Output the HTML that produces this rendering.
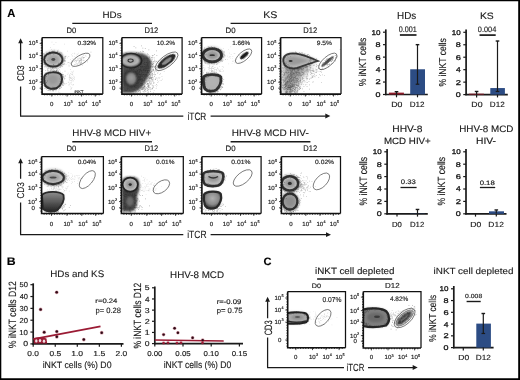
<!DOCTYPE html>
<html><head><meta charset="utf-8"><style>
html,body{margin:0;padding:0;background:#fff;width:520px;height:380px;overflow:hidden;}
svg{display:block;font-family:"Liberation Sans", sans-serif;filter:blur(0.3px);text-rendering:geometricPrecision;}
</style></head><body>
<svg width="520" height="380" viewBox="0 0 520 380">
<rect width="520" height="380" fill="#fff"/>
<defs><filter id="b05" x="-30%" y="-30%" width="160%" height="160%"><feGaussianBlur stdDeviation="0.5"/></filter><filter id="b06" x="-30%" y="-30%" width="160%" height="160%"><feGaussianBlur stdDeviation="0.8"/></filter><filter id="b10" x="-30%" y="-30%" width="160%" height="160%"><feGaussianBlur stdDeviation="1.1"/></filter><filter id="b15" x="-50%" y="-50%" width="200%" height="200%"><feGaussianBlur stdDeviation="1.5"/></filter><filter id="b3" x="-50%" y="-50%" width="200%" height="200%"><feGaussianBlur stdDeviation="3"/></filter><linearGradient id="gcup" x1="0" y1="0" x2="0" y2="1"><stop offset="0" stop-color="#8e8e8e"/><stop offset="0.5" stop-color="#5a5a5a"/><stop offset="1" stop-color="#222"/></linearGradient><radialGradient id="gsoft2" cx="50%" cy="40%" r="60%"><stop offset="0" stop-color="#b0b0b0"/><stop offset="0.6" stop-color="#8a8a8a"/><stop offset="1" stop-color="#333"/></radialGradient><radialGradient id="gsoft" cx="50%" cy="45%" r="55%"><stop offset="0" stop-color="#8a8a8a"/><stop offset="0.7" stop-color="#555"/><stop offset="1" stop-color="#2a2a2a"/></radialGradient></defs>
<path d="M0 0H520V380H0Z M1.3 1.3V378.3H518.2V1.3Z" fill="#000" fill-rule="evenodd"/>
<text transform="matrix(0.9655,0,0,1,7.27,16.85)" font-size="11.594" font-weight="bold" fill="#000" stroke="#000" stroke-width="0.12">A</text>
<text transform="matrix(1.1163,0,0,1,6.75,265.05)" font-size="11.014" font-weight="bold" fill="#000" stroke="#000" stroke-width="0.12">B</text>
<text transform="matrix(1.0412,0,0,1,263.40,264.94)" font-size="10.704" font-weight="bold" fill="#000" stroke="#000" stroke-width="0.12">C</text>
<line x1="72.30" y1="23.40" x2="152.00" y2="23.40" stroke="#1a1a1a" stroke-width="1.4"/>
<line x1="230.60" y1="23.40" x2="310.40" y2="23.40" stroke="#1a1a1a" stroke-width="1.4"/>
<text transform="matrix(0.9770,0,0,1,66.53,32.57)" font-size="7.887" fill="#1a1a1a" stroke="#1a1a1a" stroke-width="0.15">D0</text>
<text transform="matrix(0.9292,0,0,1,144.44,32.85)" font-size="8.143" fill="#1a1a1a" stroke="#1a1a1a" stroke-width="0.15">D12</text>
<text transform="matrix(0.9989,0,0,1,225.52,32.57)" font-size="7.887" fill="#1a1a1a" stroke="#1a1a1a" stroke-width="0.15">D0</text>
<text transform="matrix(0.9292,0,0,1,303.34,32.85)" font-size="8.143" fill="#1a1a1a" stroke="#1a1a1a" stroke-width="0.15">D12</text>
<line x1="72.30" y1="141.70" x2="152.00" y2="141.70" stroke="#1a1a1a" stroke-width="1.4"/>
<line x1="230.60" y1="141.70" x2="310.40" y2="141.70" stroke="#1a1a1a" stroke-width="1.4"/>
<text transform="matrix(0.9770,0,0,1,66.53,150.87)" font-size="7.887" fill="#1a1a1a" stroke="#1a1a1a" stroke-width="0.15">D0</text>
<text transform="matrix(0.9292,0,0,1,144.44,151.15)" font-size="8.143" fill="#1a1a1a" stroke="#1a1a1a" stroke-width="0.15">D12</text>
<text transform="matrix(0.9989,0,0,1,225.52,150.87)" font-size="7.887" fill="#1a1a1a" stroke="#1a1a1a" stroke-width="0.15">D0</text>
<text transform="matrix(0.9292,0,0,1,303.34,151.15)" font-size="8.143" fill="#1a1a1a" stroke="#1a1a1a" stroke-width="0.15">D12</text>
<text transform="matrix(1.0593,0,0,1,102.46,17.66)" font-size="9.286" fill="#1a1a1a" stroke="#1a1a1a" stroke-width="0.12">HDs</text>
<text transform="matrix(1.1091,0,0,1,263.30,17.75)" font-size="9.577" fill="#1a1a1a" stroke="#1a1a1a" stroke-width="0.12">KS</text>
<text transform="matrix(1.0409,0,0,1,72.36,135.86)" font-size="9.437" fill="#1a1a1a" stroke="#1a1a1a" stroke-width="0.12">HHV-8 MCD HIV+</text>
<text transform="matrix(1.0583,0,0,1,231.75,135.86)" font-size="9.437" fill="#1a1a1a" stroke="#1a1a1a" stroke-width="0.12">HHV-8 MCD HIV-</text>
<path d="M20.6 42.7 V59.8 M20.6 86.6 V116.0 H183.3 M210.6 116.0 H325.8" stroke="#1a1a1a" stroke-width="1.25" fill="none"/>
<path d="M20.6 38.2 l-2.4 5 h4.8 z" fill="#1a1a1a"/>
<path d="M330.3 116.0 l-5 -2.4 v4.8 z" fill="#1a1a1a"/>
<text transform="translate(24.05,81.04) rotate(-90) scale(0.7987,1)" font-size="9.859" fill="#1a1a1a" stroke="#1a1a1a" stroke-width="0.12">CD3</text>
<text transform="matrix(0.7791,0,0,1,187.51,119.54)" font-size="10.612" fill="#1a1a1a" stroke="#1a1a1a" stroke-width="0.12">iTCR</text>
<path d="M20.6 162.8 V178.8 M20.6 202.4 V234.7 H183.3 M210.6 234.7 H326.5" stroke="#1a1a1a" stroke-width="1.25" fill="none"/>
<path d="M20.6 158.3 l-2.4 5 h4.8 z" fill="#1a1a1a"/>
<path d="M331.0 234.7 l-5 -2.4 v4.8 z" fill="#1a1a1a"/>
<text transform="translate(24.05,198.56) rotate(-90) scale(0.8306,1)" font-size="9.859" fill="#1a1a1a" stroke="#1a1a1a" stroke-width="0.12">CD3</text>
<text transform="matrix(0.8113,0,0,1,187.20,238.35)" font-size="10.476" fill="#1a1a1a" stroke="#1a1a1a" stroke-width="0.12">iTCR</text>
<clipPath id="c31"><rect x="42.1" y="37.6" width="60.699999999999996" height="56.49999999999999"/></clipPath>
<g clip-path="url(#c31)">
<path d="M53.2 88.3h0.7v0.7h-0.7zM61.6 65.9h0.7v0.7h-0.7zM50.9 65.7h0.7v0.7h-0.7zM57.0 71.3h0.7v0.7h-0.7zM58.2 49.8h0.7v0.7h-0.7zM64.0 70.8h0.7v0.7h-0.7zM57.8 70.4h0.7v0.7h-0.7zM50.3 77.6h0.7v0.7h-0.7zM58.8 69.6h0.7v0.7h-0.7zM51.9 80.2h0.7v0.7h-0.7zM46.9 53.8h0.7v0.7h-0.7zM55.8 64.0h0.7v0.7h-0.7zM39.6 62.2h0.7v0.7h-0.7zM49.7 57.7h0.7v0.7h-0.7zM42.6 72.4h0.7v0.7h-0.7zM59.3 69.2h0.7v0.7h-0.7zM47.8 76.6h0.7v0.7h-0.7zM58.0 68.4h0.7v0.7h-0.7zM56.8 84.5h0.7v0.7h-0.7zM51.6 62.2h0.7v0.7h-0.7zM55.4 75.0h0.7v0.7h-0.7zM60.7 56.6h0.7v0.7h-0.7zM48.4 61.9h0.7v0.7h-0.7zM40.9 73.5h0.7v0.7h-0.7zM56.7 63.1h0.7v0.7h-0.7zM62.7 81.9h0.7v0.7h-0.7zM57.4 76.8h0.7v0.7h-0.7zM59.7 56.0h0.7v0.7h-0.7zM57.3 79.2h0.7v0.7h-0.7zM40.6 76.2h0.7v0.7h-0.7zM51.2 81.4h0.7v0.7h-0.7zM49.9 71.8h0.7v0.7h-0.7zM55.4 61.5h0.7v0.7h-0.7zM57.2 70.7h0.7v0.7h-0.7zM56.4 65.7h0.7v0.7h-0.7zM60.6 79.3h0.7v0.7h-0.7zM51.8 79.6h0.7v0.7h-0.7zM61.8 93.5h0.7v0.7h-0.7zM42.0 82.6h0.7v0.7h-0.7zM56.3 70.9h0.7v0.7h-0.7zM46.0 87.1h0.7v0.7h-0.7zM44.2 78.8h0.7v0.7h-0.7zM62.1 52.8h0.7v0.7h-0.7zM50.9 56.3h0.7v0.7h-0.7zM54.7 90.2h0.7v0.7h-0.7zM67.2 50.7h0.7v0.7h-0.7zM49.0 80.4h0.7v0.7h-0.7zM64.1 77.1h0.7v0.7h-0.7zM47.8 75.6h0.7v0.7h-0.7zM52.9 69.6h0.7v0.7h-0.7zM47.9 76.6h0.7v0.7h-0.7zM55.2 70.9h0.7v0.7h-0.7zM51.4 56.6h0.7v0.7h-0.7zM49.6 86.5h0.7v0.7h-0.7zM51.7 54.7h0.7v0.7h-0.7zM62.3 78.4h0.7v0.7h-0.7zM67.8 72.8h0.7v0.7h-0.7zM49.8 54.6h0.7v0.7h-0.7zM62.3 102.8h0.7v0.7h-0.7zM47.3 64.2h0.7v0.7h-0.7zM57.2 62.0h0.7v0.7h-0.7zM51.1 67.8h0.7v0.7h-0.7zM54.3 85.1h0.7v0.7h-0.7zM53.2 83.0h0.7v0.7h-0.7zM50.1 75.9h0.7v0.7h-0.7zM38.0 54.6h0.7v0.7h-0.7zM58.6 64.9h0.7v0.7h-0.7zM57.1 78.5h0.7v0.7h-0.7zM62.3 81.7h0.7v0.7h-0.7zM60.1 70.7h0.7v0.7h-0.7zM48.1 63.2h0.7v0.7h-0.7zM49.6 58.4h0.7v0.7h-0.7zM49.2 70.9h0.7v0.7h-0.7zM54.8 67.9h0.7v0.7h-0.7zM39.5 71.1h0.7v0.7h-0.7zM54.6 85.0h0.7v0.7h-0.7zM57.0 64.3h0.7v0.7h-0.7zM47.9 96.1h0.7v0.7h-0.7zM58.3 94.0h0.7v0.7h-0.7zM67.9 62.2h0.7v0.7h-0.7zM55.7 77.5h0.7v0.7h-0.7zM56.9 78.5h0.7v0.7h-0.7zM54.4 74.1h0.7v0.7h-0.7zM42.5 70.0h0.7v0.7h-0.7zM47.8 73.5h0.7v0.7h-0.7zM49.7 79.4h0.7v0.7h-0.7zM58.7 75.7h0.7v0.7h-0.7zM55.2 73.1h0.7v0.7h-0.7zM49.9 70.0h0.7v0.7h-0.7zM49.5 76.7h0.7v0.7h-0.7zM53.1 79.0h0.7v0.7h-0.7zM43.7 82.7h0.7v0.7h-0.7zM47.7 63.2h0.7v0.7h-0.7zM51.6 65.2h0.7v0.7h-0.7zM55.0 65.1h0.7v0.7h-0.7zM45.5 61.9h0.7v0.7h-0.7zM62.2 72.5h0.7v0.7h-0.7zM44.8 72.1h0.7v0.7h-0.7zM42.1 93.5h0.7v0.7h-0.7zM42.3 77.7h0.7v0.7h-0.7zM56.8 54.6h0.7v0.7h-0.7zM55.1 84.0h0.7v0.7h-0.7zM56.3 75.1h0.7v0.7h-0.7zM59.6 73.9h0.7v0.7h-0.7zM55.4 70.5h0.7v0.7h-0.7zM57.4 60.7h0.7v0.7h-0.7zM58.5 65.9h0.7v0.7h-0.7zM45.4 76.4h0.7v0.7h-0.7zM64.9 83.5h0.7v0.7h-0.7zM49.4 80.4h0.7v0.7h-0.7zM49.8 70.5h0.7v0.7h-0.7zM53.6 44.2h0.7v0.7h-0.7zM54.3 59.6h0.7v0.7h-0.7zM48.1 54.3h0.7v0.7h-0.7zM42.4 60.7h0.7v0.7h-0.7zM58.8 92.0h0.7v0.7h-0.7zM52.8 85.1h0.7v0.7h-0.7zM51.2 49.1h0.7v0.7h-0.7zM54.0 77.3h0.7v0.7h-0.7zM50.0 75.6h0.7v0.7h-0.7zM57.0 61.6h0.7v0.7h-0.7zM42.7 69.3h0.7v0.7h-0.7zM51.5 67.8h0.7v0.7h-0.7zM59.9 92.7h0.7v0.7h-0.7zM50.1 80.4h0.7v0.7h-0.7zM59.6 80.6h0.7v0.7h-0.7zM60.3 67.3h0.7v0.7h-0.7zM58.2 96.3h0.7v0.7h-0.7zM58.6 64.6h0.7v0.7h-0.7zM57.3 87.1h0.7v0.7h-0.7zM55.6 65.2h0.7v0.7h-0.7zM63.8 57.0h0.7v0.7h-0.7zM56.5 71.8h0.7v0.7h-0.7zM44.6 86.6h0.7v0.7h-0.7zM55.4 58.0h0.7v0.7h-0.7zM57.2 66.8h0.7v0.7h-0.7zM39.7 63.7h0.7v0.7h-0.7zM54.8 79.6h0.7v0.7h-0.7zM54.2 72.5h0.7v0.7h-0.7zM56.3 69.5h0.7v0.7h-0.7zM61.2 73.8h0.7v0.7h-0.7zM55.1 78.5h0.7v0.7h-0.7zM45.6 63.5h0.7v0.7h-0.7zM63.7 76.0h0.7v0.7h-0.7zM51.0 76.1h0.7v0.7h-0.7zM49.6 75.3h0.7v0.7h-0.7zM48.3 75.3h0.7v0.7h-0.7zM42.0 88.0h0.7v0.7h-0.7zM49.4 53.0h0.7v0.7h-0.7zM51.4 67.5h0.7v0.7h-0.7zM54.1 58.3h0.7v0.7h-0.7zM55.8 115.5h0.7v0.7h-0.7zM44.0 76.1h0.7v0.7h-0.7zM50.8 74.3h0.7v0.7h-0.7zM40.3 58.2h0.7v0.7h-0.7zM56.2 71.5h0.7v0.7h-0.7zM64.4 63.5h0.7v0.7h-0.7zM54.2 107.0h0.7v0.7h-0.7zM47.6 61.2h0.7v0.7h-0.7zM52.8 71.5h0.7v0.7h-0.7zM58.9 73.6h0.7v0.7h-0.7zM47.7 74.5h0.7v0.7h-0.7zM71.5 87.3h0.7v0.7h-0.7zM33.5 70.3h0.7v0.7h-0.7zM46.9 79.5h0.7v0.7h-0.7zM51.8 95.2h0.7v0.7h-0.7zM59.5 82.7h0.7v0.7h-0.7zM54.3 71.5h0.7v0.7h-0.7zM55.4 87.5h0.7v0.7h-0.7zM56.7 67.8h0.7v0.7h-0.7zM61.9 74.3h0.7v0.7h-0.7zM52.5 62.5h0.7v0.7h-0.7zM49.0 64.4h0.7v0.7h-0.7zM33.5 84.2h0.7v0.7h-0.7zM57.0 69.4h0.7v0.7h-0.7zM60.3 77.3h0.7v0.7h-0.7zM55.6 42.3h0.7v0.7h-0.7zM51.4 78.4h0.7v0.7h-0.7zM64.3 94.1h0.7v0.7h-0.7zM63.0 58.1h0.7v0.7h-0.7zM37.6 78.8h0.7v0.7h-0.7zM53.2 83.6h0.7v0.7h-0.7zM52.1 74.6h0.7v0.7h-0.7zM42.5 77.4h0.7v0.7h-0.7zM49.9 76.2h0.7v0.7h-0.7zM56.2 70.6h0.7v0.7h-0.7zM55.2 71.8h0.7v0.7h-0.7zM58.3 78.0h0.7v0.7h-0.7zM49.2 64.9h0.7v0.7h-0.7zM65.2 70.8h0.7v0.7h-0.7zM59.9 76.7h0.7v0.7h-0.7zM49.1 63.0h0.7v0.7h-0.7zM53.8 75.1h0.7v0.7h-0.7zM57.3 56.8h0.7v0.7h-0.7zM48.8 70.9h0.7v0.7h-0.7zM64.2 43.7h0.7v0.7h-0.7zM56.1 65.5h0.7v0.7h-0.7zM56.0 66.1h0.7v0.7h-0.7zM55.6 90.8h0.7v0.7h-0.7zM55.5 77.2h0.7v0.7h-0.7zM55.6 63.0h0.7v0.7h-0.7zM56.8 69.5h0.7v0.7h-0.7zM47.3 71.5h0.7v0.7h-0.7zM51.4 81.0h0.7v0.7h-0.7zM52.7 65.6h0.7v0.7h-0.7zM63.2 83.9h0.7v0.7h-0.7zM61.9 79.3h0.7v0.7h-0.7zM52.2 67.0h0.7v0.7h-0.7zM51.0 83.4h0.7v0.7h-0.7zM53.8 54.2h0.7v0.7h-0.7zM52.7 55.0h0.7v0.7h-0.7zM54.2 57.6h0.7v0.7h-0.7zM44.2 73.4h0.7v0.7h-0.7zM52.5 52.1h0.7v0.7h-0.7zM58.2 98.0h0.7v0.7h-0.7zM42.6 93.8h0.7v0.7h-0.7zM48.2 66.1h0.7v0.7h-0.7zM51.7 54.7h0.7v0.7h-0.7zM62.1 77.9h0.7v0.7h-0.7zM47.7 68.7h0.7v0.7h-0.7zM42.4 67.8h0.7v0.7h-0.7zM59.6 51.4h0.7v0.7h-0.7zM49.9 73.8h0.7v0.7h-0.7zM60.3 88.2h0.7v0.7h-0.7zM49.8 63.1h0.7v0.7h-0.7zM56.2 67.6h0.7v0.7h-0.7zM50.8 85.0h0.7v0.7h-0.7zM64.8 75.2h0.7v0.7h-0.7zM51.7 78.9h0.7v0.7h-0.7zM39.8 71.8h0.7v0.7h-0.7zM45.6 100.7h0.7v0.7h-0.7zM58.0 73.7h0.7v0.7h-0.7zM51.6 41.8h0.7v0.7h-0.7zM58.0 91.6h0.7v0.7h-0.7zM47.9 80.2h0.7v0.7h-0.7zM58.1 53.4h0.7v0.7h-0.7zM59.6 88.3h0.7v0.7h-0.7zM54.6 71.2h0.7v0.7h-0.7zM58.5 53.5h0.7v0.7h-0.7zM53.7 84.7h0.7v0.7h-0.7zM44.3 83.9h0.7v0.7h-0.7zM50.1 47.0h0.7v0.7h-0.7zM52.3 60.3h0.7v0.7h-0.7zM55.2 57.9h0.7v0.7h-0.7zM60.4 63.1h0.7v0.7h-0.7zM55.5 64.9h0.7v0.7h-0.7zM50.7 86.3h0.7v0.7h-0.7zM54.5 67.3h0.7v0.7h-0.7zM44.2 85.9h0.7v0.7h-0.7zM58.1 68.1h0.7v0.7h-0.7z" fill="#666" fill-opacity="0.3"/>
<path d="M71.9 55.9h0.7v0.7h-0.7zM61.9 56.7h0.7v0.7h-0.7zM72.8 61.2h0.7v0.7h-0.7zM64.0 63.0h0.7v0.7h-0.7zM76.3 60.7h0.7v0.7h-0.7zM78.3 58.9h0.7v0.7h-0.7zM69.1 61.9h0.7v0.7h-0.7zM69.7 63.2h0.7v0.7h-0.7zM60.0 65.7h0.7v0.7h-0.7zM63.7 59.3h0.7v0.7h-0.7zM59.0 62.4h0.7v0.7h-0.7zM80.2 64.3h0.7v0.7h-0.7zM76.7 53.8h0.7v0.7h-0.7zM63.7 58.1h0.7v0.7h-0.7zM62.5 64.5h0.7v0.7h-0.7zM71.5 59.9h0.7v0.7h-0.7zM73.9 56.2h0.7v0.7h-0.7zM62.7 56.5h0.7v0.7h-0.7zM74.0 61.4h0.7v0.7h-0.7zM74.6 64.3h0.7v0.7h-0.7zM59.1 57.8h0.7v0.7h-0.7zM71.2 54.6h0.7v0.7h-0.7zM65.7 64.1h0.7v0.7h-0.7zM78.8 64.3h0.7v0.7h-0.7zM70.3 59.2h0.7v0.7h-0.7zM78.6 58.5h0.7v0.7h-0.7zM72.7 65.3h0.7v0.7h-0.7zM67.1 57.6h0.7v0.7h-0.7zM69.9 62.4h0.7v0.7h-0.7zM73.9 60.6h0.7v0.7h-0.7zM74.5 53.6h0.7v0.7h-0.7zM63.1 60.7h0.7v0.7h-0.7zM62.6 54.6h0.7v0.7h-0.7zM60.3 56.3h0.7v0.7h-0.7zM68.6 55.9h0.7v0.7h-0.7zM71.9 66.8h0.7v0.7h-0.7zM68.8 65.1h0.7v0.7h-0.7zM72.3 55.5h0.7v0.7h-0.7zM67.9 56.1h0.7v0.7h-0.7zM76.1 55.4h0.7v0.7h-0.7zM80.6 62.3h0.7v0.7h-0.7zM53.8 63.1h0.7v0.7h-0.7zM82.4 56.8h0.7v0.7h-0.7zM77.9 52.8h0.7v0.7h-0.7zM72.0 53.4h0.7v0.7h-0.7zM73.9 52.8h0.7v0.7h-0.7zM48.9 61.6h0.7v0.7h-0.7zM88.3 57.6h0.7v0.7h-0.7zM76.6 60.4h0.7v0.7h-0.7zM67.4 62.5h0.7v0.7h-0.7zM83.1 55.1h0.7v0.7h-0.7zM74.5 61.4h0.7v0.7h-0.7zM58.6 66.5h0.7v0.7h-0.7zM85.6 56.2h0.7v0.7h-0.7zM83.9 60.2h0.7v0.7h-0.7zM68.7 66.0h0.7v0.7h-0.7zM71.8 61.3h0.7v0.7h-0.7zM82.1 65.2h0.7v0.7h-0.7zM77.1 54.4h0.7v0.7h-0.7zM57.4 64.5h0.7v0.7h-0.7zM62.6 60.6h0.7v0.7h-0.7zM61.4 59.3h0.7v0.7h-0.7zM59.8 66.5h0.7v0.7h-0.7zM61.8 59.5h0.7v0.7h-0.7zM68.5 64.8h0.7v0.7h-0.7zM58.6 59.9h0.7v0.7h-0.7zM68.3 62.1h0.7v0.7h-0.7zM73.8 58.1h0.7v0.7h-0.7zM71.9 58.5h0.7v0.7h-0.7zM73.7 59.6h0.7v0.7h-0.7z" fill="#777" fill-opacity="0.3"/>
<path d="M69.3 78.9h0.7v0.7h-0.7zM71.2 88.1h0.7v0.7h-0.7zM69.6 80.2h0.7v0.7h-0.7zM73.1 70.7h0.7v0.7h-0.7zM67.4 74.2h0.7v0.7h-0.7zM70.3 88.8h0.7v0.7h-0.7zM71.2 83.8h0.7v0.7h-0.7zM70.1 69.1h0.7v0.7h-0.7zM66.3 83.1h0.7v0.7h-0.7zM70.8 73.8h0.7v0.7h-0.7zM72.5 72.8h0.7v0.7h-0.7zM72.5 84.8h0.7v0.7h-0.7zM69.1 74.6h0.7v0.7h-0.7zM72.0 74.6h0.7v0.7h-0.7zM72.1 74.2h0.7v0.7h-0.7zM72.0 79.4h0.7v0.7h-0.7zM69.7 75.4h0.7v0.7h-0.7zM70.9 71.4h0.7v0.7h-0.7zM70.0 77.4h0.7v0.7h-0.7zM71.7 74.0h0.7v0.7h-0.7zM73.6 77.8h0.7v0.7h-0.7zM68.5 84.5h0.7v0.7h-0.7zM73.5 78.2h0.7v0.7h-0.7zM68.9 79.1h0.7v0.7h-0.7zM69.3 77.8h0.7v0.7h-0.7zM73.3 80.6h0.7v0.7h-0.7zM70.8 80.4h0.7v0.7h-0.7zM70.4 82.4h0.7v0.7h-0.7zM72.1 77.5h0.7v0.7h-0.7zM70.7 88.7h0.7v0.7h-0.7zM71.3 78.3h0.7v0.7h-0.7zM74.2 79.0h0.7v0.7h-0.7zM68.5 81.7h0.7v0.7h-0.7zM68.9 77.0h0.7v0.7h-0.7zM71.1 78.5h0.7v0.7h-0.7zM69.1 76.8h0.7v0.7h-0.7zM69.4 83.7h0.7v0.7h-0.7zM69.2 76.7h0.7v0.7h-0.7zM74.2 76.8h0.7v0.7h-0.7zM73.2 84.3h0.7v0.7h-0.7zM70.2 73.3h0.7v0.7h-0.7zM71.3 81.7h0.7v0.7h-0.7zM72.2 79.3h0.7v0.7h-0.7zM72.7 84.6h0.7v0.7h-0.7zM68.6 84.7h0.7v0.7h-0.7zM70.8 76.7h0.7v0.7h-0.7zM69.9 86.5h0.7v0.7h-0.7zM72.3 71.8h0.7v0.7h-0.7zM70.7 78.4h0.7v0.7h-0.7zM70.2 76.9h0.7v0.7h-0.7zM67.9 82.4h0.7v0.7h-0.7zM68.8 77.5h0.7v0.7h-0.7zM69.4 76.1h0.7v0.7h-0.7zM71.8 80.5h0.7v0.7h-0.7zM69.3 75.2h0.7v0.7h-0.7zM69.7 82.9h0.7v0.7h-0.7zM70.7 79.9h0.7v0.7h-0.7zM69.9 78.0h0.7v0.7h-0.7zM70.9 71.6h0.7v0.7h-0.7zM73.4 75.8h0.7v0.7h-0.7z" fill="#888" fill-opacity="0.4"/>
<ellipse cx="53.30" cy="59.50" rx="10.80" ry="8.60" fill="#555" filter="url(#b15)" opacity="0.45"/>
<ellipse cx="53.30" cy="59.50" rx="9.20" ry="7.00" fill="#bababa" stroke="#333" stroke-width="1.9" filter="url(#b05)"/>
<ellipse cx="53.30" cy="59.50" rx="5.70" ry="4.20" fill="#a2a2a2" filter="url(#b06)"/>
<ellipse cx="53.30" cy="59.50" rx="2.02" ry="1.40" fill="#4a4a4a" filter="url(#b05)"/>
<path d="M47.6 52.3h0.8v0.8h-0.8zM45.9 56.5h0.8v0.8h-0.8zM43.0 58.8h0.8v0.8h-0.8zM46.6 54.1h0.8v0.8h-0.8zM43.1 56.9h0.8v0.8h-0.8zM47.9 66.4h0.8v0.8h-0.8zM48.1 54.5h0.8v0.8h-0.8zM60.0 62.5h0.8v0.8h-0.8zM44.6 60.4h0.8v0.8h-0.8zM42.7 62.0h0.8v0.8h-0.8zM55.7 67.6h0.8v0.8h-0.8zM43.6 56.0h0.8v0.8h-0.8zM49.7 54.4h0.8v0.8h-0.8zM58.0 63.2h0.8v0.8h-0.8zM50.6 66.5h0.8v0.8h-0.8zM62.3 62.4h0.8v0.8h-0.8zM45.7 55.3h0.8v0.8h-0.8zM62.5 63.6h0.8v0.8h-0.8zM54.6 67.2h0.8v0.8h-0.8zM45.2 61.7h0.8v0.8h-0.8zM44.7 61.6h0.8v0.8h-0.8zM63.4 61.2h0.8v0.8h-0.8zM62.9 56.9h0.8v0.8h-0.8zM54.6 67.3h0.8v0.8h-0.8zM43.2 53.0h0.8v0.8h-0.8zM55.0 67.0h0.8v0.8h-0.8zM44.8 55.0h0.8v0.8h-0.8zM48.0 65.0h0.8v0.8h-0.8zM49.3 66.3h0.8v0.8h-0.8zM42.7 60.9h0.8v0.8h-0.8zM44.0 55.1h0.8v0.8h-0.8zM45.2 55.0h0.8v0.8h-0.8zM49.3 51.8h0.8v0.8h-0.8zM52.1 67.4h0.8v0.8h-0.8zM59.7 62.8h0.8v0.8h-0.8zM53.2 64.1h0.8v0.8h-0.8zM47.2 68.6h0.8v0.8h-0.8zM44.6 54.0h0.8v0.8h-0.8zM44.7 63.5h0.8v0.8h-0.8zM50.4 65.2h0.8v0.8h-0.8zM60.2 63.3h0.8v0.8h-0.8zM43.6 54.2h0.8v0.8h-0.8zM58.3 62.7h0.8v0.8h-0.8zM43.7 58.7h0.8v0.8h-0.8zM49.1 51.4h0.8v0.8h-0.8zM45.9 53.9h0.8v0.8h-0.8zM59.3 66.8h0.8v0.8h-0.8zM47.2 65.6h0.8v0.8h-0.8zM65.6 55.8h0.8v0.8h-0.8zM60.7 63.2h0.8v0.8h-0.8zM49.7 53.6h0.8v0.8h-0.8zM43.7 62.7h0.8v0.8h-0.8zM44.3 53.4h0.8v0.8h-0.8zM45.4 64.4h0.8v0.8h-0.8zM61.5 65.8h0.8v0.8h-0.8zM44.6 56.7h0.8v0.8h-0.8zM61.9 59.8h0.8v0.8h-0.8zM61.1 52.5h0.8v0.8h-0.8zM57.0 50.4h0.8v0.8h-0.8zM44.8 66.2h0.8v0.8h-0.8zM44.0 57.8h0.8v0.8h-0.8zM44.8 58.3h0.8v0.8h-0.8zM61.8 58.6h0.8v0.8h-0.8zM62.7 61.6h0.8v0.8h-0.8zM50.1 67.6h0.8v0.8h-0.8zM44.3 64.1h0.8v0.8h-0.8zM55.2 53.2h0.8v0.8h-0.8zM52.0 51.5h0.8v0.8h-0.8zM44.3 63.2h0.8v0.8h-0.8zM63.5 60.1h0.8v0.8h-0.8zM47.3 53.2h0.8v0.8h-0.8zM45.1 63.8h0.8v0.8h-0.8zM61.4 65.2h0.8v0.8h-0.8zM46.3 53.6h0.8v0.8h-0.8zM43.5 62.3h0.8v0.8h-0.8zM50.1 66.3h0.8v0.8h-0.8zM52.0 67.7h0.8v0.8h-0.8zM43.4 58.5h0.8v0.8h-0.8zM53.4 65.2h0.8v0.8h-0.8zM44.9 64.7h0.8v0.8h-0.8zM62.4 56.8h0.8v0.8h-0.8zM42.1 60.7h0.8v0.8h-0.8zM53.1 67.2h0.8v0.8h-0.8zM43.4 58.5h0.8v0.8h-0.8zM62.3 55.5h0.8v0.8h-0.8zM60.0 53.6h0.8v0.8h-0.8zM49.1 52.8h0.8v0.8h-0.8zM59.6 55.9h0.8v0.8h-0.8zM53.8 49.7h0.8v0.8h-0.8zM49.9 53.8h0.8v0.8h-0.8zM44.6 62.8h0.8v0.8h-0.8zM59.8 66.4h0.8v0.8h-0.8zM52.1 51.3h0.8v0.8h-0.8zM46.1 53.2h0.8v0.8h-0.8zM64.2 57.8h0.8v0.8h-0.8zM48.2 67.8h0.8v0.8h-0.8zM60.8 53.8h0.8v0.8h-0.8zM56.0 70.1h0.8v0.8h-0.8zM61.6 57.2h0.8v0.8h-0.8zM63.7 59.3h0.8v0.8h-0.8zM62.5 61.7h0.8v0.8h-0.8zM49.1 66.1h0.8v0.8h-0.8zM63.8 59.4h0.8v0.8h-0.8zM65.1 57.6h0.8v0.8h-0.8zM48.9 53.2h0.8v0.8h-0.8zM59.4 64.9h0.8v0.8h-0.8zM64.3 59.9h0.8v0.8h-0.8zM53.4 68.0h0.8v0.8h-0.8zM65.2 56.1h0.8v0.8h-0.8zM57.2 51.1h0.8v0.8h-0.8zM43.9 63.0h0.8v0.8h-0.8zM54.0 52.0h0.8v0.8h-0.8zM61.8 54.8h0.8v0.8h-0.8zM50.3 66.8h0.8v0.8h-0.8zM59.2 54.9h0.8v0.8h-0.8zM52.1 67.3h0.8v0.8h-0.8zM48.6 66.3h0.8v0.8h-0.8zM62.7 61.6h0.8v0.8h-0.8zM58.4 65.8h0.8v0.8h-0.8zM41.6 56.5h0.8v0.8h-0.8zM64.2 60.8h0.8v0.8h-0.8zM42.4 57.0h0.8v0.8h-0.8zM57.8 65.9h0.8v0.8h-0.8zM53.2 52.6h0.8v0.8h-0.8zM60.1 65.0h0.8v0.8h-0.8zM56.1 67.4h0.8v0.8h-0.8zM52.2 67.0h0.8v0.8h-0.8zM44.7 55.7h0.8v0.8h-0.8zM57.4 51.2h0.8v0.8h-0.8zM53.5 51.3h0.8v0.8h-0.8zM52.8 52.6h0.8v0.8h-0.8zM49.3 52.7h0.8v0.8h-0.8zM44.4 57.6h0.8v0.8h-0.8zM47.6 66.3h0.8v0.8h-0.8zM57.0 65.6h0.8v0.8h-0.8zM59.8 53.7h0.8v0.8h-0.8zM44.0 64.1h0.8v0.8h-0.8zM47.4 53.1h0.8v0.8h-0.8zM61.4 62.4h0.8v0.8h-0.8zM47.3 65.1h0.8v0.8h-0.8zM61.6 64.2h0.8v0.8h-0.8zM46.7 66.1h0.8v0.8h-0.8zM52.1 50.8h0.8v0.8h-0.8zM47.9 66.0h0.8v0.8h-0.8zM49.8 53.5h0.8v0.8h-0.8zM61.8 66.0h0.8v0.8h-0.8zM45.4 64.9h0.8v0.8h-0.8zM44.3 64.0h0.8v0.8h-0.8zM42.8 59.0h0.8v0.8h-0.8zM54.5 66.3h0.8v0.8h-0.8zM50.2 52.3h0.8v0.8h-0.8zM61.0 54.0h0.8v0.8h-0.8zM57.7 51.2h0.8v0.8h-0.8zM63.3 61.0h0.8v0.8h-0.8zM47.3 59.9h0.8v0.8h-0.8zM47.8 65.9h0.8v0.8h-0.8zM43.8 55.9h0.8v0.8h-0.8zM63.5 64.1h0.8v0.8h-0.8zM51.9 50.9h0.8v0.8h-0.8zM41.7 64.7h0.8v0.8h-0.8zM64.5 56.3h0.8v0.8h-0.8zM65.1 60.6h0.8v0.8h-0.8zM43.5 63.9h0.8v0.8h-0.8zM45.0 60.0h0.8v0.8h-0.8zM58.8 51.9h0.8v0.8h-0.8zM53.7 51.0h0.8v0.8h-0.8zM57.2 66.2h0.8v0.8h-0.8zM49.4 67.4h0.8v0.8h-0.8zM52.3 51.2h0.8v0.8h-0.8zM45.0 63.1h0.8v0.8h-0.8zM52.5 67.2h0.8v0.8h-0.8zM62.1 56.3h0.8v0.8h-0.8zM59.0 52.7h0.8v0.8h-0.8zM47.4 65.4h0.8v0.8h-0.8zM43.0 56.9h0.8v0.8h-0.8zM60.2 56.9h0.8v0.8h-0.8zM55.3 66.9h0.8v0.8h-0.8zM60.0 56.2h0.8v0.8h-0.8zM60.4 54.6h0.8v0.8h-0.8zM51.7 51.2h0.8v0.8h-0.8zM49.3 52.2h0.8v0.8h-0.8zM49.3 52.4h0.8v0.8h-0.8zM43.5 57.3h0.8v0.8h-0.8zM42.7 54.8h0.8v0.8h-0.8zM56.1 65.9h0.8v0.8h-0.8zM42.9 56.1h0.8v0.8h-0.8zM49.5 53.9h0.8v0.8h-0.8zM43.8 60.2h0.8v0.8h-0.8zM48.9 52.2h0.8v0.8h-0.8zM44.6 61.3h0.8v0.8h-0.8zM56.7 51.8h0.8v0.8h-0.8zM51.3 51.0h0.8v0.8h-0.8zM60.5 63.0h0.8v0.8h-0.8zM54.5 51.7h0.8v0.8h-0.8zM51.2 66.8h0.8v0.8h-0.8zM59.9 62.4h0.8v0.8h-0.8zM60.4 64.8h0.8v0.8h-0.8zM49.2 65.8h0.8v0.8h-0.8zM41.6 58.1h0.8v0.8h-0.8zM49.0 65.6h0.8v0.8h-0.8zM56.8 68.7h0.8v0.8h-0.8zM54.4 52.2h0.8v0.8h-0.8zM44.4 66.5h0.8v0.8h-0.8zM60.9 53.5h0.8v0.8h-0.8zM53.7 67.9h0.8v0.8h-0.8zM49.2 51.4h0.8v0.8h-0.8zM46.3 66.4h0.8v0.8h-0.8zM60.3 51.9h0.8v0.8h-0.8zM45.8 51.8h0.8v0.8h-0.8zM49.1 52.7h0.8v0.8h-0.8zM60.4 63.2h0.8v0.8h-0.8zM53.4 54.3h0.8v0.8h-0.8zM47.4 65.4h0.8v0.8h-0.8zM52.6 50.8h0.8v0.8h-0.8zM59.3 52.7h0.8v0.8h-0.8zM60.7 65.1h0.8v0.8h-0.8zM62.9 60.2h0.8v0.8h-0.8zM53.8 52.3h0.8v0.8h-0.8zM62.8 58.0h0.8v0.8h-0.8zM61.9 54.6h0.8v0.8h-0.8z" fill="#222" fill-opacity="0.35"/>
<path d="M44.5 76 C46 71.5 59 71 61.5 75.5 C63 80 61.5 85.5 57 88 C53 89.5 48 89 45.5 86 C44 83 44 79 44.5 76 Z" fill="#555" filter="url(#b15)" opacity="0.35"/>
<path d="M44.5 76 C46 71.5 59 71 61.5 75.5 C63 80 61.5 85.5 57 88 C53 89.5 48 89 45.5 86 C44 83 44 79 44.5 76 Z" fill="#a6a6a6" stroke="#333" stroke-width="2.0" filter="url(#b05)"/>
<ellipse cx="52.80" cy="79.50" rx="5.00" ry="4.50" fill="#999" filter="url(#b06)"/>
<path d="M54.4 87.3h0.8v0.8h-0.8zM58.1 71.2h0.8v0.8h-0.8zM47.3 86.6h0.8v0.8h-0.8zM54.1 70.1h0.8v0.8h-0.8zM43.9 81.1h0.8v0.8h-0.8zM45.5 82.2h0.8v0.8h-0.8zM50.2 69.6h0.8v0.8h-0.8zM47.3 88.0h0.8v0.8h-0.8zM53.5 72.2h0.8v0.8h-0.8zM46.1 82.1h0.8v0.8h-0.8zM52.3 71.3h0.8v0.8h-0.8zM50.2 72.5h0.8v0.8h-0.8zM61.4 76.9h0.8v0.8h-0.8zM44.1 85.2h0.8v0.8h-0.8zM46.1 88.8h0.8v0.8h-0.8zM61.9 79.5h0.8v0.8h-0.8zM41.5 78.7h0.8v0.8h-0.8zM43.1 85.0h0.8v0.8h-0.8zM50.0 71.6h0.8v0.8h-0.8zM52.8 86.9h0.8v0.8h-0.8zM63.1 77.1h0.8v0.8h-0.8zM53.1 69.8h0.8v0.8h-0.8zM45.3 70.0h0.8v0.8h-0.8zM49.8 90.4h0.8v0.8h-0.8zM56.7 70.3h0.8v0.8h-0.8zM63.1 74.3h0.8v0.8h-0.8zM54.9 72.2h0.8v0.8h-0.8zM61.2 74.9h0.8v0.8h-0.8zM60.5 84.7h0.8v0.8h-0.8zM52.1 68.4h0.8v0.8h-0.8zM59.7 72.4h0.8v0.8h-0.8zM47.2 80.6h0.8v0.8h-0.8zM62.8 85.1h0.8v0.8h-0.8zM44.7 77.7h0.8v0.8h-0.8zM53.3 90.0h0.8v0.8h-0.8zM61.6 81.6h0.8v0.8h-0.8zM61.9 76.1h0.8v0.8h-0.8zM58.0 71.1h0.8v0.8h-0.8zM46.2 72.7h0.8v0.8h-0.8zM52.7 71.8h0.8v0.8h-0.8zM47.4 70.1h0.8v0.8h-0.8zM42.9 82.0h0.8v0.8h-0.8zM59.7 86.1h0.8v0.8h-0.8zM50.3 89.6h0.8v0.8h-0.8zM43.9 79.5h0.8v0.8h-0.8zM42.3 74.1h0.8v0.8h-0.8zM49.6 88.8h0.8v0.8h-0.8zM59.8 86.7h0.8v0.8h-0.8zM47.3 87.9h0.8v0.8h-0.8zM56.1 87.2h0.8v0.8h-0.8zM60.1 76.5h0.8v0.8h-0.8zM54.6 89.1h0.8v0.8h-0.8zM44.9 85.8h0.8v0.8h-0.8zM41.8 77.0h0.8v0.8h-0.8zM52.7 89.6h0.8v0.8h-0.8zM44.6 80.1h0.8v0.8h-0.8zM43.1 76.6h0.8v0.8h-0.8zM63.0 82.9h0.8v0.8h-0.8zM63.1 76.4h0.8v0.8h-0.8zM43.0 77.5h0.8v0.8h-0.8zM57.7 85.9h0.8v0.8h-0.8zM63.9 78.6h0.8v0.8h-0.8zM57.1 87.0h0.8v0.8h-0.8zM51.3 70.0h0.8v0.8h-0.8zM45.3 80.6h0.8v0.8h-0.8zM52.3 90.0h0.8v0.8h-0.8zM46.5 85.5h0.8v0.8h-0.8zM41.8 81.0h0.8v0.8h-0.8zM44.6 88.1h0.8v0.8h-0.8zM53.0 90.5h0.8v0.8h-0.8zM45.8 83.7h0.8v0.8h-0.8zM45.1 83.0h0.8v0.8h-0.8zM49.6 72.3h0.8v0.8h-0.8zM56.2 89.3h0.8v0.8h-0.8zM62.5 82.5h0.8v0.8h-0.8zM57.7 71.7h0.8v0.8h-0.8zM61.9 83.9h0.8v0.8h-0.8zM45.8 72.5h0.8v0.8h-0.8zM42.8 76.8h0.8v0.8h-0.8zM64.5 78.0h0.8v0.8h-0.8zM56.3 88.3h0.8v0.8h-0.8zM60.3 73.7h0.8v0.8h-0.8zM57.7 84.8h0.8v0.8h-0.8zM56.5 86.5h0.8v0.8h-0.8zM47.8 72.9h0.8v0.8h-0.8zM56.9 86.5h0.8v0.8h-0.8zM44.3 74.9h0.8v0.8h-0.8zM47.8 70.4h0.8v0.8h-0.8zM59.2 85.9h0.8v0.8h-0.8zM55.0 71.5h0.8v0.8h-0.8zM44.9 83.8h0.8v0.8h-0.8zM62.4 77.9h0.8v0.8h-0.8zM61.7 80.4h0.8v0.8h-0.8zM61.7 84.4h0.8v0.8h-0.8zM45.5 73.2h0.8v0.8h-0.8zM52.3 89.4h0.8v0.8h-0.8zM44.1 85.6h0.8v0.8h-0.8zM60.9 74.8h0.8v0.8h-0.8zM47.4 87.6h0.8v0.8h-0.8zM64.1 83.4h0.8v0.8h-0.8zM58.7 87.0h0.8v0.8h-0.8zM42.8 76.3h0.8v0.8h-0.8zM54.3 70.6h0.8v0.8h-0.8zM53.2 71.2h0.8v0.8h-0.8zM43.9 81.3h0.8v0.8h-0.8zM53.4 88.0h0.8v0.8h-0.8zM59.4 86.5h0.8v0.8h-0.8zM54.3 88.1h0.8v0.8h-0.8zM55.6 88.1h0.8v0.8h-0.8zM62.1 73.9h0.8v0.8h-0.8zM44.9 84.7h0.8v0.8h-0.8zM61.0 86.9h0.8v0.8h-0.8zM46.4 72.5h0.8v0.8h-0.8zM42.5 82.5h0.8v0.8h-0.8zM61.5 81.3h0.8v0.8h-0.8zM62.5 78.6h0.8v0.8h-0.8zM65.1 75.7h0.8v0.8h-0.8zM52.0 90.0h0.8v0.8h-0.8zM58.2 70.7h0.8v0.8h-0.8zM43.3 82.4h0.8v0.8h-0.8zM47.9 70.7h0.8v0.8h-0.8zM48.2 73.4h0.8v0.8h-0.8zM51.8 71.7h0.8v0.8h-0.8zM43.4 83.4h0.8v0.8h-0.8zM59.2 87.9h0.8v0.8h-0.8zM55.8 71.6h0.8v0.8h-0.8zM44.1 83.1h0.8v0.8h-0.8zM44.3 82.9h0.8v0.8h-0.8zM53.3 70.9h0.8v0.8h-0.8zM49.6 72.7h0.8v0.8h-0.8zM60.5 79.3h0.8v0.8h-0.8zM45.6 85.7h0.8v0.8h-0.8zM47.9 74.5h0.8v0.8h-0.8zM60.0 83.8h0.8v0.8h-0.8zM59.4 85.2h0.8v0.8h-0.8zM52.6 87.7h0.8v0.8h-0.8zM50.9 89.1h0.8v0.8h-0.8zM44.3 82.7h0.8v0.8h-0.8zM54.1 88.8h0.8v0.8h-0.8zM60.4 76.7h0.8v0.8h-0.8zM45.1 83.4h0.8v0.8h-0.8zM45.2 86.4h0.8v0.8h-0.8zM61.0 74.2h0.8v0.8h-0.8zM55.3 71.6h0.8v0.8h-0.8zM54.1 70.3h0.8v0.8h-0.8zM61.2 75.0h0.8v0.8h-0.8zM52.0 70.5h0.8v0.8h-0.8zM48.8 90.3h0.8v0.8h-0.8zM61.6 77.7h0.8v0.8h-0.8zM62.8 81.4h0.8v0.8h-0.8zM60.9 74.0h0.8v0.8h-0.8zM44.7 84.1h0.8v0.8h-0.8zM48.6 86.4h0.8v0.8h-0.8zM42.5 81.4h0.8v0.8h-0.8zM44.8 85.4h0.8v0.8h-0.8zM59.0 72.7h0.8v0.8h-0.8zM56.1 71.2h0.8v0.8h-0.8zM52.6 70.6h0.8v0.8h-0.8zM53.7 87.8h0.8v0.8h-0.8zM43.6 83.3h0.8v0.8h-0.8zM59.2 82.9h0.8v0.8h-0.8zM52.4 70.7h0.8v0.8h-0.8zM60.1 81.7h0.8v0.8h-0.8zM45.6 85.1h0.8v0.8h-0.8zM58.9 88.0h0.8v0.8h-0.8zM58.3 72.7h0.8v0.8h-0.8zM60.6 75.6h0.8v0.8h-0.8zM50.3 89.3h0.8v0.8h-0.8zM59.2 73.5h0.8v0.8h-0.8zM56.7 87.6h0.8v0.8h-0.8zM50.6 71.4h0.8v0.8h-0.8zM52.8 90.8h0.8v0.8h-0.8zM43.0 83.1h0.8v0.8h-0.8zM45.0 73.5h0.8v0.8h-0.8zM48.1 86.0h0.8v0.8h-0.8zM56.1 89.2h0.8v0.8h-0.8zM46.1 75.9h0.8v0.8h-0.8zM55.6 70.4h0.8v0.8h-0.8zM60.9 79.6h0.8v0.8h-0.8zM47.5 90.2h0.8v0.8h-0.8zM52.4 86.8h0.8v0.8h-0.8zM62.7 84.7h0.8v0.8h-0.8zM55.8 89.5h0.8v0.8h-0.8zM59.9 80.9h0.8v0.8h-0.8zM52.8 88.6h0.8v0.8h-0.8zM51.1 69.0h0.8v0.8h-0.8zM61.1 86.8h0.8v0.8h-0.8zM48.3 74.2h0.8v0.8h-0.8zM50.3 87.9h0.8v0.8h-0.8zM53.9 87.4h0.8v0.8h-0.8zM44.7 80.6h0.8v0.8h-0.8zM44.8 83.0h0.8v0.8h-0.8zM41.5 83.5h0.8v0.8h-0.8zM60.0 86.1h0.8v0.8h-0.8zM44.3 76.3h0.8v0.8h-0.8zM60.2 74.8h0.8v0.8h-0.8zM63.2 80.4h0.8v0.8h-0.8zM61.9 84.7h0.8v0.8h-0.8zM45.7 75.7h0.8v0.8h-0.8zM48.0 89.7h0.8v0.8h-0.8zM52.7 87.6h0.8v0.8h-0.8zM61.9 79.1h0.8v0.8h-0.8zM49.2 88.8h0.8v0.8h-0.8zM63.1 74.4h0.8v0.8h-0.8zM46.1 74.0h0.8v0.8h-0.8zM62.5 81.6h0.8v0.8h-0.8zM51.7 90.5h0.8v0.8h-0.8zM62.0 84.3h0.8v0.8h-0.8zM42.1 77.3h0.8v0.8h-0.8zM61.9 74.1h0.8v0.8h-0.8zM62.1 82.9h0.8v0.8h-0.8zM63.0 81.5h0.8v0.8h-0.8zM63.3 81.7h0.8v0.8h-0.8zM51.4 88.8h0.8v0.8h-0.8zM58.6 89.4h0.8v0.8h-0.8zM59.6 78.5h0.8v0.8h-0.8zM54.1 71.9h0.8v0.8h-0.8zM63.4 75.7h0.8v0.8h-0.8zM44.0 75.2h0.8v0.8h-0.8zM56.5 72.3h0.8v0.8h-0.8z" fill="#222" fill-opacity="0.35"/>
<path d="M82.6 60.4h0.7v0.7h-0.7zM78.7 62.1h0.7v0.7h-0.7zM79.6 59.9h0.7v0.7h-0.7zM80.8 61.4h0.7v0.7h-0.7zM75.6 61.9h0.7v0.7h-0.7zM81.8 56.6h0.7v0.7h-0.7zM74.6 64.2h0.7v0.7h-0.7zM80.1 59.6h0.7v0.7h-0.7zM80.0 58.1h0.7v0.7h-0.7zM90.6 51.7h0.7v0.7h-0.7zM77.4 58.8h0.7v0.7h-0.7zM79.9 62.8h0.7v0.7h-0.7zM80.8 60.5h0.7v0.7h-0.7zM79.8 63.4h0.7v0.7h-0.7zM79.8 57.7h0.7v0.7h-0.7zM82.9 57.5h0.7v0.7h-0.7zM82.7 58.5h0.7v0.7h-0.7zM81.3 59.3h0.7v0.7h-0.7zM75.5 59.8h0.7v0.7h-0.7zM83.9 57.3h0.7v0.7h-0.7zM80.9 58.5h0.7v0.7h-0.7zM71.3 62.7h0.7v0.7h-0.7zM84.9 55.4h0.7v0.7h-0.7zM77.5 58.6h0.7v0.7h-0.7zM77.9 60.5h0.7v0.7h-0.7zM79.3 60.2h0.7v0.7h-0.7zM77.3 60.4h0.7v0.7h-0.7zM80.4 60.2h0.7v0.7h-0.7zM81.1 62.5h0.7v0.7h-0.7zM81.1 59.5h0.7v0.7h-0.7zM78.5 62.7h0.7v0.7h-0.7zM74.9 59.9h0.7v0.7h-0.7zM76.9 62.9h0.7v0.7h-0.7zM76.8 64.2h0.7v0.7h-0.7zM78.8 57.7h0.7v0.7h-0.7zM80.8 62.7h0.7v0.7h-0.7zM75.8 60.0h0.7v0.7h-0.7zM83.2 60.4h0.7v0.7h-0.7zM83.8 57.0h0.7v0.7h-0.7zM81.2 59.8h0.7v0.7h-0.7zM86.5 60.0h0.7v0.7h-0.7zM80.8 61.8h0.7v0.7h-0.7zM79.3 61.4h0.7v0.7h-0.7zM75.9 60.9h0.7v0.7h-0.7zM81.0 57.6h0.7v0.7h-0.7zM83.1 57.0h0.7v0.7h-0.7zM80.4 59.5h0.7v0.7h-0.7zM79.0 60.7h0.7v0.7h-0.7zM86.9 61.5h0.7v0.7h-0.7zM75.8 62.9h0.7v0.7h-0.7z" fill="#666" fill-opacity="0.5"/>
</g>
<ellipse cx="80.60" cy="59.80" rx="10.60" ry="4.40" transform="rotate(-31 80.60 59.80)" fill="none" stroke="#444" stroke-width="0.65"/>
<path d="M39.7 43.4h2.4M39.7 55.6h2.4M39.7 68.7h2.4M39.7 82.2h2.4M39.7 88.2h2.4M40.8 40.1h1.3M40.8 42.7h1.3M40.8 45.3h1.3M40.8 47.9h1.3M40.8 50.5h1.3M40.8 53.1h1.3M40.8 55.7h1.3M40.8 58.3h1.3M40.8 60.9h1.3M40.8 63.5h1.3M40.8 66.1h1.3M40.8 68.7h1.3M40.8 71.3h1.3M40.8 73.9h1.3M40.8 76.5h1.3M40.8 79.1h1.3M40.8 81.7h1.3M40.8 84.3h1.3M40.8 86.9h1.3M40.8 89.5h1.3M40.8 92.1h1.3M51.8 94.1v2.4M67.1 94.1v2.4M81.6 94.1v2.4M95.3 94.1v2.4M44.6 94.1v1.3M47.2 94.1v1.3M49.8 94.1v1.3M52.4 94.1v1.3M55.0 94.1v1.3M57.6 94.1v1.3M60.2 94.1v1.3M62.8 94.1v1.3M65.4 94.1v1.3M68.0 94.1v1.3M70.6 94.1v1.3M73.2 94.1v1.3M75.8 94.1v1.3M78.4 94.1v1.3M81.0 94.1v1.3M83.6 94.1v1.3M86.2 94.1v1.3M88.8 94.1v1.3M91.4 94.1v1.3M94.0 94.1v1.3M96.6 94.1v1.3M99.2 94.1v1.3" stroke="#1a1a1a" stroke-width="0.8" fill="none"/>
<path d="M42.1 37.6 H102.8 V94.1" fill="none" stroke="#111" stroke-width="1.25"/>
<path d="M42.1 37.6 V94.1 H102.8" fill="none" stroke="#111" stroke-width="1.6"/>
<text transform="matrix(1.0364,0,0,1,28.59,45.40)" font-size="5.915" fill="#222" stroke="#222" stroke-width="0.16">10</text>
<text transform="matrix(0.9825,0,0,1,35.65,42.67)" font-size="3.857" fill="#222" stroke="#222" stroke-width="0.16">5</text>
<text transform="matrix(1.0364,0,0,1,28.59,57.66)" font-size="5.915" fill="#222" stroke="#222" stroke-width="0.16">10</text>
<text transform="matrix(0.9200,0,0,1,35.71,54.97)" font-size="3.913" fill="#222" stroke="#222" stroke-width="0.16">4</text>
<text transform="matrix(1.0364,0,0,1,28.59,70.72)" font-size="5.915" fill="#222" stroke="#222" stroke-width="0.16">10</text>
<text transform="matrix(1.0071,0,0,1,35.65,67.99)" font-size="3.803" fill="#222" stroke="#222" stroke-width="0.16">3</text>
<text transform="matrix(1.0364,0,0,1,28.59,84.28)" font-size="5.915" fill="#222" stroke="#222" stroke-width="0.16">10</text>
<text transform="matrix(1.0256,0,0,1,35.60,81.58)" font-size="3.857" fill="#222" stroke="#222" stroke-width="0.16">2</text>
<text transform="matrix(1.0321,0,0,1,32.11,90.21)" font-size="5.915" fill="#222" stroke="#222" stroke-width="0.16">0</text>
<text transform="matrix(1.0321,0,0,1,50.12,106.14)" font-size="5.915" fill="#222" stroke="#222" stroke-width="0.16">0</text>
<text transform="matrix(1.0364,0,0,1,63.55,106.14)" font-size="5.915" fill="#222" stroke="#222" stroke-width="0.16">10</text>
<text transform="matrix(1.0071,0,0,1,70.60,103.41)" font-size="3.803" fill="#222" stroke="#222" stroke-width="0.16">3</text>
<text transform="matrix(1.0364,0,0,1,78.11,106.14)" font-size="5.915" fill="#222" stroke="#222" stroke-width="0.16">10</text>
<text transform="matrix(0.9200,0,0,1,85.23,103.45)" font-size="3.913" fill="#222" stroke="#222" stroke-width="0.16">4</text>
<text transform="matrix(1.0364,0,0,1,91.77,106.14)" font-size="5.915" fill="#222" stroke="#222" stroke-width="0.16">10</text>
<text transform="matrix(0.9825,0,0,1,98.83,103.41)" font-size="3.857" fill="#222" stroke="#222" stroke-width="0.16">5</text>
<text transform="matrix(1.0888,0,0,1,77.49,44.59)" font-size="6.056" fill="#222" stroke="#222" stroke-width="0.16">0.32%</text>
<text transform="matrix(1.0309,0,0,1,74.49,92.55)" font-size="3.862" fill="#444" stroke="#444" stroke-width="0.16">iNKT</text>
<clipPath id="c69"><rect x="121.9" y="37.6" width="60.19999999999999" height="56.49999999999999"/></clipPath>
<g clip-path="url(#c69)">
<path d="M122 54 C128 52 140 52 146 55 C151 58 153 63 151 69 C149 76 146 82 142 87 C139 90.5 135 92.5 131 93 L122 93 Z" fill="#303030" filter="url(#b10)" opacity="0.88"/>
<path d="M147.0 61.1h0.7v0.7h-0.7zM148.9 61.3h0.7v0.7h-0.7zM147.4 76.2h0.7v0.7h-0.7zM139.6 69.2h0.7v0.7h-0.7zM149.5 60.8h0.7v0.7h-0.7zM149.8 70.0h0.7v0.7h-0.7zM146.3 76.0h0.7v0.7h-0.7zM142.5 72.0h0.7v0.7h-0.7zM146.8 60.1h0.7v0.7h-0.7zM147.0 65.1h0.7v0.7h-0.7zM151.0 57.0h0.7v0.7h-0.7zM146.9 64.3h0.7v0.7h-0.7zM154.0 59.7h0.7v0.7h-0.7zM151.9 55.2h0.7v0.7h-0.7zM149.1 66.5h0.7v0.7h-0.7zM149.2 62.6h0.7v0.7h-0.7zM139.9 56.6h0.7v0.7h-0.7zM152.9 68.9h0.7v0.7h-0.7zM144.2 73.7h0.7v0.7h-0.7zM144.7 62.3h0.7v0.7h-0.7zM142.8 75.7h0.7v0.7h-0.7zM155.5 60.7h0.7v0.7h-0.7zM148.8 74.2h0.7v0.7h-0.7zM156.1 50.6h0.7v0.7h-0.7zM148.2 71.9h0.7v0.7h-0.7zM141.7 70.2h0.7v0.7h-0.7zM148.4 72.4h0.7v0.7h-0.7zM145.3 70.3h0.7v0.7h-0.7zM145.2 71.6h0.7v0.7h-0.7zM148.3 64.7h0.7v0.7h-0.7zM142.0 78.9h0.7v0.7h-0.7zM152.1 73.5h0.7v0.7h-0.7zM145.0 64.9h0.7v0.7h-0.7zM154.3 72.5h0.7v0.7h-0.7zM144.2 67.7h0.7v0.7h-0.7zM148.2 65.9h0.7v0.7h-0.7zM143.9 76.1h0.7v0.7h-0.7zM150.0 66.0h0.7v0.7h-0.7zM141.3 63.3h0.7v0.7h-0.7zM147.6 73.5h0.7v0.7h-0.7zM146.2 75.2h0.7v0.7h-0.7zM148.2 62.2h0.7v0.7h-0.7zM136.5 59.2h0.7v0.7h-0.7zM141.7 66.4h0.7v0.7h-0.7zM149.0 77.2h0.7v0.7h-0.7zM147.6 59.3h0.7v0.7h-0.7zM157.1 69.6h0.7v0.7h-0.7zM146.6 65.6h0.7v0.7h-0.7zM142.3 71.9h0.7v0.7h-0.7zM149.2 78.6h0.7v0.7h-0.7zM152.1 73.6h0.7v0.7h-0.7zM152.8 65.5h0.7v0.7h-0.7zM146.0 67.2h0.7v0.7h-0.7zM142.7 66.5h0.7v0.7h-0.7zM146.4 72.2h0.7v0.7h-0.7zM147.7 54.2h0.7v0.7h-0.7zM147.9 77.5h0.7v0.7h-0.7zM140.4 62.3h0.7v0.7h-0.7zM147.8 58.3h0.7v0.7h-0.7zM145.6 68.0h0.7v0.7h-0.7zM142.5 69.7h0.7v0.7h-0.7zM149.4 58.8h0.7v0.7h-0.7zM147.9 75.2h0.7v0.7h-0.7zM147.1 70.7h0.7v0.7h-0.7zM150.4 66.0h0.7v0.7h-0.7zM151.8 70.4h0.7v0.7h-0.7zM143.9 71.4h0.7v0.7h-0.7zM151.3 73.4h0.7v0.7h-0.7zM145.3 71.0h0.7v0.7h-0.7zM153.3 69.4h0.7v0.7h-0.7zM152.6 76.9h0.7v0.7h-0.7zM147.7 72.4h0.7v0.7h-0.7zM146.7 75.3h0.7v0.7h-0.7zM147.5 64.0h0.7v0.7h-0.7zM147.8 67.3h0.7v0.7h-0.7zM149.4 71.1h0.7v0.7h-0.7zM143.2 63.3h0.7v0.7h-0.7zM149.3 71.2h0.7v0.7h-0.7zM148.3 86.3h0.7v0.7h-0.7zM152.4 67.3h0.7v0.7h-0.7zM150.8 77.3h0.7v0.7h-0.7zM149.4 55.7h0.7v0.7h-0.7zM148.3 68.3h0.7v0.7h-0.7zM156.5 55.1h0.7v0.7h-0.7zM154.2 66.9h0.7v0.7h-0.7zM151.7 65.9h0.7v0.7h-0.7zM148.7 75.9h0.7v0.7h-0.7zM148.3 75.4h0.7v0.7h-0.7zM147.7 65.2h0.7v0.7h-0.7zM147.2 64.5h0.7v0.7h-0.7zM147.6 77.6h0.7v0.7h-0.7zM143.4 56.4h0.7v0.7h-0.7zM148.0 79.9h0.7v0.7h-0.7zM152.2 77.4h0.7v0.7h-0.7zM153.1 63.0h0.7v0.7h-0.7zM148.5 49.5h0.7v0.7h-0.7zM145.6 72.4h0.7v0.7h-0.7zM141.8 53.7h0.7v0.7h-0.7zM142.9 69.7h0.7v0.7h-0.7zM152.8 86.3h0.7v0.7h-0.7zM153.8 57.6h0.7v0.7h-0.7zM138.8 69.3h0.7v0.7h-0.7zM152.4 56.9h0.7v0.7h-0.7zM146.1 65.1h0.7v0.7h-0.7zM148.3 67.1h0.7v0.7h-0.7zM150.3 75.7h0.7v0.7h-0.7zM148.5 73.6h0.7v0.7h-0.7zM156.2 61.2h0.7v0.7h-0.7zM144.0 72.0h0.7v0.7h-0.7zM155.7 69.6h0.7v0.7h-0.7zM152.6 66.3h0.7v0.7h-0.7zM151.9 64.1h0.7v0.7h-0.7zM151.0 71.3h0.7v0.7h-0.7zM149.9 78.2h0.7v0.7h-0.7zM152.6 64.4h0.7v0.7h-0.7zM151.9 56.7h0.7v0.7h-0.7zM152.3 87.9h0.7v0.7h-0.7zM150.5 72.2h0.7v0.7h-0.7zM148.7 74.5h0.7v0.7h-0.7zM146.6 73.5h0.7v0.7h-0.7zM147.4 65.8h0.7v0.7h-0.7zM149.0 68.4h0.7v0.7h-0.7zM141.5 83.4h0.7v0.7h-0.7zM149.0 57.0h0.7v0.7h-0.7zM152.8 68.7h0.7v0.7h-0.7zM149.3 73.8h0.7v0.7h-0.7zM144.9 48.3h0.7v0.7h-0.7zM148.1 70.6h0.7v0.7h-0.7zM152.5 63.6h0.7v0.7h-0.7zM147.4 71.7h0.7v0.7h-0.7zM147.2 67.1h0.7v0.7h-0.7zM149.5 61.9h0.7v0.7h-0.7zM154.8 62.4h0.7v0.7h-0.7zM148.6 66.6h0.7v0.7h-0.7zM145.7 72.6h0.7v0.7h-0.7zM152.5 79.1h0.7v0.7h-0.7zM150.8 65.7h0.7v0.7h-0.7zM151.9 58.7h0.7v0.7h-0.7zM148.7 72.5h0.7v0.7h-0.7zM150.7 60.8h0.7v0.7h-0.7zM142.5 80.4h0.7v0.7h-0.7zM146.4 57.3h0.7v0.7h-0.7zM143.5 68.9h0.7v0.7h-0.7zM153.1 68.7h0.7v0.7h-0.7zM153.2 70.3h0.7v0.7h-0.7zM150.3 75.6h0.7v0.7h-0.7zM146.9 70.7h0.7v0.7h-0.7zM146.8 64.2h0.7v0.7h-0.7zM151.0 62.9h0.7v0.7h-0.7zM148.7 63.1h0.7v0.7h-0.7zM148.0 64.9h0.7v0.7h-0.7zM152.7 69.1h0.7v0.7h-0.7zM148.6 80.1h0.7v0.7h-0.7zM136.7 60.7h0.7v0.7h-0.7zM137.3 68.4h0.7v0.7h-0.7zM150.0 72.9h0.7v0.7h-0.7zM149.3 62.3h0.7v0.7h-0.7zM155.2 70.5h0.7v0.7h-0.7zM147.1 60.5h0.7v0.7h-0.7zM149.9 64.8h0.7v0.7h-0.7zM146.4 69.7h0.7v0.7h-0.7zM149.0 62.5h0.7v0.7h-0.7zM153.1 61.2h0.7v0.7h-0.7zM143.7 70.4h0.7v0.7h-0.7zM148.6 68.7h0.7v0.7h-0.7zM146.5 68.5h0.7v0.7h-0.7zM145.8 56.6h0.7v0.7h-0.7zM151.0 61.1h0.7v0.7h-0.7zM147.2 73.3h0.7v0.7h-0.7zM148.2 87.3h0.7v0.7h-0.7zM142.5 62.9h0.7v0.7h-0.7zM148.4 77.6h0.7v0.7h-0.7zM147.1 58.1h0.7v0.7h-0.7zM152.6 61.7h0.7v0.7h-0.7zM147.3 74.3h0.7v0.7h-0.7zM145.4 64.9h0.7v0.7h-0.7zM150.0 66.7h0.7v0.7h-0.7zM149.2 61.4h0.7v0.7h-0.7zM147.6 60.4h0.7v0.7h-0.7zM141.8 80.3h0.7v0.7h-0.7zM149.8 74.5h0.7v0.7h-0.7zM144.2 67.8h0.7v0.7h-0.7zM147.2 58.1h0.7v0.7h-0.7zM150.2 63.0h0.7v0.7h-0.7zM147.2 57.4h0.7v0.7h-0.7zM152.0 73.3h0.7v0.7h-0.7zM149.6 61.7h0.7v0.7h-0.7zM145.9 76.6h0.7v0.7h-0.7zM146.9 69.9h0.7v0.7h-0.7zM148.6 60.2h0.7v0.7h-0.7zM154.1 54.1h0.7v0.7h-0.7zM148.9 67.4h0.7v0.7h-0.7zM141.5 70.4h0.7v0.7h-0.7zM150.1 68.4h0.7v0.7h-0.7zM144.7 71.2h0.7v0.7h-0.7zM152.5 69.6h0.7v0.7h-0.7zM154.9 74.0h0.7v0.7h-0.7zM151.1 77.8h0.7v0.7h-0.7zM145.4 64.4h0.7v0.7h-0.7zM150.1 71.7h0.7v0.7h-0.7zM154.1 76.1h0.7v0.7h-0.7zM148.7 69.6h0.7v0.7h-0.7zM146.9 65.5h0.7v0.7h-0.7zM146.2 74.4h0.7v0.7h-0.7zM146.2 65.6h0.7v0.7h-0.7zM148.7 64.5h0.7v0.7h-0.7zM147.2 52.9h0.7v0.7h-0.7zM149.6 66.0h0.7v0.7h-0.7zM148.9 70.8h0.7v0.7h-0.7zM140.7 85.1h0.7v0.7h-0.7zM148.8 69.6h0.7v0.7h-0.7zM141.1 72.8h0.7v0.7h-0.7zM150.0 66.1h0.7v0.7h-0.7zM149.4 77.7h0.7v0.7h-0.7zM147.1 62.5h0.7v0.7h-0.7zM153.8 70.8h0.7v0.7h-0.7zM147.8 85.1h0.7v0.7h-0.7zM149.2 67.8h0.7v0.7h-0.7zM149.7 66.2h0.7v0.7h-0.7zM149.4 70.1h0.7v0.7h-0.7zM146.0 67.2h0.7v0.7h-0.7zM149.8 71.7h0.7v0.7h-0.7zM150.9 74.5h0.7v0.7h-0.7zM149.5 72.6h0.7v0.7h-0.7zM147.0 67.1h0.7v0.7h-0.7zM152.7 55.1h0.7v0.7h-0.7zM150.0 91.0h0.7v0.7h-0.7zM141.1 79.3h0.7v0.7h-0.7zM141.4 71.3h0.7v0.7h-0.7zM154.9 79.0h0.7v0.7h-0.7zM144.7 59.5h0.7v0.7h-0.7zM142.6 73.5h0.7v0.7h-0.7zM146.7 68.5h0.7v0.7h-0.7zM149.3 71.3h0.7v0.7h-0.7zM150.4 69.2h0.7v0.7h-0.7zM141.8 78.5h0.7v0.7h-0.7zM137.2 77.0h0.7v0.7h-0.7zM145.8 66.9h0.7v0.7h-0.7zM146.1 65.7h0.7v0.7h-0.7zM148.1 66.3h0.7v0.7h-0.7zM143.8 74.2h0.7v0.7h-0.7zM145.8 77.7h0.7v0.7h-0.7zM147.5 63.3h0.7v0.7h-0.7zM149.9 74.5h0.7v0.7h-0.7zM144.5 66.3h0.7v0.7h-0.7zM153.9 61.3h0.7v0.7h-0.7zM144.7 69.4h0.7v0.7h-0.7zM143.3 51.0h0.7v0.7h-0.7zM141.5 70.9h0.7v0.7h-0.7zM150.8 72.4h0.7v0.7h-0.7z" fill="#333" fill-opacity="0.5"/>
<path d="M142.6 84.4h0.7v0.7h-0.7zM144.3 91.6h0.7v0.7h-0.7zM136.0 90.9h0.7v0.7h-0.7zM138.0 88.7h0.7v0.7h-0.7zM142.4 83.7h0.7v0.7h-0.7zM149.0 85.5h0.7v0.7h-0.7zM139.6 86.6h0.7v0.7h-0.7zM143.0 89.4h0.7v0.7h-0.7zM140.4 92.4h0.7v0.7h-0.7zM141.9 86.9h0.7v0.7h-0.7zM123.0 87.3h0.7v0.7h-0.7zM138.5 85.5h0.7v0.7h-0.7zM135.1 89.9h0.7v0.7h-0.7zM146.5 93.8h0.7v0.7h-0.7zM147.1 86.0h0.7v0.7h-0.7zM141.8 84.0h0.7v0.7h-0.7zM144.6 89.2h0.7v0.7h-0.7zM136.6 87.8h0.7v0.7h-0.7zM138.7 86.2h0.7v0.7h-0.7zM148.2 97.4h0.7v0.7h-0.7zM145.2 91.3h0.7v0.7h-0.7zM141.2 87.1h0.7v0.7h-0.7zM153.4 87.0h0.7v0.7h-0.7zM142.6 87.8h0.7v0.7h-0.7zM143.8 88.0h0.7v0.7h-0.7zM143.8 84.3h0.7v0.7h-0.7zM139.7 92.2h0.7v0.7h-0.7zM134.1 86.1h0.7v0.7h-0.7zM148.5 89.3h0.7v0.7h-0.7zM146.7 81.4h0.7v0.7h-0.7zM141.1 84.3h0.7v0.7h-0.7zM131.9 89.4h0.7v0.7h-0.7zM147.4 83.6h0.7v0.7h-0.7zM133.6 86.4h0.7v0.7h-0.7zM139.5 84.1h0.7v0.7h-0.7zM153.8 89.9h0.7v0.7h-0.7zM138.1 86.6h0.7v0.7h-0.7zM154.2 94.8h0.7v0.7h-0.7zM137.3 89.1h0.7v0.7h-0.7zM147.8 84.5h0.7v0.7h-0.7zM136.7 92.2h0.7v0.7h-0.7zM136.0 86.8h0.7v0.7h-0.7zM132.1 85.8h0.7v0.7h-0.7zM144.3 85.6h0.7v0.7h-0.7zM132.3 86.2h0.7v0.7h-0.7zM150.8 88.6h0.7v0.7h-0.7zM136.7 88.5h0.7v0.7h-0.7zM142.8 88.4h0.7v0.7h-0.7zM129.2 88.9h0.7v0.7h-0.7zM138.8 90.6h0.7v0.7h-0.7zM131.9 91.2h0.7v0.7h-0.7zM137.1 82.9h0.7v0.7h-0.7zM148.1 86.5h0.7v0.7h-0.7zM142.3 87.5h0.7v0.7h-0.7zM146.6 91.4h0.7v0.7h-0.7zM146.8 90.2h0.7v0.7h-0.7zM130.3 82.9h0.7v0.7h-0.7zM141.2 85.1h0.7v0.7h-0.7zM142.8 88.5h0.7v0.7h-0.7zM131.5 84.9h0.7v0.7h-0.7zM133.1 85.3h0.7v0.7h-0.7zM138.7 90.1h0.7v0.7h-0.7zM148.1 85.1h0.7v0.7h-0.7zM136.6 92.7h0.7v0.7h-0.7zM145.4 88.7h0.7v0.7h-0.7zM125.8 84.9h0.7v0.7h-0.7zM140.9 86.2h0.7v0.7h-0.7zM152.0 88.3h0.7v0.7h-0.7zM141.7 84.7h0.7v0.7h-0.7zM133.7 86.0h0.7v0.7h-0.7zM136.2 87.3h0.7v0.7h-0.7zM142.2 88.7h0.7v0.7h-0.7zM146.0 83.9h0.7v0.7h-0.7zM141.3 88.7h0.7v0.7h-0.7zM149.6 87.3h0.7v0.7h-0.7zM142.0 85.5h0.7v0.7h-0.7zM142.5 89.2h0.7v0.7h-0.7zM136.2 86.7h0.7v0.7h-0.7zM139.8 89.7h0.7v0.7h-0.7zM133.0 90.7h0.7v0.7h-0.7zM138.0 93.7h0.7v0.7h-0.7zM148.8 86.8h0.7v0.7h-0.7zM136.2 95.4h0.7v0.7h-0.7zM143.8 89.7h0.7v0.7h-0.7zM137.4 87.6h0.7v0.7h-0.7zM144.9 89.9h0.7v0.7h-0.7zM135.0 91.8h0.7v0.7h-0.7zM141.9 85.1h0.7v0.7h-0.7zM146.0 87.5h0.7v0.7h-0.7zM144.7 86.3h0.7v0.7h-0.7zM142.2 83.1h0.7v0.7h-0.7zM142.2 83.4h0.7v0.7h-0.7zM141.0 80.3h0.7v0.7h-0.7zM139.6 90.2h0.7v0.7h-0.7zM142.9 91.6h0.7v0.7h-0.7zM133.5 92.7h0.7v0.7h-0.7zM149.7 84.4h0.7v0.7h-0.7zM135.2 86.3h0.7v0.7h-0.7zM139.8 88.6h0.7v0.7h-0.7zM125.0 89.8h0.7v0.7h-0.7zM138.4 84.9h0.7v0.7h-0.7zM145.7 86.9h0.7v0.7h-0.7zM146.9 89.6h0.7v0.7h-0.7zM138.0 91.5h0.7v0.7h-0.7zM144.9 86.5h0.7v0.7h-0.7zM130.2 86.3h0.7v0.7h-0.7zM143.7 87.3h0.7v0.7h-0.7zM150.6 88.8h0.7v0.7h-0.7zM141.1 89.2h0.7v0.7h-0.7zM134.6 87.6h0.7v0.7h-0.7zM136.0 80.9h0.7v0.7h-0.7zM129.2 90.2h0.7v0.7h-0.7zM137.3 87.6h0.7v0.7h-0.7zM131.0 86.2h0.7v0.7h-0.7zM144.7 88.3h0.7v0.7h-0.7zM136.8 92.6h0.7v0.7h-0.7zM139.6 86.9h0.7v0.7h-0.7zM146.9 82.7h0.7v0.7h-0.7zM143.3 84.6h0.7v0.7h-0.7zM135.2 85.9h0.7v0.7h-0.7zM140.7 88.3h0.7v0.7h-0.7zM141.8 88.6h0.7v0.7h-0.7zM148.4 93.1h0.7v0.7h-0.7zM144.3 90.3h0.7v0.7h-0.7zM137.7 84.7h0.7v0.7h-0.7zM143.5 88.1h0.7v0.7h-0.7zM145.2 82.5h0.7v0.7h-0.7zM156.2 84.1h0.7v0.7h-0.7zM140.2 91.0h0.7v0.7h-0.7zM131.6 86.3h0.7v0.7h-0.7zM127.8 83.7h0.7v0.7h-0.7zM128.3 88.3h0.7v0.7h-0.7zM141.8 87.0h0.7v0.7h-0.7zM147.6 92.2h0.7v0.7h-0.7zM139.9 87.3h0.7v0.7h-0.7zM138.3 86.6h0.7v0.7h-0.7zM147.9 88.7h0.7v0.7h-0.7zM138.0 87.3h0.7v0.7h-0.7zM143.3 86.8h0.7v0.7h-0.7zM141.9 87.9h0.7v0.7h-0.7zM148.2 91.5h0.7v0.7h-0.7zM131.4 87.5h0.7v0.7h-0.7zM144.3 86.6h0.7v0.7h-0.7zM144.9 89.0h0.7v0.7h-0.7zM143.6 87.8h0.7v0.7h-0.7zM141.8 89.6h0.7v0.7h-0.7zM131.1 85.2h0.7v0.7h-0.7zM133.9 93.1h0.7v0.7h-0.7zM141.8 89.1h0.7v0.7h-0.7zM141.1 86.4h0.7v0.7h-0.7z" fill="#333" fill-opacity="0.45"/>
<path d="M148.3 83.1h0.7v0.7h-0.7zM150.1 87.6h0.7v0.7h-0.7zM153.0 78.6h0.7v0.7h-0.7zM150.9 77.6h0.7v0.7h-0.7zM152.2 87.2h0.7v0.7h-0.7zM163.8 71.1h0.7v0.7h-0.7zM153.3 82.3h0.7v0.7h-0.7zM147.5 74.2h0.7v0.7h-0.7zM149.7 63.5h0.7v0.7h-0.7zM155.3 77.8h0.7v0.7h-0.7zM151.6 78.5h0.7v0.7h-0.7zM153.3 92.0h0.7v0.7h-0.7zM153.0 83.1h0.7v0.7h-0.7zM149.4 80.2h0.7v0.7h-0.7zM150.5 77.2h0.7v0.7h-0.7zM147.5 73.1h0.7v0.7h-0.7zM154.3 82.6h0.7v0.7h-0.7zM154.4 74.0h0.7v0.7h-0.7zM153.6 62.8h0.7v0.7h-0.7zM156.8 77.9h0.7v0.7h-0.7zM153.4 85.1h0.7v0.7h-0.7zM150.0 83.9h0.7v0.7h-0.7zM149.9 81.4h0.7v0.7h-0.7zM150.0 79.9h0.7v0.7h-0.7zM159.4 74.2h0.7v0.7h-0.7zM149.0 76.2h0.7v0.7h-0.7zM153.6 94.7h0.7v0.7h-0.7zM149.2 65.9h0.7v0.7h-0.7zM148.8 68.6h0.7v0.7h-0.7zM149.3 78.3h0.7v0.7h-0.7zM147.3 74.1h0.7v0.7h-0.7zM142.8 79.3h0.7v0.7h-0.7zM148.4 84.7h0.7v0.7h-0.7zM157.4 73.0h0.7v0.7h-0.7zM150.3 78.5h0.7v0.7h-0.7zM156.0 68.1h0.7v0.7h-0.7zM151.8 89.4h0.7v0.7h-0.7zM151.7 79.5h0.7v0.7h-0.7zM152.2 71.1h0.7v0.7h-0.7zM157.0 79.8h0.7v0.7h-0.7zM153.0 82.6h0.7v0.7h-0.7zM156.1 66.8h0.7v0.7h-0.7zM154.6 74.7h0.7v0.7h-0.7zM153.0 74.0h0.7v0.7h-0.7zM147.9 84.0h0.7v0.7h-0.7zM152.2 76.6h0.7v0.7h-0.7zM150.8 78.8h0.7v0.7h-0.7zM152.2 64.1h0.7v0.7h-0.7zM147.9 76.9h0.7v0.7h-0.7zM156.0 86.5h0.7v0.7h-0.7zM147.6 90.0h0.7v0.7h-0.7zM152.8 81.3h0.7v0.7h-0.7zM149.6 74.8h0.7v0.7h-0.7zM159.5 77.1h0.7v0.7h-0.7zM151.8 85.4h0.7v0.7h-0.7zM161.0 69.4h0.7v0.7h-0.7zM151.4 78.4h0.7v0.7h-0.7zM161.5 93.3h0.7v0.7h-0.7zM152.2 80.8h0.7v0.7h-0.7zM156.8 85.4h0.7v0.7h-0.7zM150.8 83.7h0.7v0.7h-0.7zM149.0 62.5h0.7v0.7h-0.7zM145.6 79.9h0.7v0.7h-0.7zM156.4 65.0h0.7v0.7h-0.7zM143.5 78.4h0.7v0.7h-0.7zM135.6 82.0h0.7v0.7h-0.7zM157.7 60.7h0.7v0.7h-0.7zM156.4 77.5h0.7v0.7h-0.7zM159.7 80.4h0.7v0.7h-0.7zM151.4 79.5h0.7v0.7h-0.7zM157.3 79.9h0.7v0.7h-0.7zM152.8 70.1h0.7v0.7h-0.7zM155.1 79.0h0.7v0.7h-0.7zM161.9 78.7h0.7v0.7h-0.7zM152.2 75.1h0.7v0.7h-0.7zM156.3 77.6h0.7v0.7h-0.7zM149.2 88.5h0.7v0.7h-0.7zM161.6 76.1h0.7v0.7h-0.7zM147.6 85.7h0.7v0.7h-0.7zM148.5 95.9h0.7v0.7h-0.7zM152.1 84.7h0.7v0.7h-0.7zM146.2 78.7h0.7v0.7h-0.7zM158.2 81.5h0.7v0.7h-0.7zM150.1 93.7h0.7v0.7h-0.7zM156.5 77.5h0.7v0.7h-0.7zM149.7 77.3h0.7v0.7h-0.7zM159.5 74.3h0.7v0.7h-0.7zM152.9 74.0h0.7v0.7h-0.7zM159.1 77.9h0.7v0.7h-0.7zM157.1 82.3h0.7v0.7h-0.7zM149.9 83.1h0.7v0.7h-0.7zM157.5 72.0h0.7v0.7h-0.7zM156.3 100.4h0.7v0.7h-0.7zM151.3 82.8h0.7v0.7h-0.7zM146.1 81.7h0.7v0.7h-0.7zM149.8 83.6h0.7v0.7h-0.7zM152.5 71.8h0.7v0.7h-0.7zM158.3 77.6h0.7v0.7h-0.7zM147.7 79.3h0.7v0.7h-0.7zM147.9 81.3h0.7v0.7h-0.7zM152.5 76.7h0.7v0.7h-0.7zM156.1 71.2h0.7v0.7h-0.7zM157.7 66.8h0.7v0.7h-0.7zM160.9 80.0h0.7v0.7h-0.7zM151.4 74.5h0.7v0.7h-0.7zM155.5 78.0h0.7v0.7h-0.7zM151.9 85.2h0.7v0.7h-0.7zM150.6 77.5h0.7v0.7h-0.7zM154.9 85.4h0.7v0.7h-0.7zM152.0 79.9h0.7v0.7h-0.7zM153.0 83.4h0.7v0.7h-0.7zM160.3 73.3h0.7v0.7h-0.7zM152.1 78.7h0.7v0.7h-0.7zM155.8 88.0h0.7v0.7h-0.7zM152.7 80.2h0.7v0.7h-0.7zM158.5 71.4h0.7v0.7h-0.7zM148.9 76.2h0.7v0.7h-0.7zM152.7 80.3h0.7v0.7h-0.7zM150.1 89.6h0.7v0.7h-0.7zM149.2 77.7h0.7v0.7h-0.7z" fill="#666" fill-opacity="0.4"/>
<path d="M146.5 81.4h0.7v0.7h-0.7zM139.8 77.8h0.7v0.7h-0.7zM144.9 74.2h0.7v0.7h-0.7zM143.8 66.0h0.7v0.7h-0.7zM140.3 59.4h0.7v0.7h-0.7zM134.5 63.9h0.7v0.7h-0.7zM147.5 70.1h0.7v0.7h-0.7zM141.7 65.8h0.7v0.7h-0.7zM138.6 71.7h0.7v0.7h-0.7zM134.6 82.1h0.7v0.7h-0.7zM129.7 79.9h0.7v0.7h-0.7zM156.0 66.7h0.7v0.7h-0.7zM140.0 59.9h0.7v0.7h-0.7zM139.6 58.2h0.7v0.7h-0.7zM143.5 69.5h0.7v0.7h-0.7zM128.4 62.1h0.7v0.7h-0.7zM130.0 71.3h0.7v0.7h-0.7zM144.8 70.2h0.7v0.7h-0.7zM132.4 66.2h0.7v0.7h-0.7zM140.2 51.4h0.7v0.7h-0.7zM143.0 77.4h0.7v0.7h-0.7zM124.4 84.5h0.7v0.7h-0.7zM129.4 71.6h0.7v0.7h-0.7zM146.6 58.5h0.7v0.7h-0.7zM128.0 63.2h0.7v0.7h-0.7zM132.7 72.2h0.7v0.7h-0.7zM136.1 68.8h0.7v0.7h-0.7zM136.3 71.7h0.7v0.7h-0.7zM134.0 76.4h0.7v0.7h-0.7zM139.2 64.0h0.7v0.7h-0.7zM150.4 61.7h0.7v0.7h-0.7zM143.7 66.5h0.7v0.7h-0.7zM141.5 78.2h0.7v0.7h-0.7zM144.5 86.5h0.7v0.7h-0.7zM134.1 99.7h0.7v0.7h-0.7zM141.8 66.0h0.7v0.7h-0.7zM131.0 95.1h0.7v0.7h-0.7zM149.5 73.4h0.7v0.7h-0.7zM144.1 85.7h0.7v0.7h-0.7zM140.0 69.7h0.7v0.7h-0.7zM139.2 81.4h0.7v0.7h-0.7zM139.6 62.4h0.7v0.7h-0.7zM144.1 57.8h0.7v0.7h-0.7zM134.9 85.1h0.7v0.7h-0.7zM140.9 75.8h0.7v0.7h-0.7zM140.1 83.2h0.7v0.7h-0.7zM139.1 55.7h0.7v0.7h-0.7zM141.0 45.5h0.7v0.7h-0.7zM126.9 88.2h0.7v0.7h-0.7zM145.8 69.4h0.7v0.7h-0.7zM139.0 74.5h0.7v0.7h-0.7zM145.6 66.5h0.7v0.7h-0.7zM134.0 67.9h0.7v0.7h-0.7zM140.3 76.1h0.7v0.7h-0.7zM137.0 80.6h0.7v0.7h-0.7zM133.2 72.9h0.7v0.7h-0.7zM135.2 64.4h0.7v0.7h-0.7zM147.0 70.7h0.7v0.7h-0.7zM133.3 74.0h0.7v0.7h-0.7zM133.3 79.1h0.7v0.7h-0.7zM144.6 83.1h0.7v0.7h-0.7zM132.9 72.3h0.7v0.7h-0.7zM150.7 71.7h0.7v0.7h-0.7zM147.2 87.7h0.7v0.7h-0.7zM131.0 84.8h0.7v0.7h-0.7zM144.1 81.7h0.7v0.7h-0.7zM149.8 77.9h0.7v0.7h-0.7zM139.9 79.3h0.7v0.7h-0.7zM137.3 78.2h0.7v0.7h-0.7zM127.1 89.6h0.7v0.7h-0.7zM136.2 78.7h0.7v0.7h-0.7zM141.4 74.6h0.7v0.7h-0.7zM140.1 74.3h0.7v0.7h-0.7zM129.4 68.6h0.7v0.7h-0.7zM146.8 64.3h0.7v0.7h-0.7zM133.0 93.1h0.7v0.7h-0.7zM146.8 88.0h0.7v0.7h-0.7zM139.4 76.1h0.7v0.7h-0.7zM144.1 78.8h0.7v0.7h-0.7zM138.9 60.2h0.7v0.7h-0.7zM134.9 59.8h0.7v0.7h-0.7zM149.0 69.9h0.7v0.7h-0.7zM138.3 76.2h0.7v0.7h-0.7zM139.5 78.4h0.7v0.7h-0.7zM135.5 59.5h0.7v0.7h-0.7zM150.0 66.9h0.7v0.7h-0.7zM136.4 66.1h0.7v0.7h-0.7zM135.9 73.6h0.7v0.7h-0.7zM143.8 63.7h0.7v0.7h-0.7zM141.0 67.2h0.7v0.7h-0.7zM146.6 62.1h0.7v0.7h-0.7zM139.8 79.9h0.7v0.7h-0.7zM130.9 74.3h0.7v0.7h-0.7zM140.1 66.0h0.7v0.7h-0.7zM137.9 82.3h0.7v0.7h-0.7zM140.7 69.5h0.7v0.7h-0.7zM137.9 77.3h0.7v0.7h-0.7zM146.9 80.5h0.7v0.7h-0.7zM143.6 87.5h0.7v0.7h-0.7zM129.8 60.1h0.7v0.7h-0.7zM125.3 80.8h0.7v0.7h-0.7zM125.2 72.8h0.7v0.7h-0.7zM143.7 60.5h0.7v0.7h-0.7zM135.1 70.7h0.7v0.7h-0.7zM143.5 59.3h0.7v0.7h-0.7zM141.0 79.4h0.7v0.7h-0.7zM139.9 74.5h0.7v0.7h-0.7zM146.6 75.1h0.7v0.7h-0.7zM138.9 70.0h0.7v0.7h-0.7zM143.0 70.4h0.7v0.7h-0.7zM143.0 74.0h0.7v0.7h-0.7zM145.9 65.9h0.7v0.7h-0.7zM139.5 76.2h0.7v0.7h-0.7zM141.5 83.3h0.7v0.7h-0.7zM141.4 81.2h0.7v0.7h-0.7zM150.8 80.7h0.7v0.7h-0.7zM132.7 60.1h0.7v0.7h-0.7zM143.1 69.6h0.7v0.7h-0.7zM140.8 71.5h0.7v0.7h-0.7zM146.9 83.9h0.7v0.7h-0.7zM132.2 75.5h0.7v0.7h-0.7zM137.2 61.2h0.7v0.7h-0.7zM142.9 71.7h0.7v0.7h-0.7zM141.7 95.4h0.7v0.7h-0.7zM147.0 83.0h0.7v0.7h-0.7zM136.6 62.4h0.7v0.7h-0.7zM146.5 70.3h0.7v0.7h-0.7zM139.3 69.6h0.7v0.7h-0.7zM139.6 94.7h0.7v0.7h-0.7zM137.1 70.5h0.7v0.7h-0.7zM140.2 75.6h0.7v0.7h-0.7zM131.8 57.0h0.7v0.7h-0.7zM135.5 71.1h0.7v0.7h-0.7zM134.2 63.9h0.7v0.7h-0.7zM133.3 69.3h0.7v0.7h-0.7zM138.2 58.2h0.7v0.7h-0.7zM135.6 76.0h0.7v0.7h-0.7zM138.1 60.6h0.7v0.7h-0.7zM136.7 72.6h0.7v0.7h-0.7zM143.5 58.1h0.7v0.7h-0.7zM143.0 68.6h0.7v0.7h-0.7zM140.1 78.9h0.7v0.7h-0.7zM133.6 65.5h0.7v0.7h-0.7zM138.1 79.2h0.7v0.7h-0.7zM135.5 60.0h0.7v0.7h-0.7zM134.6 76.1h0.7v0.7h-0.7zM145.7 68.1h0.7v0.7h-0.7zM136.8 71.0h0.7v0.7h-0.7zM138.0 64.1h0.7v0.7h-0.7zM136.1 74.6h0.7v0.7h-0.7zM139.4 72.8h0.7v0.7h-0.7zM132.7 67.7h0.7v0.7h-0.7zM134.5 82.0h0.7v0.7h-0.7zM147.4 75.7h0.7v0.7h-0.7zM148.3 70.0h0.7v0.7h-0.7zM137.0 61.0h0.7v0.7h-0.7zM140.1 68.6h0.7v0.7h-0.7zM139.3 77.0h0.7v0.7h-0.7zM137.3 62.6h0.7v0.7h-0.7zM138.5 72.0h0.7v0.7h-0.7zM138.9 78.7h0.7v0.7h-0.7zM137.5 70.3h0.7v0.7h-0.7zM149.1 82.3h0.7v0.7h-0.7zM138.3 64.4h0.7v0.7h-0.7zM136.2 76.1h0.7v0.7h-0.7zM143.8 94.2h0.7v0.7h-0.7zM137.4 74.2h0.7v0.7h-0.7zM136.8 73.6h0.7v0.7h-0.7zM136.6 63.3h0.7v0.7h-0.7zM145.0 74.0h0.7v0.7h-0.7zM146.6 68.4h0.7v0.7h-0.7zM140.5 78.8h0.7v0.7h-0.7zM127.8 61.2h0.7v0.7h-0.7zM143.4 73.9h0.7v0.7h-0.7zM128.1 66.4h0.7v0.7h-0.7zM132.8 68.7h0.7v0.7h-0.7zM148.2 67.9h0.7v0.7h-0.7zM151.1 70.8h0.7v0.7h-0.7zM134.7 87.0h0.7v0.7h-0.7zM144.7 85.4h0.7v0.7h-0.7zM150.6 82.6h0.7v0.7h-0.7zM146.4 57.9h0.7v0.7h-0.7zM134.2 77.1h0.7v0.7h-0.7zM140.4 79.7h0.7v0.7h-0.7zM136.4 83.2h0.7v0.7h-0.7zM151.2 78.5h0.7v0.7h-0.7zM144.2 77.9h0.7v0.7h-0.7zM144.8 75.3h0.7v0.7h-0.7zM136.3 75.2h0.7v0.7h-0.7zM139.9 59.8h0.7v0.7h-0.7zM140.7 73.7h0.7v0.7h-0.7zM140.5 68.6h0.7v0.7h-0.7zM142.1 79.0h0.7v0.7h-0.7zM135.1 76.3h0.7v0.7h-0.7zM143.9 80.0h0.7v0.7h-0.7zM133.8 64.3h0.7v0.7h-0.7zM139.4 64.0h0.7v0.7h-0.7zM154.0 66.1h0.7v0.7h-0.7zM134.4 79.0h0.7v0.7h-0.7zM136.3 52.3h0.7v0.7h-0.7zM138.2 64.3h0.7v0.7h-0.7zM135.9 58.6h0.7v0.7h-0.7zM133.6 71.4h0.7v0.7h-0.7zM138.4 62.9h0.7v0.7h-0.7zM134.6 65.2h0.7v0.7h-0.7zM139.6 71.3h0.7v0.7h-0.7zM131.4 78.3h0.7v0.7h-0.7zM134.6 76.0h0.7v0.7h-0.7zM133.3 75.2h0.7v0.7h-0.7zM138.0 73.0h0.7v0.7h-0.7zM141.7 76.4h0.7v0.7h-0.7zM139.6 73.9h0.7v0.7h-0.7zM131.1 71.9h0.7v0.7h-0.7zM125.7 52.6h0.7v0.7h-0.7zM136.8 70.5h0.7v0.7h-0.7zM147.5 78.4h0.7v0.7h-0.7zM145.2 69.7h0.7v0.7h-0.7zM141.3 82.9h0.7v0.7h-0.7zM141.8 75.7h0.7v0.7h-0.7zM139.3 64.4h0.7v0.7h-0.7zM133.5 59.9h0.7v0.7h-0.7zM141.2 70.3h0.7v0.7h-0.7zM134.8 75.8h0.7v0.7h-0.7zM135.4 82.0h0.7v0.7h-0.7zM150.1 76.8h0.7v0.7h-0.7zM134.7 59.5h0.7v0.7h-0.7zM150.8 76.8h0.7v0.7h-0.7zM131.9 82.3h0.7v0.7h-0.7zM129.0 68.9h0.7v0.7h-0.7zM137.5 69.6h0.7v0.7h-0.7zM132.1 94.1h0.7v0.7h-0.7zM136.5 76.2h0.7v0.7h-0.7zM139.1 58.6h0.7v0.7h-0.7zM135.6 74.7h0.7v0.7h-0.7zM144.4 69.8h0.7v0.7h-0.7zM141.1 69.8h0.7v0.7h-0.7zM142.4 50.8h0.7v0.7h-0.7zM142.5 67.3h0.7v0.7h-0.7zM135.5 47.5h0.7v0.7h-0.7zM132.6 78.3h0.7v0.7h-0.7zM152.7 66.6h0.7v0.7h-0.7zM135.0 77.3h0.7v0.7h-0.7zM140.6 67.6h0.7v0.7h-0.7zM137.9 69.5h0.7v0.7h-0.7zM142.6 80.0h0.7v0.7h-0.7zM149.4 81.1h0.7v0.7h-0.7zM142.9 74.3h0.7v0.7h-0.7zM144.5 64.1h0.7v0.7h-0.7zM151.8 75.5h0.7v0.7h-0.7zM147.4 65.8h0.7v0.7h-0.7zM145.1 76.6h0.7v0.7h-0.7zM137.9 67.0h0.7v0.7h-0.7zM133.7 89.1h0.7v0.7h-0.7zM146.3 74.0h0.7v0.7h-0.7zM140.2 66.5h0.7v0.7h-0.7zM128.0 56.9h0.7v0.7h-0.7zM135.4 71.6h0.7v0.7h-0.7zM132.0 80.1h0.7v0.7h-0.7zM142.1 74.4h0.7v0.7h-0.7zM128.5 71.1h0.7v0.7h-0.7zM138.8 61.7h0.7v0.7h-0.7zM125.9 90.2h0.7v0.7h-0.7zM142.7 69.5h0.7v0.7h-0.7zM148.6 83.0h0.7v0.7h-0.7zM141.7 75.0h0.7v0.7h-0.7zM143.7 86.1h0.7v0.7h-0.7zM139.4 70.9h0.7v0.7h-0.7zM142.5 47.7h0.7v0.7h-0.7zM139.5 69.3h0.7v0.7h-0.7zM138.9 71.3h0.7v0.7h-0.7zM141.0 73.9h0.7v0.7h-0.7zM139.4 71.8h0.7v0.7h-0.7zM141.7 68.4h0.7v0.7h-0.7zM144.9 57.9h0.7v0.7h-0.7zM140.2 77.1h0.7v0.7h-0.7zM131.4 69.1h0.7v0.7h-0.7zM146.9 71.8h0.7v0.7h-0.7zM133.7 46.2h0.7v0.7h-0.7zM141.0 73.9h0.7v0.7h-0.7zM142.7 91.4h0.7v0.7h-0.7zM139.0 74.2h0.7v0.7h-0.7zM134.9 72.4h0.7v0.7h-0.7zM138.8 79.8h0.7v0.7h-0.7zM142.3 66.1h0.7v0.7h-0.7zM136.1 85.4h0.7v0.7h-0.7zM133.2 79.7h0.7v0.7h-0.7zM148.7 78.9h0.7v0.7h-0.7zM140.5 85.3h0.7v0.7h-0.7zM141.1 72.9h0.7v0.7h-0.7zM137.8 83.3h0.7v0.7h-0.7zM143.2 86.9h0.7v0.7h-0.7zM137.0 70.2h0.7v0.7h-0.7zM136.4 75.5h0.7v0.7h-0.7zM134.8 81.3h0.7v0.7h-0.7zM141.0 64.2h0.7v0.7h-0.7zM121.2 56.6h0.7v0.7h-0.7zM147.6 72.4h0.7v0.7h-0.7zM139.9 69.2h0.7v0.7h-0.7zM141.4 55.7h0.7v0.7h-0.7zM127.0 58.3h0.7v0.7h-0.7zM139.4 79.3h0.7v0.7h-0.7zM141.8 71.8h0.7v0.7h-0.7zM131.3 80.1h0.7v0.7h-0.7zM137.3 72.8h0.7v0.7h-0.7zM138.5 68.7h0.7v0.7h-0.7zM134.6 67.6h0.7v0.7h-0.7zM131.2 75.2h0.7v0.7h-0.7zM137.9 82.1h0.7v0.7h-0.7zM128.1 83.5h0.7v0.7h-0.7zM138.5 71.5h0.7v0.7h-0.7zM134.1 65.6h0.7v0.7h-0.7zM130.0 81.0h0.7v0.7h-0.7zM137.7 79.4h0.7v0.7h-0.7zM143.9 68.5h0.7v0.7h-0.7zM137.5 69.9h0.7v0.7h-0.7zM145.1 74.1h0.7v0.7h-0.7zM140.0 79.5h0.7v0.7h-0.7zM138.5 91.4h0.7v0.7h-0.7zM133.4 84.3h0.7v0.7h-0.7zM147.4 62.7h0.7v0.7h-0.7zM144.2 75.5h0.7v0.7h-0.7zM144.2 62.2h0.7v0.7h-0.7zM140.5 64.2h0.7v0.7h-0.7zM137.0 85.8h0.7v0.7h-0.7zM138.2 52.7h0.7v0.7h-0.7zM130.6 62.7h0.7v0.7h-0.7zM145.1 66.7h0.7v0.7h-0.7zM129.7 83.0h0.7v0.7h-0.7zM140.5 76.1h0.7v0.7h-0.7zM134.2 85.8h0.7v0.7h-0.7zM138.3 55.2h0.7v0.7h-0.7zM132.2 65.4h0.7v0.7h-0.7zM138.0 79.9h0.7v0.7h-0.7zM134.6 67.6h0.7v0.7h-0.7zM152.2 73.7h0.7v0.7h-0.7zM135.8 73.3h0.7v0.7h-0.7zM131.5 77.8h0.7v0.7h-0.7zM144.8 67.8h0.7v0.7h-0.7zM145.0 70.4h0.7v0.7h-0.7zM140.7 66.3h0.7v0.7h-0.7zM134.2 59.5h0.7v0.7h-0.7zM140.3 70.4h0.7v0.7h-0.7zM137.5 62.8h0.7v0.7h-0.7zM132.0 67.3h0.7v0.7h-0.7zM141.8 75.7h0.7v0.7h-0.7zM134.9 75.6h0.7v0.7h-0.7zM149.5 74.0h0.7v0.7h-0.7zM151.1 76.9h0.7v0.7h-0.7zM147.0 68.2h0.7v0.7h-0.7zM146.0 62.3h0.7v0.7h-0.7z" fill="#1a1a1a" fill-opacity="0.45"/>
<ellipse cx="131.20" cy="78.60" rx="5.60" ry="6.60" fill="#858585" filter="url(#b10)"/>
<ellipse cx="131.20" cy="78.00" rx="2.80" ry="3.00" fill="#999" filter="url(#b06)"/>
<ellipse cx="131.00" cy="60.60" rx="10.60" ry="6.90" fill="none" stroke="#1e1e1e" stroke-width="1.8" filter="url(#b05)"/>
<ellipse cx="131.20" cy="78.60" rx="7.00" ry="7.80" fill="none" stroke="#262626" stroke-width="1.5" filter="url(#b06)"/>
<ellipse cx="130.80" cy="60.60" rx="9.00" ry="5.60" fill="#bdbdbd" filter="url(#b06)"/>
<ellipse cx="130.80" cy="60.60" rx="6.00" ry="3.60" fill="#a6a6a6" filter="url(#b06)"/>
<ellipse cx="130.60" cy="60.60" rx="2.60" ry="1.60" fill="none" stroke="#333" stroke-width="1.1" filter="url(#b05)"/>
<ellipse cx="166.50" cy="61.30" rx="11.00" ry="4.00" transform="rotate(-37 166.50 61.30)" fill="#2c2c2c" filter="url(#b05)"/>
<ellipse cx="166.80" cy="61.10" rx="6.00" ry="1.90" transform="rotate(-37 166.80 61.10)" fill="#8a8a8a" filter="url(#b05)"/>
</g>
<ellipse cx="166.60" cy="61.30" rx="13.60" ry="5.60" transform="rotate(-37 166.60 61.30)" fill="none" stroke="#444" stroke-width="0.65"/>
<path d="M119.5 43.4h2.4M119.5 55.6h2.4M119.5 68.7h2.4M119.5 82.2h2.4M119.5 88.2h2.4M120.6 40.1h1.3M120.6 42.7h1.3M120.6 45.3h1.3M120.6 47.9h1.3M120.6 50.5h1.3M120.6 53.1h1.3M120.6 55.7h1.3M120.6 58.3h1.3M120.6 60.9h1.3M120.6 63.5h1.3M120.6 66.1h1.3M120.6 68.7h1.3M120.6 71.3h1.3M120.6 73.9h1.3M120.6 76.5h1.3M120.6 79.1h1.3M120.6 81.7h1.3M120.6 84.3h1.3M120.6 86.9h1.3M120.6 89.5h1.3M120.6 92.1h1.3M131.5 94.1v2.4M146.7 94.1v2.4M161.1 94.1v2.4M174.7 94.1v2.4M124.4 94.1v1.3M127.0 94.1v1.3M129.6 94.1v1.3M132.2 94.1v1.3M134.8 94.1v1.3M137.4 94.1v1.3M140.0 94.1v1.3M142.6 94.1v1.3M145.2 94.1v1.3M147.8 94.1v1.3M150.4 94.1v1.3M153.0 94.1v1.3M155.6 94.1v1.3M158.2 94.1v1.3M160.8 94.1v1.3M163.4 94.1v1.3M166.0 94.1v1.3M168.6 94.1v1.3M171.2 94.1v1.3M173.8 94.1v1.3M176.4 94.1v1.3M179.0 94.1v1.3" stroke="#1a1a1a" stroke-width="0.8" fill="none"/>
<path d="M121.9 37.6 H182.1 V94.1" fill="none" stroke="#111" stroke-width="1.25"/>
<path d="M121.9 37.6 V94.1 H182.1" fill="none" stroke="#111" stroke-width="1.6"/>
<text transform="matrix(1.0364,0,0,1,108.39,45.40)" font-size="5.915" fill="#222" stroke="#222" stroke-width="0.16">10</text>
<text transform="matrix(0.9825,0,0,1,115.45,42.67)" font-size="3.857" fill="#222" stroke="#222" stroke-width="0.16">5</text>
<text transform="matrix(1.0364,0,0,1,108.39,57.66)" font-size="5.915" fill="#222" stroke="#222" stroke-width="0.16">10</text>
<text transform="matrix(0.9200,0,0,1,115.51,54.97)" font-size="3.913" fill="#222" stroke="#222" stroke-width="0.16">4</text>
<text transform="matrix(1.0364,0,0,1,108.39,70.72)" font-size="5.915" fill="#222" stroke="#222" stroke-width="0.16">10</text>
<text transform="matrix(1.0071,0,0,1,115.45,67.99)" font-size="3.803" fill="#222" stroke="#222" stroke-width="0.16">3</text>
<text transform="matrix(1.0364,0,0,1,108.39,84.28)" font-size="5.915" fill="#222" stroke="#222" stroke-width="0.16">10</text>
<text transform="matrix(1.0256,0,0,1,115.40,81.58)" font-size="3.857" fill="#222" stroke="#222" stroke-width="0.16">2</text>
<text transform="matrix(1.0321,0,0,1,111.91,90.21)" font-size="5.915" fill="#222" stroke="#222" stroke-width="0.16">0</text>
<text transform="matrix(1.0321,0,0,1,129.84,106.14)" font-size="5.915" fill="#222" stroke="#222" stroke-width="0.16">0</text>
<text transform="matrix(1.0364,0,0,1,143.16,106.14)" font-size="5.915" fill="#222" stroke="#222" stroke-width="0.16">10</text>
<text transform="matrix(1.0071,0,0,1,150.22,103.41)" font-size="3.803" fill="#222" stroke="#222" stroke-width="0.16">3</text>
<text transform="matrix(1.0364,0,0,1,157.61,106.14)" font-size="5.915" fill="#222" stroke="#222" stroke-width="0.16">10</text>
<text transform="matrix(0.9200,0,0,1,164.73,103.45)" font-size="3.913" fill="#222" stroke="#222" stroke-width="0.16">4</text>
<text transform="matrix(1.0364,0,0,1,171.16,106.14)" font-size="5.915" fill="#222" stroke="#222" stroke-width="0.16">10</text>
<text transform="matrix(0.9825,0,0,1,178.21,103.41)" font-size="3.857" fill="#222" stroke="#222" stroke-width="0.16">5</text>
<text transform="matrix(1.0540,0,0,1,156.66,44.69)" font-size="6.197" fill="#222" stroke="#222" stroke-width="0.16">10.2%</text>
<clipPath id="c107"><rect x="201.6" y="37.6" width="60.00000000000003" height="56.49999999999999"/></clipPath>
<g clip-path="url(#c107)">
<path d="M213.5 68.0h0.7v0.7h-0.7zM200.0 64.9h0.7v0.7h-0.7zM218.8 70.5h0.7v0.7h-0.7zM219.8 69.6h0.7v0.7h-0.7zM194.6 69.7h0.7v0.7h-0.7zM208.6 67.5h0.7v0.7h-0.7zM209.3 66.7h0.7v0.7h-0.7zM206.2 72.7h0.7v0.7h-0.7zM214.7 67.0h0.7v0.7h-0.7zM209.4 71.9h0.7v0.7h-0.7zM214.3 69.6h0.7v0.7h-0.7zM204.6 67.7h0.7v0.7h-0.7zM205.2 63.2h0.7v0.7h-0.7zM217.3 68.0h0.7v0.7h-0.7zM209.5 66.1h0.7v0.7h-0.7zM216.5 75.3h0.7v0.7h-0.7zM215.5 71.8h0.7v0.7h-0.7zM204.5 69.5h0.7v0.7h-0.7zM213.3 73.4h0.7v0.7h-0.7zM212.0 66.1h0.7v0.7h-0.7zM211.6 67.7h0.7v0.7h-0.7zM220.6 71.0h0.7v0.7h-0.7zM214.0 69.5h0.7v0.7h-0.7zM217.0 67.5h0.7v0.7h-0.7zM206.4 63.3h0.7v0.7h-0.7zM219.1 70.5h0.7v0.7h-0.7zM215.8 69.1h0.7v0.7h-0.7zM221.9 66.0h0.7v0.7h-0.7zM219.1 66.4h0.7v0.7h-0.7zM209.2 65.3h0.7v0.7h-0.7zM212.5 68.1h0.7v0.7h-0.7zM214.5 67.2h0.7v0.7h-0.7zM203.5 70.6h0.7v0.7h-0.7zM219.6 71.2h0.7v0.7h-0.7zM211.6 70.2h0.7v0.7h-0.7zM201.7 67.9h0.7v0.7h-0.7zM218.8 70.3h0.7v0.7h-0.7zM206.7 71.5h0.7v0.7h-0.7zM211.1 71.1h0.7v0.7h-0.7zM203.4 67.3h0.7v0.7h-0.7zM213.8 69.8h0.7v0.7h-0.7zM215.2 68.9h0.7v0.7h-0.7zM210.7 70.3h0.7v0.7h-0.7zM217.0 64.4h0.7v0.7h-0.7zM209.9 68.3h0.7v0.7h-0.7zM212.8 72.0h0.7v0.7h-0.7zM203.9 70.5h0.7v0.7h-0.7zM201.5 66.7h0.7v0.7h-0.7zM208.7 68.1h0.7v0.7h-0.7zM208.2 67.4h0.7v0.7h-0.7zM209.8 68.1h0.7v0.7h-0.7zM200.8 64.7h0.7v0.7h-0.7zM209.3 70.5h0.7v0.7h-0.7zM217.9 77.5h0.7v0.7h-0.7zM212.5 66.6h0.7v0.7h-0.7zM212.9 71.0h0.7v0.7h-0.7zM212.7 65.8h0.7v0.7h-0.7zM211.3 68.8h0.7v0.7h-0.7zM203.5 65.3h0.7v0.7h-0.7zM219.0 62.3h0.7v0.7h-0.7zM212.9 68.2h0.7v0.7h-0.7zM220.2 70.8h0.7v0.7h-0.7zM206.7 72.7h0.7v0.7h-0.7zM208.5 74.9h0.7v0.7h-0.7zM221.8 68.7h0.7v0.7h-0.7zM216.5 69.5h0.7v0.7h-0.7zM206.5 72.1h0.7v0.7h-0.7zM214.4 71.5h0.7v0.7h-0.7zM218.3 73.2h0.7v0.7h-0.7zM218.1 68.7h0.7v0.7h-0.7zM212.5 70.2h0.7v0.7h-0.7zM211.2 68.3h0.7v0.7h-0.7zM223.0 70.4h0.7v0.7h-0.7zM223.2 66.7h0.7v0.7h-0.7zM211.7 67.7h0.7v0.7h-0.7zM209.6 68.1h0.7v0.7h-0.7zM211.2 67.7h0.7v0.7h-0.7zM222.7 71.0h0.7v0.7h-0.7zM207.6 67.4h0.7v0.7h-0.7zM216.4 70.6h0.7v0.7h-0.7zM208.4 71.7h0.7v0.7h-0.7zM203.5 67.6h0.7v0.7h-0.7zM222.2 61.3h0.7v0.7h-0.7zM210.8 71.9h0.7v0.7h-0.7zM211.1 66.7h0.7v0.7h-0.7zM206.7 62.8h0.7v0.7h-0.7zM204.1 69.2h0.7v0.7h-0.7zM208.6 69.0h0.7v0.7h-0.7zM211.1 69.8h0.7v0.7h-0.7zM202.1 68.1h0.7v0.7h-0.7z" fill="#666" fill-opacity="0.35"/>
<path d="M227.3 55.8h0.7v0.7h-0.7zM223.0 48.3h0.7v0.7h-0.7zM235.0 60.2h0.7v0.7h-0.7zM248.8 59.9h0.7v0.7h-0.7zM243.0 59.4h0.7v0.7h-0.7zM227.0 59.0h0.7v0.7h-0.7zM220.7 58.0h0.7v0.7h-0.7zM229.1 52.8h0.7v0.7h-0.7zM239.7 61.4h0.7v0.7h-0.7zM233.7 60.2h0.7v0.7h-0.7zM243.0 56.5h0.7v0.7h-0.7zM219.3 53.2h0.7v0.7h-0.7zM235.5 57.9h0.7v0.7h-0.7zM218.2 62.2h0.7v0.7h-0.7zM231.7 63.4h0.7v0.7h-0.7zM239.0 55.3h0.7v0.7h-0.7zM230.8 54.1h0.7v0.7h-0.7zM223.4 55.8h0.7v0.7h-0.7zM234.0 62.5h0.7v0.7h-0.7zM223.0 59.8h0.7v0.7h-0.7zM230.4 56.2h0.7v0.7h-0.7zM239.1 55.7h0.7v0.7h-0.7zM241.1 55.8h0.7v0.7h-0.7zM222.8 60.1h0.7v0.7h-0.7zM218.6 52.4h0.7v0.7h-0.7zM228.7 57.1h0.7v0.7h-0.7zM228.1 49.3h0.7v0.7h-0.7zM219.6 59.1h0.7v0.7h-0.7zM234.5 53.1h0.7v0.7h-0.7zM232.3 57.9h0.7v0.7h-0.7zM238.3 54.2h0.7v0.7h-0.7zM241.8 55.9h0.7v0.7h-0.7zM241.7 60.8h0.7v0.7h-0.7zM222.2 55.9h0.7v0.7h-0.7zM232.5 61.2h0.7v0.7h-0.7zM219.3 55.1h0.7v0.7h-0.7zM235.2 59.0h0.7v0.7h-0.7zM221.9 53.6h0.7v0.7h-0.7zM233.7 53.1h0.7v0.7h-0.7zM232.1 60.8h0.7v0.7h-0.7zM230.4 46.5h0.7v0.7h-0.7zM239.6 61.7h0.7v0.7h-0.7zM241.6 60.6h0.7v0.7h-0.7zM216.9 62.8h0.7v0.7h-0.7zM233.0 60.9h0.7v0.7h-0.7zM229.0 56.2h0.7v0.7h-0.7zM228.4 63.5h0.7v0.7h-0.7zM232.5 56.3h0.7v0.7h-0.7zM220.1 59.0h0.7v0.7h-0.7zM230.4 57.8h0.7v0.7h-0.7z" fill="#888" fill-opacity="0.3"/>
<ellipse cx="212.20" cy="55.20" rx="10.90" ry="8.20" fill="#555" filter="url(#b15)" opacity="0.45"/>
<ellipse cx="212.20" cy="55.20" rx="9.30" ry="6.60" fill="#bdbdbd" stroke="#333" stroke-width="2.9" filter="url(#b05)"/>
<ellipse cx="212.20" cy="55.20" rx="5.77" ry="3.96" fill="#969696" filter="url(#b06)"/>
<ellipse cx="212.20" cy="55.20" rx="2.79" ry="0.92" fill="#333" filter="url(#b05)"/>
<path d="M216.2 61.7h0.8v0.8h-0.8zM207.8 61.2h0.8v0.8h-0.8zM223.7 55.4h0.8v0.8h-0.8zM204.5 59.5h0.8v0.8h-0.8zM206.4 50.3h0.8v0.8h-0.8zM208.1 46.5h0.8v0.8h-0.8zM209.6 46.7h0.8v0.8h-0.8zM211.5 63.2h0.8v0.8h-0.8zM221.2 51.7h0.8v0.8h-0.8zM202.1 53.1h0.8v0.8h-0.8zM214.4 61.2h0.8v0.8h-0.8zM221.7 52.3h0.8v0.8h-0.8zM207.2 48.3h0.8v0.8h-0.8zM208.1 48.5h0.8v0.8h-0.8zM203.8 50.2h0.8v0.8h-0.8zM221.5 55.3h0.8v0.8h-0.8zM202.2 52.7h0.8v0.8h-0.8zM210.7 49.2h0.8v0.8h-0.8zM207.0 48.7h0.8v0.8h-0.8zM214.2 62.0h0.8v0.8h-0.8zM203.7 56.2h0.8v0.8h-0.8zM210.6 48.1h0.8v0.8h-0.8zM220.6 50.8h0.8v0.8h-0.8zM213.4 62.1h0.8v0.8h-0.8zM201.9 51.5h0.8v0.8h-0.8zM220.7 58.1h0.8v0.8h-0.8zM217.4 62.7h0.8v0.8h-0.8zM204.1 60.9h0.8v0.8h-0.8zM221.6 55.9h0.8v0.8h-0.8zM204.8 62.2h0.8v0.8h-0.8zM218.1 50.7h0.8v0.8h-0.8zM208.7 62.8h0.8v0.8h-0.8zM218.2 61.4h0.8v0.8h-0.8zM221.1 60.2h0.8v0.8h-0.8zM204.4 53.2h0.8v0.8h-0.8zM205.1 58.9h0.8v0.8h-0.8zM205.8 50.4h0.8v0.8h-0.8zM203.8 59.6h0.8v0.8h-0.8zM202.0 53.9h0.8v0.8h-0.8zM203.7 59.4h0.8v0.8h-0.8zM209.8 62.3h0.8v0.8h-0.8zM221.5 55.6h0.8v0.8h-0.8zM210.5 61.3h0.8v0.8h-0.8zM211.7 48.1h0.8v0.8h-0.8zM206.1 61.8h0.8v0.8h-0.8zM213.8 46.8h0.8v0.8h-0.8zM221.4 57.0h0.8v0.8h-0.8zM208.9 47.0h0.8v0.8h-0.8zM216.1 49.6h0.8v0.8h-0.8zM212.6 63.4h0.8v0.8h-0.8zM205.8 59.7h0.8v0.8h-0.8zM211.3 62.9h0.8v0.8h-0.8zM203.9 57.8h0.8v0.8h-0.8zM220.0 52.0h0.8v0.8h-0.8zM209.1 48.6h0.8v0.8h-0.8zM221.7 60.6h0.8v0.8h-0.8zM221.6 55.1h0.8v0.8h-0.8zM207.5 47.9h0.8v0.8h-0.8zM216.3 48.2h0.8v0.8h-0.8zM217.9 48.6h0.8v0.8h-0.8zM221.5 51.4h0.8v0.8h-0.8zM214.0 47.2h0.8v0.8h-0.8zM211.1 61.5h0.8v0.8h-0.8zM212.0 47.6h0.8v0.8h-0.8zM207.0 48.4h0.8v0.8h-0.8zM204.0 58.7h0.8v0.8h-0.8zM219.5 49.5h0.8v0.8h-0.8zM221.1 55.7h0.8v0.8h-0.8zM201.1 55.0h0.8v0.8h-0.8zM219.2 50.6h0.8v0.8h-0.8zM202.5 53.8h0.8v0.8h-0.8zM203.9 60.8h0.8v0.8h-0.8zM221.2 60.6h0.8v0.8h-0.8zM215.7 61.7h0.8v0.8h-0.8zM211.3 62.1h0.8v0.8h-0.8zM223.7 54.8h0.8v0.8h-0.8zM205.9 53.8h0.8v0.8h-0.8zM208.0 63.4h0.8v0.8h-0.8zM221.2 49.5h0.8v0.8h-0.8zM205.4 51.0h0.8v0.8h-0.8zM209.0 63.5h0.8v0.8h-0.8zM206.2 48.7h0.8v0.8h-0.8zM222.9 56.5h0.8v0.8h-0.8zM205.0 54.5h0.8v0.8h-0.8zM202.7 54.0h0.8v0.8h-0.8zM221.3 58.3h0.8v0.8h-0.8zM207.0 49.2h0.8v0.8h-0.8zM221.8 56.2h0.8v0.8h-0.8zM215.6 62.0h0.8v0.8h-0.8zM211.8 50.4h0.8v0.8h-0.8zM204.1 59.4h0.8v0.8h-0.8zM210.5 48.5h0.8v0.8h-0.8zM202.4 53.4h0.8v0.8h-0.8zM202.9 56.8h0.8v0.8h-0.8zM203.7 51.1h0.8v0.8h-0.8zM222.7 56.2h0.8v0.8h-0.8zM224.7 55.4h0.8v0.8h-0.8zM220.7 52.6h0.8v0.8h-0.8zM207.7 46.7h0.8v0.8h-0.8zM216.2 61.9h0.8v0.8h-0.8zM209.0 49.0h0.8v0.8h-0.8zM219.7 52.4h0.8v0.8h-0.8zM218.1 48.1h0.8v0.8h-0.8zM207.0 50.5h0.8v0.8h-0.8zM201.0 53.9h0.8v0.8h-0.8zM204.6 49.7h0.8v0.8h-0.8zM216.1 61.6h0.8v0.8h-0.8zM203.4 57.5h0.8v0.8h-0.8zM219.9 49.6h0.8v0.8h-0.8zM205.4 61.0h0.8v0.8h-0.8zM211.0 63.3h0.8v0.8h-0.8zM202.1 54.2h0.8v0.8h-0.8zM215.9 48.7h0.8v0.8h-0.8zM220.2 49.8h0.8v0.8h-0.8zM220.9 55.1h0.8v0.8h-0.8zM223.2 53.4h0.8v0.8h-0.8zM220.2 59.9h0.8v0.8h-0.8zM203.8 57.0h0.8v0.8h-0.8zM203.8 53.1h0.8v0.8h-0.8zM207.9 48.7h0.8v0.8h-0.8zM218.2 58.9h0.8v0.8h-0.8zM204.3 61.8h0.8v0.8h-0.8zM204.0 61.1h0.8v0.8h-0.8zM205.3 51.2h0.8v0.8h-0.8zM205.4 60.6h0.8v0.8h-0.8zM207.3 63.5h0.8v0.8h-0.8zM216.4 62.5h0.8v0.8h-0.8zM207.6 49.6h0.8v0.8h-0.8zM209.5 60.3h0.8v0.8h-0.8zM214.5 60.9h0.8v0.8h-0.8zM222.2 50.6h0.8v0.8h-0.8zM204.3 60.4h0.8v0.8h-0.8zM210.3 61.3h0.8v0.8h-0.8zM221.6 59.6h0.8v0.8h-0.8zM202.5 54.3h0.8v0.8h-0.8zM207.1 61.0h0.8v0.8h-0.8zM204.0 51.6h0.8v0.8h-0.8zM208.6 61.8h0.8v0.8h-0.8zM200.1 56.9h0.8v0.8h-0.8zM218.4 60.0h0.8v0.8h-0.8zM221.2 57.9h0.8v0.8h-0.8zM223.1 51.6h0.8v0.8h-0.8zM211.0 46.3h0.8v0.8h-0.8zM204.4 58.4h0.8v0.8h-0.8zM216.2 64.2h0.8v0.8h-0.8zM206.2 47.9h0.8v0.8h-0.8zM205.6 51.5h0.8v0.8h-0.8zM203.1 48.9h0.8v0.8h-0.8zM220.4 54.3h0.8v0.8h-0.8zM205.5 61.7h0.8v0.8h-0.8zM220.1 52.4h0.8v0.8h-0.8zM205.0 57.6h0.8v0.8h-0.8zM223.4 53.9h0.8v0.8h-0.8zM222.8 53.8h0.8v0.8h-0.8zM203.5 59.0h0.8v0.8h-0.8zM201.8 55.3h0.8v0.8h-0.8zM220.2 50.7h0.8v0.8h-0.8zM219.9 50.7h0.8v0.8h-0.8zM219.5 58.9h0.8v0.8h-0.8zM201.3 55.0h0.8v0.8h-0.8zM220.5 59.6h0.8v0.8h-0.8zM217.8 49.2h0.8v0.8h-0.8zM211.0 62.1h0.8v0.8h-0.8zM207.5 61.6h0.8v0.8h-0.8zM208.7 60.7h0.8v0.8h-0.8zM210.3 48.1h0.8v0.8h-0.8zM208.2 61.1h0.8v0.8h-0.8zM201.2 58.4h0.8v0.8h-0.8zM218.5 50.5h0.8v0.8h-0.8zM203.2 57.8h0.8v0.8h-0.8zM221.1 51.5h0.8v0.8h-0.8zM221.9 51.1h0.8v0.8h-0.8zM201.8 57.4h0.8v0.8h-0.8zM213.4 62.7h0.8v0.8h-0.8zM224.2 51.6h0.8v0.8h-0.8zM202.7 52.5h0.8v0.8h-0.8zM205.7 61.4h0.8v0.8h-0.8zM225.0 58.9h0.8v0.8h-0.8zM203.4 56.7h0.8v0.8h-0.8zM223.4 57.0h0.8v0.8h-0.8zM204.7 49.5h0.8v0.8h-0.8zM205.5 59.0h0.8v0.8h-0.8zM209.8 61.9h0.8v0.8h-0.8zM214.3 63.3h0.8v0.8h-0.8zM212.6 49.1h0.8v0.8h-0.8zM220.2 50.9h0.8v0.8h-0.8zM223.6 55.7h0.8v0.8h-0.8zM202.5 53.9h0.8v0.8h-0.8zM221.5 58.9h0.8v0.8h-0.8zM221.3 56.7h0.8v0.8h-0.8zM221.5 54.5h0.8v0.8h-0.8zM208.6 61.6h0.8v0.8h-0.8zM202.7 53.7h0.8v0.8h-0.8zM221.2 50.6h0.8v0.8h-0.8zM205.7 49.3h0.8v0.8h-0.8zM204.7 62.8h0.8v0.8h-0.8zM209.0 47.5h0.8v0.8h-0.8zM214.4 47.6h0.8v0.8h-0.8zM204.2 47.6h0.8v0.8h-0.8zM204.6 60.0h0.8v0.8h-0.8zM212.5 48.5h0.8v0.8h-0.8zM204.9 60.7h0.8v0.8h-0.8zM206.5 60.1h0.8v0.8h-0.8zM210.1 63.0h0.8v0.8h-0.8zM224.0 53.8h0.8v0.8h-0.8zM220.3 60.7h0.8v0.8h-0.8zM221.3 57.5h0.8v0.8h-0.8zM209.6 62.3h0.8v0.8h-0.8zM219.9 60.8h0.8v0.8h-0.8zM204.4 61.6h0.8v0.8h-0.8zM221.2 52.5h0.8v0.8h-0.8zM221.4 52.9h0.8v0.8h-0.8zM213.8 63.7h0.8v0.8h-0.8zM209.2 62.6h0.8v0.8h-0.8zM203.5 59.7h0.8v0.8h-0.8zM222.5 52.7h0.8v0.8h-0.8zM211.3 61.9h0.8v0.8h-0.8zM213.0 47.9h0.8v0.8h-0.8zM204.8 48.7h0.8v0.8h-0.8zM219.5 50.1h0.8v0.8h-0.8z" fill="#222" fill-opacity="0.35"/>
<path d="M203.6 77 C205.5 73.8 218.8 73.8 220.8 77 C221.5 81.5 219.6 87 216.2 90 C212 91.8 207.5 91.5 205 89 C203.2 85 203.1 80.5 203.6 77 Z" fill="#555" filter="url(#b15)" opacity="0.35"/>
<path d="M203.6 77 C205.5 73.8 218.8 73.8 220.8 77 C221.5 81.5 219.6 87 216.2 90 C212 91.8 207.5 91.5 205 89 C203.2 85 203.1 80.5 203.6 77 Z" fill="#b0b0b0" stroke="#333" stroke-width="2.9" filter="url(#b05)"/>
<path d="M210.2 91.0h0.8v0.8h-0.8zM218.0 91.3h0.8v0.8h-0.8zM217.6 89.8h0.8v0.8h-0.8zM210.8 73.9h0.8v0.8h-0.8zM204.7 85.9h0.8v0.8h-0.8zM205.5 88.1h0.8v0.8h-0.8zM209.7 74.0h0.8v0.8h-0.8zM205.8 75.7h0.8v0.8h-0.8zM204.5 84.3h0.8v0.8h-0.8zM205.3 76.1h0.8v0.8h-0.8zM208.5 91.9h0.8v0.8h-0.8zM203.1 86.6h0.8v0.8h-0.8zM208.6 75.4h0.8v0.8h-0.8zM222.7 83.9h0.8v0.8h-0.8zM203.3 88.1h0.8v0.8h-0.8zM204.9 89.1h0.8v0.8h-0.8zM208.6 89.6h0.8v0.8h-0.8zM204.4 82.4h0.8v0.8h-0.8zM208.6 73.7h0.8v0.8h-0.8zM211.6 74.3h0.8v0.8h-0.8zM213.2 74.7h0.8v0.8h-0.8zM204.4 75.3h0.8v0.8h-0.8zM222.8 83.5h0.8v0.8h-0.8zM212.4 92.6h0.8v0.8h-0.8zM206.7 73.0h0.8v0.8h-0.8zM220.1 89.5h0.8v0.8h-0.8zM205.0 78.6h0.8v0.8h-0.8zM223.1 83.5h0.8v0.8h-0.8zM217.4 74.4h0.8v0.8h-0.8zM217.2 91.1h0.8v0.8h-0.8zM201.7 87.0h0.8v0.8h-0.8zM219.5 89.3h0.8v0.8h-0.8zM217.3 92.6h0.8v0.8h-0.8zM202.7 84.2h0.8v0.8h-0.8zM203.1 81.3h0.8v0.8h-0.8zM217.9 76.0h0.8v0.8h-0.8zM214.7 91.4h0.8v0.8h-0.8zM217.8 77.5h0.8v0.8h-0.8zM213.0 91.8h0.8v0.8h-0.8zM204.8 88.2h0.8v0.8h-0.8zM220.9 80.3h0.8v0.8h-0.8zM205.3 81.9h0.8v0.8h-0.8zM212.0 89.4h0.8v0.8h-0.8zM202.2 85.5h0.8v0.8h-0.8zM215.9 75.1h0.8v0.8h-0.8zM219.9 74.5h0.8v0.8h-0.8zM218.8 88.1h0.8v0.8h-0.8zM202.2 81.5h0.8v0.8h-0.8zM206.6 87.9h0.8v0.8h-0.8zM219.9 86.8h0.8v0.8h-0.8zM203.5 85.9h0.8v0.8h-0.8zM209.3 92.2h0.8v0.8h-0.8zM211.4 71.2h0.8v0.8h-0.8zM222.9 83.6h0.8v0.8h-0.8zM204.7 84.8h0.8v0.8h-0.8zM206.8 90.3h0.8v0.8h-0.8zM203.9 86.9h0.8v0.8h-0.8zM204.1 86.0h0.8v0.8h-0.8zM222.4 81.2h0.8v0.8h-0.8zM207.7 72.2h0.8v0.8h-0.8zM205.4 88.4h0.8v0.8h-0.8zM206.5 91.6h0.8v0.8h-0.8zM201.8 86.8h0.8v0.8h-0.8zM219.8 79.2h0.8v0.8h-0.8zM202.6 75.9h0.8v0.8h-0.8zM223.3 79.2h0.8v0.8h-0.8zM214.9 91.9h0.8v0.8h-0.8zM200.6 81.0h0.8v0.8h-0.8zM210.4 73.0h0.8v0.8h-0.8zM217.2 72.9h0.8v0.8h-0.8zM220.5 88.7h0.8v0.8h-0.8zM205.1 87.2h0.8v0.8h-0.8zM219.1 75.5h0.8v0.8h-0.8zM205.1 76.5h0.8v0.8h-0.8zM217.9 89.4h0.8v0.8h-0.8zM205.0 86.4h0.8v0.8h-0.8zM203.5 82.4h0.8v0.8h-0.8zM220.3 82.6h0.8v0.8h-0.8zM202.6 87.6h0.8v0.8h-0.8zM205.0 83.6h0.8v0.8h-0.8zM221.6 80.3h0.8v0.8h-0.8zM203.4 81.5h0.8v0.8h-0.8zM204.2 81.2h0.8v0.8h-0.8zM221.5 87.2h0.8v0.8h-0.8zM220.6 84.5h0.8v0.8h-0.8zM201.5 85.2h0.8v0.8h-0.8zM205.8 75.8h0.8v0.8h-0.8zM214.2 92.1h0.8v0.8h-0.8zM203.7 78.4h0.8v0.8h-0.8zM220.8 88.2h0.8v0.8h-0.8zM210.6 92.9h0.8v0.8h-0.8zM203.2 81.3h0.8v0.8h-0.8zM208.8 91.3h0.8v0.8h-0.8zM201.2 86.4h0.8v0.8h-0.8zM210.1 74.0h0.8v0.8h-0.8zM217.3 92.9h0.8v0.8h-0.8zM207.1 75.1h0.8v0.8h-0.8zM220.9 80.4h0.8v0.8h-0.8zM215.6 75.9h0.8v0.8h-0.8zM206.1 88.4h0.8v0.8h-0.8zM207.4 76.9h0.8v0.8h-0.8zM219.0 88.2h0.8v0.8h-0.8zM210.4 72.4h0.8v0.8h-0.8zM212.1 73.2h0.8v0.8h-0.8zM213.8 91.0h0.8v0.8h-0.8zM206.1 88.1h0.8v0.8h-0.8zM205.3 77.2h0.8v0.8h-0.8zM207.9 76.1h0.8v0.8h-0.8zM206.3 77.1h0.8v0.8h-0.8zM212.1 70.8h0.8v0.8h-0.8zM218.0 74.7h0.8v0.8h-0.8zM203.9 84.1h0.8v0.8h-0.8zM222.6 83.5h0.8v0.8h-0.8zM216.1 72.0h0.8v0.8h-0.8zM219.0 88.0h0.8v0.8h-0.8zM202.9 80.8h0.8v0.8h-0.8zM210.4 74.8h0.8v0.8h-0.8zM214.9 75.5h0.8v0.8h-0.8zM201.1 80.4h0.8v0.8h-0.8zM203.0 72.5h0.8v0.8h-0.8zM220.7 80.6h0.8v0.8h-0.8zM213.2 75.1h0.8v0.8h-0.8zM209.8 93.3h0.8v0.8h-0.8zM222.2 78.3h0.8v0.8h-0.8zM207.8 73.5h0.8v0.8h-0.8zM208.5 93.0h0.8v0.8h-0.8zM210.7 91.4h0.8v0.8h-0.8zM202.9 85.9h0.8v0.8h-0.8zM201.7 81.9h0.8v0.8h-0.8zM217.4 75.0h0.8v0.8h-0.8zM202.4 85.2h0.8v0.8h-0.8zM210.0 73.7h0.8v0.8h-0.8zM207.0 91.0h0.8v0.8h-0.8zM202.6 84.4h0.8v0.8h-0.8zM208.9 88.8h0.8v0.8h-0.8zM204.6 88.5h0.8v0.8h-0.8zM209.7 75.2h0.8v0.8h-0.8zM213.2 90.8h0.8v0.8h-0.8zM204.6 83.0h0.8v0.8h-0.8zM211.7 72.2h0.8v0.8h-0.8zM221.4 83.1h0.8v0.8h-0.8zM204.5 87.3h0.8v0.8h-0.8zM213.8 71.7h0.8v0.8h-0.8zM206.4 74.0h0.8v0.8h-0.8zM215.9 74.1h0.8v0.8h-0.8zM211.9 89.4h0.8v0.8h-0.8zM204.4 75.8h0.8v0.8h-0.8zM208.9 91.0h0.8v0.8h-0.8zM220.1 87.0h0.8v0.8h-0.8zM214.5 72.5h0.8v0.8h-0.8zM209.5 90.8h0.8v0.8h-0.8zM211.2 73.3h0.8v0.8h-0.8zM213.6 72.2h0.8v0.8h-0.8zM215.7 73.0h0.8v0.8h-0.8zM210.0 90.9h0.8v0.8h-0.8zM215.8 72.0h0.8v0.8h-0.8zM212.6 93.2h0.8v0.8h-0.8zM206.1 72.5h0.8v0.8h-0.8zM221.7 83.0h0.8v0.8h-0.8zM214.4 73.1h0.8v0.8h-0.8zM222.2 86.6h0.8v0.8h-0.8zM210.2 72.8h0.8v0.8h-0.8zM205.6 75.4h0.8v0.8h-0.8zM221.0 86.1h0.8v0.8h-0.8zM204.2 78.0h0.8v0.8h-0.8zM209.8 74.2h0.8v0.8h-0.8zM215.3 74.4h0.8v0.8h-0.8zM222.2 81.3h0.8v0.8h-0.8zM212.8 91.5h0.8v0.8h-0.8zM205.1 86.0h0.8v0.8h-0.8zM205.7 89.5h0.8v0.8h-0.8zM206.1 72.8h0.8v0.8h-0.8zM216.3 92.7h0.8v0.8h-0.8zM205.5 79.9h0.8v0.8h-0.8zM212.8 90.9h0.8v0.8h-0.8zM214.9 92.5h0.8v0.8h-0.8zM212.5 73.0h0.8v0.8h-0.8zM203.0 79.7h0.8v0.8h-0.8zM213.9 73.4h0.8v0.8h-0.8zM207.2 74.4h0.8v0.8h-0.8zM217.2 75.9h0.8v0.8h-0.8zM201.3 84.1h0.8v0.8h-0.8zM220.5 83.1h0.8v0.8h-0.8zM221.6 82.5h0.8v0.8h-0.8zM213.7 93.6h0.8v0.8h-0.8zM217.1 72.9h0.8v0.8h-0.8zM215.2 91.4h0.8v0.8h-0.8zM202.6 81.9h0.8v0.8h-0.8zM210.1 90.9h0.8v0.8h-0.8zM207.2 75.1h0.8v0.8h-0.8zM220.4 86.9h0.8v0.8h-0.8zM222.3 87.3h0.8v0.8h-0.8zM203.4 84.6h0.8v0.8h-0.8zM218.2 74.3h0.8v0.8h-0.8zM202.3 84.6h0.8v0.8h-0.8zM219.6 89.2h0.8v0.8h-0.8zM221.5 82.1h0.8v0.8h-0.8zM220.5 88.8h0.8v0.8h-0.8zM208.6 91.4h0.8v0.8h-0.8zM203.3 78.7h0.8v0.8h-0.8z" fill="#222" fill-opacity="0.35"/>
<ellipse cx="212.00" cy="81.50" rx="5.00" ry="4.50" fill="#b2b2b2" filter="url(#b06)"/>
<ellipse cx="244.20" cy="55.40" rx="5.20" ry="2.00" transform="rotate(-40 244.20 55.40)" fill="#1e1e1e" filter="url(#b05)"/>
</g>
<ellipse cx="243.60" cy="56.20" rx="10.00" ry="4.40" transform="rotate(-40 243.60 56.20)" fill="none" stroke="#444" stroke-width="0.65"/>
<path d="M199.2 43.4h2.4M199.2 55.6h2.4M199.2 68.7h2.4M199.2 82.2h2.4M199.2 88.2h2.4M200.3 40.1h1.3M200.3 42.7h1.3M200.3 45.3h1.3M200.3 47.9h1.3M200.3 50.5h1.3M200.3 53.1h1.3M200.3 55.7h1.3M200.3 58.3h1.3M200.3 60.9h1.3M200.3 63.5h1.3M200.3 66.1h1.3M200.3 68.7h1.3M200.3 71.3h1.3M200.3 73.9h1.3M200.3 76.5h1.3M200.3 79.1h1.3M200.3 81.7h1.3M200.3 84.3h1.3M200.3 86.9h1.3M200.3 89.5h1.3M200.3 92.1h1.3M211.2 94.1v2.4M226.3 94.1v2.4M240.7 94.1v2.4M254.2 94.1v2.4M204.1 94.1v1.3M206.7 94.1v1.3M209.3 94.1v1.3M211.9 94.1v1.3M214.5 94.1v1.3M217.1 94.1v1.3M219.7 94.1v1.3M222.3 94.1v1.3M224.9 94.1v1.3M227.5 94.1v1.3M230.1 94.1v1.3M232.7 94.1v1.3M235.3 94.1v1.3M237.9 94.1v1.3M240.5 94.1v1.3M243.1 94.1v1.3M245.7 94.1v1.3M248.3 94.1v1.3M250.9 94.1v1.3M253.5 94.1v1.3M256.1 94.1v1.3M258.7 94.1v1.3" stroke="#1a1a1a" stroke-width="0.8" fill="none"/>
<path d="M201.6 37.6 H261.6 V94.1" fill="none" stroke="#111" stroke-width="1.25"/>
<path d="M201.6 37.6 V94.1 H261.6" fill="none" stroke="#111" stroke-width="1.6"/>
<text transform="matrix(1.0364,0,0,1,188.09,45.40)" font-size="5.915" fill="#222" stroke="#222" stroke-width="0.16">10</text>
<text transform="matrix(0.9825,0,0,1,195.15,42.67)" font-size="3.857" fill="#222" stroke="#222" stroke-width="0.16">5</text>
<text transform="matrix(1.0364,0,0,1,188.09,57.66)" font-size="5.915" fill="#222" stroke="#222" stroke-width="0.16">10</text>
<text transform="matrix(0.9200,0,0,1,195.21,54.97)" font-size="3.913" fill="#222" stroke="#222" stroke-width="0.16">4</text>
<text transform="matrix(1.0364,0,0,1,188.09,70.72)" font-size="5.915" fill="#222" stroke="#222" stroke-width="0.16">10</text>
<text transform="matrix(1.0071,0,0,1,195.15,67.99)" font-size="3.803" fill="#222" stroke="#222" stroke-width="0.16">3</text>
<text transform="matrix(1.0364,0,0,1,188.09,84.28)" font-size="5.915" fill="#222" stroke="#222" stroke-width="0.16">10</text>
<text transform="matrix(1.0256,0,0,1,195.10,81.58)" font-size="3.857" fill="#222" stroke="#222" stroke-width="0.16">2</text>
<text transform="matrix(1.0321,0,0,1,191.61,90.21)" font-size="5.915" fill="#222" stroke="#222" stroke-width="0.16">0</text>
<text transform="matrix(1.0321,0,0,1,209.51,106.14)" font-size="5.915" fill="#222" stroke="#222" stroke-width="0.16">0</text>
<text transform="matrix(1.0364,0,0,1,222.79,106.14)" font-size="5.915" fill="#222" stroke="#222" stroke-width="0.16">10</text>
<text transform="matrix(1.0071,0,0,1,229.85,103.41)" font-size="3.803" fill="#222" stroke="#222" stroke-width="0.16">3</text>
<text transform="matrix(1.0364,0,0,1,237.19,106.14)" font-size="5.915" fill="#222" stroke="#222" stroke-width="0.16">10</text>
<text transform="matrix(0.9200,0,0,1,244.31,103.45)" font-size="3.913" fill="#222" stroke="#222" stroke-width="0.16">4</text>
<text transform="matrix(1.0364,0,0,1,250.69,106.14)" font-size="5.915" fill="#222" stroke="#222" stroke-width="0.16">10</text>
<text transform="matrix(0.9825,0,0,1,257.75,103.41)" font-size="3.857" fill="#222" stroke="#222" stroke-width="0.16">5</text>
<text transform="matrix(1.0244,0,0,1,232.27,44.69)" font-size="6.197" fill="#222" stroke="#222" stroke-width="0.16">1.66%</text>
<clipPath id="c143"><rect x="280.6" y="37.6" width="60.39999999999998" height="56.49999999999999"/></clipPath>
<g clip-path="url(#c143)">
<path d="M283 64 L314 63 C306 70 300 78 296 86 C294 90 292 93 290 93.5 L283 93.5 Z" fill="#5a5a5a" filter="url(#b3)" opacity="0.6"/>
<path d="M289.3 61.0h0.7v0.7h-0.7zM296.5 84.2h0.7v0.7h-0.7zM289.1 76.7h0.7v0.7h-0.7zM293.8 70.4h0.7v0.7h-0.7zM296.4 83.8h0.7v0.7h-0.7zM297.2 85.5h0.7v0.7h-0.7zM280.8 82.4h0.7v0.7h-0.7zM289.5 87.0h0.7v0.7h-0.7zM298.5 84.7h0.7v0.7h-0.7zM291.7 100.5h0.7v0.7h-0.7zM291.9 69.9h0.7v0.7h-0.7zM298.0 66.7h0.7v0.7h-0.7zM303.6 86.3h0.7v0.7h-0.7zM300.1 86.6h0.7v0.7h-0.7zM294.6 67.8h0.7v0.7h-0.7zM288.7 82.8h0.7v0.7h-0.7zM291.0 81.3h0.7v0.7h-0.7zM288.2 72.1h0.7v0.7h-0.7zM294.0 84.2h0.7v0.7h-0.7zM292.3 70.6h0.7v0.7h-0.7zM282.4 94.4h0.7v0.7h-0.7zM285.5 71.4h0.7v0.7h-0.7zM287.9 85.4h0.7v0.7h-0.7zM287.7 82.6h0.7v0.7h-0.7zM294.0 69.2h0.7v0.7h-0.7zM293.1 68.5h0.7v0.7h-0.7zM291.2 84.1h0.7v0.7h-0.7zM290.8 71.0h0.7v0.7h-0.7zM289.7 76.7h0.7v0.7h-0.7zM294.1 60.0h0.7v0.7h-0.7zM281.1 82.0h0.7v0.7h-0.7zM291.4 78.2h0.7v0.7h-0.7zM293.3 76.8h0.7v0.7h-0.7zM289.3 78.9h0.7v0.7h-0.7zM296.0 80.7h0.7v0.7h-0.7zM292.1 69.7h0.7v0.7h-0.7zM293.4 68.8h0.7v0.7h-0.7zM288.0 79.1h0.7v0.7h-0.7zM292.7 86.6h0.7v0.7h-0.7zM297.2 81.8h0.7v0.7h-0.7zM290.0 77.9h0.7v0.7h-0.7zM290.5 91.7h0.7v0.7h-0.7zM294.7 72.8h0.7v0.7h-0.7zM287.0 87.8h0.7v0.7h-0.7zM286.8 80.9h0.7v0.7h-0.7zM293.0 86.4h0.7v0.7h-0.7zM286.8 81.6h0.7v0.7h-0.7zM293.2 84.3h0.7v0.7h-0.7zM300.1 78.8h0.7v0.7h-0.7zM290.7 84.9h0.7v0.7h-0.7zM283.7 79.5h0.7v0.7h-0.7zM286.2 68.5h0.7v0.7h-0.7zM282.7 65.0h0.7v0.7h-0.7zM296.9 84.9h0.7v0.7h-0.7zM292.6 86.2h0.7v0.7h-0.7zM292.2 74.1h0.7v0.7h-0.7zM285.6 84.1h0.7v0.7h-0.7zM296.9 88.0h0.7v0.7h-0.7zM287.3 75.8h0.7v0.7h-0.7zM284.1 87.1h0.7v0.7h-0.7zM296.3 82.2h0.7v0.7h-0.7zM292.0 76.9h0.7v0.7h-0.7zM289.9 86.7h0.7v0.7h-0.7zM288.4 85.2h0.7v0.7h-0.7zM293.8 70.2h0.7v0.7h-0.7zM283.5 72.0h0.7v0.7h-0.7zM291.9 67.9h0.7v0.7h-0.7zM295.8 87.1h0.7v0.7h-0.7zM295.3 64.8h0.7v0.7h-0.7zM278.2 85.0h0.7v0.7h-0.7zM301.0 75.0h0.7v0.7h-0.7zM295.2 76.0h0.7v0.7h-0.7zM288.3 86.0h0.7v0.7h-0.7zM288.8 84.9h0.7v0.7h-0.7zM302.3 77.2h0.7v0.7h-0.7zM303.2 67.8h0.7v0.7h-0.7zM297.6 78.2h0.7v0.7h-0.7zM307.4 78.5h0.7v0.7h-0.7zM287.4 91.1h0.7v0.7h-0.7zM283.0 81.7h0.7v0.7h-0.7zM287.6 89.1h0.7v0.7h-0.7zM291.5 85.0h0.7v0.7h-0.7zM291.9 69.4h0.7v0.7h-0.7zM279.3 92.4h0.7v0.7h-0.7zM293.5 69.0h0.7v0.7h-0.7zM290.2 86.0h0.7v0.7h-0.7zM283.2 96.2h0.7v0.7h-0.7zM290.6 75.2h0.7v0.7h-0.7zM299.8 79.8h0.7v0.7h-0.7zM286.1 85.4h0.7v0.7h-0.7zM294.8 87.1h0.7v0.7h-0.7zM286.6 69.1h0.7v0.7h-0.7zM295.8 74.6h0.7v0.7h-0.7zM279.2 73.4h0.7v0.7h-0.7zM295.8 72.3h0.7v0.7h-0.7zM299.7 74.0h0.7v0.7h-0.7zM291.5 65.1h0.7v0.7h-0.7zM287.2 76.5h0.7v0.7h-0.7zM295.5 79.5h0.7v0.7h-0.7zM298.4 60.7h0.7v0.7h-0.7zM292.2 76.8h0.7v0.7h-0.7zM285.8 77.7h0.7v0.7h-0.7zM287.5 81.4h0.7v0.7h-0.7zM289.9 82.0h0.7v0.7h-0.7zM286.5 88.1h0.7v0.7h-0.7zM294.4 92.2h0.7v0.7h-0.7zM291.2 74.0h0.7v0.7h-0.7zM292.8 74.3h0.7v0.7h-0.7zM285.8 78.1h0.7v0.7h-0.7zM291.6 72.8h0.7v0.7h-0.7zM289.7 70.2h0.7v0.7h-0.7zM292.9 67.2h0.7v0.7h-0.7zM302.2 78.2h0.7v0.7h-0.7zM297.7 68.4h0.7v0.7h-0.7zM294.1 76.9h0.7v0.7h-0.7zM297.9 85.0h0.7v0.7h-0.7zM282.2 87.2h0.7v0.7h-0.7zM283.0 88.7h0.7v0.7h-0.7zM291.7 68.4h0.7v0.7h-0.7zM296.2 78.3h0.7v0.7h-0.7zM286.0 72.1h0.7v0.7h-0.7zM294.9 67.0h0.7v0.7h-0.7zM286.8 92.9h0.7v0.7h-0.7zM287.4 81.0h0.7v0.7h-0.7zM294.7 85.7h0.7v0.7h-0.7zM297.3 57.7h0.7v0.7h-0.7zM289.1 87.5h0.7v0.7h-0.7zM287.2 92.6h0.7v0.7h-0.7zM293.5 68.2h0.7v0.7h-0.7zM295.4 93.6h0.7v0.7h-0.7zM288.0 82.5h0.7v0.7h-0.7zM286.7 73.3h0.7v0.7h-0.7zM292.7 82.2h0.7v0.7h-0.7zM294.1 79.7h0.7v0.7h-0.7zM306.5 69.3h0.7v0.7h-0.7zM280.8 82.5h0.7v0.7h-0.7zM293.2 66.5h0.7v0.7h-0.7zM302.4 72.4h0.7v0.7h-0.7zM283.5 81.4h0.7v0.7h-0.7zM295.9 97.0h0.7v0.7h-0.7zM282.8 67.8h0.7v0.7h-0.7zM290.4 74.5h0.7v0.7h-0.7zM291.6 72.3h0.7v0.7h-0.7zM282.6 74.4h0.7v0.7h-0.7zM296.3 84.4h0.7v0.7h-0.7zM288.1 82.4h0.7v0.7h-0.7zM294.5 74.1h0.7v0.7h-0.7zM289.9 78.4h0.7v0.7h-0.7zM309.0 79.4h0.7v0.7h-0.7zM286.7 76.8h0.7v0.7h-0.7zM288.7 87.3h0.7v0.7h-0.7zM279.0 69.2h0.7v0.7h-0.7zM297.1 81.4h0.7v0.7h-0.7zM292.2 83.9h0.7v0.7h-0.7zM284.0 81.0h0.7v0.7h-0.7zM285.1 67.7h0.7v0.7h-0.7zM295.1 71.6h0.7v0.7h-0.7zM289.9 83.1h0.7v0.7h-0.7zM285.7 83.0h0.7v0.7h-0.7zM305.7 76.5h0.7v0.7h-0.7zM297.9 84.3h0.7v0.7h-0.7zM284.4 67.0h0.7v0.7h-0.7zM292.1 60.9h0.7v0.7h-0.7zM292.3 80.2h0.7v0.7h-0.7zM294.9 81.8h0.7v0.7h-0.7zM300.2 75.4h0.7v0.7h-0.7zM300.3 82.4h0.7v0.7h-0.7zM295.3 76.9h0.7v0.7h-0.7zM297.9 72.1h0.7v0.7h-0.7zM296.5 87.2h0.7v0.7h-0.7zM288.1 70.5h0.7v0.7h-0.7zM287.5 77.8h0.7v0.7h-0.7zM294.3 85.3h0.7v0.7h-0.7zM303.6 91.3h0.7v0.7h-0.7zM293.8 75.0h0.7v0.7h-0.7zM284.8 84.9h0.7v0.7h-0.7zM295.3 75.9h0.7v0.7h-0.7zM291.1 77.2h0.7v0.7h-0.7zM276.5 77.7h0.7v0.7h-0.7zM294.1 77.2h0.7v0.7h-0.7zM285.7 78.6h0.7v0.7h-0.7zM295.1 92.8h0.7v0.7h-0.7zM298.6 83.0h0.7v0.7h-0.7zM291.8 67.3h0.7v0.7h-0.7zM289.3 67.1h0.7v0.7h-0.7zM291.5 86.8h0.7v0.7h-0.7zM298.5 85.5h0.7v0.7h-0.7zM292.3 86.2h0.7v0.7h-0.7zM290.5 62.3h0.7v0.7h-0.7zM293.0 78.5h0.7v0.7h-0.7zM281.6 73.9h0.7v0.7h-0.7zM277.3 74.3h0.7v0.7h-0.7zM299.5 73.0h0.7v0.7h-0.7zM300.1 80.0h0.7v0.7h-0.7zM287.6 63.8h0.7v0.7h-0.7zM296.7 83.6h0.7v0.7h-0.7zM283.1 74.8h0.7v0.7h-0.7zM298.9 72.1h0.7v0.7h-0.7zM294.5 62.4h0.7v0.7h-0.7zM286.5 84.1h0.7v0.7h-0.7zM284.9 66.5h0.7v0.7h-0.7zM283.7 75.1h0.7v0.7h-0.7zM282.6 77.3h0.7v0.7h-0.7zM295.5 90.6h0.7v0.7h-0.7zM289.7 91.3h0.7v0.7h-0.7zM295.5 76.4h0.7v0.7h-0.7zM295.3 90.5h0.7v0.7h-0.7zM301.2 84.3h0.7v0.7h-0.7zM291.6 84.9h0.7v0.7h-0.7zM293.4 79.5h0.7v0.7h-0.7zM293.7 92.9h0.7v0.7h-0.7zM284.9 77.6h0.7v0.7h-0.7zM285.5 85.2h0.7v0.7h-0.7zM298.9 89.2h0.7v0.7h-0.7zM290.0 78.6h0.7v0.7h-0.7zM296.8 79.7h0.7v0.7h-0.7zM293.9 79.8h0.7v0.7h-0.7zM293.8 77.3h0.7v0.7h-0.7zM294.8 66.4h0.7v0.7h-0.7zM289.6 67.5h0.7v0.7h-0.7zM291.6 72.3h0.7v0.7h-0.7zM295.4 88.4h0.7v0.7h-0.7zM284.6 71.9h0.7v0.7h-0.7zM294.2 89.9h0.7v0.7h-0.7zM296.9 81.8h0.7v0.7h-0.7zM291.8 74.7h0.7v0.7h-0.7zM294.5 82.3h0.7v0.7h-0.7zM293.2 73.5h0.7v0.7h-0.7zM282.4 71.4h0.7v0.7h-0.7zM289.9 68.8h0.7v0.7h-0.7zM294.1 66.7h0.7v0.7h-0.7zM290.3 81.1h0.7v0.7h-0.7zM297.1 80.2h0.7v0.7h-0.7zM299.5 73.4h0.7v0.7h-0.7zM287.5 87.0h0.7v0.7h-0.7zM286.8 77.0h0.7v0.7h-0.7zM281.7 87.3h0.7v0.7h-0.7zM296.5 72.1h0.7v0.7h-0.7zM281.6 80.3h0.7v0.7h-0.7zM293.8 87.6h0.7v0.7h-0.7zM303.4 80.1h0.7v0.7h-0.7zM290.8 76.3h0.7v0.7h-0.7zM290.3 67.1h0.7v0.7h-0.7zM286.7 77.5h0.7v0.7h-0.7zM282.2 67.6h0.7v0.7h-0.7zM299.5 72.7h0.7v0.7h-0.7zM297.0 87.0h0.7v0.7h-0.7zM292.2 84.9h0.7v0.7h-0.7zM291.0 71.1h0.7v0.7h-0.7zM291.5 78.8h0.7v0.7h-0.7zM292.9 78.8h0.7v0.7h-0.7zM289.8 86.8h0.7v0.7h-0.7zM291.0 74.9h0.7v0.7h-0.7zM297.8 70.2h0.7v0.7h-0.7zM292.1 90.1h0.7v0.7h-0.7zM292.6 89.7h0.7v0.7h-0.7zM290.6 74.2h0.7v0.7h-0.7zM291.2 73.8h0.7v0.7h-0.7zM290.1 74.8h0.7v0.7h-0.7zM297.1 81.5h0.7v0.7h-0.7zM291.0 72.3h0.7v0.7h-0.7zM311.6 76.7h0.7v0.7h-0.7zM300.7 68.8h0.7v0.7h-0.7zM287.8 88.2h0.7v0.7h-0.7zM285.6 69.7h0.7v0.7h-0.7zM291.9 72.5h0.7v0.7h-0.7zM290.5 79.6h0.7v0.7h-0.7zM297.5 79.8h0.7v0.7h-0.7zM294.0 89.0h0.7v0.7h-0.7zM300.8 75.5h0.7v0.7h-0.7zM281.1 70.2h0.7v0.7h-0.7zM298.7 74.5h0.7v0.7h-0.7zM288.0 74.7h0.7v0.7h-0.7zM301.8 78.8h0.7v0.7h-0.7zM290.0 72.7h0.7v0.7h-0.7zM285.7 101.0h0.7v0.7h-0.7zM292.0 79.6h0.7v0.7h-0.7zM290.4 86.9h0.7v0.7h-0.7zM286.2 62.9h0.7v0.7h-0.7zM288.8 81.1h0.7v0.7h-0.7zM305.9 77.8h0.7v0.7h-0.7zM287.1 76.5h0.7v0.7h-0.7zM287.6 72.0h0.7v0.7h-0.7zM292.8 80.7h0.7v0.7h-0.7zM288.3 87.2h0.7v0.7h-0.7zM291.8 79.3h0.7v0.7h-0.7zM289.2 81.3h0.7v0.7h-0.7zM294.8 83.7h0.7v0.7h-0.7zM287.4 83.5h0.7v0.7h-0.7zM288.9 79.2h0.7v0.7h-0.7zM296.8 90.6h0.7v0.7h-0.7zM289.6 69.5h0.7v0.7h-0.7zM293.2 88.3h0.7v0.7h-0.7zM290.3 98.0h0.7v0.7h-0.7zM280.9 90.5h0.7v0.7h-0.7zM299.4 87.4h0.7v0.7h-0.7zM287.3 89.4h0.7v0.7h-0.7zM299.4 88.5h0.7v0.7h-0.7zM291.0 76.5h0.7v0.7h-0.7zM300.2 81.3h0.7v0.7h-0.7zM290.2 71.7h0.7v0.7h-0.7zM293.9 67.5h0.7v0.7h-0.7zM295.8 79.7h0.7v0.7h-0.7zM283.0 82.1h0.7v0.7h-0.7zM299.6 80.5h0.7v0.7h-0.7zM284.3 73.6h0.7v0.7h-0.7zM297.4 68.0h0.7v0.7h-0.7zM290.1 87.7h0.7v0.7h-0.7zM290.6 73.8h0.7v0.7h-0.7zM297.2 91.4h0.7v0.7h-0.7zM294.7 67.7h0.7v0.7h-0.7zM282.6 76.4h0.7v0.7h-0.7zM281.4 77.7h0.7v0.7h-0.7zM297.8 57.0h0.7v0.7h-0.7zM291.2 81.0h0.7v0.7h-0.7zM289.0 81.6h0.7v0.7h-0.7zM295.3 86.9h0.7v0.7h-0.7zM308.6 81.0h0.7v0.7h-0.7zM286.9 70.1h0.7v0.7h-0.7zM284.8 84.1h0.7v0.7h-0.7zM294.4 82.2h0.7v0.7h-0.7zM293.5 91.3h0.7v0.7h-0.7zM298.9 86.6h0.7v0.7h-0.7zM288.2 75.8h0.7v0.7h-0.7zM284.4 73.1h0.7v0.7h-0.7zM292.8 68.5h0.7v0.7h-0.7zM288.4 94.7h0.7v0.7h-0.7zM291.2 66.3h0.7v0.7h-0.7zM284.7 77.7h0.7v0.7h-0.7zM297.4 77.7h0.7v0.7h-0.7zM297.5 80.9h0.7v0.7h-0.7zM285.5 86.7h0.7v0.7h-0.7zM289.5 93.6h0.7v0.7h-0.7zM288.7 77.2h0.7v0.7h-0.7zM289.0 76.2h0.7v0.7h-0.7zM295.1 76.9h0.7v0.7h-0.7zM299.5 81.8h0.7v0.7h-0.7zM301.9 79.0h0.7v0.7h-0.7zM300.1 88.1h0.7v0.7h-0.7zM291.5 98.9h0.7v0.7h-0.7zM301.5 82.9h0.7v0.7h-0.7zM291.2 77.8h0.7v0.7h-0.7zM291.3 80.8h0.7v0.7h-0.7zM285.5 79.0h0.7v0.7h-0.7zM288.7 92.0h0.7v0.7h-0.7zM297.0 92.0h0.7v0.7h-0.7zM306.8 82.4h0.7v0.7h-0.7zM304.6 81.6h0.7v0.7h-0.7zM296.3 71.0h0.7v0.7h-0.7zM293.0 90.1h0.7v0.7h-0.7zM295.5 75.6h0.7v0.7h-0.7zM292.5 72.7h0.7v0.7h-0.7zM288.4 67.0h0.7v0.7h-0.7zM299.2 87.4h0.7v0.7h-0.7zM291.8 67.8h0.7v0.7h-0.7zM291.0 94.8h0.7v0.7h-0.7zM284.4 74.6h0.7v0.7h-0.7zM289.6 85.1h0.7v0.7h-0.7zM284.8 80.8h0.7v0.7h-0.7zM287.5 75.8h0.7v0.7h-0.7zM285.1 82.9h0.7v0.7h-0.7zM289.5 73.9h0.7v0.7h-0.7zM299.1 81.4h0.7v0.7h-0.7zM306.7 82.0h0.7v0.7h-0.7zM293.0 79.7h0.7v0.7h-0.7zM309.1 88.7h0.7v0.7h-0.7zM290.8 81.3h0.7v0.7h-0.7zM289.4 84.0h0.7v0.7h-0.7zM289.5 74.2h0.7v0.7h-0.7zM295.2 89.6h0.7v0.7h-0.7zM297.7 84.7h0.7v0.7h-0.7zM292.8 59.2h0.7v0.7h-0.7zM291.5 77.0h0.7v0.7h-0.7zM295.7 92.8h0.7v0.7h-0.7zM297.1 64.6h0.7v0.7h-0.7zM292.6 76.7h0.7v0.7h-0.7zM296.8 78.1h0.7v0.7h-0.7zM280.9 71.3h0.7v0.7h-0.7zM290.5 62.1h0.7v0.7h-0.7zM291.7 76.2h0.7v0.7h-0.7zM298.9 77.6h0.7v0.7h-0.7zM288.6 77.5h0.7v0.7h-0.7zM292.5 86.3h0.7v0.7h-0.7zM286.6 60.3h0.7v0.7h-0.7zM309.0 84.6h0.7v0.7h-0.7zM292.6 98.0h0.7v0.7h-0.7zM285.4 72.0h0.7v0.7h-0.7zM289.6 82.4h0.7v0.7h-0.7zM289.5 84.7h0.7v0.7h-0.7zM290.2 88.9h0.7v0.7h-0.7zM295.1 65.0h0.7v0.7h-0.7zM292.1 69.1h0.7v0.7h-0.7zM291.4 78.4h0.7v0.7h-0.7zM305.9 76.4h0.7v0.7h-0.7zM282.5 79.2h0.7v0.7h-0.7zM285.2 93.1h0.7v0.7h-0.7zM296.5 91.1h0.7v0.7h-0.7zM289.8 69.8h0.7v0.7h-0.7zM294.0 67.1h0.7v0.7h-0.7zM286.3 72.1h0.7v0.7h-0.7zM291.3 65.9h0.7v0.7h-0.7zM279.6 89.9h0.7v0.7h-0.7zM288.9 76.8h0.7v0.7h-0.7zM295.8 81.8h0.7v0.7h-0.7zM288.2 74.6h0.7v0.7h-0.7zM302.0 88.5h0.7v0.7h-0.7zM296.8 91.9h0.7v0.7h-0.7zM280.7 79.4h0.7v0.7h-0.7zM290.6 62.7h0.7v0.7h-0.7zM294.3 83.6h0.7v0.7h-0.7zM293.9 63.7h0.7v0.7h-0.7zM291.0 80.1h0.7v0.7h-0.7zM290.9 80.7h0.7v0.7h-0.7zM295.4 90.0h0.7v0.7h-0.7zM293.8 99.9h0.7v0.7h-0.7zM293.7 80.8h0.7v0.7h-0.7zM297.1 77.9h0.7v0.7h-0.7zM290.4 88.6h0.7v0.7h-0.7zM279.3 64.1h0.7v0.7h-0.7zM305.1 84.5h0.7v0.7h-0.7zM295.7 81.0h0.7v0.7h-0.7zM294.1 70.8h0.7v0.7h-0.7zM290.7 70.2h0.7v0.7h-0.7zM299.5 83.8h0.7v0.7h-0.7zM293.9 81.8h0.7v0.7h-0.7zM291.6 69.2h0.7v0.7h-0.7zM302.9 83.9h0.7v0.7h-0.7zM291.4 83.4h0.7v0.7h-0.7zM300.3 88.3h0.7v0.7h-0.7zM296.5 85.4h0.7v0.7h-0.7zM291.1 89.7h0.7v0.7h-0.7zM298.3 86.4h0.7v0.7h-0.7zM284.5 83.9h0.7v0.7h-0.7zM296.6 85.2h0.7v0.7h-0.7zM276.6 63.3h0.7v0.7h-0.7zM294.2 70.8h0.7v0.7h-0.7zM294.8 77.8h0.7v0.7h-0.7zM297.7 73.9h0.7v0.7h-0.7zM285.9 82.8h0.7v0.7h-0.7zM290.7 68.8h0.7v0.7h-0.7zM280.2 104.2h0.7v0.7h-0.7zM290.1 76.4h0.7v0.7h-0.7zM280.2 70.0h0.7v0.7h-0.7zM291.3 81.1h0.7v0.7h-0.7zM297.1 72.2h0.7v0.7h-0.7zM295.2 87.8h0.7v0.7h-0.7zM289.1 77.8h0.7v0.7h-0.7zM281.2 71.6h0.7v0.7h-0.7zM283.7 83.8h0.7v0.7h-0.7zM291.1 91.4h0.7v0.7h-0.7zM293.4 84.9h0.7v0.7h-0.7zM295.4 80.0h0.7v0.7h-0.7zM285.7 92.0h0.7v0.7h-0.7zM291.7 63.2h0.7v0.7h-0.7zM288.7 69.3h0.7v0.7h-0.7zM299.5 87.0h0.7v0.7h-0.7zM301.7 96.4h0.7v0.7h-0.7zM288.3 62.8h0.7v0.7h-0.7zM286.4 81.7h0.7v0.7h-0.7zM275.5 73.4h0.7v0.7h-0.7zM297.5 71.3h0.7v0.7h-0.7zM291.5 70.8h0.7v0.7h-0.7zM303.1 94.5h0.7v0.7h-0.7zM286.0 71.4h0.7v0.7h-0.7zM293.1 84.2h0.7v0.7h-0.7zM295.0 84.0h0.7v0.7h-0.7zM298.6 88.8h0.7v0.7h-0.7zM304.3 80.4h0.7v0.7h-0.7zM289.8 78.5h0.7v0.7h-0.7zM306.7 86.2h0.7v0.7h-0.7zM297.4 90.4h0.7v0.7h-0.7zM300.7 98.9h0.7v0.7h-0.7zM288.0 81.0h0.7v0.7h-0.7zM297.7 86.2h0.7v0.7h-0.7zM290.6 65.8h0.7v0.7h-0.7zM291.3 73.5h0.7v0.7h-0.7zM292.3 88.4h0.7v0.7h-0.7zM297.3 69.7h0.7v0.7h-0.7zM288.2 80.8h0.7v0.7h-0.7zM300.0 78.6h0.7v0.7h-0.7zM294.2 66.5h0.7v0.7h-0.7zM289.7 72.4h0.7v0.7h-0.7zM294.0 76.7h0.7v0.7h-0.7zM287.2 69.8h0.7v0.7h-0.7zM293.9 73.3h0.7v0.7h-0.7zM299.6 79.9h0.7v0.7h-0.7zM290.8 86.2h0.7v0.7h-0.7zM285.0 86.2h0.7v0.7h-0.7zM287.9 84.6h0.7v0.7h-0.7zM288.1 70.6h0.7v0.7h-0.7zM280.9 78.8h0.7v0.7h-0.7zM295.3 66.8h0.7v0.7h-0.7zM303.4 78.3h0.7v0.7h-0.7zM285.3 94.6h0.7v0.7h-0.7zM289.7 90.5h0.7v0.7h-0.7zM274.7 96.2h0.7v0.7h-0.7zM293.4 78.3h0.7v0.7h-0.7zM294.2 68.7h0.7v0.7h-0.7zM298.0 81.9h0.7v0.7h-0.7zM294.2 73.6h0.7v0.7h-0.7z" fill="#2a2a2a" fill-opacity="0.45"/>
<path d="M295.6 72.0h0.7v0.7h-0.7zM312.1 70.9h0.7v0.7h-0.7zM303.6 67.5h0.7v0.7h-0.7zM311.2 77.7h0.7v0.7h-0.7zM304.0 65.7h0.7v0.7h-0.7zM325.6 62.1h0.7v0.7h-0.7zM307.4 69.6h0.7v0.7h-0.7zM316.1 69.4h0.7v0.7h-0.7zM291.5 64.3h0.7v0.7h-0.7zM306.1 70.0h0.7v0.7h-0.7zM299.7 67.2h0.7v0.7h-0.7zM292.3 62.5h0.7v0.7h-0.7zM300.0 66.6h0.7v0.7h-0.7zM304.1 64.1h0.7v0.7h-0.7zM318.1 61.1h0.7v0.7h-0.7zM312.4 73.0h0.7v0.7h-0.7zM318.4 77.3h0.7v0.7h-0.7zM294.5 72.1h0.7v0.7h-0.7zM311.7 75.1h0.7v0.7h-0.7zM309.7 67.3h0.7v0.7h-0.7zM316.1 69.7h0.7v0.7h-0.7zM301.5 71.3h0.7v0.7h-0.7zM301.8 66.9h0.7v0.7h-0.7zM306.5 83.9h0.7v0.7h-0.7zM308.2 70.8h0.7v0.7h-0.7zM301.8 72.1h0.7v0.7h-0.7zM295.8 72.8h0.7v0.7h-0.7zM307.8 70.8h0.7v0.7h-0.7zM309.5 69.3h0.7v0.7h-0.7zM311.0 73.1h0.7v0.7h-0.7zM310.2 70.4h0.7v0.7h-0.7zM312.8 69.4h0.7v0.7h-0.7zM316.2 69.8h0.7v0.7h-0.7zM316.1 71.7h0.7v0.7h-0.7zM305.3 65.2h0.7v0.7h-0.7zM310.8 72.2h0.7v0.7h-0.7zM306.0 72.5h0.7v0.7h-0.7zM306.7 65.7h0.7v0.7h-0.7zM296.0 73.6h0.7v0.7h-0.7zM307.1 78.2h0.7v0.7h-0.7zM322.1 74.6h0.7v0.7h-0.7zM310.9 73.3h0.7v0.7h-0.7zM306.5 67.1h0.7v0.7h-0.7zM284.0 74.3h0.7v0.7h-0.7zM310.5 70.6h0.7v0.7h-0.7zM306.7 75.4h0.7v0.7h-0.7zM313.2 71.4h0.7v0.7h-0.7zM303.6 73.5h0.7v0.7h-0.7zM312.2 81.7h0.7v0.7h-0.7zM298.2 72.9h0.7v0.7h-0.7zM298.4 68.1h0.7v0.7h-0.7zM324.9 68.3h0.7v0.7h-0.7zM304.6 67.4h0.7v0.7h-0.7zM312.7 68.2h0.7v0.7h-0.7zM291.9 71.1h0.7v0.7h-0.7zM312.4 70.2h0.7v0.7h-0.7zM306.9 66.8h0.7v0.7h-0.7zM297.9 70.4h0.7v0.7h-0.7zM296.2 68.1h0.7v0.7h-0.7zM297.4 69.1h0.7v0.7h-0.7zM312.0 70.1h0.7v0.7h-0.7zM314.8 72.2h0.7v0.7h-0.7zM304.4 65.6h0.7v0.7h-0.7zM306.3 64.3h0.7v0.7h-0.7zM311.7 63.4h0.7v0.7h-0.7zM294.0 65.9h0.7v0.7h-0.7zM291.6 70.8h0.7v0.7h-0.7zM299.0 67.9h0.7v0.7h-0.7zM310.4 58.9h0.7v0.7h-0.7zM303.3 72.0h0.7v0.7h-0.7zM313.7 70.9h0.7v0.7h-0.7zM299.8 75.0h0.7v0.7h-0.7zM313.0 81.6h0.7v0.7h-0.7zM323.0 69.2h0.7v0.7h-0.7zM316.6 71.3h0.7v0.7h-0.7zM297.0 73.9h0.7v0.7h-0.7zM316.1 58.2h0.7v0.7h-0.7zM316.3 66.0h0.7v0.7h-0.7zM318.6 71.4h0.7v0.7h-0.7zM306.6 77.4h0.7v0.7h-0.7zM302.6 81.0h0.7v0.7h-0.7zM297.5 67.1h0.7v0.7h-0.7zM296.4 73.0h0.7v0.7h-0.7zM304.7 74.3h0.7v0.7h-0.7zM314.3 74.3h0.7v0.7h-0.7zM314.1 75.8h0.7v0.7h-0.7zM304.6 66.4h0.7v0.7h-0.7zM297.2 74.0h0.7v0.7h-0.7zM300.8 65.1h0.7v0.7h-0.7zM298.3 69.0h0.7v0.7h-0.7zM307.0 68.8h0.7v0.7h-0.7zM296.6 72.8h0.7v0.7h-0.7zM286.7 68.3h0.7v0.7h-0.7zM313.5 71.3h0.7v0.7h-0.7zM314.7 70.5h0.7v0.7h-0.7zM309.6 70.1h0.7v0.7h-0.7zM301.3 71.8h0.7v0.7h-0.7zM312.8 59.8h0.7v0.7h-0.7zM298.1 59.1h0.7v0.7h-0.7zM297.0 63.2h0.7v0.7h-0.7zM300.7 68.2h0.7v0.7h-0.7zM312.4 76.0h0.7v0.7h-0.7zM297.9 67.2h0.7v0.7h-0.7zM309.6 66.4h0.7v0.7h-0.7zM301.1 60.2h0.7v0.7h-0.7zM310.4 71.0h0.7v0.7h-0.7zM296.6 62.9h0.7v0.7h-0.7zM295.7 71.9h0.7v0.7h-0.7zM300.5 63.4h0.7v0.7h-0.7zM301.8 74.1h0.7v0.7h-0.7zM314.7 76.5h0.7v0.7h-0.7zM305.6 71.1h0.7v0.7h-0.7zM307.0 73.2h0.7v0.7h-0.7zM309.5 64.9h0.7v0.7h-0.7zM298.7 67.9h0.7v0.7h-0.7zM310.5 67.2h0.7v0.7h-0.7zM298.4 75.0h0.7v0.7h-0.7zM316.7 65.2h0.7v0.7h-0.7zM303.6 75.7h0.7v0.7h-0.7zM301.5 74.5h0.7v0.7h-0.7zM293.2 68.7h0.7v0.7h-0.7zM310.1 77.7h0.7v0.7h-0.7zM312.5 61.6h0.7v0.7h-0.7zM292.2 65.4h0.7v0.7h-0.7zM311.5 73.5h0.7v0.7h-0.7zM313.6 73.3h0.7v0.7h-0.7zM300.0 67.9h0.7v0.7h-0.7zM297.4 74.1h0.7v0.7h-0.7zM294.4 70.1h0.7v0.7h-0.7zM306.7 76.1h0.7v0.7h-0.7zM298.5 71.8h0.7v0.7h-0.7zM296.5 75.0h0.7v0.7h-0.7zM301.7 68.2h0.7v0.7h-0.7zM296.9 66.7h0.7v0.7h-0.7zM299.4 66.7h0.7v0.7h-0.7zM314.1 64.8h0.7v0.7h-0.7zM306.7 74.1h0.7v0.7h-0.7zM295.5 58.9h0.7v0.7h-0.7zM308.5 61.4h0.7v0.7h-0.7zM298.4 69.3h0.7v0.7h-0.7zM306.9 68.5h0.7v0.7h-0.7zM299.0 74.9h0.7v0.7h-0.7zM306.5 79.6h0.7v0.7h-0.7zM297.4 69.4h0.7v0.7h-0.7zM304.4 72.6h0.7v0.7h-0.7zM306.6 70.0h0.7v0.7h-0.7zM320.7 69.0h0.7v0.7h-0.7zM308.3 70.8h0.7v0.7h-0.7zM299.8 73.6h0.7v0.7h-0.7zM289.6 75.6h0.7v0.7h-0.7zM292.1 68.2h0.7v0.7h-0.7zM305.6 67.3h0.7v0.7h-0.7zM300.5 75.9h0.7v0.7h-0.7zM324.2 75.1h0.7v0.7h-0.7zM306.1 66.7h0.7v0.7h-0.7zM298.5 76.0h0.7v0.7h-0.7zM312.0 76.5h0.7v0.7h-0.7zM312.9 76.6h0.7v0.7h-0.7zM299.9 65.9h0.7v0.7h-0.7zM296.5 69.7h0.7v0.7h-0.7zM303.2 70.4h0.7v0.7h-0.7zM295.0 70.7h0.7v0.7h-0.7zM311.3 70.2h0.7v0.7h-0.7zM282.9 69.7h0.7v0.7h-0.7zM301.8 74.5h0.7v0.7h-0.7zM303.4 73.0h0.7v0.7h-0.7zM301.6 71.5h0.7v0.7h-0.7zM312.6 68.5h0.7v0.7h-0.7zM307.2 70.6h0.7v0.7h-0.7zM309.7 69.2h0.7v0.7h-0.7zM308.6 60.6h0.7v0.7h-0.7zM302.9 74.0h0.7v0.7h-0.7zM310.1 65.0h0.7v0.7h-0.7zM298.3 71.8h0.7v0.7h-0.7zM307.6 72.2h0.7v0.7h-0.7zM305.2 70.4h0.7v0.7h-0.7zM313.1 65.1h0.7v0.7h-0.7zM293.6 74.9h0.7v0.7h-0.7zM298.6 73.3h0.7v0.7h-0.7zM299.2 64.3h0.7v0.7h-0.7zM317.1 69.5h0.7v0.7h-0.7zM293.4 68.7h0.7v0.7h-0.7zM303.3 68.7h0.7v0.7h-0.7zM306.0 64.0h0.7v0.7h-0.7zM302.3 72.0h0.7v0.7h-0.7zM309.6 70.2h0.7v0.7h-0.7zM298.2 59.9h0.7v0.7h-0.7zM316.3 64.1h0.7v0.7h-0.7zM301.0 69.8h0.7v0.7h-0.7zM308.2 69.6h0.7v0.7h-0.7zM298.1 69.6h0.7v0.7h-0.7zM321.2 82.3h0.7v0.7h-0.7zM302.9 73.0h0.7v0.7h-0.7zM290.6 70.8h0.7v0.7h-0.7zM310.4 68.3h0.7v0.7h-0.7zM319.3 74.2h0.7v0.7h-0.7zM309.6 56.7h0.7v0.7h-0.7zM299.8 73.4h0.7v0.7h-0.7zM300.7 61.0h0.7v0.7h-0.7zM300.1 77.4h0.7v0.7h-0.7zM310.2 74.2h0.7v0.7h-0.7zM306.3 77.9h0.7v0.7h-0.7zM282.2 63.8h0.7v0.7h-0.7zM320.1 75.1h0.7v0.7h-0.7zM306.7 68.1h0.7v0.7h-0.7zM290.2 67.7h0.7v0.7h-0.7zM303.6 65.2h0.7v0.7h-0.7zM315.8 75.0h0.7v0.7h-0.7zM302.5 74.4h0.7v0.7h-0.7zM304.4 71.2h0.7v0.7h-0.7zM300.9 82.3h0.7v0.7h-0.7zM292.8 69.1h0.7v0.7h-0.7zM313.1 75.0h0.7v0.7h-0.7zM291.8 65.1h0.7v0.7h-0.7zM304.0 65.9h0.7v0.7h-0.7zM299.4 68.6h0.7v0.7h-0.7zM303.5 75.4h0.7v0.7h-0.7zM291.1 75.2h0.7v0.7h-0.7zM303.0 72.8h0.7v0.7h-0.7zM302.0 81.7h0.7v0.7h-0.7zM290.4 75.8h0.7v0.7h-0.7zM301.2 68.7h0.7v0.7h-0.7zM316.3 68.9h0.7v0.7h-0.7zM312.1 77.2h0.7v0.7h-0.7zM300.1 80.1h0.7v0.7h-0.7zM315.0 68.8h0.7v0.7h-0.7zM306.7 66.4h0.7v0.7h-0.7zM307.3 74.3h0.7v0.7h-0.7zM313.0 71.1h0.7v0.7h-0.7zM300.8 66.7h0.7v0.7h-0.7zM297.3 68.6h0.7v0.7h-0.7zM309.8 67.0h0.7v0.7h-0.7zM299.5 64.7h0.7v0.7h-0.7zM309.5 68.7h0.7v0.7h-0.7zM291.9 75.5h0.7v0.7h-0.7zM313.4 70.0h0.7v0.7h-0.7zM302.1 69.8h0.7v0.7h-0.7zM297.5 75.0h0.7v0.7h-0.7zM316.0 75.1h0.7v0.7h-0.7zM306.8 71.1h0.7v0.7h-0.7zM309.2 78.5h0.7v0.7h-0.7zM298.5 69.9h0.7v0.7h-0.7zM299.4 63.9h0.7v0.7h-0.7zM307.6 75.6h0.7v0.7h-0.7zM296.4 74.9h0.7v0.7h-0.7zM310.3 72.3h0.7v0.7h-0.7zM315.8 66.6h0.7v0.7h-0.7zM317.9 68.1h0.7v0.7h-0.7zM309.3 62.2h0.7v0.7h-0.7zM312.7 70.1h0.7v0.7h-0.7z" fill="#444" fill-opacity="0.4"/>
<path d="M286.1 82.8h0.7v0.7h-0.7zM289.9 94.6h0.7v0.7h-0.7zM291.6 86.2h0.7v0.7h-0.7zM285.1 82.7h0.7v0.7h-0.7zM287.3 79.9h0.7v0.7h-0.7zM287.0 93.4h0.7v0.7h-0.7zM288.6 87.1h0.7v0.7h-0.7zM285.9 91.5h0.7v0.7h-0.7zM292.1 95.0h0.7v0.7h-0.7zM285.4 82.3h0.7v0.7h-0.7zM285.8 81.7h0.7v0.7h-0.7zM288.6 85.7h0.7v0.7h-0.7zM284.5 87.6h0.7v0.7h-0.7zM293.9 91.4h0.7v0.7h-0.7zM285.7 88.0h0.7v0.7h-0.7zM290.4 91.1h0.7v0.7h-0.7zM287.1 81.4h0.7v0.7h-0.7zM290.5 83.0h0.7v0.7h-0.7zM287.0 86.5h0.7v0.7h-0.7zM293.4 85.5h0.7v0.7h-0.7zM289.6 86.7h0.7v0.7h-0.7zM286.1 92.2h0.7v0.7h-0.7zM286.5 90.2h0.7v0.7h-0.7zM290.2 78.6h0.7v0.7h-0.7zM280.6 72.0h0.7v0.7h-0.7zM290.3 89.1h0.7v0.7h-0.7zM286.2 85.2h0.7v0.7h-0.7zM287.2 84.7h0.7v0.7h-0.7zM288.6 87.6h0.7v0.7h-0.7zM284.4 94.9h0.7v0.7h-0.7zM293.9 85.8h0.7v0.7h-0.7zM299.7 100.1h0.7v0.7h-0.7zM295.0 93.8h0.7v0.7h-0.7zM285.9 86.3h0.7v0.7h-0.7zM281.0 85.8h0.7v0.7h-0.7zM293.7 85.8h0.7v0.7h-0.7zM280.5 95.9h0.7v0.7h-0.7zM298.7 95.4h0.7v0.7h-0.7zM281.2 92.0h0.7v0.7h-0.7zM284.7 87.2h0.7v0.7h-0.7zM292.4 95.5h0.7v0.7h-0.7zM285.7 86.1h0.7v0.7h-0.7zM282.6 87.9h0.7v0.7h-0.7zM284.0 85.4h0.7v0.7h-0.7zM292.7 87.8h0.7v0.7h-0.7zM289.5 89.3h0.7v0.7h-0.7zM292.9 94.8h0.7v0.7h-0.7zM283.1 79.8h0.7v0.7h-0.7zM291.5 91.4h0.7v0.7h-0.7zM295.9 91.8h0.7v0.7h-0.7zM297.6 90.5h0.7v0.7h-0.7zM285.7 92.9h0.7v0.7h-0.7zM284.4 84.4h0.7v0.7h-0.7zM290.9 86.6h0.7v0.7h-0.7zM293.6 86.0h0.7v0.7h-0.7zM298.1 82.8h0.7v0.7h-0.7zM292.4 85.6h0.7v0.7h-0.7zM296.0 85.0h0.7v0.7h-0.7zM292.8 72.0h0.7v0.7h-0.7zM285.2 96.2h0.7v0.7h-0.7zM289.9 88.4h0.7v0.7h-0.7zM293.4 100.0h0.7v0.7h-0.7zM283.4 87.6h0.7v0.7h-0.7zM286.7 91.5h0.7v0.7h-0.7zM285.4 80.1h0.7v0.7h-0.7zM281.3 91.3h0.7v0.7h-0.7zM290.0 92.3h0.7v0.7h-0.7zM280.9 83.4h0.7v0.7h-0.7zM286.2 92.2h0.7v0.7h-0.7zM291.2 87.1h0.7v0.7h-0.7zM283.9 88.9h0.7v0.7h-0.7zM286.6 92.5h0.7v0.7h-0.7zM297.8 88.6h0.7v0.7h-0.7zM283.4 100.0h0.7v0.7h-0.7zM292.2 90.7h0.7v0.7h-0.7zM289.6 88.9h0.7v0.7h-0.7zM289.5 89.3h0.7v0.7h-0.7zM281.5 84.4h0.7v0.7h-0.7zM288.6 88.8h0.7v0.7h-0.7zM290.0 90.2h0.7v0.7h-0.7zM279.9 83.2h0.7v0.7h-0.7zM285.7 88.7h0.7v0.7h-0.7zM288.1 98.0h0.7v0.7h-0.7zM287.1 86.8h0.7v0.7h-0.7zM281.2 97.2h0.7v0.7h-0.7zM289.4 87.5h0.7v0.7h-0.7zM285.8 88.5h0.7v0.7h-0.7zM287.3 94.1h0.7v0.7h-0.7zM285.0 85.9h0.7v0.7h-0.7zM286.4 91.0h0.7v0.7h-0.7zM290.7 93.0h0.7v0.7h-0.7zM291.8 90.9h0.7v0.7h-0.7zM289.3 92.6h0.7v0.7h-0.7zM291.5 89.7h0.7v0.7h-0.7zM281.0 85.7h0.7v0.7h-0.7zM285.6 78.9h0.7v0.7h-0.7zM295.6 95.3h0.7v0.7h-0.7zM294.5 90.9h0.7v0.7h-0.7zM296.5 79.6h0.7v0.7h-0.7zM295.4 77.9h0.7v0.7h-0.7zM289.8 88.6h0.7v0.7h-0.7zM291.6 91.3h0.7v0.7h-0.7zM292.6 84.5h0.7v0.7h-0.7zM285.6 83.8h0.7v0.7h-0.7zM289.7 86.3h0.7v0.7h-0.7zM281.0 92.8h0.7v0.7h-0.7zM283.3 85.5h0.7v0.7h-0.7zM285.3 84.2h0.7v0.7h-0.7zM291.9 84.5h0.7v0.7h-0.7zM281.8 84.7h0.7v0.7h-0.7zM283.8 80.3h0.7v0.7h-0.7zM293.6 93.8h0.7v0.7h-0.7zM281.7 95.8h0.7v0.7h-0.7zM298.2 81.0h0.7v0.7h-0.7zM291.1 86.6h0.7v0.7h-0.7zM293.1 73.2h0.7v0.7h-0.7zM292.1 86.1h0.7v0.7h-0.7zM291.4 92.4h0.7v0.7h-0.7zM277.1 87.7h0.7v0.7h-0.7zM289.0 91.0h0.7v0.7h-0.7zM294.7 91.8h0.7v0.7h-0.7zM285.1 91.5h0.7v0.7h-0.7zM285.2 91.8h0.7v0.7h-0.7zM288.1 87.1h0.7v0.7h-0.7zM289.6 80.0h0.7v0.7h-0.7zM287.4 82.0h0.7v0.7h-0.7zM293.6 94.3h0.7v0.7h-0.7zM281.7 76.7h0.7v0.7h-0.7zM290.2 85.1h0.7v0.7h-0.7zM284.3 99.4h0.7v0.7h-0.7zM286.9 82.8h0.7v0.7h-0.7zM287.6 89.4h0.7v0.7h-0.7zM296.9 89.5h0.7v0.7h-0.7zM282.7 85.5h0.7v0.7h-0.7zM298.2 79.3h0.7v0.7h-0.7zM288.7 93.9h0.7v0.7h-0.7zM290.3 86.9h0.7v0.7h-0.7zM284.5 88.8h0.7v0.7h-0.7zM291.6 89.1h0.7v0.7h-0.7zM294.1 89.0h0.7v0.7h-0.7zM295.5 88.7h0.7v0.7h-0.7zM293.6 86.4h0.7v0.7h-0.7zM297.8 94.3h0.7v0.7h-0.7zM292.5 83.1h0.7v0.7h-0.7zM290.0 73.3h0.7v0.7h-0.7zM287.2 88.9h0.7v0.7h-0.7zM284.7 88.8h0.7v0.7h-0.7zM292.4 97.1h0.7v0.7h-0.7zM289.1 80.2h0.7v0.7h-0.7zM277.3 87.2h0.7v0.7h-0.7z" fill="#222" fill-opacity="0.5"/>
<path d="M283.3 60 C283.3 54.5 289.5 52.6 296.5 53.6 C304 54.8 311 57.8 318 61 C311 63 304 65.5 297 67.8 C290 69.8 283.3 67 283.3 60 Z" fill="#444" filter="url(#b15)" opacity="0.5"/>
<path d="M283.3 60 C283.3 54.5 289.5 52.6 296.5 53.6 C304 54.8 311 57.8 318 61 C311 63 304 65.5 297 67.8 C290 69.8 283.3 67 283.3 60 Z" fill="#b5b5b5" stroke="#3a3a3a" stroke-width="1.8" filter="url(#b05)"/>
<path d="M298.5 69.5h0.8v0.8h-0.8zM285.1 56.6h0.8v0.8h-0.8zM296.1 68.6h0.8v0.8h-0.8zM287.8 56.9h0.8v0.8h-0.8zM286.9 55.7h0.8v0.8h-0.8zM310.0 61.6h0.8v0.8h-0.8zM295.7 68.9h0.8v0.8h-0.8zM295.5 53.1h0.8v0.8h-0.8zM306.7 66.6h0.8v0.8h-0.8zM297.0 53.4h0.8v0.8h-0.8zM299.2 53.9h0.8v0.8h-0.8zM302.9 53.7h0.8v0.8h-0.8zM308.9 54.9h0.8v0.8h-0.8zM287.8 66.2h0.8v0.8h-0.8zM312.3 57.7h0.8v0.8h-0.8zM310.2 62.5h0.8v0.8h-0.8zM309.7 63.2h0.8v0.8h-0.8zM285.5 56.5h0.8v0.8h-0.8zM309.7 63.4h0.8v0.8h-0.8zM283.9 59.6h0.8v0.8h-0.8zM291.9 67.4h0.8v0.8h-0.8zM291.8 54.1h0.8v0.8h-0.8zM285.4 63.4h0.8v0.8h-0.8zM289.3 68.1h0.8v0.8h-0.8zM288.7 53.6h0.8v0.8h-0.8zM310.5 59.1h0.8v0.8h-0.8zM298.3 67.6h0.8v0.8h-0.8zM308.0 63.2h0.8v0.8h-0.8zM305.0 67.2h0.8v0.8h-0.8zM308.4 56.9h0.8v0.8h-0.8zM295.0 51.6h0.8v0.8h-0.8zM308.8 60.6h0.8v0.8h-0.8zM300.5 68.1h0.8v0.8h-0.8zM298.9 52.1h0.8v0.8h-0.8zM305.3 66.1h0.8v0.8h-0.8zM280.2 61.2h0.8v0.8h-0.8zM302.8 68.2h0.8v0.8h-0.8zM293.8 68.6h0.8v0.8h-0.8zM284.7 62.8h0.8v0.8h-0.8zM281.6 61.4h0.8v0.8h-0.8zM307.1 54.2h0.8v0.8h-0.8zM282.8 61.3h0.8v0.8h-0.8zM312.8 57.8h0.8v0.8h-0.8zM282.5 59.6h0.8v0.8h-0.8zM286.1 61.8h0.8v0.8h-0.8zM293.4 68.1h0.8v0.8h-0.8zM284.5 66.2h0.8v0.8h-0.8zM310.2 59.3h0.8v0.8h-0.8zM282.3 58.5h0.8v0.8h-0.8zM302.4 67.0h0.8v0.8h-0.8zM306.6 66.1h0.8v0.8h-0.8zM290.2 56.2h0.8v0.8h-0.8zM285.7 58.7h0.8v0.8h-0.8zM283.2 60.2h0.8v0.8h-0.8zM287.0 55.7h0.8v0.8h-0.8zM307.4 63.3h0.8v0.8h-0.8zM310.9 63.6h0.8v0.8h-0.8zM294.2 68.2h0.8v0.8h-0.8zM294.5 67.3h0.8v0.8h-0.8zM294.5 54.5h0.8v0.8h-0.8zM307.2 54.7h0.8v0.8h-0.8zM284.9 57.3h0.8v0.8h-0.8zM300.6 52.7h0.8v0.8h-0.8zM301.3 52.5h0.8v0.8h-0.8zM286.0 64.9h0.8v0.8h-0.8zM284.4 57.4h0.8v0.8h-0.8zM302.0 52.9h0.8v0.8h-0.8zM310.1 58.3h0.8v0.8h-0.8zM301.1 54.7h0.8v0.8h-0.8zM284.1 64.5h0.8v0.8h-0.8zM309.0 64.8h0.8v0.8h-0.8zM297.2 67.6h0.8v0.8h-0.8zM282.5 59.0h0.8v0.8h-0.8zM300.5 67.5h0.8v0.8h-0.8zM295.9 53.3h0.8v0.8h-0.8zM295.5 68.6h0.8v0.8h-0.8zM285.8 63.1h0.8v0.8h-0.8zM287.4 64.2h0.8v0.8h-0.8zM310.8 59.7h0.8v0.8h-0.8zM286.3 63.8h0.8v0.8h-0.8zM290.1 53.3h0.8v0.8h-0.8zM309.6 58.6h0.8v0.8h-0.8zM296.5 54.2h0.8v0.8h-0.8zM294.2 53.4h0.8v0.8h-0.8zM302.3 55.3h0.8v0.8h-0.8zM284.0 65.3h0.8v0.8h-0.8zM298.1 68.0h0.8v0.8h-0.8zM299.1 68.4h0.8v0.8h-0.8zM308.8 65.2h0.8v0.8h-0.8zM309.7 64.0h0.8v0.8h-0.8zM305.4 55.4h0.8v0.8h-0.8zM310.3 56.7h0.8v0.8h-0.8zM303.2 54.0h0.8v0.8h-0.8zM299.1 67.4h0.8v0.8h-0.8zM308.0 62.0h0.8v0.8h-0.8zM295.7 52.1h0.8v0.8h-0.8zM283.9 58.3h0.8v0.8h-0.8zM285.4 56.9h0.8v0.8h-0.8zM287.7 64.1h0.8v0.8h-0.8zM284.5 55.8h0.8v0.8h-0.8zM296.4 53.1h0.8v0.8h-0.8zM281.7 61.3h0.8v0.8h-0.8zM284.2 63.6h0.8v0.8h-0.8zM285.1 63.1h0.8v0.8h-0.8zM311.3 62.4h0.8v0.8h-0.8zM288.8 65.2h0.8v0.8h-0.8zM288.0 64.7h0.8v0.8h-0.8zM296.8 68.0h0.8v0.8h-0.8zM291.9 52.9h0.8v0.8h-0.8zM302.0 52.6h0.8v0.8h-0.8zM286.0 65.1h0.8v0.8h-0.8zM295.7 53.1h0.8v0.8h-0.8zM282.8 59.9h0.8v0.8h-0.8zM292.2 67.4h0.8v0.8h-0.8zM310.1 61.8h0.8v0.8h-0.8zM291.6 67.8h0.8v0.8h-0.8zM307.0 55.7h0.8v0.8h-0.8zM304.1 54.2h0.8v0.8h-0.8zM311.6 57.6h0.8v0.8h-0.8zM300.4 53.0h0.8v0.8h-0.8zM288.4 55.0h0.8v0.8h-0.8zM311.0 63.2h0.8v0.8h-0.8zM309.4 63.8h0.8v0.8h-0.8zM304.9 53.7h0.8v0.8h-0.8zM305.4 65.7h0.8v0.8h-0.8zM306.1 65.5h0.8v0.8h-0.8zM307.4 57.1h0.8v0.8h-0.8zM283.7 64.7h0.8v0.8h-0.8zM310.4 65.0h0.8v0.8h-0.8zM299.3 68.8h0.8v0.8h-0.8zM298.1 68.2h0.8v0.8h-0.8zM282.7 60.9h0.8v0.8h-0.8zM309.1 64.0h0.8v0.8h-0.8zM282.3 59.9h0.8v0.8h-0.8zM291.2 67.2h0.8v0.8h-0.8zM308.0 63.9h0.8v0.8h-0.8zM282.8 63.5h0.8v0.8h-0.8zM284.1 56.2h0.8v0.8h-0.8zM291.9 67.9h0.8v0.8h-0.8zM290.2 67.0h0.8v0.8h-0.8zM290.1 66.7h0.8v0.8h-0.8zM310.6 58.4h0.8v0.8h-0.8zM306.6 54.8h0.8v0.8h-0.8zM291.3 66.5h0.8v0.8h-0.8zM296.0 53.3h0.8v0.8h-0.8zM304.2 55.0h0.8v0.8h-0.8zM289.9 53.1h0.8v0.8h-0.8zM293.2 54.3h0.8v0.8h-0.8zM307.9 63.7h0.8v0.8h-0.8zM301.6 54.1h0.8v0.8h-0.8zM310.3 63.2h0.8v0.8h-0.8zM309.7 59.9h0.8v0.8h-0.8zM301.6 68.9h0.8v0.8h-0.8zM299.5 68.4h0.8v0.8h-0.8zM286.4 61.7h0.8v0.8h-0.8zM286.3 65.6h0.8v0.8h-0.8zM307.4 65.9h0.8v0.8h-0.8zM303.3 66.2h0.8v0.8h-0.8zM310.6 59.0h0.8v0.8h-0.8zM300.9 67.8h0.8v0.8h-0.8zM309.9 62.0h0.8v0.8h-0.8zM291.3 67.3h0.8v0.8h-0.8zM282.8 61.7h0.8v0.8h-0.8zM309.0 63.5h0.8v0.8h-0.8zM291.3 53.7h0.8v0.8h-0.8zM284.8 61.6h0.8v0.8h-0.8zM304.0 53.5h0.8v0.8h-0.8zM297.5 67.5h0.8v0.8h-0.8zM311.9 63.0h0.8v0.8h-0.8zM281.2 57.6h0.8v0.8h-0.8zM313.2 60.4h0.8v0.8h-0.8zM310.0 62.2h0.8v0.8h-0.8zM296.5 52.7h0.8v0.8h-0.8zM284.3 63.1h0.8v0.8h-0.8zM293.2 53.0h0.8v0.8h-0.8zM289.0 65.9h0.8v0.8h-0.8zM303.3 54.6h0.8v0.8h-0.8zM284.0 57.8h0.8v0.8h-0.8zM291.4 66.7h0.8v0.8h-0.8zM289.2 67.7h0.8v0.8h-0.8zM288.4 54.0h0.8v0.8h-0.8zM294.0 68.1h0.8v0.8h-0.8zM291.5 67.3h0.8v0.8h-0.8zM309.7 57.7h0.8v0.8h-0.8zM299.7 68.5h0.8v0.8h-0.8zM291.7 53.5h0.8v0.8h-0.8zM304.6 66.8h0.8v0.8h-0.8zM302.3 68.8h0.8v0.8h-0.8zM291.9 53.4h0.8v0.8h-0.8zM287.1 65.5h0.8v0.8h-0.8zM283.9 62.6h0.8v0.8h-0.8zM298.9 68.8h0.8v0.8h-0.8zM308.5 56.9h0.8v0.8h-0.8zM294.3 53.5h0.8v0.8h-0.8zM297.2 68.8h0.8v0.8h-0.8zM287.2 66.9h0.8v0.8h-0.8zM295.2 68.9h0.8v0.8h-0.8zM300.2 53.8h0.8v0.8h-0.8zM286.4 55.2h0.8v0.8h-0.8zM291.1 66.9h0.8v0.8h-0.8zM282.9 58.7h0.8v0.8h-0.8zM298.8 54.2h0.8v0.8h-0.8zM297.4 67.9h0.8v0.8h-0.8zM284.9 65.6h0.8v0.8h-0.8zM285.2 64.7h0.8v0.8h-0.8zM286.8 58.5h0.8v0.8h-0.8zM311.7 62.7h0.8v0.8h-0.8zM289.9 67.3h0.8v0.8h-0.8zM300.6 67.6h0.8v0.8h-0.8zM306.1 66.2h0.8v0.8h-0.8zM289.4 66.5h0.8v0.8h-0.8zM298.8 68.7h0.8v0.8h-0.8zM289.5 54.2h0.8v0.8h-0.8zM306.5 64.4h0.8v0.8h-0.8zM303.2 54.4h0.8v0.8h-0.8zM307.9 54.1h0.8v0.8h-0.8zM311.7 57.9h0.8v0.8h-0.8zM308.5 65.7h0.8v0.8h-0.8zM308.7 63.5h0.8v0.8h-0.8zM311.1 58.3h0.8v0.8h-0.8z" fill="#222" fill-opacity="0.35"/>
<path d="M287 60 C287 57 291 56.2 296 57.2 C301 58 305 59.6 309 61 C304 62.5 300 63.8 295 64.8 C290 65.6 287 64 287 60 Z" fill="#9a9a9a" filter="url(#b06)"/>
<ellipse cx="290.60" cy="61.00" rx="2.00" ry="1.10" fill="#333" filter="url(#b05)"/>
<ellipse cx="327.60" cy="61.40" rx="8.00" ry="1.60" transform="rotate(-40 327.60 61.40)" fill="#555" filter="url(#b05)"/>
<path d="M332.5 57.5h0.7v0.7h-0.7zM332.3 60.1h0.7v0.7h-0.7zM333.0 58.0h0.7v0.7h-0.7zM328.4 57.9h0.7v0.7h-0.7zM327.3 63.7h0.7v0.7h-0.7zM335.8 55.0h0.7v0.7h-0.7zM332.7 57.2h0.7v0.7h-0.7zM323.7 65.7h0.7v0.7h-0.7zM328.8 58.3h0.7v0.7h-0.7zM323.8 64.8h0.7v0.7h-0.7zM325.9 64.0h0.7v0.7h-0.7zM322.4 67.8h0.7v0.7h-0.7zM325.3 64.2h0.7v0.7h-0.7zM321.6 68.7h0.7v0.7h-0.7zM331.1 63.5h0.7v0.7h-0.7zM317.9 65.3h0.7v0.7h-0.7zM332.1 59.8h0.7v0.7h-0.7zM320.1 69.0h0.7v0.7h-0.7zM333.7 59.7h0.7v0.7h-0.7zM326.5 58.7h0.7v0.7h-0.7zM321.2 71.8h0.7v0.7h-0.7zM330.7 61.1h0.7v0.7h-0.7zM326.0 62.3h0.7v0.7h-0.7zM325.7 60.9h0.7v0.7h-0.7zM325.1 60.9h0.7v0.7h-0.7zM327.1 64.5h0.7v0.7h-0.7zM327.0 60.3h0.7v0.7h-0.7zM337.2 56.5h0.7v0.7h-0.7zM325.9 58.8h0.7v0.7h-0.7zM335.2 58.1h0.7v0.7h-0.7zM326.7 65.6h0.7v0.7h-0.7zM323.6 64.2h0.7v0.7h-0.7zM325.8 63.4h0.7v0.7h-0.7zM328.8 63.9h0.7v0.7h-0.7zM326.6 63.3h0.7v0.7h-0.7zM328.2 61.5h0.7v0.7h-0.7zM323.9 64.5h0.7v0.7h-0.7zM335.1 57.1h0.7v0.7h-0.7zM321.8 65.3h0.7v0.7h-0.7zM322.2 64.3h0.7v0.7h-0.7zM323.3 62.2h0.7v0.7h-0.7zM330.9 60.8h0.7v0.7h-0.7zM327.9 60.1h0.7v0.7h-0.7zM327.6 59.7h0.7v0.7h-0.7zM335.3 60.5h0.7v0.7h-0.7zM315.8 72.3h0.7v0.7h-0.7zM328.2 61.4h0.7v0.7h-0.7zM324.7 60.3h0.7v0.7h-0.7zM326.9 61.1h0.7v0.7h-0.7zM327.0 61.9h0.7v0.7h-0.7zM328.1 66.5h0.7v0.7h-0.7zM321.5 65.6h0.7v0.7h-0.7zM321.6 66.1h0.7v0.7h-0.7zM334.8 55.3h0.7v0.7h-0.7zM322.3 62.7h0.7v0.7h-0.7zM329.4 58.3h0.7v0.7h-0.7zM329.8 58.0h0.7v0.7h-0.7zM325.2 63.3h0.7v0.7h-0.7zM321.5 69.4h0.7v0.7h-0.7zM322.6 66.0h0.7v0.7h-0.7zM332.5 62.9h0.7v0.7h-0.7zM330.8 60.7h0.7v0.7h-0.7zM325.2 63.1h0.7v0.7h-0.7zM328.9 62.9h0.7v0.7h-0.7zM323.6 65.8h0.7v0.7h-0.7zM339.8 49.0h0.7v0.7h-0.7zM318.6 67.8h0.7v0.7h-0.7zM329.0 64.2h0.7v0.7h-0.7zM331.3 61.1h0.7v0.7h-0.7zM324.4 64.1h0.7v0.7h-0.7zM328.1 59.0h0.7v0.7h-0.7zM328.7 59.9h0.7v0.7h-0.7zM327.2 58.5h0.7v0.7h-0.7zM319.9 71.1h0.7v0.7h-0.7zM327.9 61.0h0.7v0.7h-0.7zM340.9 52.7h0.7v0.7h-0.7zM329.1 58.7h0.7v0.7h-0.7zM329.8 60.2h0.7v0.7h-0.7zM328.4 64.2h0.7v0.7h-0.7zM332.1 59.1h0.7v0.7h-0.7z" fill="#333" fill-opacity="0.5"/>
</g>
<ellipse cx="327.80" cy="61.40" rx="11.40" ry="4.70" transform="rotate(-41 327.80 61.40)" fill="none" stroke="#444" stroke-width="0.65"/>
<path d="M278.2 43.4h2.4M278.2 55.6h2.4M278.2 68.7h2.4M278.2 82.2h2.4M278.2 88.2h2.4M279.3 40.1h1.3M279.3 42.7h1.3M279.3 45.3h1.3M279.3 47.9h1.3M279.3 50.5h1.3M279.3 53.1h1.3M279.3 55.7h1.3M279.3 58.3h1.3M279.3 60.9h1.3M279.3 63.5h1.3M279.3 66.1h1.3M279.3 68.7h1.3M279.3 71.3h1.3M279.3 73.9h1.3M279.3 76.5h1.3M279.3 79.1h1.3M279.3 81.7h1.3M279.3 84.3h1.3M279.3 86.9h1.3M279.3 89.5h1.3M279.3 92.1h1.3M290.3 94.1v2.4M305.4 94.1v2.4M319.9 94.1v2.4M333.5 94.1v2.4M283.1 94.1v1.3M285.7 94.1v1.3M288.3 94.1v1.3M290.9 94.1v1.3M293.5 94.1v1.3M296.1 94.1v1.3M298.7 94.1v1.3M301.3 94.1v1.3M303.9 94.1v1.3M306.5 94.1v1.3M309.1 94.1v1.3M311.7 94.1v1.3M314.3 94.1v1.3M316.9 94.1v1.3M319.5 94.1v1.3M322.1 94.1v1.3M324.7 94.1v1.3M327.3 94.1v1.3M329.9 94.1v1.3M332.5 94.1v1.3M335.1 94.1v1.3M337.7 94.1v1.3" stroke="#1a1a1a" stroke-width="0.8" fill="none"/>
<path d="M280.6 37.6 H341.0 V94.1" fill="none" stroke="#111" stroke-width="1.25"/>
<path d="M280.6 37.6 V94.1 H341.0" fill="none" stroke="#111" stroke-width="1.6"/>
<text transform="matrix(1.0364,0,0,1,267.09,45.40)" font-size="5.915" fill="#222" stroke="#222" stroke-width="0.16">10</text>
<text transform="matrix(0.9825,0,0,1,274.15,42.67)" font-size="3.857" fill="#222" stroke="#222" stroke-width="0.16">5</text>
<text transform="matrix(1.0364,0,0,1,267.09,57.66)" font-size="5.915" fill="#222" stroke="#222" stroke-width="0.16">10</text>
<text transform="matrix(0.9200,0,0,1,274.21,54.97)" font-size="3.913" fill="#222" stroke="#222" stroke-width="0.16">4</text>
<text transform="matrix(1.0364,0,0,1,267.09,70.72)" font-size="5.915" fill="#222" stroke="#222" stroke-width="0.16">10</text>
<text transform="matrix(1.0071,0,0,1,274.15,67.99)" font-size="3.803" fill="#222" stroke="#222" stroke-width="0.16">3</text>
<text transform="matrix(1.0364,0,0,1,267.09,84.28)" font-size="5.915" fill="#222" stroke="#222" stroke-width="0.16">10</text>
<text transform="matrix(1.0256,0,0,1,274.10,81.58)" font-size="3.857" fill="#222" stroke="#222" stroke-width="0.16">2</text>
<text transform="matrix(1.0321,0,0,1,270.61,90.21)" font-size="5.915" fill="#222" stroke="#222" stroke-width="0.16">0</text>
<text transform="matrix(1.0321,0,0,1,288.57,106.14)" font-size="5.915" fill="#222" stroke="#222" stroke-width="0.16">0</text>
<text transform="matrix(1.0364,0,0,1,301.94,106.14)" font-size="5.915" fill="#222" stroke="#222" stroke-width="0.16">10</text>
<text transform="matrix(1.0071,0,0,1,308.99,103.41)" font-size="3.803" fill="#222" stroke="#222" stroke-width="0.16">3</text>
<text transform="matrix(1.0364,0,0,1,316.43,106.14)" font-size="5.915" fill="#222" stroke="#222" stroke-width="0.16">10</text>
<text transform="matrix(0.9200,0,0,1,323.55,103.45)" font-size="3.913" fill="#222" stroke="#222" stroke-width="0.16">4</text>
<text transform="matrix(1.0364,0,0,1,330.02,106.14)" font-size="5.915" fill="#222" stroke="#222" stroke-width="0.16">10</text>
<text transform="matrix(0.9825,0,0,1,337.08,103.41)" font-size="3.857" fill="#222" stroke="#222" stroke-width="0.16">5</text>
<text transform="matrix(1.0782,0,0,1,316.75,44.69)" font-size="6.197" fill="#222" stroke="#222" stroke-width="0.16">9.5%</text>
<clipPath id="c178"><rect x="41.6" y="156.6" width="61.800000000000004" height="56.900000000000006"/></clipPath>
<g clip-path="url(#c178)">
<path d="M60.4 176.4h0.7v0.7h-0.7zM79.8 178.7h0.7v0.7h-0.7zM63.1 179.0h0.7v0.7h-0.7zM69.0 177.1h0.7v0.7h-0.7zM66.9 180.1h0.7v0.7h-0.7zM72.1 176.0h0.7v0.7h-0.7zM61.4 178.9h0.7v0.7h-0.7zM58.3 178.5h0.7v0.7h-0.7zM67.5 174.9h0.7v0.7h-0.7zM44.7 176.1h0.7v0.7h-0.7zM68.5 178.1h0.7v0.7h-0.7zM81.1 178.2h0.7v0.7h-0.7zM67.8 179.1h0.7v0.7h-0.7zM64.1 182.4h0.7v0.7h-0.7zM62.7 176.0h0.7v0.7h-0.7zM63.4 181.1h0.7v0.7h-0.7zM62.7 176.2h0.7v0.7h-0.7zM74.2 181.0h0.7v0.7h-0.7zM64.2 179.8h0.7v0.7h-0.7zM61.7 181.6h0.7v0.7h-0.7zM57.6 177.4h0.7v0.7h-0.7zM64.0 175.7h0.7v0.7h-0.7zM67.4 179.7h0.7v0.7h-0.7zM59.9 182.8h0.7v0.7h-0.7zM70.7 178.9h0.7v0.7h-0.7zM60.5 177.9h0.7v0.7h-0.7zM77.0 175.5h0.7v0.7h-0.7zM61.2 176.0h0.7v0.7h-0.7zM55.0 179.6h0.7v0.7h-0.7zM60.1 182.1h0.7v0.7h-0.7zM55.6 177.2h0.7v0.7h-0.7zM68.5 175.5h0.7v0.7h-0.7zM46.7 176.4h0.7v0.7h-0.7zM67.8 175.6h0.7v0.7h-0.7zM70.7 173.4h0.7v0.7h-0.7zM71.0 183.2h0.7v0.7h-0.7zM77.7 180.5h0.7v0.7h-0.7zM64.5 176.9h0.7v0.7h-0.7zM79.3 177.2h0.7v0.7h-0.7zM74.5 175.6h0.7v0.7h-0.7zM71.9 178.4h0.7v0.7h-0.7zM45.8 177.7h0.7v0.7h-0.7zM73.7 179.4h0.7v0.7h-0.7zM71.7 181.2h0.7v0.7h-0.7zM67.4 176.1h0.7v0.7h-0.7zM77.1 183.3h0.7v0.7h-0.7zM64.6 181.8h0.7v0.7h-0.7zM66.3 174.3h0.7v0.7h-0.7zM59.1 175.9h0.7v0.7h-0.7zM79.7 178.3h0.7v0.7h-0.7zM62.5 178.3h0.7v0.7h-0.7zM82.1 177.8h0.7v0.7h-0.7zM60.8 178.9h0.7v0.7h-0.7zM59.7 179.3h0.7v0.7h-0.7zM78.0 178.5h0.7v0.7h-0.7zM63.7 178.3h0.7v0.7h-0.7zM53.8 181.9h0.7v0.7h-0.7zM91.7 178.1h0.7v0.7h-0.7zM47.3 176.3h0.7v0.7h-0.7zM53.5 173.3h0.7v0.7h-0.7zM66.6 177.6h0.7v0.7h-0.7zM61.7 180.8h0.7v0.7h-0.7zM68.4 175.5h0.7v0.7h-0.7zM72.2 174.8h0.7v0.7h-0.7zM64.5 175.9h0.7v0.7h-0.7zM71.0 177.3h0.7v0.7h-0.7zM62.2 178.7h0.7v0.7h-0.7zM72.7 178.6h0.7v0.7h-0.7zM79.2 175.4h0.7v0.7h-0.7zM72.0 182.2h0.7v0.7h-0.7zM68.1 172.5h0.7v0.7h-0.7zM77.8 177.5h0.7v0.7h-0.7zM74.5 178.7h0.7v0.7h-0.7zM74.2 181.1h0.7v0.7h-0.7zM69.3 180.0h0.7v0.7h-0.7zM55.0 175.8h0.7v0.7h-0.7zM66.8 182.0h0.7v0.7h-0.7zM59.7 177.1h0.7v0.7h-0.7zM74.7 176.7h0.7v0.7h-0.7zM55.0 173.1h0.7v0.7h-0.7zM75.9 175.2h0.7v0.7h-0.7zM71.5 179.3h0.7v0.7h-0.7zM58.0 179.1h0.7v0.7h-0.7zM46.5 177.7h0.7v0.7h-0.7zM57.5 178.6h0.7v0.7h-0.7zM70.0 178.4h0.7v0.7h-0.7zM74.2 176.4h0.7v0.7h-0.7zM53.4 174.9h0.7v0.7h-0.7zM77.9 175.4h0.7v0.7h-0.7zM64.4 178.9h0.7v0.7h-0.7zM66.3 175.5h0.7v0.7h-0.7zM46.8 180.3h0.7v0.7h-0.7zM62.1 173.9h0.7v0.7h-0.7zM61.5 178.1h0.7v0.7h-0.7zM48.2 178.3h0.7v0.7h-0.7zM68.0 179.1h0.7v0.7h-0.7zM68.0 175.5h0.7v0.7h-0.7zM51.6 177.5h0.7v0.7h-0.7zM62.6 181.8h0.7v0.7h-0.7zM65.0 179.0h0.7v0.7h-0.7z" fill="#777" fill-opacity="0.3"/>
<path d="M58.3 184.5h0.7v0.7h-0.7zM62.5 187.0h0.7v0.7h-0.7zM49.2 188.8h0.7v0.7h-0.7zM65.3 187.7h0.7v0.7h-0.7zM56.2 186.7h0.7v0.7h-0.7zM55.3 190.2h0.7v0.7h-0.7zM58.4 188.8h0.7v0.7h-0.7zM61.3 182.1h0.7v0.7h-0.7zM58.9 189.1h0.7v0.7h-0.7zM59.2 185.0h0.7v0.7h-0.7zM53.1 189.3h0.7v0.7h-0.7zM60.3 188.8h0.7v0.7h-0.7zM51.0 188.5h0.7v0.7h-0.7zM66.5 188.0h0.7v0.7h-0.7zM65.9 189.7h0.7v0.7h-0.7zM62.8 186.6h0.7v0.7h-0.7zM54.0 186.6h0.7v0.7h-0.7zM64.7 190.4h0.7v0.7h-0.7zM51.6 185.4h0.7v0.7h-0.7zM58.6 190.6h0.7v0.7h-0.7zM59.5 189.2h0.7v0.7h-0.7zM60.7 189.1h0.7v0.7h-0.7zM57.0 188.9h0.7v0.7h-0.7zM61.9 187.7h0.7v0.7h-0.7zM67.9 185.8h0.7v0.7h-0.7zM55.5 186.3h0.7v0.7h-0.7zM64.2 190.1h0.7v0.7h-0.7zM53.4 188.1h0.7v0.7h-0.7zM55.1 185.2h0.7v0.7h-0.7zM53.0 188.6h0.7v0.7h-0.7zM61.2 186.5h0.7v0.7h-0.7zM57.8 189.6h0.7v0.7h-0.7zM66.1 188.6h0.7v0.7h-0.7zM53.0 184.8h0.7v0.7h-0.7zM58.2 187.3h0.7v0.7h-0.7zM54.4 186.6h0.7v0.7h-0.7zM54.5 188.3h0.7v0.7h-0.7zM61.9 186.3h0.7v0.7h-0.7zM68.9 190.8h0.7v0.7h-0.7zM56.4 188.6h0.7v0.7h-0.7zM66.9 186.1h0.7v0.7h-0.7zM54.2 186.8h0.7v0.7h-0.7zM51.9 189.4h0.7v0.7h-0.7zM56.6 188.2h0.7v0.7h-0.7zM58.4 187.6h0.7v0.7h-0.7zM66.9 187.6h0.7v0.7h-0.7zM52.8 185.2h0.7v0.7h-0.7zM53.9 188.3h0.7v0.7h-0.7zM58.9 188.5h0.7v0.7h-0.7zM55.4 188.8h0.7v0.7h-0.7zM60.6 185.6h0.7v0.7h-0.7zM60.3 188.8h0.7v0.7h-0.7zM56.3 190.2h0.7v0.7h-0.7zM58.3 186.5h0.7v0.7h-0.7zM63.5 191.5h0.7v0.7h-0.7zM51.1 187.8h0.7v0.7h-0.7zM63.2 189.2h0.7v0.7h-0.7zM64.0 190.6h0.7v0.7h-0.7zM47.3 189.4h0.7v0.7h-0.7zM48.3 186.1h0.7v0.7h-0.7z" fill="#888" fill-opacity="0.35"/>
<path d="M45.5 208.9h0.7v0.7h-0.7zM42.1 207.4h0.7v0.7h-0.7zM43.0 214.9h0.7v0.7h-0.7zM48.8 206.9h0.7v0.7h-0.7zM44.9 204.7h0.7v0.7h-0.7zM59.8 207.9h0.7v0.7h-0.7zM45.0 205.0h0.7v0.7h-0.7zM51.0 213.9h0.7v0.7h-0.7zM51.2 208.7h0.7v0.7h-0.7zM58.2 216.4h0.7v0.7h-0.7zM55.8 202.7h0.7v0.7h-0.7zM46.0 213.7h0.7v0.7h-0.7zM54.4 199.3h0.7v0.7h-0.7zM48.9 205.1h0.7v0.7h-0.7zM49.9 209.5h0.7v0.7h-0.7zM55.9 212.3h0.7v0.7h-0.7zM40.7 208.1h0.7v0.7h-0.7zM50.7 202.7h0.7v0.7h-0.7zM57.0 201.7h0.7v0.7h-0.7zM43.7 213.4h0.7v0.7h-0.7zM54.4 210.2h0.7v0.7h-0.7zM59.8 201.9h0.7v0.7h-0.7zM60.2 207.4h0.7v0.7h-0.7zM55.2 210.2h0.7v0.7h-0.7zM55.8 205.5h0.7v0.7h-0.7zM51.9 207.6h0.7v0.7h-0.7zM58.3 198.2h0.7v0.7h-0.7zM60.5 203.3h0.7v0.7h-0.7zM65.1 208.9h0.7v0.7h-0.7zM62.5 206.1h0.7v0.7h-0.7zM62.4 208.7h0.7v0.7h-0.7zM54.5 208.9h0.7v0.7h-0.7zM37.1 201.1h0.7v0.7h-0.7zM42.3 207.4h0.7v0.7h-0.7zM50.7 210.3h0.7v0.7h-0.7zM54.2 212.0h0.7v0.7h-0.7zM47.8 208.4h0.7v0.7h-0.7zM49.0 202.3h0.7v0.7h-0.7zM41.4 206.6h0.7v0.7h-0.7zM46.4 204.8h0.7v0.7h-0.7zM46.2 202.6h0.7v0.7h-0.7zM68.9 207.1h0.7v0.7h-0.7zM44.0 206.2h0.7v0.7h-0.7zM52.0 201.0h0.7v0.7h-0.7zM58.3 203.2h0.7v0.7h-0.7zM55.0 205.0h0.7v0.7h-0.7zM47.0 219.9h0.7v0.7h-0.7zM48.1 200.7h0.7v0.7h-0.7zM48.6 202.8h0.7v0.7h-0.7zM58.3 208.6h0.7v0.7h-0.7zM44.6 213.9h0.7v0.7h-0.7zM50.3 201.5h0.7v0.7h-0.7zM58.3 209.5h0.7v0.7h-0.7zM45.6 202.2h0.7v0.7h-0.7zM50.8 204.1h0.7v0.7h-0.7zM55.0 207.9h0.7v0.7h-0.7zM44.5 202.4h0.7v0.7h-0.7zM50.2 212.0h0.7v0.7h-0.7zM47.8 209.2h0.7v0.7h-0.7zM47.8 208.6h0.7v0.7h-0.7zM48.2 208.5h0.7v0.7h-0.7zM46.3 203.8h0.7v0.7h-0.7zM63.4 210.5h0.7v0.7h-0.7zM44.0 211.5h0.7v0.7h-0.7zM50.6 212.2h0.7v0.7h-0.7zM43.5 206.3h0.7v0.7h-0.7zM49.0 203.9h0.7v0.7h-0.7zM44.5 214.6h0.7v0.7h-0.7zM51.6 205.5h0.7v0.7h-0.7zM41.6 211.3h0.7v0.7h-0.7zM58.5 206.1h0.7v0.7h-0.7zM43.3 209.1h0.7v0.7h-0.7zM51.7 200.9h0.7v0.7h-0.7zM64.4 209.7h0.7v0.7h-0.7zM45.7 203.5h0.7v0.7h-0.7zM56.5 211.6h0.7v0.7h-0.7zM55.4 209.0h0.7v0.7h-0.7zM49.5 215.3h0.7v0.7h-0.7zM50.2 207.8h0.7v0.7h-0.7zM54.2 205.8h0.7v0.7h-0.7zM56.7 213.3h0.7v0.7h-0.7zM38.4 206.1h0.7v0.7h-0.7zM59.6 212.7h0.7v0.7h-0.7zM49.2 209.7h0.7v0.7h-0.7zM53.2 207.6h0.7v0.7h-0.7zM48.2 211.1h0.7v0.7h-0.7zM59.3 213.5h0.7v0.7h-0.7zM53.7 207.6h0.7v0.7h-0.7zM59.0 220.5h0.7v0.7h-0.7zM50.7 206.7h0.7v0.7h-0.7zM62.9 202.5h0.7v0.7h-0.7zM36.7 211.1h0.7v0.7h-0.7zM60.7 212.5h0.7v0.7h-0.7zM58.3 211.6h0.7v0.7h-0.7zM48.0 211.4h0.7v0.7h-0.7zM46.2 200.8h0.7v0.7h-0.7zM50.8 201.9h0.7v0.7h-0.7zM45.5 204.5h0.7v0.7h-0.7zM49.6 207.7h0.7v0.7h-0.7zM45.9 204.7h0.7v0.7h-0.7zM51.2 207.7h0.7v0.7h-0.7zM55.0 210.2h0.7v0.7h-0.7zM53.5 208.9h0.7v0.7h-0.7zM56.2 207.0h0.7v0.7h-0.7zM53.2 203.4h0.7v0.7h-0.7zM53.5 211.1h0.7v0.7h-0.7zM48.1 212.4h0.7v0.7h-0.7zM49.0 211.4h0.7v0.7h-0.7zM62.3 208.0h0.7v0.7h-0.7zM49.7 208.9h0.7v0.7h-0.7zM49.7 203.4h0.7v0.7h-0.7zM58.4 199.3h0.7v0.7h-0.7zM57.6 203.9h0.7v0.7h-0.7zM57.8 205.0h0.7v0.7h-0.7zM63.2 205.0h0.7v0.7h-0.7zM38.4 218.9h0.7v0.7h-0.7zM52.3 206.5h0.7v0.7h-0.7zM52.0 205.7h0.7v0.7h-0.7zM53.9 204.0h0.7v0.7h-0.7zM65.3 204.2h0.7v0.7h-0.7zM56.0 212.5h0.7v0.7h-0.7zM50.7 210.6h0.7v0.7h-0.7zM48.8 203.0h0.7v0.7h-0.7zM47.2 211.4h0.7v0.7h-0.7zM58.4 203.3h0.7v0.7h-0.7zM58.2 203.4h0.7v0.7h-0.7zM53.1 209.9h0.7v0.7h-0.7zM39.5 209.5h0.7v0.7h-0.7zM50.2 201.0h0.7v0.7h-0.7zM56.1 208.2h0.7v0.7h-0.7zM54.2 205.9h0.7v0.7h-0.7zM47.9 201.6h0.7v0.7h-0.7zM50.5 202.7h0.7v0.7h-0.7zM49.2 208.6h0.7v0.7h-0.7zM56.8 208.7h0.7v0.7h-0.7zM53.6 205.8h0.7v0.7h-0.7zM57.7 211.7h0.7v0.7h-0.7zM48.9 205.2h0.7v0.7h-0.7zM45.9 205.7h0.7v0.7h-0.7zM49.2 214.9h0.7v0.7h-0.7zM60.1 201.4h0.7v0.7h-0.7zM56.6 206.0h0.7v0.7h-0.7zM41.3 208.0h0.7v0.7h-0.7zM47.7 208.2h0.7v0.7h-0.7zM55.0 204.3h0.7v0.7h-0.7zM61.0 207.5h0.7v0.7h-0.7zM47.1 200.3h0.7v0.7h-0.7zM65.4 203.7h0.7v0.7h-0.7zM52.3 208.1h0.7v0.7h-0.7zM57.3 201.4h0.7v0.7h-0.7zM37.0 207.3h0.7v0.7h-0.7zM42.7 205.7h0.7v0.7h-0.7zM64.4 204.5h0.7v0.7h-0.7zM55.9 202.3h0.7v0.7h-0.7zM70.0 205.3h0.7v0.7h-0.7zM54.2 206.3h0.7v0.7h-0.7zM48.1 211.2h0.7v0.7h-0.7zM50.4 203.1h0.7v0.7h-0.7zM48.5 205.6h0.7v0.7h-0.7zM52.3 207.3h0.7v0.7h-0.7zM46.7 204.7h0.7v0.7h-0.7zM64.2 205.7h0.7v0.7h-0.7zM59.8 204.9h0.7v0.7h-0.7zM53.7 204.1h0.7v0.7h-0.7zM39.4 204.4h0.7v0.7h-0.7zM56.8 211.8h0.7v0.7h-0.7zM58.0 204.3h0.7v0.7h-0.7zM49.4 201.9h0.7v0.7h-0.7zM53.0 209.9h0.7v0.7h-0.7zM52.7 203.5h0.7v0.7h-0.7zM53.7 206.9h0.7v0.7h-0.7zM54.2 205.8h0.7v0.7h-0.7zM52.6 203.6h0.7v0.7h-0.7zM46.2 196.3h0.7v0.7h-0.7zM52.7 207.2h0.7v0.7h-0.7zM45.5 212.9h0.7v0.7h-0.7zM58.8 213.6h0.7v0.7h-0.7zM50.8 205.6h0.7v0.7h-0.7zM53.5 210.5h0.7v0.7h-0.7zM60.8 202.8h0.7v0.7h-0.7zM50.5 198.5h0.7v0.7h-0.7zM50.0 210.4h0.7v0.7h-0.7zM55.8 216.3h0.7v0.7h-0.7zM55.8 205.0h0.7v0.7h-0.7zM47.0 207.8h0.7v0.7h-0.7zM61.8 201.7h0.7v0.7h-0.7zM45.8 207.1h0.7v0.7h-0.7zM49.6 210.4h0.7v0.7h-0.7zM48.8 207.0h0.7v0.7h-0.7zM51.6 207.7h0.7v0.7h-0.7zM60.0 201.5h0.7v0.7h-0.7zM41.1 200.7h0.7v0.7h-0.7zM49.9 207.2h0.7v0.7h-0.7zM54.9 208.1h0.7v0.7h-0.7zM52.5 199.5h0.7v0.7h-0.7zM47.6 208.5h0.7v0.7h-0.7zM44.1 204.8h0.7v0.7h-0.7zM49.0 208.8h0.7v0.7h-0.7zM46.3 199.9h0.7v0.7h-0.7zM49.4 205.6h0.7v0.7h-0.7zM56.7 204.3h0.7v0.7h-0.7zM50.2 204.6h0.7v0.7h-0.7zM48.7 215.2h0.7v0.7h-0.7zM36.1 209.2h0.7v0.7h-0.7zM46.8 207.1h0.7v0.7h-0.7zM42.2 207.6h0.7v0.7h-0.7zM46.7 209.0h0.7v0.7h-0.7zM60.0 201.7h0.7v0.7h-0.7zM41.8 211.4h0.7v0.7h-0.7zM63.6 206.8h0.7v0.7h-0.7zM39.0 200.4h0.7v0.7h-0.7zM57.5 213.9h0.7v0.7h-0.7zM50.9 201.2h0.7v0.7h-0.7zM58.7 201.2h0.7v0.7h-0.7zM47.5 204.2h0.7v0.7h-0.7zM47.7 209.0h0.7v0.7h-0.7zM45.7 207.4h0.7v0.7h-0.7zM58.3 211.2h0.7v0.7h-0.7zM59.9 205.2h0.7v0.7h-0.7zM41.2 207.5h0.7v0.7h-0.7zM53.0 207.9h0.7v0.7h-0.7zM49.3 208.6h0.7v0.7h-0.7zM45.4 210.1h0.7v0.7h-0.7zM62.5 207.3h0.7v0.7h-0.7zM52.0 209.4h0.7v0.7h-0.7zM55.1 209.1h0.7v0.7h-0.7zM53.0 205.7h0.7v0.7h-0.7zM61.3 201.9h0.7v0.7h-0.7zM58.6 203.3h0.7v0.7h-0.7zM54.6 202.9h0.7v0.7h-0.7zM42.3 202.6h0.7v0.7h-0.7zM45.8 212.2h0.7v0.7h-0.7zM48.0 203.9h0.7v0.7h-0.7zM45.7 206.6h0.7v0.7h-0.7zM51.5 209.0h0.7v0.7h-0.7zM47.4 201.9h0.7v0.7h-0.7zM51.2 210.3h0.7v0.7h-0.7zM56.2 202.7h0.7v0.7h-0.7zM48.6 208.1h0.7v0.7h-0.7zM48.1 201.1h0.7v0.7h-0.7zM52.8 205.3h0.7v0.7h-0.7zM53.4 210.2h0.7v0.7h-0.7zM48.6 202.1h0.7v0.7h-0.7zM47.0 209.9h0.7v0.7h-0.7zM52.2 209.9h0.7v0.7h-0.7zM49.5 209.8h0.7v0.7h-0.7zM48.7 204.2h0.7v0.7h-0.7zM51.6 206.3h0.7v0.7h-0.7zM50.2 207.0h0.7v0.7h-0.7zM57.5 204.1h0.7v0.7h-0.7z" fill="#333" fill-opacity="0.45"/>
<path d="M42 195 C45 191 60 190.5 63.5 195 C65 201 61.5 206 57 210.5 C53 212.5 47 212 43 209 Z" fill="#555" filter="url(#b15)" opacity="0.35"/>
<path d="M42 195 C45 191 60 190.5 63.5 195 C65 201 61.5 206 57 210.5 C53 212.5 47 212 43 209 Z" fill="url(#gcup)" stroke="#2a2a2a" stroke-width="1.8" filter="url(#b05)"/>
<ellipse cx="53.10" cy="177.50" rx="12.40" ry="8.20" fill="#555" filter="url(#b15)" opacity="0.45"/>
<ellipse cx="53.10" cy="177.50" rx="10.80" ry="6.60" fill="#bcbcbc" stroke="#333" stroke-width="2.1" filter="url(#b05)"/>
<ellipse cx="53.10" cy="177.50" rx="6.70" ry="3.96" fill="#a2a2a2" filter="url(#b06)"/>
<ellipse cx="53.10" cy="177.50" rx="3.46" ry="1.06" fill="#474747" filter="url(#b05)"/>
<path d="M46.8 183.4h0.8v0.8h-0.8zM64.0 172.7h0.8v0.8h-0.8zM60.9 171.7h0.8v0.8h-0.8zM58.2 170.0h0.8v0.8h-0.8zM55.1 184.2h0.8v0.8h-0.8zM41.7 182.8h0.8v0.8h-0.8zM65.1 177.3h0.8v0.8h-0.8zM42.5 173.1h0.8v0.8h-0.8zM53.4 184.4h0.8v0.8h-0.8zM42.9 179.8h0.8v0.8h-0.8zM44.7 183.5h0.8v0.8h-0.8zM44.4 175.0h0.8v0.8h-0.8zM47.8 185.3h0.8v0.8h-0.8zM63.4 175.2h0.8v0.8h-0.8zM40.1 177.6h0.8v0.8h-0.8zM42.3 177.9h0.8v0.8h-0.8zM64.5 179.0h0.8v0.8h-0.8zM54.5 185.0h0.8v0.8h-0.8zM56.8 185.4h0.8v0.8h-0.8zM43.8 180.8h0.8v0.8h-0.8zM64.4 180.8h0.8v0.8h-0.8zM49.1 184.8h0.8v0.8h-0.8zM59.8 170.6h0.8v0.8h-0.8zM42.5 177.5h0.8v0.8h-0.8zM62.6 173.1h0.8v0.8h-0.8zM44.1 181.3h0.8v0.8h-0.8zM43.4 173.9h0.8v0.8h-0.8zM61.6 171.1h0.8v0.8h-0.8zM44.2 183.8h0.8v0.8h-0.8zM42.8 178.8h0.8v0.8h-0.8zM43.2 181.2h0.8v0.8h-0.8zM41.7 176.2h0.8v0.8h-0.8zM51.4 184.1h0.8v0.8h-0.8zM51.1 170.4h0.8v0.8h-0.8zM55.2 184.0h0.8v0.8h-0.8zM64.5 180.7h0.8v0.8h-0.8zM60.4 182.3h0.8v0.8h-0.8zM60.6 184.7h0.8v0.8h-0.8zM44.0 177.6h0.8v0.8h-0.8zM54.9 169.6h0.8v0.8h-0.8zM42.0 181.2h0.8v0.8h-0.8zM58.6 183.5h0.8v0.8h-0.8zM60.6 181.3h0.8v0.8h-0.8zM54.4 169.9h0.8v0.8h-0.8zM45.2 181.5h0.8v0.8h-0.8zM66.1 178.8h0.8v0.8h-0.8zM48.7 170.5h0.8v0.8h-0.8zM58.0 170.7h0.8v0.8h-0.8zM64.4 175.3h0.8v0.8h-0.8zM61.6 171.5h0.8v0.8h-0.8zM64.5 179.0h0.8v0.8h-0.8zM48.0 170.2h0.8v0.8h-0.8zM42.2 174.0h0.8v0.8h-0.8zM45.0 182.3h0.8v0.8h-0.8zM63.1 183.0h0.8v0.8h-0.8zM61.6 184.5h0.8v0.8h-0.8zM55.4 169.2h0.8v0.8h-0.8zM48.0 184.4h0.8v0.8h-0.8zM44.8 171.5h0.8v0.8h-0.8zM44.0 174.4h0.8v0.8h-0.8zM51.3 170.8h0.8v0.8h-0.8zM50.4 171.0h0.8v0.8h-0.8zM45.1 182.3h0.8v0.8h-0.8zM60.6 184.1h0.8v0.8h-0.8zM42.5 177.1h0.8v0.8h-0.8zM52.5 184.4h0.8v0.8h-0.8zM52.8 171.3h0.8v0.8h-0.8zM43.1 174.9h0.8v0.8h-0.8zM44.9 174.4h0.8v0.8h-0.8zM51.9 169.3h0.8v0.8h-0.8zM50.7 170.3h0.8v0.8h-0.8zM40.4 178.7h0.8v0.8h-0.8zM58.7 169.7h0.8v0.8h-0.8zM54.6 169.7h0.8v0.8h-0.8zM56.0 170.0h0.8v0.8h-0.8zM63.0 181.7h0.8v0.8h-0.8zM55.6 170.6h0.8v0.8h-0.8zM44.8 175.5h0.8v0.8h-0.8zM41.4 179.0h0.8v0.8h-0.8zM54.4 170.7h0.8v0.8h-0.8zM60.6 172.9h0.8v0.8h-0.8zM57.7 171.2h0.8v0.8h-0.8zM64.1 179.9h0.8v0.8h-0.8zM62.3 172.0h0.8v0.8h-0.8zM58.0 183.4h0.8v0.8h-0.8zM43.6 175.5h0.8v0.8h-0.8zM64.5 173.4h0.8v0.8h-0.8zM55.9 185.2h0.8v0.8h-0.8zM47.5 170.2h0.8v0.8h-0.8zM47.4 183.8h0.8v0.8h-0.8zM58.3 182.9h0.8v0.8h-0.8zM61.6 170.9h0.8v0.8h-0.8zM56.7 169.3h0.8v0.8h-0.8zM62.4 173.9h0.8v0.8h-0.8zM64.4 180.5h0.8v0.8h-0.8zM57.0 185.5h0.8v0.8h-0.8zM66.3 182.0h0.8v0.8h-0.8zM65.0 181.2h0.8v0.8h-0.8zM40.7 177.9h0.8v0.8h-0.8zM58.1 170.9h0.8v0.8h-0.8zM57.8 171.1h0.8v0.8h-0.8zM64.7 178.0h0.8v0.8h-0.8zM48.4 183.8h0.8v0.8h-0.8zM47.7 184.7h0.8v0.8h-0.8zM64.6 175.6h0.8v0.8h-0.8zM50.9 184.7h0.8v0.8h-0.8zM54.3 170.9h0.8v0.8h-0.8zM58.7 184.2h0.8v0.8h-0.8zM56.4 184.4h0.8v0.8h-0.8zM46.2 171.0h0.8v0.8h-0.8zM43.6 174.7h0.8v0.8h-0.8zM41.5 174.3h0.8v0.8h-0.8zM59.2 183.8h0.8v0.8h-0.8zM60.5 169.7h0.8v0.8h-0.8zM58.9 171.7h0.8v0.8h-0.8zM53.6 186.6h0.8v0.8h-0.8zM39.3 173.1h0.8v0.8h-0.8zM47.5 184.1h0.8v0.8h-0.8zM58.3 186.1h0.8v0.8h-0.8zM65.5 174.6h0.8v0.8h-0.8zM43.6 175.2h0.8v0.8h-0.8zM62.2 181.5h0.8v0.8h-0.8zM41.0 180.7h0.8v0.8h-0.8zM52.6 185.3h0.8v0.8h-0.8zM65.9 176.3h0.8v0.8h-0.8zM50.4 185.2h0.8v0.8h-0.8zM39.6 178.7h0.8v0.8h-0.8zM47.6 184.0h0.8v0.8h-0.8zM61.2 181.7h0.8v0.8h-0.8zM61.4 172.9h0.8v0.8h-0.8zM49.8 170.3h0.8v0.8h-0.8zM62.4 174.2h0.8v0.8h-0.8zM60.6 171.7h0.8v0.8h-0.8zM44.0 173.0h0.8v0.8h-0.8zM43.1 174.0h0.8v0.8h-0.8zM49.5 170.3h0.8v0.8h-0.8zM44.5 182.2h0.8v0.8h-0.8zM51.1 169.2h0.8v0.8h-0.8zM61.1 183.2h0.8v0.8h-0.8zM42.1 173.3h0.8v0.8h-0.8zM50.1 171.4h0.8v0.8h-0.8zM60.8 183.3h0.8v0.8h-0.8zM63.8 179.5h0.8v0.8h-0.8zM45.2 180.6h0.8v0.8h-0.8zM54.9 168.3h0.8v0.8h-0.8zM49.2 183.5h0.8v0.8h-0.8zM59.6 184.6h0.8v0.8h-0.8zM49.2 169.7h0.8v0.8h-0.8zM51.2 169.1h0.8v0.8h-0.8zM50.8 184.5h0.8v0.8h-0.8zM57.5 182.1h0.8v0.8h-0.8zM41.5 180.6h0.8v0.8h-0.8zM58.1 184.3h0.8v0.8h-0.8zM65.7 178.1h0.8v0.8h-0.8zM58.5 170.9h0.8v0.8h-0.8zM39.8 176.1h0.8v0.8h-0.8zM58.2 184.8h0.8v0.8h-0.8zM50.0 184.5h0.8v0.8h-0.8zM46.8 186.2h0.8v0.8h-0.8zM43.0 180.4h0.8v0.8h-0.8zM61.3 175.1h0.8v0.8h-0.8zM57.2 170.3h0.8v0.8h-0.8zM62.7 182.6h0.8v0.8h-0.8zM49.9 169.7h0.8v0.8h-0.8zM42.5 179.6h0.8v0.8h-0.8zM52.8 185.1h0.8v0.8h-0.8zM62.9 180.3h0.8v0.8h-0.8zM45.1 172.4h0.8v0.8h-0.8zM65.5 175.9h0.8v0.8h-0.8zM64.0 178.9h0.8v0.8h-0.8zM63.9 173.2h0.8v0.8h-0.8zM60.1 171.6h0.8v0.8h-0.8zM47.5 184.3h0.8v0.8h-0.8zM50.7 170.4h0.8v0.8h-0.8zM49.5 169.3h0.8v0.8h-0.8zM49.1 170.3h0.8v0.8h-0.8zM45.5 172.6h0.8v0.8h-0.8zM57.6 170.4h0.8v0.8h-0.8zM61.8 171.0h0.8v0.8h-0.8zM53.8 185.3h0.8v0.8h-0.8zM42.7 177.1h0.8v0.8h-0.8zM62.2 173.8h0.8v0.8h-0.8zM61.6 181.4h0.8v0.8h-0.8zM40.3 174.7h0.8v0.8h-0.8zM56.6 170.1h0.8v0.8h-0.8zM63.6 172.6h0.8v0.8h-0.8zM46.1 170.6h0.8v0.8h-0.8zM41.9 176.4h0.8v0.8h-0.8zM39.9 177.8h0.8v0.8h-0.8zM52.0 184.9h0.8v0.8h-0.8zM46.6 184.1h0.8v0.8h-0.8zM49.7 172.0h0.8v0.8h-0.8zM61.8 172.5h0.8v0.8h-0.8zM63.8 175.2h0.8v0.8h-0.8zM62.8 174.5h0.8v0.8h-0.8zM51.7 185.1h0.8v0.8h-0.8zM53.4 184.0h0.8v0.8h-0.8zM63.0 181.1h0.8v0.8h-0.8zM59.9 174.3h0.8v0.8h-0.8zM42.5 174.8h0.8v0.8h-0.8zM47.7 183.5h0.8v0.8h-0.8zM44.8 170.3h0.8v0.8h-0.8zM58.6 170.7h0.8v0.8h-0.8zM51.2 169.6h0.8v0.8h-0.8zM56.0 182.2h0.8v0.8h-0.8zM42.8 174.8h0.8v0.8h-0.8zM63.2 178.3h0.8v0.8h-0.8zM50.7 185.9h0.8v0.8h-0.8zM41.3 174.1h0.8v0.8h-0.8zM45.7 171.6h0.8v0.8h-0.8zM56.0 184.9h0.8v0.8h-0.8zM48.2 170.6h0.8v0.8h-0.8zM46.3 183.5h0.8v0.8h-0.8zM64.7 180.5h0.8v0.8h-0.8zM65.5 176.8h0.8v0.8h-0.8zM42.5 174.7h0.8v0.8h-0.8zM44.7 173.2h0.8v0.8h-0.8zM60.3 185.0h0.8v0.8h-0.8zM53.7 170.4h0.8v0.8h-0.8zM62.8 180.5h0.8v0.8h-0.8z" fill="#222" fill-opacity="0.35"/>
</g>
<ellipse cx="87.30" cy="179.60" rx="10.80" ry="5.30" transform="rotate(-50 87.30 179.60)" fill="none" stroke="#444" stroke-width="0.65"/>
<path d="M39.2 162.4h2.4M39.2 174.0h2.4M39.2 187.6h2.4M39.2 201.6h2.4M39.2 207.8h2.4M40.3 159.1h1.3M40.3 161.7h1.3M40.3 164.3h1.3M40.3 166.9h1.3M40.3 169.5h1.3M40.3 172.1h1.3M40.3 174.7h1.3M40.3 177.3h1.3M40.3 179.9h1.3M40.3 182.5h1.3M40.3 185.1h1.3M40.3 187.7h1.3M40.3 190.3h1.3M40.3 192.9h1.3M40.3 195.5h1.3M40.3 198.1h1.3M40.3 200.7h1.3M40.3 203.3h1.3M40.3 205.9h1.3M40.3 208.5h1.3M40.3 211.1h1.3M51.5 213.5v2.4M67.0 213.5v2.4M81.8 213.5v2.4M95.7 213.5v2.4M44.1 213.5v1.3M46.7 213.5v1.3M49.3 213.5v1.3M51.9 213.5v1.3M54.5 213.5v1.3M57.1 213.5v1.3M59.7 213.5v1.3M62.3 213.5v1.3M64.9 213.5v1.3M67.5 213.5v1.3M70.1 213.5v1.3M72.7 213.5v1.3M75.3 213.5v1.3M77.9 213.5v1.3M80.5 213.5v1.3M83.1 213.5v1.3M85.7 213.5v1.3M88.3 213.5v1.3M90.9 213.5v1.3M93.5 213.5v1.3M96.1 213.5v1.3M98.7 213.5v1.3M101.3 213.5v1.3" stroke="#1a1a1a" stroke-width="0.8" fill="none"/>
<path d="M41.6 156.6 H103.4 V213.5" fill="none" stroke="#111" stroke-width="1.25"/>
<path d="M41.6 156.6 V213.5 H103.4" fill="none" stroke="#111" stroke-width="1.6"/>
<text transform="matrix(1.0364,0,0,1,28.09,164.44)" font-size="5.915" fill="#222" stroke="#222" stroke-width="0.16">10</text>
<text transform="matrix(0.9825,0,0,1,35.15,161.72)" font-size="3.857" fill="#222" stroke="#222" stroke-width="0.16">5</text>
<text transform="matrix(1.0364,0,0,1,28.09,176.05)" font-size="5.915" fill="#222" stroke="#222" stroke-width="0.16">10</text>
<text transform="matrix(0.9200,0,0,1,35.21,173.36)" font-size="3.913" fill="#222" stroke="#222" stroke-width="0.16">4</text>
<text transform="matrix(1.0364,0,0,1,28.09,189.65)" font-size="5.915" fill="#222" stroke="#222" stroke-width="0.16">10</text>
<text transform="matrix(1.0071,0,0,1,35.15,186.92)" font-size="3.803" fill="#222" stroke="#222" stroke-width="0.16">3</text>
<text transform="matrix(1.0364,0,0,1,28.09,203.59)" font-size="5.915" fill="#222" stroke="#222" stroke-width="0.16">10</text>
<text transform="matrix(1.0256,0,0,1,35.10,200.90)" font-size="3.857" fill="#222" stroke="#222" stroke-width="0.16">2</text>
<text transform="matrix(1.0321,0,0,1,31.61,209.85)" font-size="5.915" fill="#222" stroke="#222" stroke-width="0.16">0</text>
<text transform="matrix(1.0321,0,0,1,49.79,225.54)" font-size="5.915" fill="#222" stroke="#222" stroke-width="0.16">0</text>
<text transform="matrix(1.0364,0,0,1,63.45,225.54)" font-size="5.915" fill="#222" stroke="#222" stroke-width="0.16">10</text>
<text transform="matrix(1.0071,0,0,1,70.50,222.81)" font-size="3.803" fill="#222" stroke="#222" stroke-width="0.16">3</text>
<text transform="matrix(1.0364,0,0,1,78.28,225.54)" font-size="5.915" fill="#222" stroke="#222" stroke-width="0.16">10</text>
<text transform="matrix(0.9200,0,0,1,85.40,222.85)" font-size="3.913" fill="#222" stroke="#222" stroke-width="0.16">4</text>
<text transform="matrix(1.0364,0,0,1,92.18,225.54)" font-size="5.915" fill="#222" stroke="#222" stroke-width="0.16">10</text>
<text transform="matrix(0.9825,0,0,1,99.24,222.81)" font-size="3.857" fill="#222" stroke="#222" stroke-width="0.16">5</text>
<text transform="matrix(1.0524,0,0,1,77.69,163.89)" font-size="6.197" fill="#222" stroke="#222" stroke-width="0.16">0.04%</text>
<clipPath id="c212"><rect x="121.4" y="156.6" width="61.900000000000006" height="56.900000000000006"/></clipPath>
<g clip-path="url(#c212)">
<path d="M161.1 186.4h0.7v0.7h-0.7zM144.0 180.6h0.7v0.7h-0.7zM137.8 191.5h0.7v0.7h-0.7zM142.9 190.7h0.7v0.7h-0.7zM137.6 189.4h0.7v0.7h-0.7zM146.3 184.5h0.7v0.7h-0.7zM133.0 191.6h0.7v0.7h-0.7zM146.4 186.2h0.7v0.7h-0.7zM151.7 182.3h0.7v0.7h-0.7zM155.5 189.6h0.7v0.7h-0.7zM149.6 188.8h0.7v0.7h-0.7zM141.1 185.8h0.7v0.7h-0.7zM148.8 184.4h0.7v0.7h-0.7zM155.2 189.7h0.7v0.7h-0.7zM155.5 180.4h0.7v0.7h-0.7zM156.6 184.5h0.7v0.7h-0.7zM140.4 185.3h0.7v0.7h-0.7zM155.7 188.3h0.7v0.7h-0.7zM148.6 190.6h0.7v0.7h-0.7zM153.3 191.0h0.7v0.7h-0.7zM152.4 187.7h0.7v0.7h-0.7zM149.4 181.0h0.7v0.7h-0.7zM144.7 177.7h0.7v0.7h-0.7zM145.1 186.8h0.7v0.7h-0.7zM140.4 184.3h0.7v0.7h-0.7zM153.0 185.0h0.7v0.7h-0.7zM145.8 193.9h0.7v0.7h-0.7zM147.9 190.0h0.7v0.7h-0.7zM148.7 188.6h0.7v0.7h-0.7zM153.5 185.4h0.7v0.7h-0.7zM150.7 184.4h0.7v0.7h-0.7zM142.6 188.7h0.7v0.7h-0.7zM141.2 175.8h0.7v0.7h-0.7zM143.8 191.3h0.7v0.7h-0.7zM138.3 188.5h0.7v0.7h-0.7zM142.7 180.1h0.7v0.7h-0.7zM143.0 177.0h0.7v0.7h-0.7zM153.4 184.5h0.7v0.7h-0.7zM147.7 186.0h0.7v0.7h-0.7zM134.8 184.5h0.7v0.7h-0.7zM153.2 189.2h0.7v0.7h-0.7zM142.4 183.1h0.7v0.7h-0.7zM144.4 180.8h0.7v0.7h-0.7zM146.7 179.5h0.7v0.7h-0.7zM139.7 189.3h0.7v0.7h-0.7zM144.9 183.4h0.7v0.7h-0.7zM145.9 184.9h0.7v0.7h-0.7zM146.6 190.2h0.7v0.7h-0.7zM144.2 179.2h0.7v0.7h-0.7zM147.8 182.8h0.7v0.7h-0.7zM152.9 189.8h0.7v0.7h-0.7zM144.8 187.8h0.7v0.7h-0.7zM134.8 179.1h0.7v0.7h-0.7zM142.6 187.3h0.7v0.7h-0.7zM154.3 183.3h0.7v0.7h-0.7zM138.6 182.6h0.7v0.7h-0.7zM139.8 186.7h0.7v0.7h-0.7zM135.1 189.0h0.7v0.7h-0.7zM135.9 194.9h0.7v0.7h-0.7zM144.1 186.4h0.7v0.7h-0.7zM133.5 187.1h0.7v0.7h-0.7zM131.8 189.3h0.7v0.7h-0.7zM140.5 187.0h0.7v0.7h-0.7zM148.5 189.7h0.7v0.7h-0.7zM154.3 190.4h0.7v0.7h-0.7zM150.1 183.6h0.7v0.7h-0.7zM137.1 188.9h0.7v0.7h-0.7zM147.2 183.9h0.7v0.7h-0.7zM144.6 189.7h0.7v0.7h-0.7zM151.2 183.6h0.7v0.7h-0.7z" fill="#777" fill-opacity="0.3"/>
<path d="M122 180 C124 176 134 175.5 138 179 C140.5 184 139.5 191 137 196 C138 201 137 207 134 210.5 C130 212 125 212 122 211 Z" fill="#2e2e2e" filter="url(#b10)" opacity="0.9"/>
<path d="M123.5 184.9h0.7v0.7h-0.7zM127.7 197.5h0.7v0.7h-0.7zM123.5 208.4h0.7v0.7h-0.7zM139.3 193.9h0.7v0.7h-0.7zM133.6 199.1h0.7v0.7h-0.7zM132.8 201.4h0.7v0.7h-0.7zM129.6 207.5h0.7v0.7h-0.7zM133.5 196.8h0.7v0.7h-0.7zM132.4 195.3h0.7v0.7h-0.7zM129.8 204.8h0.7v0.7h-0.7zM132.3 187.8h0.7v0.7h-0.7zM132.9 190.6h0.7v0.7h-0.7zM131.1 205.6h0.7v0.7h-0.7zM122.7 191.6h0.7v0.7h-0.7zM134.1 202.5h0.7v0.7h-0.7zM119.8 207.6h0.7v0.7h-0.7zM127.0 190.8h0.7v0.7h-0.7zM131.3 195.1h0.7v0.7h-0.7zM130.2 202.1h0.7v0.7h-0.7zM142.0 207.4h0.7v0.7h-0.7zM131.3 200.8h0.7v0.7h-0.7zM131.7 203.9h0.7v0.7h-0.7zM127.0 204.1h0.7v0.7h-0.7zM126.6 195.6h0.7v0.7h-0.7zM129.6 208.1h0.7v0.7h-0.7zM134.1 176.7h0.7v0.7h-0.7zM136.0 200.5h0.7v0.7h-0.7zM130.4 211.5h0.7v0.7h-0.7zM126.5 191.8h0.7v0.7h-0.7zM120.3 190.7h0.7v0.7h-0.7zM134.0 193.6h0.7v0.7h-0.7zM124.9 203.0h0.7v0.7h-0.7zM125.0 194.0h0.7v0.7h-0.7zM126.0 203.1h0.7v0.7h-0.7zM126.5 195.9h0.7v0.7h-0.7zM129.0 185.4h0.7v0.7h-0.7zM128.7 185.6h0.7v0.7h-0.7zM124.0 196.0h0.7v0.7h-0.7zM130.4 197.7h0.7v0.7h-0.7zM135.0 200.6h0.7v0.7h-0.7zM132.6 195.9h0.7v0.7h-0.7zM126.6 212.9h0.7v0.7h-0.7zM121.7 208.9h0.7v0.7h-0.7zM126.1 204.9h0.7v0.7h-0.7zM123.4 203.6h0.7v0.7h-0.7zM131.3 183.1h0.7v0.7h-0.7zM126.6 204.7h0.7v0.7h-0.7zM134.8 202.0h0.7v0.7h-0.7zM127.0 199.3h0.7v0.7h-0.7zM123.4 191.8h0.7v0.7h-0.7zM130.9 199.6h0.7v0.7h-0.7zM133.3 201.1h0.7v0.7h-0.7zM132.7 198.9h0.7v0.7h-0.7zM132.8 219.0h0.7v0.7h-0.7zM125.0 200.8h0.7v0.7h-0.7zM127.6 203.7h0.7v0.7h-0.7zM132.1 193.4h0.7v0.7h-0.7zM130.7 201.5h0.7v0.7h-0.7zM129.4 202.4h0.7v0.7h-0.7zM136.7 204.7h0.7v0.7h-0.7zM128.7 201.8h0.7v0.7h-0.7zM139.8 195.1h0.7v0.7h-0.7zM135.5 194.8h0.7v0.7h-0.7zM122.1 194.6h0.7v0.7h-0.7zM131.7 198.1h0.7v0.7h-0.7zM126.5 193.8h0.7v0.7h-0.7zM125.3 191.6h0.7v0.7h-0.7zM127.0 180.4h0.7v0.7h-0.7zM132.1 202.2h0.7v0.7h-0.7zM130.4 207.1h0.7v0.7h-0.7zM127.0 199.9h0.7v0.7h-0.7zM117.2 201.4h0.7v0.7h-0.7zM128.0 204.6h0.7v0.7h-0.7zM134.1 198.5h0.7v0.7h-0.7zM123.7 202.5h0.7v0.7h-0.7zM134.1 207.0h0.7v0.7h-0.7zM127.3 192.6h0.7v0.7h-0.7zM128.6 191.7h0.7v0.7h-0.7zM119.3 202.7h0.7v0.7h-0.7zM132.0 204.9h0.7v0.7h-0.7zM125.7 199.5h0.7v0.7h-0.7zM123.9 188.1h0.7v0.7h-0.7zM132.1 185.4h0.7v0.7h-0.7zM128.1 218.2h0.7v0.7h-0.7zM135.8 205.0h0.7v0.7h-0.7zM132.8 198.2h0.7v0.7h-0.7zM126.9 215.6h0.7v0.7h-0.7zM128.9 195.1h0.7v0.7h-0.7zM133.1 199.3h0.7v0.7h-0.7zM136.3 194.8h0.7v0.7h-0.7zM125.8 196.7h0.7v0.7h-0.7zM137.8 207.2h0.7v0.7h-0.7zM131.2 200.6h0.7v0.7h-0.7zM131.6 192.3h0.7v0.7h-0.7zM132.5 196.1h0.7v0.7h-0.7zM131.1 200.1h0.7v0.7h-0.7zM131.5 196.4h0.7v0.7h-0.7zM134.7 202.8h0.7v0.7h-0.7zM126.2 203.5h0.7v0.7h-0.7zM128.3 203.0h0.7v0.7h-0.7zM134.2 196.2h0.7v0.7h-0.7zM129.9 200.6h0.7v0.7h-0.7zM130.2 216.0h0.7v0.7h-0.7zM131.8 191.1h0.7v0.7h-0.7zM130.6 195.8h0.7v0.7h-0.7zM142.0 195.1h0.7v0.7h-0.7zM124.6 205.8h0.7v0.7h-0.7zM127.5 197.1h0.7v0.7h-0.7zM128.9 194.8h0.7v0.7h-0.7zM128.0 182.9h0.7v0.7h-0.7zM129.6 205.2h0.7v0.7h-0.7zM139.3 200.7h0.7v0.7h-0.7zM134.2 194.5h0.7v0.7h-0.7zM137.3 217.8h0.7v0.7h-0.7zM131.8 197.6h0.7v0.7h-0.7zM130.4 212.4h0.7v0.7h-0.7zM124.1 210.3h0.7v0.7h-0.7zM125.3 193.8h0.7v0.7h-0.7zM131.5 205.4h0.7v0.7h-0.7zM134.9 211.5h0.7v0.7h-0.7zM124.6 200.9h0.7v0.7h-0.7zM134.0 202.5h0.7v0.7h-0.7zM135.7 200.6h0.7v0.7h-0.7zM128.8 182.7h0.7v0.7h-0.7zM121.0 206.5h0.7v0.7h-0.7zM124.6 202.7h0.7v0.7h-0.7zM133.4 199.4h0.7v0.7h-0.7zM135.2 195.2h0.7v0.7h-0.7zM133.1 199.3h0.7v0.7h-0.7zM122.9 184.6h0.7v0.7h-0.7zM129.2 213.1h0.7v0.7h-0.7zM135.9 204.0h0.7v0.7h-0.7zM134.1 207.4h0.7v0.7h-0.7zM129.0 210.6h0.7v0.7h-0.7zM131.5 196.3h0.7v0.7h-0.7zM149.2 205.5h0.7v0.7h-0.7zM129.6 206.3h0.7v0.7h-0.7zM124.2 190.7h0.7v0.7h-0.7zM139.6 205.2h0.7v0.7h-0.7zM124.9 187.5h0.7v0.7h-0.7zM129.6 192.0h0.7v0.7h-0.7zM136.6 185.0h0.7v0.7h-0.7zM136.1 192.1h0.7v0.7h-0.7zM123.9 200.4h0.7v0.7h-0.7zM123.8 195.4h0.7v0.7h-0.7zM127.3 180.8h0.7v0.7h-0.7zM124.1 202.7h0.7v0.7h-0.7zM119.7 189.1h0.7v0.7h-0.7zM125.4 207.2h0.7v0.7h-0.7zM134.5 211.8h0.7v0.7h-0.7zM125.2 206.4h0.7v0.7h-0.7zM131.1 189.6h0.7v0.7h-0.7zM132.5 199.8h0.7v0.7h-0.7zM126.6 191.3h0.7v0.7h-0.7zM121.9 203.9h0.7v0.7h-0.7zM132.1 197.6h0.7v0.7h-0.7zM128.0 195.1h0.7v0.7h-0.7zM133.7 201.4h0.7v0.7h-0.7zM121.0 200.6h0.7v0.7h-0.7zM132.3 195.1h0.7v0.7h-0.7zM127.6 195.2h0.7v0.7h-0.7zM133.1 196.7h0.7v0.7h-0.7zM129.8 200.6h0.7v0.7h-0.7zM137.6 187.9h0.7v0.7h-0.7zM141.6 190.2h0.7v0.7h-0.7zM128.8 193.4h0.7v0.7h-0.7zM130.6 204.3h0.7v0.7h-0.7zM141.6 209.4h0.7v0.7h-0.7zM126.6 201.7h0.7v0.7h-0.7zM130.5 194.6h0.7v0.7h-0.7zM132.9 202.1h0.7v0.7h-0.7zM127.7 194.4h0.7v0.7h-0.7zM133.5 199.0h0.7v0.7h-0.7zM135.9 206.9h0.7v0.7h-0.7zM123.9 183.1h0.7v0.7h-0.7zM130.2 194.5h0.7v0.7h-0.7zM124.8 194.2h0.7v0.7h-0.7zM137.2 198.2h0.7v0.7h-0.7zM139.5 206.2h0.7v0.7h-0.7zM121.3 203.5h0.7v0.7h-0.7zM137.4 185.7h0.7v0.7h-0.7zM123.6 199.1h0.7v0.7h-0.7zM127.2 213.5h0.7v0.7h-0.7zM125.7 213.6h0.7v0.7h-0.7zM123.0 193.1h0.7v0.7h-0.7zM131.7 204.2h0.7v0.7h-0.7zM130.8 212.9h0.7v0.7h-0.7zM139.1 215.9h0.7v0.7h-0.7zM129.6 207.1h0.7v0.7h-0.7zM128.7 211.6h0.7v0.7h-0.7zM118.4 194.9h0.7v0.7h-0.7zM129.0 196.2h0.7v0.7h-0.7zM138.1 188.9h0.7v0.7h-0.7zM126.0 190.5h0.7v0.7h-0.7zM129.9 192.8h0.7v0.7h-0.7zM134.8 207.3h0.7v0.7h-0.7zM119.5 183.0h0.7v0.7h-0.7zM134.2 203.2h0.7v0.7h-0.7zM122.1 199.8h0.7v0.7h-0.7zM123.8 206.5h0.7v0.7h-0.7zM123.4 195.1h0.7v0.7h-0.7zM132.4 200.5h0.7v0.7h-0.7zM135.3 203.4h0.7v0.7h-0.7zM122.5 202.0h0.7v0.7h-0.7zM124.4 211.7h0.7v0.7h-0.7zM138.0 209.2h0.7v0.7h-0.7zM141.1 206.5h0.7v0.7h-0.7zM137.5 207.7h0.7v0.7h-0.7zM134.5 207.1h0.7v0.7h-0.7zM131.5 214.6h0.7v0.7h-0.7zM124.6 187.5h0.7v0.7h-0.7zM126.2 212.8h0.7v0.7h-0.7zM128.7 193.5h0.7v0.7h-0.7zM125.8 203.8h0.7v0.7h-0.7zM129.8 209.7h0.7v0.7h-0.7zM128.4 207.4h0.7v0.7h-0.7zM125.7 204.4h0.7v0.7h-0.7zM145.3 198.5h0.7v0.7h-0.7zM129.4 207.9h0.7v0.7h-0.7zM125.1 196.4h0.7v0.7h-0.7zM127.3 202.1h0.7v0.7h-0.7zM123.2 211.6h0.7v0.7h-0.7zM130.8 201.6h0.7v0.7h-0.7zM129.3 199.8h0.7v0.7h-0.7zM118.5 210.4h0.7v0.7h-0.7zM125.7 206.7h0.7v0.7h-0.7zM129.3 198.5h0.7v0.7h-0.7zM132.6 213.6h0.7v0.7h-0.7zM129.6 195.5h0.7v0.7h-0.7zM132.4 180.3h0.7v0.7h-0.7zM125.8 192.2h0.7v0.7h-0.7zM128.3 189.1h0.7v0.7h-0.7zM134.3 197.6h0.7v0.7h-0.7zM130.8 200.2h0.7v0.7h-0.7zM128.5 194.8h0.7v0.7h-0.7zM136.5 206.8h0.7v0.7h-0.7zM137.6 198.8h0.7v0.7h-0.7zM131.5 203.0h0.7v0.7h-0.7zM128.4 199.8h0.7v0.7h-0.7zM121.9 190.6h0.7v0.7h-0.7zM125.4 190.9h0.7v0.7h-0.7zM132.2 203.0h0.7v0.7h-0.7zM132.1 198.0h0.7v0.7h-0.7zM135.1 207.5h0.7v0.7h-0.7zM132.9 197.4h0.7v0.7h-0.7zM137.8 190.6h0.7v0.7h-0.7zM121.9 189.6h0.7v0.7h-0.7zM136.1 200.9h0.7v0.7h-0.7zM127.1 181.5h0.7v0.7h-0.7zM128.9 192.1h0.7v0.7h-0.7zM119.6 208.8h0.7v0.7h-0.7zM130.2 211.2h0.7v0.7h-0.7zM130.0 204.6h0.7v0.7h-0.7zM126.6 205.1h0.7v0.7h-0.7zM128.0 205.0h0.7v0.7h-0.7zM131.1 191.3h0.7v0.7h-0.7zM130.2 201.5h0.7v0.7h-0.7zM126.6 199.2h0.7v0.7h-0.7zM134.7 210.0h0.7v0.7h-0.7zM130.4 181.9h0.7v0.7h-0.7zM133.9 214.9h0.7v0.7h-0.7zM128.9 193.3h0.7v0.7h-0.7zM131.6 201.9h0.7v0.7h-0.7zM134.5 195.1h0.7v0.7h-0.7zM138.9 207.5h0.7v0.7h-0.7zM125.0 208.5h0.7v0.7h-0.7zM129.5 205.7h0.7v0.7h-0.7zM131.9 200.6h0.7v0.7h-0.7zM131.7 196.8h0.7v0.7h-0.7zM126.4 198.3h0.7v0.7h-0.7zM128.7 203.3h0.7v0.7h-0.7zM131.1 187.2h0.7v0.7h-0.7zM134.3 199.8h0.7v0.7h-0.7zM134.4 205.6h0.7v0.7h-0.7zM131.5 204.7h0.7v0.7h-0.7zM122.9 212.6h0.7v0.7h-0.7zM139.8 205.3h0.7v0.7h-0.7zM127.6 205.8h0.7v0.7h-0.7zM128.5 213.3h0.7v0.7h-0.7zM128.0 191.0h0.7v0.7h-0.7zM126.0 194.3h0.7v0.7h-0.7zM133.8 199.9h0.7v0.7h-0.7zM131.6 197.5h0.7v0.7h-0.7zM136.8 200.4h0.7v0.7h-0.7zM131.3 212.9h0.7v0.7h-0.7zM131.7 196.1h0.7v0.7h-0.7zM129.0 209.4h0.7v0.7h-0.7zM132.1 194.1h0.7v0.7h-0.7zM136.1 188.7h0.7v0.7h-0.7zM119.5 192.5h0.7v0.7h-0.7zM120.7 198.7h0.7v0.7h-0.7zM130.4 198.2h0.7v0.7h-0.7zM127.3 191.9h0.7v0.7h-0.7zM134.8 184.6h0.7v0.7h-0.7zM133.8 202.3h0.7v0.7h-0.7zM129.8 203.8h0.7v0.7h-0.7zM122.4 208.1h0.7v0.7h-0.7zM132.7 209.2h0.7v0.7h-0.7zM119.9 202.3h0.7v0.7h-0.7zM129.5 181.8h0.7v0.7h-0.7z" fill="#222" fill-opacity="0.5"/>
<ellipse cx="130.00" cy="201.50" rx="3.80" ry="5.00" fill="#6a6a6a" filter="url(#b10)"/>
<ellipse cx="130.20" cy="184.60" rx="7.60" ry="7.00" fill="#b8b8b8" stroke="#222" stroke-width="1.7" filter="url(#b05)"/>
<ellipse cx="130.20" cy="184.60" rx="4.20" ry="3.80" fill="#9a9a9a" filter="url(#b06)"/>
<ellipse cx="130.20" cy="184.60" rx="1.60" ry="1.40" fill="#2a2a2a" filter="url(#b05)"/>
</g>
<ellipse cx="161.40" cy="186.80" rx="9.40" ry="5.30" transform="rotate(-36 161.40 186.80)" fill="none" stroke="#444" stroke-width="0.65"/>
<path d="M119.0 162.4h2.4M119.0 174.0h2.4M119.0 187.6h2.4M119.0 201.6h2.4M119.0 207.8h2.4M120.1 159.1h1.3M120.1 161.7h1.3M120.1 164.3h1.3M120.1 166.9h1.3M120.1 169.5h1.3M120.1 172.1h1.3M120.1 174.7h1.3M120.1 177.3h1.3M120.1 179.9h1.3M120.1 182.5h1.3M120.1 185.1h1.3M120.1 187.7h1.3M120.1 190.3h1.3M120.1 192.9h1.3M120.1 195.5h1.3M120.1 198.1h1.3M120.1 200.7h1.3M120.1 203.3h1.3M120.1 205.9h1.3M120.1 208.5h1.3M120.1 211.1h1.3M131.3 213.5v2.4M146.8 213.5v2.4M161.6 213.5v2.4M175.6 213.5v2.4M123.9 213.5v1.3M126.5 213.5v1.3M129.1 213.5v1.3M131.7 213.5v1.3M134.3 213.5v1.3M136.9 213.5v1.3M139.5 213.5v1.3M142.1 213.5v1.3M144.7 213.5v1.3M147.3 213.5v1.3M149.9 213.5v1.3M152.5 213.5v1.3M155.1 213.5v1.3M157.7 213.5v1.3M160.3 213.5v1.3M162.9 213.5v1.3M165.5 213.5v1.3M168.1 213.5v1.3M170.7 213.5v1.3M173.3 213.5v1.3M175.9 213.5v1.3M178.5 213.5v1.3M181.1 213.5v1.3" stroke="#1a1a1a" stroke-width="0.8" fill="none"/>
<path d="M121.4 156.6 H183.3 V213.5" fill="none" stroke="#111" stroke-width="1.25"/>
<path d="M121.4 156.6 V213.5 H183.3" fill="none" stroke="#111" stroke-width="1.6"/>
<text transform="matrix(1.0364,0,0,1,107.89,164.44)" font-size="5.915" fill="#222" stroke="#222" stroke-width="0.16">10</text>
<text transform="matrix(0.9825,0,0,1,114.95,161.72)" font-size="3.857" fill="#222" stroke="#222" stroke-width="0.16">5</text>
<text transform="matrix(1.0364,0,0,1,107.89,176.05)" font-size="5.915" fill="#222" stroke="#222" stroke-width="0.16">10</text>
<text transform="matrix(0.9200,0,0,1,115.01,173.36)" font-size="3.913" fill="#222" stroke="#222" stroke-width="0.16">4</text>
<text transform="matrix(1.0364,0,0,1,107.89,189.65)" font-size="5.915" fill="#222" stroke="#222" stroke-width="0.16">10</text>
<text transform="matrix(1.0071,0,0,1,114.95,186.92)" font-size="3.803" fill="#222" stroke="#222" stroke-width="0.16">3</text>
<text transform="matrix(1.0364,0,0,1,107.89,203.59)" font-size="5.915" fill="#222" stroke="#222" stroke-width="0.16">10</text>
<text transform="matrix(1.0256,0,0,1,114.90,200.90)" font-size="3.857" fill="#222" stroke="#222" stroke-width="0.16">2</text>
<text transform="matrix(1.0321,0,0,1,111.41,209.85)" font-size="5.915" fill="#222" stroke="#222" stroke-width="0.16">0</text>
<text transform="matrix(1.0321,0,0,1,129.61,225.54)" font-size="5.915" fill="#222" stroke="#222" stroke-width="0.16">0</text>
<text transform="matrix(1.0364,0,0,1,143.28,225.54)" font-size="5.915" fill="#222" stroke="#222" stroke-width="0.16">10</text>
<text transform="matrix(1.0071,0,0,1,150.34,222.81)" font-size="3.803" fill="#222" stroke="#222" stroke-width="0.16">3</text>
<text transform="matrix(1.0364,0,0,1,158.14,225.54)" font-size="5.915" fill="#222" stroke="#222" stroke-width="0.16">10</text>
<text transform="matrix(0.9200,0,0,1,165.26,222.85)" font-size="3.913" fill="#222" stroke="#222" stroke-width="0.16">4</text>
<text transform="matrix(1.0364,0,0,1,172.07,225.54)" font-size="5.915" fill="#222" stroke="#222" stroke-width="0.16">10</text>
<text transform="matrix(0.9825,0,0,1,179.13,222.81)" font-size="3.857" fill="#222" stroke="#222" stroke-width="0.16">5</text>
<text transform="matrix(1.0465,0,0,1,156.09,163.99)" font-size="6.197" fill="#222" stroke="#222" stroke-width="0.16">0.01%</text>
<clipPath id="c243"><rect x="201.9" y="156.6" width="59.20000000000002" height="56.900000000000006"/></clipPath>
<g clip-path="url(#c243)">
<path d="M210.2 206.3h0.7v0.7h-0.7zM207.4 207.6h0.7v0.7h-0.7zM215.5 204.3h0.7v0.7h-0.7zM210.1 209.2h0.7v0.7h-0.7zM206.3 208.1h0.7v0.7h-0.7zM220.1 206.0h0.7v0.7h-0.7zM214.4 206.2h0.7v0.7h-0.7zM217.1 200.1h0.7v0.7h-0.7zM201.9 202.7h0.7v0.7h-0.7zM208.4 210.0h0.7v0.7h-0.7zM220.4 208.4h0.7v0.7h-0.7zM219.6 204.5h0.7v0.7h-0.7zM208.9 199.9h0.7v0.7h-0.7zM219.1 208.2h0.7v0.7h-0.7zM211.9 200.7h0.7v0.7h-0.7zM206.0 208.0h0.7v0.7h-0.7zM212.1 210.4h0.7v0.7h-0.7zM213.2 203.2h0.7v0.7h-0.7zM205.0 206.0h0.7v0.7h-0.7zM221.9 214.0h0.7v0.7h-0.7zM207.7 208.1h0.7v0.7h-0.7zM207.7 207.1h0.7v0.7h-0.7zM195.1 203.5h0.7v0.7h-0.7zM201.2 211.9h0.7v0.7h-0.7zM209.7 207.9h0.7v0.7h-0.7zM212.2 200.7h0.7v0.7h-0.7zM215.8 210.4h0.7v0.7h-0.7zM213.4 208.2h0.7v0.7h-0.7zM218.7 208.3h0.7v0.7h-0.7zM211.3 199.5h0.7v0.7h-0.7zM207.0 203.0h0.7v0.7h-0.7zM216.6 211.4h0.7v0.7h-0.7zM212.2 210.0h0.7v0.7h-0.7zM197.8 207.2h0.7v0.7h-0.7zM205.0 209.8h0.7v0.7h-0.7zM219.7 210.6h0.7v0.7h-0.7zM217.0 210.7h0.7v0.7h-0.7zM223.0 204.1h0.7v0.7h-0.7zM221.7 204.9h0.7v0.7h-0.7zM204.1 208.6h0.7v0.7h-0.7zM217.0 207.6h0.7v0.7h-0.7zM208.6 208.7h0.7v0.7h-0.7zM211.1 216.1h0.7v0.7h-0.7zM214.6 208.0h0.7v0.7h-0.7zM209.4 208.7h0.7v0.7h-0.7zM222.5 203.5h0.7v0.7h-0.7zM210.3 198.7h0.7v0.7h-0.7zM212.0 212.7h0.7v0.7h-0.7zM205.3 204.7h0.7v0.7h-0.7zM207.9 205.1h0.7v0.7h-0.7zM207.7 204.8h0.7v0.7h-0.7zM205.6 207.0h0.7v0.7h-0.7zM218.1 209.2h0.7v0.7h-0.7zM201.1 211.4h0.7v0.7h-0.7zM216.6 210.7h0.7v0.7h-0.7zM207.0 203.8h0.7v0.7h-0.7zM216.3 213.2h0.7v0.7h-0.7zM206.6 207.3h0.7v0.7h-0.7zM214.9 204.8h0.7v0.7h-0.7zM214.4 204.2h0.7v0.7h-0.7zM219.9 199.7h0.7v0.7h-0.7zM214.1 204.1h0.7v0.7h-0.7zM211.9 202.6h0.7v0.7h-0.7zM194.3 212.2h0.7v0.7h-0.7zM216.6 207.9h0.7v0.7h-0.7zM212.1 207.4h0.7v0.7h-0.7zM210.4 206.7h0.7v0.7h-0.7zM220.7 203.7h0.7v0.7h-0.7zM207.2 213.7h0.7v0.7h-0.7zM209.5 207.1h0.7v0.7h-0.7zM211.4 208.6h0.7v0.7h-0.7zM216.2 206.7h0.7v0.7h-0.7zM206.6 202.5h0.7v0.7h-0.7zM212.8 213.5h0.7v0.7h-0.7zM201.7 205.8h0.7v0.7h-0.7zM215.1 204.0h0.7v0.7h-0.7zM213.7 205.8h0.7v0.7h-0.7zM217.1 212.8h0.7v0.7h-0.7zM210.5 207.4h0.7v0.7h-0.7zM215.0 206.8h0.7v0.7h-0.7zM212.4 197.7h0.7v0.7h-0.7zM212.9 202.0h0.7v0.7h-0.7zM209.7 207.9h0.7v0.7h-0.7zM215.6 204.4h0.7v0.7h-0.7zM209.4 205.0h0.7v0.7h-0.7zM205.9 212.3h0.7v0.7h-0.7zM222.6 205.4h0.7v0.7h-0.7zM221.8 209.2h0.7v0.7h-0.7zM205.8 209.8h0.7v0.7h-0.7zM216.1 206.7h0.7v0.7h-0.7zM203.5 203.7h0.7v0.7h-0.7zM198.4 206.0h0.7v0.7h-0.7zM210.4 201.7h0.7v0.7h-0.7zM204.7 211.4h0.7v0.7h-0.7zM203.1 209.0h0.7v0.7h-0.7zM212.7 211.0h0.7v0.7h-0.7zM202.4 206.5h0.7v0.7h-0.7zM219.5 205.4h0.7v0.7h-0.7zM203.7 198.3h0.7v0.7h-0.7zM207.9 210.1h0.7v0.7h-0.7zM221.2 206.3h0.7v0.7h-0.7zM217.4 210.1h0.7v0.7h-0.7zM215.7 202.7h0.7v0.7h-0.7zM216.4 202.1h0.7v0.7h-0.7zM212.8 209.3h0.7v0.7h-0.7zM218.6 205.6h0.7v0.7h-0.7zM218.9 212.2h0.7v0.7h-0.7zM218.0 206.0h0.7v0.7h-0.7zM214.1 206.2h0.7v0.7h-0.7zM212.6 209.1h0.7v0.7h-0.7zM218.8 206.2h0.7v0.7h-0.7zM216.7 207.2h0.7v0.7h-0.7zM213.2 202.3h0.7v0.7h-0.7zM214.6 205.7h0.7v0.7h-0.7zM214.0 210.2h0.7v0.7h-0.7zM216.8 209.0h0.7v0.7h-0.7zM209.3 199.8h0.7v0.7h-0.7zM209.9 206.1h0.7v0.7h-0.7zM213.4 211.5h0.7v0.7h-0.7zM214.0 211.8h0.7v0.7h-0.7zM209.8 201.9h0.7v0.7h-0.7zM217.4 201.7h0.7v0.7h-0.7zM202.9 204.0h0.7v0.7h-0.7zM214.2 210.5h0.7v0.7h-0.7zM212.3 209.7h0.7v0.7h-0.7zM212.1 199.7h0.7v0.7h-0.7zM205.7 199.5h0.7v0.7h-0.7zM211.0 197.9h0.7v0.7h-0.7zM203.7 202.8h0.7v0.7h-0.7zM217.5 208.2h0.7v0.7h-0.7zM209.9 206.9h0.7v0.7h-0.7zM210.7 216.9h0.7v0.7h-0.7zM202.3 198.0h0.7v0.7h-0.7zM200.7 200.4h0.7v0.7h-0.7zM209.9 209.7h0.7v0.7h-0.7zM210.6 204.9h0.7v0.7h-0.7zM211.0 206.7h0.7v0.7h-0.7zM206.5 208.4h0.7v0.7h-0.7zM211.6 206.8h0.7v0.7h-0.7zM215.1 208.1h0.7v0.7h-0.7zM216.5 202.5h0.7v0.7h-0.7zM214.6 199.8h0.7v0.7h-0.7zM199.4 204.4h0.7v0.7h-0.7zM214.2 207.7h0.7v0.7h-0.7zM213.8 209.1h0.7v0.7h-0.7zM201.3 203.6h0.7v0.7h-0.7zM210.4 202.6h0.7v0.7h-0.7zM213.6 208.1h0.7v0.7h-0.7zM213.5 206.2h0.7v0.7h-0.7zM225.3 206.1h0.7v0.7h-0.7z" fill="#333" fill-opacity="0.4"/>
<path d="M204 194.5 C206 190.8 219 190.5 220.8 194 C222 199 220 204 216.5 207.5 C212 209.2 207.5 209 205 205.5 C203.5 201 203.5 197.5 204 194.5 Z" fill="#555" filter="url(#b15)" opacity="0.35"/>
<path d="M204 194.5 C206 190.8 219 190.5 220.8 194 C222 199 220 204 216.5 207.5 C212 209.2 207.5 209 205 205.5 C203.5 201 203.5 197.5 204 194.5 Z" fill="url(#gsoft2)" stroke="#2a2a2a" stroke-width="2.2" filter="url(#b05)"/>
<path d="M203.3 174 C204 170.5 222 170 223.2 174 C224 178 222.5 184 218 185.5 C213 186.5 208 186.3 205 184.5 C203 182 202.8 177 203.3 174 Z" fill="#555" filter="url(#b15)" opacity="0.35"/>
<path d="M203.3 174 C204 170.5 222 170 223.2 174 C224 178 222.5 184 218 185.5 C213 186.5 208 186.3 205 184.5 C203 182 202.8 177 203.3 174 Z" fill="#b9b9b9" stroke="#333" stroke-width="2.6" filter="url(#b05)"/>
<ellipse cx="213.30" cy="178.50" rx="6.00" ry="3.50" fill="#999" filter="url(#b06)"/>
<path d="M208.5 176.5 Q213.3 179.5 218 176.5" fill="none" stroke="#333" stroke-width="1.3" filter="url(#b05)"/>
<path d="M212.9 184.9h0.8v0.8h-0.8zM202.7 180.1h0.8v0.8h-0.8zM208.0 184.8h0.8v0.8h-0.8zM222.4 181.7h0.8v0.8h-0.8zM208.0 184.4h0.8v0.8h-0.8zM219.1 171.1h0.8v0.8h-0.8zM210.2 170.5h0.8v0.8h-0.8zM217.5 185.5h0.8v0.8h-0.8zM222.4 172.5h0.8v0.8h-0.8zM210.1 169.1h0.8v0.8h-0.8zM224.4 175.9h0.8v0.8h-0.8zM216.8 186.2h0.8v0.8h-0.8zM203.7 173.9h0.8v0.8h-0.8zM208.9 170.6h0.8v0.8h-0.8zM222.8 178.7h0.8v0.8h-0.8zM203.5 182.4h0.8v0.8h-0.8zM216.3 170.4h0.8v0.8h-0.8zM219.5 171.1h0.8v0.8h-0.8zM221.1 181.8h0.8v0.8h-0.8zM210.6 186.1h0.8v0.8h-0.8zM217.8 186.3h0.8v0.8h-0.8zM204.6 173.5h0.8v0.8h-0.8zM219.2 185.4h0.8v0.8h-0.8zM218.2 170.8h0.8v0.8h-0.8zM206.2 171.7h0.8v0.8h-0.8zM217.5 185.1h0.8v0.8h-0.8zM214.1 171.5h0.8v0.8h-0.8zM220.9 183.9h0.8v0.8h-0.8zM217.9 170.2h0.8v0.8h-0.8zM215.5 186.3h0.8v0.8h-0.8zM201.3 177.7h0.8v0.8h-0.8zM224.4 179.4h0.8v0.8h-0.8zM209.5 185.9h0.8v0.8h-0.8zM213.4 185.6h0.8v0.8h-0.8zM226.0 175.6h0.8v0.8h-0.8zM211.1 170.8h0.8v0.8h-0.8zM218.4 171.0h0.8v0.8h-0.8zM214.2 170.1h0.8v0.8h-0.8zM223.2 182.4h0.8v0.8h-0.8zM203.3 174.7h0.8v0.8h-0.8zM208.2 185.5h0.8v0.8h-0.8zM207.2 183.0h0.8v0.8h-0.8zM220.6 183.3h0.8v0.8h-0.8zM212.6 169.0h0.8v0.8h-0.8zM210.1 185.3h0.8v0.8h-0.8zM216.9 184.7h0.8v0.8h-0.8zM223.9 179.1h0.8v0.8h-0.8zM212.8 170.1h0.8v0.8h-0.8zM220.6 172.0h0.8v0.8h-0.8zM221.7 183.2h0.8v0.8h-0.8zM212.8 185.4h0.8v0.8h-0.8zM202.9 176.7h0.8v0.8h-0.8zM210.3 169.1h0.8v0.8h-0.8zM203.0 178.1h0.8v0.8h-0.8zM212.8 169.9h0.8v0.8h-0.8zM216.5 170.5h0.8v0.8h-0.8zM203.5 181.4h0.8v0.8h-0.8zM210.2 169.7h0.8v0.8h-0.8zM213.8 170.3h0.8v0.8h-0.8zM221.1 183.5h0.8v0.8h-0.8zM201.5 176.3h0.8v0.8h-0.8zM210.3 184.6h0.8v0.8h-0.8zM213.4 186.8h0.8v0.8h-0.8zM222.6 172.9h0.8v0.8h-0.8zM221.2 174.2h0.8v0.8h-0.8zM219.5 183.1h0.8v0.8h-0.8zM218.5 171.2h0.8v0.8h-0.8zM213.5 168.7h0.8v0.8h-0.8zM205.9 183.1h0.8v0.8h-0.8zM205.9 183.8h0.8v0.8h-0.8zM206.5 184.3h0.8v0.8h-0.8zM221.2 172.6h0.8v0.8h-0.8zM202.5 182.3h0.8v0.8h-0.8zM202.6 177.6h0.8v0.8h-0.8zM206.8 172.5h0.8v0.8h-0.8zM220.2 184.4h0.8v0.8h-0.8zM224.3 178.8h0.8v0.8h-0.8zM212.3 170.5h0.8v0.8h-0.8zM204.9 183.0h0.8v0.8h-0.8zM216.1 170.4h0.8v0.8h-0.8zM218.3 171.7h0.8v0.8h-0.8zM221.5 181.9h0.8v0.8h-0.8zM212.9 186.6h0.8v0.8h-0.8zM207.7 184.7h0.8v0.8h-0.8zM220.5 173.6h0.8v0.8h-0.8zM212.3 186.6h0.8v0.8h-0.8zM203.7 180.6h0.8v0.8h-0.8zM207.9 173.4h0.8v0.8h-0.8zM222.4 175.7h0.8v0.8h-0.8zM208.2 183.2h0.8v0.8h-0.8zM223.1 176.6h0.8v0.8h-0.8zM215.7 168.0h0.8v0.8h-0.8zM218.3 169.1h0.8v0.8h-0.8zM202.9 179.9h0.8v0.8h-0.8zM212.2 170.3h0.8v0.8h-0.8zM222.2 180.4h0.8v0.8h-0.8zM207.3 171.8h0.8v0.8h-0.8zM205.9 183.9h0.8v0.8h-0.8zM215.7 186.8h0.8v0.8h-0.8zM221.6 172.8h0.8v0.8h-0.8zM224.6 179.9h0.8v0.8h-0.8zM205.0 182.8h0.8v0.8h-0.8zM204.7 177.4h0.8v0.8h-0.8zM224.0 176.6h0.8v0.8h-0.8zM206.0 171.1h0.8v0.8h-0.8zM219.9 184.8h0.8v0.8h-0.8zM203.2 173.6h0.8v0.8h-0.8zM215.8 170.6h0.8v0.8h-0.8zM210.0 170.3h0.8v0.8h-0.8zM203.3 175.3h0.8v0.8h-0.8zM211.0 186.2h0.8v0.8h-0.8zM204.2 182.8h0.8v0.8h-0.8zM221.6 171.8h0.8v0.8h-0.8zM222.9 180.5h0.8v0.8h-0.8zM203.9 176.6h0.8v0.8h-0.8zM212.8 185.8h0.8v0.8h-0.8zM216.4 185.6h0.8v0.8h-0.8zM216.4 185.4h0.8v0.8h-0.8zM215.3 185.3h0.8v0.8h-0.8zM221.3 171.7h0.8v0.8h-0.8zM224.7 177.6h0.8v0.8h-0.8zM217.3 169.6h0.8v0.8h-0.8zM224.2 175.9h0.8v0.8h-0.8zM219.6 184.9h0.8v0.8h-0.8zM223.2 176.3h0.8v0.8h-0.8zM214.4 185.8h0.8v0.8h-0.8zM215.4 186.2h0.8v0.8h-0.8zM209.2 184.1h0.8v0.8h-0.8zM203.7 181.6h0.8v0.8h-0.8zM219.3 172.9h0.8v0.8h-0.8zM219.1 169.6h0.8v0.8h-0.8zM220.6 184.4h0.8v0.8h-0.8zM216.1 170.4h0.8v0.8h-0.8zM206.3 171.8h0.8v0.8h-0.8zM223.2 176.7h0.8v0.8h-0.8zM207.2 170.0h0.8v0.8h-0.8zM203.7 182.9h0.8v0.8h-0.8zM202.9 179.4h0.8v0.8h-0.8zM222.3 174.4h0.8v0.8h-0.8zM224.2 179.1h0.8v0.8h-0.8zM223.6 175.4h0.8v0.8h-0.8zM202.9 179.1h0.8v0.8h-0.8zM221.3 182.7h0.8v0.8h-0.8zM220.7 173.7h0.8v0.8h-0.8zM217.9 171.6h0.8v0.8h-0.8zM210.5 185.3h0.8v0.8h-0.8zM204.5 179.8h0.8v0.8h-0.8zM209.7 184.9h0.8v0.8h-0.8zM207.2 186.0h0.8v0.8h-0.8zM209.4 170.2h0.8v0.8h-0.8z" fill="#222" fill-opacity="0.35"/>
</g>
<ellipse cx="242.70" cy="178.00" rx="11.30" ry="5.50" transform="rotate(-39 242.70 178.00)" fill="none" stroke="#444" stroke-width="0.65"/>
<path d="M199.5 162.4h2.4M199.5 174.0h2.4M199.5 187.6h2.4M199.5 201.6h2.4M199.5 207.8h2.4M200.6 159.1h1.3M200.6 161.7h1.3M200.6 164.3h1.3M200.6 166.9h1.3M200.6 169.5h1.3M200.6 172.1h1.3M200.6 174.7h1.3M200.6 177.3h1.3M200.6 179.9h1.3M200.6 182.5h1.3M200.6 185.1h1.3M200.6 187.7h1.3M200.6 190.3h1.3M200.6 192.9h1.3M200.6 195.5h1.3M200.6 198.1h1.3M200.6 200.7h1.3M200.6 203.3h1.3M200.6 205.9h1.3M200.6 208.5h1.3M200.6 211.1h1.3M211.4 213.5v2.4M226.3 213.5v2.4M240.5 213.5v2.4M253.8 213.5v2.4M204.4 213.5v1.3M207.0 213.5v1.3M209.6 213.5v1.3M212.2 213.5v1.3M214.8 213.5v1.3M217.4 213.5v1.3M220.0 213.5v1.3M222.6 213.5v1.3M225.2 213.5v1.3M227.8 213.5v1.3M230.4 213.5v1.3M233.0 213.5v1.3M235.6 213.5v1.3M238.2 213.5v1.3M240.8 213.5v1.3M243.4 213.5v1.3M246.0 213.5v1.3M248.6 213.5v1.3M251.2 213.5v1.3M253.8 213.5v1.3M256.4 213.5v1.3M259.0 213.5v1.3" stroke="#1a1a1a" stroke-width="0.8" fill="none"/>
<path d="M201.9 156.6 H261.1 V213.5" fill="none" stroke="#111" stroke-width="1.25"/>
<path d="M201.9 156.6 V213.5 H261.1" fill="none" stroke="#111" stroke-width="1.6"/>
<text transform="matrix(1.0364,0,0,1,188.39,164.44)" font-size="5.915" fill="#222" stroke="#222" stroke-width="0.16">10</text>
<text transform="matrix(0.9825,0,0,1,195.45,161.72)" font-size="3.857" fill="#222" stroke="#222" stroke-width="0.16">5</text>
<text transform="matrix(1.0364,0,0,1,188.39,176.05)" font-size="5.915" fill="#222" stroke="#222" stroke-width="0.16">10</text>
<text transform="matrix(0.9200,0,0,1,195.51,173.36)" font-size="3.913" fill="#222" stroke="#222" stroke-width="0.16">4</text>
<text transform="matrix(1.0364,0,0,1,188.39,189.65)" font-size="5.915" fill="#222" stroke="#222" stroke-width="0.16">10</text>
<text transform="matrix(1.0071,0,0,1,195.45,186.92)" font-size="3.803" fill="#222" stroke="#222" stroke-width="0.16">3</text>
<text transform="matrix(1.0364,0,0,1,188.39,203.59)" font-size="5.915" fill="#222" stroke="#222" stroke-width="0.16">10</text>
<text transform="matrix(1.0256,0,0,1,195.40,200.90)" font-size="3.857" fill="#222" stroke="#222" stroke-width="0.16">2</text>
<text transform="matrix(1.0321,0,0,1,191.91,209.85)" font-size="5.915" fill="#222" stroke="#222" stroke-width="0.16">0</text>
<text transform="matrix(1.0321,0,0,1,209.68,225.54)" font-size="5.915" fill="#222" stroke="#222" stroke-width="0.16">0</text>
<text transform="matrix(1.0364,0,0,1,222.80,225.54)" font-size="5.915" fill="#222" stroke="#222" stroke-width="0.16">10</text>
<text transform="matrix(1.0071,0,0,1,229.85,222.81)" font-size="3.803" fill="#222" stroke="#222" stroke-width="0.16">3</text>
<text transform="matrix(1.0364,0,0,1,237.01,225.54)" font-size="5.915" fill="#222" stroke="#222" stroke-width="0.16">10</text>
<text transform="matrix(0.9200,0,0,1,244.13,222.85)" font-size="3.913" fill="#222" stroke="#222" stroke-width="0.16">4</text>
<text transform="matrix(1.0364,0,0,1,250.33,225.54)" font-size="5.915" fill="#222" stroke="#222" stroke-width="0.16">10</text>
<text transform="matrix(0.9825,0,0,1,257.38,222.81)" font-size="3.857" fill="#222" stroke="#222" stroke-width="0.16">5</text>
<text transform="matrix(1.0933,0,0,1,231.28,163.99)" font-size="6.197" fill="#222" stroke="#222" stroke-width="0.16">0.01%</text>
<clipPath id="c275"><rect x="281.4" y="156.6" width="59.10000000000002" height="56.900000000000006"/></clipPath>
<g clip-path="url(#c275)">
<path d="M304.5 182.2h0.7v0.7h-0.7zM307.7 185.8h0.7v0.7h-0.7zM305.1 190.5h0.7v0.7h-0.7zM303.3 194.6h0.7v0.7h-0.7zM296.6 183.5h0.7v0.7h-0.7zM303.6 184.7h0.7v0.7h-0.7zM303.4 195.8h0.7v0.7h-0.7zM299.7 186.5h0.7v0.7h-0.7zM298.6 181.1h0.7v0.7h-0.7zM291.8 187.5h0.7v0.7h-0.7zM308.0 185.3h0.7v0.7h-0.7zM307.1 178.6h0.7v0.7h-0.7zM300.2 184.4h0.7v0.7h-0.7zM304.7 185.4h0.7v0.7h-0.7zM303.8 192.4h0.7v0.7h-0.7zM295.7 184.5h0.7v0.7h-0.7zM303.0 181.8h0.7v0.7h-0.7zM302.9 176.5h0.7v0.7h-0.7zM296.1 183.8h0.7v0.7h-0.7zM292.2 195.7h0.7v0.7h-0.7zM310.2 191.2h0.7v0.7h-0.7zM305.2 189.5h0.7v0.7h-0.7zM299.7 183.9h0.7v0.7h-0.7zM291.0 189.6h0.7v0.7h-0.7zM300.1 175.3h0.7v0.7h-0.7zM296.9 187.5h0.7v0.7h-0.7zM293.1 182.4h0.7v0.7h-0.7zM290.3 182.6h0.7v0.7h-0.7zM300.6 173.1h0.7v0.7h-0.7zM297.1 187.1h0.7v0.7h-0.7zM299.1 192.2h0.7v0.7h-0.7zM305.2 190.6h0.7v0.7h-0.7zM294.9 180.3h0.7v0.7h-0.7zM302.5 187.5h0.7v0.7h-0.7zM298.3 183.8h0.7v0.7h-0.7zM296.1 182.5h0.7v0.7h-0.7zM302.9 192.0h0.7v0.7h-0.7zM303.7 189.3h0.7v0.7h-0.7zM301.3 187.5h0.7v0.7h-0.7zM305.7 180.5h0.7v0.7h-0.7zM305.8 187.9h0.7v0.7h-0.7zM306.0 187.2h0.7v0.7h-0.7zM297.7 182.8h0.7v0.7h-0.7zM301.1 172.6h0.7v0.7h-0.7zM296.9 181.9h0.7v0.7h-0.7zM298.2 180.0h0.7v0.7h-0.7zM295.6 183.5h0.7v0.7h-0.7zM297.8 191.3h0.7v0.7h-0.7zM300.8 184.5h0.7v0.7h-0.7zM304.9 184.4h0.7v0.7h-0.7zM300.7 190.6h0.7v0.7h-0.7zM305.6 183.9h0.7v0.7h-0.7zM294.5 181.9h0.7v0.7h-0.7zM303.6 176.9h0.7v0.7h-0.7zM299.3 184.6h0.7v0.7h-0.7zM293.6 190.7h0.7v0.7h-0.7zM299.7 177.4h0.7v0.7h-0.7zM296.0 187.0h0.7v0.7h-0.7zM307.6 186.3h0.7v0.7h-0.7zM301.8 184.0h0.7v0.7h-0.7zM308.8 191.2h0.7v0.7h-0.7zM293.1 185.1h0.7v0.7h-0.7zM303.8 184.0h0.7v0.7h-0.7zM303.1 188.2h0.7v0.7h-0.7zM296.6 191.2h0.7v0.7h-0.7zM301.7 190.2h0.7v0.7h-0.7zM302.3 184.6h0.7v0.7h-0.7zM307.5 186.8h0.7v0.7h-0.7zM308.7 187.9h0.7v0.7h-0.7zM311.6 181.2h0.7v0.7h-0.7zM301.4 181.3h0.7v0.7h-0.7zM295.7 185.9h0.7v0.7h-0.7zM293.8 184.5h0.7v0.7h-0.7zM307.3 187.6h0.7v0.7h-0.7zM298.4 183.8h0.7v0.7h-0.7zM304.4 192.6h0.7v0.7h-0.7zM299.7 185.6h0.7v0.7h-0.7zM303.4 184.1h0.7v0.7h-0.7zM302.7 186.3h0.7v0.7h-0.7zM307.4 182.1h0.7v0.7h-0.7zM301.3 186.6h0.7v0.7h-0.7zM297.5 183.4h0.7v0.7h-0.7zM300.9 177.9h0.7v0.7h-0.7zM298.6 179.5h0.7v0.7h-0.7zM298.5 181.7h0.7v0.7h-0.7zM298.6 188.3h0.7v0.7h-0.7zM306.9 189.0h0.7v0.7h-0.7zM297.1 186.5h0.7v0.7h-0.7zM294.8 187.6h0.7v0.7h-0.7zM304.5 183.3h0.7v0.7h-0.7zM301.1 188.9h0.7v0.7h-0.7zM304.4 182.2h0.7v0.7h-0.7zM297.4 176.8h0.7v0.7h-0.7zM299.3 182.0h0.7v0.7h-0.7zM300.9 187.6h0.7v0.7h-0.7zM294.1 181.2h0.7v0.7h-0.7zM299.2 177.2h0.7v0.7h-0.7zM299.9 182.5h0.7v0.7h-0.7zM302.6 188.1h0.7v0.7h-0.7zM304.2 183.6h0.7v0.7h-0.7zM302.0 185.8h0.7v0.7h-0.7zM305.9 176.0h0.7v0.7h-0.7zM299.6 181.2h0.7v0.7h-0.7zM301.3 189.8h0.7v0.7h-0.7zM301.9 185.5h0.7v0.7h-0.7zM297.5 186.4h0.7v0.7h-0.7zM302.0 180.0h0.7v0.7h-0.7zM303.9 182.6h0.7v0.7h-0.7zM290.7 183.9h0.7v0.7h-0.7zM303.2 187.0h0.7v0.7h-0.7zM301.4 184.6h0.7v0.7h-0.7zM304.0 187.5h0.7v0.7h-0.7zM292.0 181.3h0.7v0.7h-0.7zM301.2 184.4h0.7v0.7h-0.7zM304.7 189.6h0.7v0.7h-0.7zM301.5 183.0h0.7v0.7h-0.7zM309.0 180.7h0.7v0.7h-0.7zM300.3 194.5h0.7v0.7h-0.7zM303.9 187.7h0.7v0.7h-0.7zM300.8 190.6h0.7v0.7h-0.7zM314.9 186.4h0.7v0.7h-0.7zM299.8 190.5h0.7v0.7h-0.7zM310.0 186.7h0.7v0.7h-0.7zM296.9 186.6h0.7v0.7h-0.7zM297.1 189.5h0.7v0.7h-0.7zM299.9 187.4h0.7v0.7h-0.7zM301.3 188.9h0.7v0.7h-0.7zM291.2 186.5h0.7v0.7h-0.7zM301.8 186.3h0.7v0.7h-0.7zM293.9 191.5h0.7v0.7h-0.7zM297.8 187.2h0.7v0.7h-0.7zM298.4 184.0h0.7v0.7h-0.7zM298.8 177.1h0.7v0.7h-0.7zM297.8 191.2h0.7v0.7h-0.7zM295.5 185.5h0.7v0.7h-0.7zM292.5 190.2h0.7v0.7h-0.7zM294.3 179.4h0.7v0.7h-0.7zM300.2 187.6h0.7v0.7h-0.7zM294.6 184.5h0.7v0.7h-0.7zM303.5 185.0h0.7v0.7h-0.7zM297.2 187.1h0.7v0.7h-0.7zM306.3 196.1h0.7v0.7h-0.7zM307.2 176.8h0.7v0.7h-0.7zM307.2 190.0h0.7v0.7h-0.7zM302.5 188.4h0.7v0.7h-0.7zM306.4 183.8h0.7v0.7h-0.7zM295.1 183.8h0.7v0.7h-0.7zM304.2 182.3h0.7v0.7h-0.7zM297.9 178.9h0.7v0.7h-0.7zM303.6 179.9h0.7v0.7h-0.7z" fill="#444" fill-opacity="0.4"/>
<path d="M289.2 204.2h0.7v0.7h-0.7zM295.1 210.9h0.7v0.7h-0.7zM299.0 204.3h0.7v0.7h-0.7zM286.2 208.1h0.7v0.7h-0.7zM284.7 205.1h0.7v0.7h-0.7zM292.7 207.3h0.7v0.7h-0.7zM293.4 204.2h0.7v0.7h-0.7zM288.2 206.5h0.7v0.7h-0.7zM293.3 211.4h0.7v0.7h-0.7zM294.8 207.5h0.7v0.7h-0.7zM287.3 205.4h0.7v0.7h-0.7zM290.1 201.1h0.7v0.7h-0.7zM286.4 200.3h0.7v0.7h-0.7zM291.2 207.9h0.7v0.7h-0.7zM286.5 210.8h0.7v0.7h-0.7zM290.4 206.6h0.7v0.7h-0.7zM292.6 208.4h0.7v0.7h-0.7zM286.0 204.5h0.7v0.7h-0.7zM284.5 209.4h0.7v0.7h-0.7zM289.6 210.6h0.7v0.7h-0.7zM287.3 202.5h0.7v0.7h-0.7zM294.4 210.3h0.7v0.7h-0.7zM284.4 211.1h0.7v0.7h-0.7zM287.3 212.9h0.7v0.7h-0.7zM292.0 204.7h0.7v0.7h-0.7zM289.1 206.4h0.7v0.7h-0.7zM278.6 209.7h0.7v0.7h-0.7zM288.8 210.0h0.7v0.7h-0.7zM279.1 209.8h0.7v0.7h-0.7zM290.2 202.7h0.7v0.7h-0.7zM297.7 210.2h0.7v0.7h-0.7zM286.4 203.9h0.7v0.7h-0.7zM292.3 214.0h0.7v0.7h-0.7zM292.1 205.4h0.7v0.7h-0.7zM297.1 204.8h0.7v0.7h-0.7zM295.2 209.7h0.7v0.7h-0.7zM289.6 204.7h0.7v0.7h-0.7zM287.9 207.0h0.7v0.7h-0.7zM295.4 206.8h0.7v0.7h-0.7zM286.7 212.3h0.7v0.7h-0.7zM294.1 207.4h0.7v0.7h-0.7zM294.9 207.8h0.7v0.7h-0.7zM297.2 206.7h0.7v0.7h-0.7zM287.3 205.4h0.7v0.7h-0.7zM290.6 207.7h0.7v0.7h-0.7zM287.9 205.1h0.7v0.7h-0.7zM285.0 205.0h0.7v0.7h-0.7zM296.4 206.3h0.7v0.7h-0.7zM286.3 204.5h0.7v0.7h-0.7zM287.1 206.6h0.7v0.7h-0.7zM286.7 211.6h0.7v0.7h-0.7zM286.8 206.0h0.7v0.7h-0.7zM295.7 206.9h0.7v0.7h-0.7zM294.9 206.3h0.7v0.7h-0.7zM293.1 215.4h0.7v0.7h-0.7zM286.4 209.1h0.7v0.7h-0.7zM285.7 206.9h0.7v0.7h-0.7zM287.4 207.5h0.7v0.7h-0.7zM285.4 198.8h0.7v0.7h-0.7zM292.2 207.4h0.7v0.7h-0.7zM295.0 207.8h0.7v0.7h-0.7zM290.4 203.6h0.7v0.7h-0.7zM284.6 207.5h0.7v0.7h-0.7zM285.4 212.4h0.7v0.7h-0.7zM295.6 209.1h0.7v0.7h-0.7zM294.8 206.7h0.7v0.7h-0.7zM287.9 216.4h0.7v0.7h-0.7zM289.0 212.0h0.7v0.7h-0.7zM286.9 208.6h0.7v0.7h-0.7zM293.4 200.4h0.7v0.7h-0.7zM284.1 204.2h0.7v0.7h-0.7zM288.6 207.2h0.7v0.7h-0.7zM287.0 204.1h0.7v0.7h-0.7zM285.9 202.9h0.7v0.7h-0.7zM291.4 204.9h0.7v0.7h-0.7zM285.7 202.3h0.7v0.7h-0.7zM286.8 200.6h0.7v0.7h-0.7zM290.7 208.5h0.7v0.7h-0.7zM284.7 204.8h0.7v0.7h-0.7zM288.5 210.1h0.7v0.7h-0.7zM287.0 205.6h0.7v0.7h-0.7zM285.9 203.1h0.7v0.7h-0.7zM287.3 219.9h0.7v0.7h-0.7zM294.4 208.3h0.7v0.7h-0.7zM291.0 200.9h0.7v0.7h-0.7zM286.1 209.9h0.7v0.7h-0.7zM290.1 211.3h0.7v0.7h-0.7zM290.0 209.1h0.7v0.7h-0.7zM290.4 209.1h0.7v0.7h-0.7zM291.5 211.3h0.7v0.7h-0.7zM287.9 206.1h0.7v0.7h-0.7zM287.3 207.0h0.7v0.7h-0.7zM291.8 207.3h0.7v0.7h-0.7zM282.3 204.2h0.7v0.7h-0.7zM287.9 205.7h0.7v0.7h-0.7zM287.5 205.5h0.7v0.7h-0.7zM293.6 209.3h0.7v0.7h-0.7zM295.6 200.6h0.7v0.7h-0.7zM285.9 202.0h0.7v0.7h-0.7zM294.0 209.8h0.7v0.7h-0.7zM287.7 204.9h0.7v0.7h-0.7zM291.1 212.2h0.7v0.7h-0.7zM296.1 204.5h0.7v0.7h-0.7zM293.5 206.3h0.7v0.7h-0.7zM296.3 217.3h0.7v0.7h-0.7zM292.2 209.4h0.7v0.7h-0.7zM279.8 209.3h0.7v0.7h-0.7zM283.2 204.7h0.7v0.7h-0.7zM293.5 200.7h0.7v0.7h-0.7zM299.4 204.9h0.7v0.7h-0.7zM293.1 204.9h0.7v0.7h-0.7zM292.8 204.7h0.7v0.7h-0.7zM289.8 197.8h0.7v0.7h-0.7zM293.8 209.7h0.7v0.7h-0.7zM288.6 205.8h0.7v0.7h-0.7zM285.7 204.1h0.7v0.7h-0.7zM290.9 208.2h0.7v0.7h-0.7zM292.9 211.6h0.7v0.7h-0.7zM294.0 208.6h0.7v0.7h-0.7zM291.4 206.2h0.7v0.7h-0.7z" fill="#333" fill-opacity="0.4"/>
<ellipse cx="290.00" cy="201.50" rx="9.00" ry="9.60" fill="#555" filter="url(#b15)" opacity="0.45"/>
<ellipse cx="290.00" cy="201.50" rx="7.40" ry="8.00" fill="#9c9c9c" stroke="#333" stroke-width="2.3" filter="url(#b05)"/>
<ellipse cx="290.00" cy="201.50" rx="4.59" ry="4.80" fill="#8e8e8e" filter="url(#b06)"/>
<path d="M285.6 209.7h0.8v0.8h-0.8zM297.8 203.4h0.8v0.8h-0.8zM281.9 199.5h0.8v0.8h-0.8zM283.5 198.8h0.8v0.8h-0.8zM298.9 201.0h0.8v0.8h-0.8zM297.7 202.7h0.8v0.8h-0.8zM284.7 210.2h0.8v0.8h-0.8zM289.6 194.6h0.8v0.8h-0.8zM290.4 211.7h0.8v0.8h-0.8zM293.7 207.6h0.8v0.8h-0.8zM284.4 208.7h0.8v0.8h-0.8zM296.4 199.1h0.8v0.8h-0.8zM283.2 199.5h0.8v0.8h-0.8zM299.0 200.5h0.8v0.8h-0.8zM296.2 201.3h0.8v0.8h-0.8zM281.2 198.4h0.8v0.8h-0.8zM291.9 190.2h0.8v0.8h-0.8zM281.0 201.4h0.8v0.8h-0.8zM284.3 198.7h0.8v0.8h-0.8zM298.3 197.9h0.8v0.8h-0.8zM295.3 195.0h0.8v0.8h-0.8zM290.6 192.5h0.8v0.8h-0.8zM292.5 209.8h0.8v0.8h-0.8zM295.6 209.7h0.8v0.8h-0.8zM287.4 190.8h0.8v0.8h-0.8zM296.2 207.9h0.8v0.8h-0.8zM290.5 212.1h0.8v0.8h-0.8zM283.5 205.8h0.8v0.8h-0.8zM286.9 213.0h0.8v0.8h-0.8zM283.9 205.3h0.8v0.8h-0.8zM289.8 194.1h0.8v0.8h-0.8zM292.1 193.5h0.8v0.8h-0.8zM283.5 194.5h0.8v0.8h-0.8zM281.0 198.4h0.8v0.8h-0.8zM294.5 206.3h0.8v0.8h-0.8zM297.9 205.0h0.8v0.8h-0.8zM298.6 202.9h0.8v0.8h-0.8zM284.9 212.4h0.8v0.8h-0.8zM282.4 199.4h0.8v0.8h-0.8zM288.7 208.4h0.8v0.8h-0.8zM289.8 194.8h0.8v0.8h-0.8zM285.1 208.3h0.8v0.8h-0.8zM284.0 194.4h0.8v0.8h-0.8zM293.4 193.1h0.8v0.8h-0.8zM283.6 196.0h0.8v0.8h-0.8zM294.0 208.1h0.8v0.8h-0.8zM293.4 193.5h0.8v0.8h-0.8zM286.6 209.6h0.8v0.8h-0.8zM300.9 198.2h0.8v0.8h-0.8zM284.4 195.2h0.8v0.8h-0.8zM296.8 199.9h0.8v0.8h-0.8zM289.4 193.3h0.8v0.8h-0.8zM282.4 204.1h0.8v0.8h-0.8zM289.4 207.5h0.8v0.8h-0.8zM290.1 192.7h0.8v0.8h-0.8zM283.3 207.0h0.8v0.8h-0.8zM286.4 209.6h0.8v0.8h-0.8zM285.3 195.9h0.8v0.8h-0.8zM297.8 202.9h0.8v0.8h-0.8zM281.4 201.4h0.8v0.8h-0.8zM282.8 195.3h0.8v0.8h-0.8zM292.8 192.8h0.8v0.8h-0.8zM286.2 207.3h0.8v0.8h-0.8zM287.2 192.2h0.8v0.8h-0.8zM284.1 210.3h0.8v0.8h-0.8zM297.9 202.1h0.8v0.8h-0.8zM285.9 198.3h0.8v0.8h-0.8zM283.7 208.9h0.8v0.8h-0.8zM280.5 200.4h0.8v0.8h-0.8zM287.1 209.8h0.8v0.8h-0.8zM289.2 193.2h0.8v0.8h-0.8zM290.9 211.9h0.8v0.8h-0.8zM288.9 191.6h0.8v0.8h-0.8zM282.0 199.1h0.8v0.8h-0.8zM293.6 193.7h0.8v0.8h-0.8zM290.2 210.7h0.8v0.8h-0.8zM292.6 211.4h0.8v0.8h-0.8zM298.5 201.9h0.8v0.8h-0.8zM294.2 207.4h0.8v0.8h-0.8zM295.3 195.7h0.8v0.8h-0.8zM298.4 200.0h0.8v0.8h-0.8zM296.4 208.0h0.8v0.8h-0.8zM288.8 209.6h0.8v0.8h-0.8zM280.9 203.2h0.8v0.8h-0.8zM282.6 199.8h0.8v0.8h-0.8zM290.4 191.3h0.8v0.8h-0.8zM279.7 202.7h0.8v0.8h-0.8zM299.2 203.0h0.8v0.8h-0.8zM282.7 196.9h0.8v0.8h-0.8zM296.4 208.3h0.8v0.8h-0.8zM287.6 207.0h0.8v0.8h-0.8zM285.6 211.2h0.8v0.8h-0.8zM288.2 194.0h0.8v0.8h-0.8zM283.5 198.7h0.8v0.8h-0.8zM288.8 193.3h0.8v0.8h-0.8zM293.2 194.8h0.8v0.8h-0.8zM281.9 200.6h0.8v0.8h-0.8zM289.2 209.8h0.8v0.8h-0.8zM282.2 199.3h0.8v0.8h-0.8zM299.3 199.3h0.8v0.8h-0.8zM293.3 193.0h0.8v0.8h-0.8zM296.9 204.5h0.8v0.8h-0.8zM295.5 195.4h0.8v0.8h-0.8zM285.6 207.5h0.8v0.8h-0.8zM297.4 195.4h0.8v0.8h-0.8zM288.5 194.4h0.8v0.8h-0.8zM295.8 206.7h0.8v0.8h-0.8zM283.3 193.4h0.8v0.8h-0.8zM284.8 195.4h0.8v0.8h-0.8zM288.3 210.2h0.8v0.8h-0.8zM284.9 193.9h0.8v0.8h-0.8zM296.1 202.1h0.8v0.8h-0.8zM281.7 202.2h0.8v0.8h-0.8zM284.8 193.2h0.8v0.8h-0.8zM296.1 207.6h0.8v0.8h-0.8zM293.4 192.7h0.8v0.8h-0.8zM292.2 194.3h0.8v0.8h-0.8zM296.6 196.4h0.8v0.8h-0.8zM297.7 200.4h0.8v0.8h-0.8zM287.9 209.9h0.8v0.8h-0.8zM295.8 204.6h0.8v0.8h-0.8zM296.0 206.1h0.8v0.8h-0.8zM297.5 206.3h0.8v0.8h-0.8zM289.3 209.3h0.8v0.8h-0.8zM282.2 205.8h0.8v0.8h-0.8zM284.1 210.1h0.8v0.8h-0.8zM297.5 197.3h0.8v0.8h-0.8zM291.5 192.8h0.8v0.8h-0.8zM296.9 207.5h0.8v0.8h-0.8zM296.8 203.4h0.8v0.8h-0.8zM282.8 199.3h0.8v0.8h-0.8zM291.7 194.4h0.8v0.8h-0.8zM295.5 206.3h0.8v0.8h-0.8zM291.3 190.7h0.8v0.8h-0.8zM285.4 207.4h0.8v0.8h-0.8zM289.5 192.8h0.8v0.8h-0.8zM297.4 203.8h0.8v0.8h-0.8zM290.2 209.7h0.8v0.8h-0.8zM289.9 193.1h0.8v0.8h-0.8zM296.2 206.8h0.8v0.8h-0.8zM298.4 199.8h0.8v0.8h-0.8zM296.7 205.8h0.8v0.8h-0.8zM297.2 206.6h0.8v0.8h-0.8zM282.8 205.1h0.8v0.8h-0.8zM296.3 196.6h0.8v0.8h-0.8zM285.2 208.3h0.8v0.8h-0.8zM296.7 209.7h0.8v0.8h-0.8zM295.2 206.1h0.8v0.8h-0.8zM283.1 197.3h0.8v0.8h-0.8zM297.7 206.5h0.8v0.8h-0.8zM294.6 193.4h0.8v0.8h-0.8zM292.6 194.5h0.8v0.8h-0.8zM292.7 194.7h0.8v0.8h-0.8zM286.4 209.3h0.8v0.8h-0.8zM282.9 208.3h0.8v0.8h-0.8zM290.6 191.8h0.8v0.8h-0.8zM289.6 192.8h0.8v0.8h-0.8zM283.9 206.6h0.8v0.8h-0.8zM289.9 193.0h0.8v0.8h-0.8zM297.6 198.8h0.8v0.8h-0.8zM292.7 195.1h0.8v0.8h-0.8zM292.8 195.2h0.8v0.8h-0.8zM284.6 195.0h0.8v0.8h-0.8zM282.3 209.0h0.8v0.8h-0.8zM286.6 193.2h0.8v0.8h-0.8zM293.0 207.2h0.8v0.8h-0.8zM295.9 197.8h0.8v0.8h-0.8zM286.0 193.9h0.8v0.8h-0.8zM291.1 208.9h0.8v0.8h-0.8zM297.2 206.2h0.8v0.8h-0.8zM293.8 208.2h0.8v0.8h-0.8zM296.9 199.1h0.8v0.8h-0.8zM291.9 194.7h0.8v0.8h-0.8zM296.8 195.7h0.8v0.8h-0.8zM284.4 208.5h0.8v0.8h-0.8zM289.1 210.7h0.8v0.8h-0.8zM292.8 210.6h0.8v0.8h-0.8zM285.5 208.7h0.8v0.8h-0.8zM299.6 202.3h0.8v0.8h-0.8zM283.8 198.0h0.8v0.8h-0.8zM282.6 207.0h0.8v0.8h-0.8zM293.1 193.9h0.8v0.8h-0.8zM283.5 205.8h0.8v0.8h-0.8zM282.6 201.1h0.8v0.8h-0.8zM287.8 210.7h0.8v0.8h-0.8zM288.6 192.6h0.8v0.8h-0.8zM285.3 210.3h0.8v0.8h-0.8zM283.1 203.7h0.8v0.8h-0.8zM293.6 193.3h0.8v0.8h-0.8zM290.5 193.9h0.8v0.8h-0.8zM292.3 192.3h0.8v0.8h-0.8zM281.2 196.6h0.8v0.8h-0.8zM294.9 207.0h0.8v0.8h-0.8zM298.1 206.8h0.8v0.8h-0.8zM294.6 195.8h0.8v0.8h-0.8zM299.9 200.0h0.8v0.8h-0.8zM284.5 194.7h0.8v0.8h-0.8zM289.3 211.0h0.8v0.8h-0.8zM291.9 208.7h0.8v0.8h-0.8zM290.7 212.4h0.8v0.8h-0.8zM296.8 196.7h0.8v0.8h-0.8zM284.9 207.7h0.8v0.8h-0.8zM287.6 191.7h0.8v0.8h-0.8zM296.7 198.2h0.8v0.8h-0.8zM296.7 196.9h0.8v0.8h-0.8zM296.1 196.2h0.8v0.8h-0.8zM286.0 208.1h0.8v0.8h-0.8zM287.6 211.4h0.8v0.8h-0.8zM287.9 190.7h0.8v0.8h-0.8zM296.3 205.2h0.8v0.8h-0.8zM285.6 211.3h0.8v0.8h-0.8zM286.2 210.9h0.8v0.8h-0.8zM293.6 194.0h0.8v0.8h-0.8zM299.0 201.2h0.8v0.8h-0.8zM287.0 190.6h0.8v0.8h-0.8zM285.5 195.0h0.8v0.8h-0.8zM290.8 209.6h0.8v0.8h-0.8zM284.1 205.8h0.8v0.8h-0.8zM279.6 198.8h0.8v0.8h-0.8zM293.2 211.1h0.8v0.8h-0.8z" fill="#222" fill-opacity="0.35"/>
<ellipse cx="289.80" cy="183.40" rx="9.90" ry="8.80" fill="#555" filter="url(#b15)" opacity="0.45"/>
<ellipse cx="289.80" cy="183.40" rx="8.30" ry="7.20" fill="#bdbdbd" stroke="#333" stroke-width="2.5" filter="url(#b05)"/>
<ellipse cx="289.80" cy="183.40" rx="5.15" ry="4.32" fill="#9a9a9a" filter="url(#b06)"/>
<ellipse cx="289.80" cy="183.40" rx="1.99" ry="1.58" fill="#2e2e2e" filter="url(#b05)"/>
<path d="M296.2 188.9h0.8v0.8h-0.8zM297.8 177.1h0.8v0.8h-0.8zM295.5 176.7h0.8v0.8h-0.8zM283.9 176.5h0.8v0.8h-0.8zM282.7 180.9h0.8v0.8h-0.8zM283.4 188.4h0.8v0.8h-0.8zM281.5 184.9h0.8v0.8h-0.8zM296.4 190.5h0.8v0.8h-0.8zM296.6 178.3h0.8v0.8h-0.8zM292.3 175.9h0.8v0.8h-0.8zM288.7 191.1h0.8v0.8h-0.8zM285.7 174.4h0.8v0.8h-0.8zM297.6 186.1h0.8v0.8h-0.8zM282.2 185.8h0.8v0.8h-0.8zM288.7 175.2h0.8v0.8h-0.8zM295.7 177.4h0.8v0.8h-0.8zM294.1 174.6h0.8v0.8h-0.8zM281.4 189.0h0.8v0.8h-0.8zM296.4 177.4h0.8v0.8h-0.8zM283.8 189.2h0.8v0.8h-0.8zM282.4 188.1h0.8v0.8h-0.8zM300.2 186.3h0.8v0.8h-0.8zM294.3 190.9h0.8v0.8h-0.8zM280.0 181.9h0.8v0.8h-0.8zM283.9 182.1h0.8v0.8h-0.8zM294.1 177.8h0.8v0.8h-0.8zM290.7 175.6h0.8v0.8h-0.8zM293.7 191.4h0.8v0.8h-0.8zM299.7 182.5h0.8v0.8h-0.8zM298.3 186.6h0.8v0.8h-0.8zM283.2 185.0h0.8v0.8h-0.8zM281.0 180.9h0.8v0.8h-0.8zM282.0 181.7h0.8v0.8h-0.8zM294.5 187.1h0.8v0.8h-0.8zM292.6 189.9h0.8v0.8h-0.8zM297.7 186.3h0.8v0.8h-0.8zM298.1 187.1h0.8v0.8h-0.8zM282.3 177.5h0.8v0.8h-0.8zM284.4 190.1h0.8v0.8h-0.8zM289.2 191.4h0.8v0.8h-0.8zM298.0 185.1h0.8v0.8h-0.8zM298.8 182.3h0.8v0.8h-0.8zM293.4 177.5h0.8v0.8h-0.8zM291.1 192.1h0.8v0.8h-0.8zM298.3 186.2h0.8v0.8h-0.8zM300.1 185.0h0.8v0.8h-0.8zM292.8 191.7h0.8v0.8h-0.8zM282.3 187.1h0.8v0.8h-0.8zM291.6 175.6h0.8v0.8h-0.8zM281.6 180.1h0.8v0.8h-0.8zM290.4 175.3h0.8v0.8h-0.8zM294.7 186.1h0.8v0.8h-0.8zM284.2 188.3h0.8v0.8h-0.8zM278.5 181.2h0.8v0.8h-0.8zM299.0 182.7h0.8v0.8h-0.8zM293.2 174.2h0.8v0.8h-0.8zM297.9 181.2h0.8v0.8h-0.8zM285.8 178.2h0.8v0.8h-0.8zM281.5 181.0h0.8v0.8h-0.8zM287.5 176.0h0.8v0.8h-0.8zM286.2 177.0h0.8v0.8h-0.8zM295.8 191.2h0.8v0.8h-0.8zM279.5 180.0h0.8v0.8h-0.8zM282.2 186.2h0.8v0.8h-0.8zM296.5 191.8h0.8v0.8h-0.8zM279.7 181.5h0.8v0.8h-0.8zM297.1 181.4h0.8v0.8h-0.8zM292.2 192.4h0.8v0.8h-0.8zM281.2 179.5h0.8v0.8h-0.8zM287.1 175.7h0.8v0.8h-0.8zM282.7 184.1h0.8v0.8h-0.8zM287.0 175.2h0.8v0.8h-0.8zM285.5 177.3h0.8v0.8h-0.8zM284.6 174.4h0.8v0.8h-0.8zM288.2 190.1h0.8v0.8h-0.8zM292.4 177.5h0.8v0.8h-0.8zM285.0 190.9h0.8v0.8h-0.8zM295.7 179.1h0.8v0.8h-0.8zM300.9 184.1h0.8v0.8h-0.8zM287.9 176.6h0.8v0.8h-0.8zM295.3 175.9h0.8v0.8h-0.8zM297.6 182.5h0.8v0.8h-0.8zM284.4 189.2h0.8v0.8h-0.8zM295.4 176.8h0.8v0.8h-0.8zM288.9 176.2h0.8v0.8h-0.8zM289.8 174.5h0.8v0.8h-0.8zM297.3 180.3h0.8v0.8h-0.8zM281.6 176.9h0.8v0.8h-0.8zM281.1 178.5h0.8v0.8h-0.8zM293.7 178.2h0.8v0.8h-0.8zM290.0 173.0h0.8v0.8h-0.8zM298.8 186.4h0.8v0.8h-0.8zM297.9 183.1h0.8v0.8h-0.8zM298.8 180.5h0.8v0.8h-0.8zM295.2 190.1h0.8v0.8h-0.8zM298.9 179.3h0.8v0.8h-0.8zM280.1 186.6h0.8v0.8h-0.8zM287.0 192.5h0.8v0.8h-0.8zM297.2 182.0h0.8v0.8h-0.8zM287.8 175.2h0.8v0.8h-0.8zM284.2 177.9h0.8v0.8h-0.8zM283.3 186.1h0.8v0.8h-0.8zM296.3 179.0h0.8v0.8h-0.8zM285.4 177.7h0.8v0.8h-0.8zM280.2 184.7h0.8v0.8h-0.8zM282.6 179.0h0.8v0.8h-0.8zM298.3 187.5h0.8v0.8h-0.8zM283.7 189.3h0.8v0.8h-0.8zM291.0 175.2h0.8v0.8h-0.8zM299.1 186.1h0.8v0.8h-0.8zM285.4 177.4h0.8v0.8h-0.8zM293.5 190.6h0.8v0.8h-0.8zM285.9 176.3h0.8v0.8h-0.8zM298.2 182.0h0.8v0.8h-0.8zM282.9 186.8h0.8v0.8h-0.8zM296.6 177.5h0.8v0.8h-0.8zM298.6 179.1h0.8v0.8h-0.8zM296.5 191.8h0.8v0.8h-0.8zM294.7 190.5h0.8v0.8h-0.8zM298.5 186.8h0.8v0.8h-0.8zM295.4 178.6h0.8v0.8h-0.8zM291.7 191.2h0.8v0.8h-0.8zM279.1 181.9h0.8v0.8h-0.8zM288.1 193.7h0.8v0.8h-0.8zM299.3 181.1h0.8v0.8h-0.8zM300.9 185.6h0.8v0.8h-0.8zM296.3 175.1h0.8v0.8h-0.8zM278.0 185.1h0.8v0.8h-0.8zM291.1 174.5h0.8v0.8h-0.8zM281.4 182.6h0.8v0.8h-0.8zM288.6 191.7h0.8v0.8h-0.8zM293.4 174.4h0.8v0.8h-0.8zM290.6 190.9h0.8v0.8h-0.8zM298.0 187.0h0.8v0.8h-0.8zM288.0 190.4h0.8v0.8h-0.8zM284.1 188.9h0.8v0.8h-0.8zM296.6 185.8h0.8v0.8h-0.8zM281.6 189.5h0.8v0.8h-0.8zM298.1 183.8h0.8v0.8h-0.8zM298.8 181.2h0.8v0.8h-0.8zM286.3 191.5h0.8v0.8h-0.8zM281.2 185.0h0.8v0.8h-0.8zM292.2 176.9h0.8v0.8h-0.8zM294.9 177.5h0.8v0.8h-0.8zM297.2 185.8h0.8v0.8h-0.8zM283.5 189.5h0.8v0.8h-0.8zM296.3 178.7h0.8v0.8h-0.8zM291.7 174.2h0.8v0.8h-0.8zM297.3 179.5h0.8v0.8h-0.8zM299.4 185.3h0.8v0.8h-0.8zM296.0 187.8h0.8v0.8h-0.8zM294.5 179.0h0.8v0.8h-0.8zM293.0 176.2h0.8v0.8h-0.8zM284.1 191.1h0.8v0.8h-0.8zM300.2 184.4h0.8v0.8h-0.8zM284.7 191.7h0.8v0.8h-0.8zM283.0 178.7h0.8v0.8h-0.8zM292.5 190.7h0.8v0.8h-0.8zM288.7 191.6h0.8v0.8h-0.8zM281.2 182.3h0.8v0.8h-0.8zM299.0 186.6h0.8v0.8h-0.8zM283.4 176.3h0.8v0.8h-0.8zM296.7 176.5h0.8v0.8h-0.8zM292.0 176.5h0.8v0.8h-0.8zM293.6 174.2h0.8v0.8h-0.8zM285.2 187.7h0.8v0.8h-0.8zM298.1 180.9h0.8v0.8h-0.8zM298.2 183.0h0.8v0.8h-0.8zM285.2 190.3h0.8v0.8h-0.8zM281.8 186.6h0.8v0.8h-0.8zM279.2 183.1h0.8v0.8h-0.8zM284.5 178.0h0.8v0.8h-0.8zM282.8 189.8h0.8v0.8h-0.8zM295.3 178.7h0.8v0.8h-0.8zM298.8 182.0h0.8v0.8h-0.8zM286.6 191.4h0.8v0.8h-0.8zM300.1 182.2h0.8v0.8h-0.8zM297.3 182.1h0.8v0.8h-0.8zM283.6 184.2h0.8v0.8h-0.8zM278.7 181.2h0.8v0.8h-0.8zM295.3 178.3h0.8v0.8h-0.8zM281.4 181.1h0.8v0.8h-0.8zM295.1 177.1h0.8v0.8h-0.8zM298.2 177.2h0.8v0.8h-0.8zM299.6 185.3h0.8v0.8h-0.8zM299.9 180.4h0.8v0.8h-0.8zM290.1 193.0h0.8v0.8h-0.8zM297.8 188.4h0.8v0.8h-0.8zM283.7 177.7h0.8v0.8h-0.8zM298.3 189.4h0.8v0.8h-0.8zM282.9 190.3h0.8v0.8h-0.8zM286.9 175.4h0.8v0.8h-0.8zM283.6 185.9h0.8v0.8h-0.8zM286.6 190.2h0.8v0.8h-0.8zM291.9 191.8h0.8v0.8h-0.8zM291.7 176.1h0.8v0.8h-0.8zM280.5 187.4h0.8v0.8h-0.8zM277.6 180.7h0.8v0.8h-0.8zM297.0 188.6h0.8v0.8h-0.8zM293.3 191.3h0.8v0.8h-0.8zM297.7 189.3h0.8v0.8h-0.8zM297.5 175.9h0.8v0.8h-0.8zM290.2 177.8h0.8v0.8h-0.8zM293.9 176.8h0.8v0.8h-0.8zM300.8 182.9h0.8v0.8h-0.8zM289.3 175.4h0.8v0.8h-0.8zM292.6 177.8h0.8v0.8h-0.8zM295.5 176.3h0.8v0.8h-0.8zM291.3 177.0h0.8v0.8h-0.8zM299.5 180.2h0.8v0.8h-0.8zM297.3 177.0h0.8v0.8h-0.8zM282.5 187.5h0.8v0.8h-0.8zM297.5 183.0h0.8v0.8h-0.8zM298.3 179.0h0.8v0.8h-0.8zM281.1 183.5h0.8v0.8h-0.8zM289.2 175.7h0.8v0.8h-0.8zM295.3 177.8h0.8v0.8h-0.8zM296.5 178.7h0.8v0.8h-0.8zM283.5 187.6h0.8v0.8h-0.8zM296.4 190.4h0.8v0.8h-0.8z" fill="#222" fill-opacity="0.35"/>
</g>
<ellipse cx="321.40" cy="181.40" rx="10.40" ry="5.50" transform="rotate(-46 321.40 181.40)" fill="none" stroke="#444" stroke-width="0.65"/>
<path d="M279.0 162.4h2.4M279.0 174.0h2.4M279.0 187.6h2.4M279.0 201.6h2.4M279.0 207.8h2.4M280.1 159.1h1.3M280.1 161.7h1.3M280.1 164.3h1.3M280.1 166.9h1.3M280.1 169.5h1.3M280.1 172.1h1.3M280.1 174.7h1.3M280.1 177.3h1.3M280.1 179.9h1.3M280.1 182.5h1.3M280.1 185.1h1.3M280.1 187.7h1.3M280.1 190.3h1.3M280.1 192.9h1.3M280.1 195.5h1.3M280.1 198.1h1.3M280.1 200.7h1.3M280.1 203.3h1.3M280.1 205.9h1.3M280.1 208.5h1.3M280.1 211.1h1.3M290.9 213.5v2.4M305.8 213.5v2.4M320.0 213.5v2.4M333.3 213.5v2.4M283.9 213.5v1.3M286.5 213.5v1.3M289.1 213.5v1.3M291.7 213.5v1.3M294.3 213.5v1.3M296.9 213.5v1.3M299.5 213.5v1.3M302.1 213.5v1.3M304.7 213.5v1.3M307.3 213.5v1.3M309.9 213.5v1.3M312.5 213.5v1.3M315.1 213.5v1.3M317.7 213.5v1.3M320.3 213.5v1.3M322.9 213.5v1.3M325.5 213.5v1.3M328.1 213.5v1.3M330.7 213.5v1.3M333.3 213.5v1.3M335.9 213.5v1.3M338.5 213.5v1.3" stroke="#1a1a1a" stroke-width="0.8" fill="none"/>
<path d="M281.4 156.6 H340.5 V213.5" fill="none" stroke="#111" stroke-width="1.25"/>
<path d="M281.4 156.6 V213.5 H340.5" fill="none" stroke="#111" stroke-width="1.6"/>
<text transform="matrix(1.0364,0,0,1,267.89,164.44)" font-size="5.915" fill="#222" stroke="#222" stroke-width="0.16">10</text>
<text transform="matrix(0.9825,0,0,1,274.95,161.72)" font-size="3.857" fill="#222" stroke="#222" stroke-width="0.16">5</text>
<text transform="matrix(1.0364,0,0,1,267.89,176.05)" font-size="5.915" fill="#222" stroke="#222" stroke-width="0.16">10</text>
<text transform="matrix(0.9200,0,0,1,275.01,173.36)" font-size="3.913" fill="#222" stroke="#222" stroke-width="0.16">4</text>
<text transform="matrix(1.0364,0,0,1,267.89,189.65)" font-size="5.915" fill="#222" stroke="#222" stroke-width="0.16">10</text>
<text transform="matrix(1.0071,0,0,1,274.95,186.92)" font-size="3.803" fill="#222" stroke="#222" stroke-width="0.16">3</text>
<text transform="matrix(1.0364,0,0,1,267.89,203.59)" font-size="5.915" fill="#222" stroke="#222" stroke-width="0.16">10</text>
<text transform="matrix(1.0256,0,0,1,274.90,200.90)" font-size="3.857" fill="#222" stroke="#222" stroke-width="0.16">2</text>
<text transform="matrix(1.0321,0,0,1,271.41,209.85)" font-size="5.915" fill="#222" stroke="#222" stroke-width="0.16">0</text>
<text transform="matrix(1.0321,0,0,1,289.16,225.54)" font-size="5.915" fill="#222" stroke="#222" stroke-width="0.16">0</text>
<text transform="matrix(1.0364,0,0,1,302.26,225.54)" font-size="5.915" fill="#222" stroke="#222" stroke-width="0.16">10</text>
<text transform="matrix(1.0071,0,0,1,309.32,222.81)" font-size="3.803" fill="#222" stroke="#222" stroke-width="0.16">3</text>
<text transform="matrix(1.0364,0,0,1,316.45,225.54)" font-size="5.915" fill="#222" stroke="#222" stroke-width="0.16">10</text>
<text transform="matrix(0.9200,0,0,1,323.57,222.85)" font-size="3.913" fill="#222" stroke="#222" stroke-width="0.16">4</text>
<text transform="matrix(1.0364,0,0,1,329.74,225.54)" font-size="5.915" fill="#222" stroke="#222" stroke-width="0.16">10</text>
<text transform="matrix(0.9825,0,0,1,336.80,222.81)" font-size="3.857" fill="#222" stroke="#222" stroke-width="0.16">5</text>
<text transform="matrix(1.0816,0,0,1,315.08,163.99)" font-size="6.197" fill="#222" stroke="#222" stroke-width="0.16">0.02%</text>
<line x1="385.80" y1="29.40" x2="385.80" y2="95.20" stroke="#1a1a1a" stroke-width="1.7"/>
<line x1="385.00" y1="94.50" x2="427.80" y2="94.50" stroke="#1a1a1a" stroke-width="1.7"/>
<line x1="383.00" y1="94.50" x2="385.80" y2="94.50" stroke="#1a1a1a" stroke-width="1.2"/>
<text transform="matrix(1.2965,0,0,1,375.54,96.88)" font-size="6.901" fill="#1a1a1a" stroke="#1a1a1a" stroke-width="0.3">0</text>
<line x1="383.00" y1="82.04" x2="385.80" y2="82.04" stroke="#1a1a1a" stroke-width="1.2"/>
<text transform="matrix(1.3344,0,0,1,375.43,84.49)" font-size="7.000" fill="#1a1a1a" stroke="#1a1a1a" stroke-width="0.3">2</text>
<line x1="383.00" y1="69.58" x2="385.80" y2="69.58" stroke="#1a1a1a" stroke-width="1.2"/>
<text transform="matrix(1.1969,0,0,1,375.69,72.03)" font-size="7.101" fill="#1a1a1a" stroke="#1a1a1a" stroke-width="0.3">4</text>
<line x1="383.00" y1="57.12" x2="385.80" y2="57.12" stroke="#1a1a1a" stroke-width="1.2"/>
<text transform="matrix(1.3387,0,0,1,375.44,59.50)" font-size="6.901" fill="#1a1a1a" stroke="#1a1a1a" stroke-width="0.3">6</text>
<line x1="383.00" y1="44.66" x2="385.80" y2="44.66" stroke="#1a1a1a" stroke-width="1.2"/>
<text transform="matrix(1.3102,0,0,1,375.49,47.04)" font-size="6.901" fill="#1a1a1a" stroke="#1a1a1a" stroke-width="0.3">8</text>
<line x1="383.00" y1="32.20" x2="385.80" y2="32.20" stroke="#1a1a1a" stroke-width="1.2"/>
<text transform="matrix(1.1650,0,0,1,371.55,34.58)" font-size="6.901" fill="#1a1a1a" stroke="#1a1a1a" stroke-width="0.3">10</text>
<rect x="388.90" y="92.63" width="15.00" height="1.87" fill="#8e1c2a"/>
<line x1="396.50" y1="91.70" x2="396.50" y2="94.50" stroke="#1a1a1a" stroke-width="1.2"/>
<line x1="394.70" y1="91.70" x2="398.30" y2="91.70" stroke="#1a1a1a" stroke-width="1.4"/>
<line x1="396.50" y1="94.50" x2="396.50" y2="97.30" stroke="#1a1a1a" stroke-width="1.2"/>
<rect x="410.20" y="69.27" width="14.80" height="25.23" fill="#2c4c84"/>
<line x1="417.50" y1="44.66" x2="417.50" y2="84.22" stroke="#1a1a1a" stroke-width="1.2"/>
<line x1="415.70" y1="44.66" x2="419.30" y2="44.66" stroke="#1a1a1a" stroke-width="1.4"/>
<line x1="415.70" y1="84.22" x2="419.30" y2="84.22" stroke="#1a1a1a" stroke-width="1.2"/>
<line x1="417.50" y1="94.50" x2="417.50" y2="97.30" stroke="#1a1a1a" stroke-width="1.2"/>
<text transform="matrix(0.8993,0,0,1,398.76,31.57)" font-size="8.028" fill="#1a1a1a" stroke="#1a1a1a" stroke-width="0.15">0.001</text>
<line x1="399.90" y1="35.00" x2="416.50" y2="35.00" stroke="#1a1a1a" stroke-width="1.7"/>
<text transform="matrix(0.9751,0,0,1,397.06,19.45)" font-size="10.143" fill="#1a1a1a" stroke="#1a1a1a" stroke-width="0.12">HDs</text>
<text transform="translate(365.55,86.35) rotate(-90) scale(0.8448,1)" font-size="10.204" fill="#1a1a1a" stroke="#1a1a1a" stroke-width="0.15">% iNKT cells</text>
<text transform="matrix(1.1498,0,0,1,391.25,107.27)" font-size="7.606" fill="#1a1a1a" stroke="#1a1a1a" stroke-width="0.15">D0</text>
<text transform="matrix(1.0492,0,0,1,409.70,107.35)" font-size="7.714" fill="#1a1a1a" stroke="#1a1a1a" stroke-width="0.15">D12</text>
<line x1="466.10" y1="29.50" x2="466.10" y2="95.30" stroke="#1a1a1a" stroke-width="1.7"/>
<line x1="465.30" y1="94.60" x2="507.80" y2="94.60" stroke="#1a1a1a" stroke-width="1.7"/>
<line x1="463.30" y1="94.60" x2="466.10" y2="94.60" stroke="#1a1a1a" stroke-width="1.2"/>
<text transform="matrix(1.2965,0,0,1,455.84,96.98)" font-size="6.901" fill="#1a1a1a" stroke="#1a1a1a" stroke-width="0.3">0</text>
<line x1="463.30" y1="82.14" x2="466.10" y2="82.14" stroke="#1a1a1a" stroke-width="1.2"/>
<text transform="matrix(1.3344,0,0,1,455.73,84.59)" font-size="7.000" fill="#1a1a1a" stroke="#1a1a1a" stroke-width="0.3">2</text>
<line x1="463.30" y1="69.68" x2="466.10" y2="69.68" stroke="#1a1a1a" stroke-width="1.2"/>
<text transform="matrix(1.1969,0,0,1,455.99,72.13)" font-size="7.101" fill="#1a1a1a" stroke="#1a1a1a" stroke-width="0.3">4</text>
<line x1="463.30" y1="57.22" x2="466.10" y2="57.22" stroke="#1a1a1a" stroke-width="1.2"/>
<text transform="matrix(1.3387,0,0,1,455.74,59.60)" font-size="6.901" fill="#1a1a1a" stroke="#1a1a1a" stroke-width="0.3">6</text>
<line x1="463.30" y1="44.76" x2="466.10" y2="44.76" stroke="#1a1a1a" stroke-width="1.2"/>
<text transform="matrix(1.3102,0,0,1,455.79,47.14)" font-size="6.901" fill="#1a1a1a" stroke="#1a1a1a" stroke-width="0.3">8</text>
<line x1="463.30" y1="32.30" x2="466.10" y2="32.30" stroke="#1a1a1a" stroke-width="1.2"/>
<text transform="matrix(1.1650,0,0,1,451.85,34.68)" font-size="6.901" fill="#1a1a1a" stroke="#1a1a1a" stroke-width="0.3">10</text>
<rect x="468.90" y="93.67" width="15.00" height="0.93" fill="#8e1c2a"/>
<line x1="476.60" y1="91.48" x2="476.60" y2="94.60" stroke="#1a1a1a" stroke-width="1.2"/>
<line x1="474.80" y1="91.48" x2="478.40" y2="91.48" stroke="#1a1a1a" stroke-width="1.4"/>
<line x1="476.60" y1="94.60" x2="476.60" y2="97.40" stroke="#1a1a1a" stroke-width="1.2"/>
<rect x="490.30" y="88.06" width="14.60" height="6.54" fill="#2c4c84"/>
<line x1="497.50" y1="41.02" x2="497.50" y2="91.48" stroke="#1a1a1a" stroke-width="1.2"/>
<line x1="495.70" y1="41.02" x2="499.30" y2="41.02" stroke="#1a1a1a" stroke-width="1.4"/>
<line x1="495.70" y1="91.48" x2="499.30" y2="91.48" stroke="#1a1a1a" stroke-width="1.2"/>
<line x1="497.50" y1="94.60" x2="497.50" y2="97.40" stroke="#1a1a1a" stroke-width="1.2"/>
<text transform="matrix(0.9339,0,0,1,477.86,31.57)" font-size="7.887" fill="#1a1a1a" stroke="#1a1a1a" stroke-width="0.15">0.004</text>
<line x1="479.50" y1="35.10" x2="495.70" y2="35.10" stroke="#1a1a1a" stroke-width="1.7"/>
<text transform="matrix(1.1159,0,0,1,479.92,19.26)" font-size="9.296" fill="#1a1a1a" stroke="#1a1a1a" stroke-width="0.12">KS</text>
<text transform="translate(445.75,86.55) rotate(-90) scale(0.8508,1)" font-size="10.068" fill="#1a1a1a" stroke="#1a1a1a" stroke-width="0.15">% iNKT cells</text>
<text transform="matrix(1.1498,0,0,1,471.35,107.27)" font-size="7.606" fill="#1a1a1a" stroke="#1a1a1a" stroke-width="0.15">D0</text>
<text transform="matrix(1.0492,0,0,1,489.80,107.35)" font-size="7.714" fill="#1a1a1a" stroke="#1a1a1a" stroke-width="0.15">D12</text>
<line x1="387.10" y1="149.00" x2="387.10" y2="214.50" stroke="#1a1a1a" stroke-width="1.7"/>
<line x1="386.30" y1="213.80" x2="427.80" y2="213.80" stroke="#1a1a1a" stroke-width="1.7"/>
<line x1="384.30" y1="213.80" x2="387.10" y2="213.80" stroke="#1a1a1a" stroke-width="1.2"/>
<text transform="matrix(1.2965,0,0,1,376.84,216.18)" font-size="6.901" fill="#1a1a1a" stroke="#1a1a1a" stroke-width="0.3">0</text>
<line x1="384.30" y1="201.40" x2="387.10" y2="201.40" stroke="#1a1a1a" stroke-width="1.2"/>
<text transform="matrix(1.3344,0,0,1,376.73,203.85)" font-size="7.000" fill="#1a1a1a" stroke="#1a1a1a" stroke-width="0.3">2</text>
<line x1="384.30" y1="189.00" x2="387.10" y2="189.00" stroke="#1a1a1a" stroke-width="1.2"/>
<text transform="matrix(1.1969,0,0,1,376.99,191.45)" font-size="7.101" fill="#1a1a1a" stroke="#1a1a1a" stroke-width="0.3">4</text>
<line x1="384.30" y1="176.60" x2="387.10" y2="176.60" stroke="#1a1a1a" stroke-width="1.2"/>
<text transform="matrix(1.3387,0,0,1,376.74,178.98)" font-size="6.901" fill="#1a1a1a" stroke="#1a1a1a" stroke-width="0.3">6</text>
<line x1="384.30" y1="164.20" x2="387.10" y2="164.20" stroke="#1a1a1a" stroke-width="1.2"/>
<text transform="matrix(1.3102,0,0,1,376.79,166.58)" font-size="6.901" fill="#1a1a1a" stroke="#1a1a1a" stroke-width="0.3">8</text>
<line x1="384.30" y1="151.80" x2="387.10" y2="151.80" stroke="#1a1a1a" stroke-width="1.2"/>
<text transform="matrix(1.1650,0,0,1,372.85,154.18)" font-size="6.901" fill="#1a1a1a" stroke="#1a1a1a" stroke-width="0.3">10</text>
<line x1="397.00" y1="213.80" x2="397.00" y2="216.60" stroke="#1a1a1a" stroke-width="1.2"/>
<rect x="410.10" y="213.55" width="14.80" height="0.25" fill="#2c4c84"/>
<line x1="417.50" y1="209.46" x2="417.50" y2="213.80" stroke="#1a1a1a" stroke-width="1.2"/>
<line x1="415.70" y1="209.46" x2="419.30" y2="209.46" stroke="#1a1a1a" stroke-width="1.4"/>
<line x1="417.50" y1="213.80" x2="417.50" y2="216.60" stroke="#1a1a1a" stroke-width="1.2"/>
<text transform="matrix(1.1695,0,0,1,400.84,184.48)" font-size="6.620" fill="#1a1a1a" stroke="#1a1a1a" stroke-width="0.16">0.33</text>
<line x1="400.50" y1="187.50" x2="416.60" y2="187.50" stroke="#1a1a1a" stroke-width="1.3"/>
<text transform="matrix(1.1043,0,0,1,392.23,132.46)" font-size="9.296" fill="#1a1a1a" stroke="#1a1a1a" stroke-width="0.12">HHV-8</text>
<text transform="matrix(1.0821,0,0,1,383.97,143.66)" font-size="9.014" fill="#1a1a1a" stroke="#1a1a1a" stroke-width="0.15">MCD HIV+</text>
<text transform="translate(366.54,205.55) rotate(-90) scale(0.8003,1)" font-size="10.748" fill="#1a1a1a" stroke="#1a1a1a" stroke-width="0.15">% iNKT cells</text>
<text transform="matrix(1.0521,0,0,1,391.93,226.68)" font-size="7.324" fill="#1a1a1a" stroke="#1a1a1a" stroke-width="0.15">D0</text>
<text transform="matrix(1.0580,0,0,1,409.92,226.75)" font-size="7.429" fill="#1a1a1a" stroke="#1a1a1a" stroke-width="0.15">D12</text>
<line x1="466.00" y1="149.00" x2="466.00" y2="214.50" stroke="#1a1a1a" stroke-width="1.7"/>
<line x1="465.20" y1="213.80" x2="506.50" y2="213.80" stroke="#1a1a1a" stroke-width="1.7"/>
<line x1="463.20" y1="213.80" x2="466.00" y2="213.80" stroke="#1a1a1a" stroke-width="1.2"/>
<text transform="matrix(1.2965,0,0,1,455.74,216.18)" font-size="6.901" fill="#1a1a1a" stroke="#1a1a1a" stroke-width="0.3">0</text>
<line x1="463.20" y1="201.40" x2="466.00" y2="201.40" stroke="#1a1a1a" stroke-width="1.2"/>
<text transform="matrix(1.3344,0,0,1,455.63,203.85)" font-size="7.000" fill="#1a1a1a" stroke="#1a1a1a" stroke-width="0.3">2</text>
<line x1="463.20" y1="189.00" x2="466.00" y2="189.00" stroke="#1a1a1a" stroke-width="1.2"/>
<text transform="matrix(1.1969,0,0,1,455.89,191.45)" font-size="7.101" fill="#1a1a1a" stroke="#1a1a1a" stroke-width="0.3">4</text>
<line x1="463.20" y1="176.60" x2="466.00" y2="176.60" stroke="#1a1a1a" stroke-width="1.2"/>
<text transform="matrix(1.3387,0,0,1,455.64,178.98)" font-size="6.901" fill="#1a1a1a" stroke="#1a1a1a" stroke-width="0.3">6</text>
<line x1="463.20" y1="164.20" x2="466.00" y2="164.20" stroke="#1a1a1a" stroke-width="1.2"/>
<text transform="matrix(1.3102,0,0,1,455.69,166.58)" font-size="6.901" fill="#1a1a1a" stroke="#1a1a1a" stroke-width="0.3">8</text>
<line x1="463.20" y1="151.80" x2="466.00" y2="151.80" stroke="#1a1a1a" stroke-width="1.2"/>
<text transform="matrix(1.1650,0,0,1,451.75,154.18)" font-size="6.901" fill="#1a1a1a" stroke="#1a1a1a" stroke-width="0.3">10</text>
<line x1="475.50" y1="213.80" x2="475.50" y2="216.60" stroke="#1a1a1a" stroke-width="1.2"/>
<rect x="489.00" y="211.32" width="15.00" height="2.48" fill="#2c4c84"/>
<line x1="496.30" y1="209.96" x2="496.30" y2="213.18" stroke="#1a1a1a" stroke-width="1.2"/>
<line x1="494.50" y1="209.96" x2="498.10" y2="209.96" stroke="#1a1a1a" stroke-width="1.4"/>
<line x1="496.30" y1="213.80" x2="496.30" y2="216.60" stroke="#1a1a1a" stroke-width="1.2"/>
<text transform="matrix(1.2267,0,0,1,479.64,184.69)" font-size="6.338" fill="#1a1a1a" stroke="#1a1a1a" stroke-width="0.16">0.18</text>
<line x1="479.90" y1="187.50" x2="495.20" y2="187.50" stroke="#1a1a1a" stroke-width="1.3"/>
<text transform="matrix(1.0607,0,0,1,459.26,132.26)" font-size="9.296" fill="#1a1a1a" stroke="#1a1a1a" stroke-width="0.12">HHV-8 MCD</text>
<text transform="matrix(1.1077,0,0,1,476.03,143.85)" font-size="9.275" fill="#1a1a1a" stroke="#1a1a1a" stroke-width="0.15">HIV-</text>
<text transform="translate(445.15,205.55) rotate(-90) scale(0.8211,1)" font-size="10.476" fill="#1a1a1a" stroke="#1a1a1a" stroke-width="0.15">% iNKT cells</text>
<text transform="matrix(1.1703,0,0,1,470.36,226.68)" font-size="7.324" fill="#1a1a1a" stroke="#1a1a1a" stroke-width="0.15">D0</text>
<text transform="matrix(1.1369,0,0,1,488.37,226.75)" font-size="7.429" fill="#1a1a1a" stroke="#1a1a1a" stroke-width="0.15">D12</text>
<line x1="453.80" y1="286.00" x2="453.80" y2="348.30" stroke="#1a1a1a" stroke-width="1.7"/>
<line x1="453.00" y1="347.60" x2="493.60" y2="347.60" stroke="#1a1a1a" stroke-width="1.7"/>
<line x1="451.00" y1="347.60" x2="453.80" y2="347.60" stroke="#1a1a1a" stroke-width="1.2"/>
<text transform="matrix(1.2965,0,0,1,443.54,349.98)" font-size="6.901" fill="#1a1a1a" stroke="#1a1a1a" stroke-width="0.3">0</text>
<line x1="451.00" y1="335.84" x2="453.80" y2="335.84" stroke="#1a1a1a" stroke-width="1.2"/>
<text transform="matrix(1.3344,0,0,1,443.43,338.29)" font-size="7.000" fill="#1a1a1a" stroke="#1a1a1a" stroke-width="0.3">2</text>
<line x1="451.00" y1="324.08" x2="453.80" y2="324.08" stroke="#1a1a1a" stroke-width="1.2"/>
<text transform="matrix(1.1969,0,0,1,443.69,326.53)" font-size="7.101" fill="#1a1a1a" stroke="#1a1a1a" stroke-width="0.3">4</text>
<line x1="451.00" y1="312.32" x2="453.80" y2="312.32" stroke="#1a1a1a" stroke-width="1.2"/>
<text transform="matrix(1.3387,0,0,1,443.44,314.70)" font-size="6.901" fill="#1a1a1a" stroke="#1a1a1a" stroke-width="0.3">6</text>
<line x1="451.00" y1="300.56" x2="453.80" y2="300.56" stroke="#1a1a1a" stroke-width="1.2"/>
<text transform="matrix(1.3102,0,0,1,443.49,302.94)" font-size="6.901" fill="#1a1a1a" stroke="#1a1a1a" stroke-width="0.3">8</text>
<line x1="451.00" y1="288.80" x2="453.80" y2="288.80" stroke="#1a1a1a" stroke-width="1.2"/>
<text transform="matrix(1.1650,0,0,1,439.55,291.18)" font-size="6.901" fill="#1a1a1a" stroke="#1a1a1a" stroke-width="0.3">10</text>
<line x1="463.30" y1="347.60" x2="463.30" y2="350.40" stroke="#1a1a1a" stroke-width="1.2"/>
<rect x="476.30" y="323.61" width="14.60" height="23.99" fill="#2c4c84"/>
<line x1="483.30" y1="313.50" x2="483.30" y2="333.49" stroke="#1a1a1a" stroke-width="1.2"/>
<line x1="481.50" y1="313.50" x2="485.10" y2="313.50" stroke="#1a1a1a" stroke-width="1.4"/>
<line x1="481.50" y1="333.49" x2="485.10" y2="333.49" stroke="#1a1a1a" stroke-width="1.2"/>
<line x1="483.30" y1="347.60" x2="483.30" y2="350.40" stroke="#1a1a1a" stroke-width="1.2"/>
<text transform="matrix(1.1596,0,0,1,465.08,298.29)" font-size="5.915" fill="#1a1a1a" stroke="#1a1a1a" stroke-width="0.16">0.008</text>
<line x1="466.60" y1="301.50" x2="480.70" y2="301.50" stroke="#1a1a1a" stroke-width="1.4"/>
<text transform="matrix(1.1131,0,0,1,433.61,274.39)" font-size="8.877" fill="#1a1a1a" stroke="#1a1a1a" stroke-width="0.12">iNKT cell depleted</text>
<text transform="translate(436.35,341.64) rotate(-90) scale(0.8241,1)" font-size="10.068" fill="#1a1a1a" stroke="#1a1a1a" stroke-width="0.15">% iNKT cells</text>
<text transform="matrix(1.1585,0,0,1,458.27,359.78)" font-size="7.324" fill="#1a1a1a" stroke="#1a1a1a" stroke-width="0.15">D0</text>
<text transform="matrix(1.1132,0,0,1,475.69,359.85)" font-size="7.429" fill="#1a1a1a" stroke="#1a1a1a" stroke-width="0.15">D12</text>
<line x1="33.20" y1="283.30" x2="33.20" y2="344.60" stroke="#1a1a1a" stroke-width="1.7"/>
<line x1="32.40" y1="343.90" x2="123.50" y2="343.90" stroke="#1a1a1a" stroke-width="1.7"/>
<line x1="30.40" y1="343.90" x2="33.20" y2="343.90" stroke="#1a1a1a" stroke-width="1.2"/>
<text transform="matrix(1.1929,0,0,1,23.15,346.43)" font-size="7.324" fill="#1a1a1a" stroke="#1a1a1a" stroke-width="0.15">0</text>
<line x1="30.40" y1="332.06" x2="33.20" y2="332.06" stroke="#1a1a1a" stroke-width="1.2"/>
<text transform="matrix(1.0704,0,0,1,19.26,334.59)" font-size="7.324" fill="#1a1a1a" stroke="#1a1a1a" stroke-width="0.15">10</text>
<line x1="30.40" y1="320.22" x2="33.20" y2="320.22" stroke="#1a1a1a" stroke-width="1.2"/>
<text transform="matrix(1.0441,0,0,1,19.47,322.75)" font-size="7.324" fill="#1a1a1a" stroke="#1a1a1a" stroke-width="0.15">20</text>
<line x1="30.40" y1="308.38" x2="33.20" y2="308.38" stroke="#1a1a1a" stroke-width="1.2"/>
<text transform="matrix(1.0340,0,0,1,19.55,310.91)" font-size="7.324" fill="#1a1a1a" stroke="#1a1a1a" stroke-width="0.15">30</text>
<line x1="30.40" y1="296.54" x2="33.20" y2="296.54" stroke="#1a1a1a" stroke-width="1.2"/>
<text transform="matrix(1.0191,0,0,1,19.66,299.07)" font-size="7.324" fill="#1a1a1a" stroke="#1a1a1a" stroke-width="0.15">40</text>
<line x1="30.40" y1="284.70" x2="33.20" y2="284.70" stroke="#1a1a1a" stroke-width="1.2"/>
<text transform="matrix(1.0340,0,0,1,19.55,287.23)" font-size="7.324" fill="#1a1a1a" stroke="#1a1a1a" stroke-width="0.15">50</text>
<line x1="33.20" y1="343.90" x2="33.20" y2="346.70" stroke="#1a1a1a" stroke-width="1.2"/>
<text transform="matrix(1.1690,0,0,1,27.36,355.68)" font-size="7.183" fill="#1a1a1a" stroke="#1a1a1a" stroke-width="0.15">0.0</text>
<line x1="55.25" y1="343.90" x2="55.25" y2="346.70" stroke="#1a1a1a" stroke-width="1.2"/>
<text transform="matrix(1.1690,0,0,1,49.41,355.68)" font-size="7.183" fill="#1a1a1a" stroke="#1a1a1a" stroke-width="0.15">0.5</text>
<line x1="77.30" y1="343.90" x2="77.30" y2="346.70" stroke="#1a1a1a" stroke-width="1.2"/>
<text transform="matrix(1.2011,0,0,1,71.15,355.68)" font-size="7.183" fill="#1a1a1a" stroke="#1a1a1a" stroke-width="0.15">1.0</text>
<line x1="99.35" y1="343.90" x2="99.35" y2="346.70" stroke="#1a1a1a" stroke-width="1.2"/>
<text transform="matrix(1.1842,0,0,1,93.20,355.68)" font-size="7.286" fill="#1a1a1a" stroke="#1a1a1a" stroke-width="0.15">1.5</text>
<line x1="121.40" y1="343.90" x2="121.40" y2="346.70" stroke="#1a1a1a" stroke-width="1.2"/>
<text transform="matrix(1.1780,0,0,1,115.48,355.68)" font-size="7.183" fill="#1a1a1a" stroke="#1a1a1a" stroke-width="0.15">2.0</text>
<line x1="33.2" y1="339.1" x2="100.5" y2="326.4" stroke="#9b1b34" stroke-width="1.7"/>
<circle cx="56.7" cy="292.3" r="1.85" fill="#9b1b34" fill-opacity="0.45"/>
<circle cx="56.7" cy="292.3" r="1.25" fill="#2e0a16"/>
<circle cx="40.6" cy="309.4" r="1.85" fill="#9b1b34" fill-opacity="0.45"/>
<circle cx="40.6" cy="309.4" r="1.25" fill="#2e0a16"/>
<circle cx="44.2" cy="332.2" r="1.85" fill="#9b1b34" fill-opacity="0.45"/>
<circle cx="44.2" cy="332.2" r="1.25" fill="#2e0a16"/>
<circle cx="56.8" cy="331.6" r="1.85" fill="#9b1b34" fill-opacity="0.45"/>
<circle cx="56.8" cy="331.6" r="1.25" fill="#2e0a16"/>
<circle cx="56.8" cy="336.8" r="1.85" fill="#9b1b34" fill-opacity="0.45"/>
<circle cx="56.8" cy="336.8" r="1.25" fill="#2e0a16"/>
<circle cx="83.8" cy="339.6" r="1.85" fill="#9b1b34" fill-opacity="0.45"/>
<circle cx="83.8" cy="339.6" r="1.25" fill="#2e0a16"/>
<circle cx="101.7" cy="332.7" r="1.85" fill="#9b1b34" fill-opacity="0.45"/>
<circle cx="101.7" cy="332.7" r="1.25" fill="#2e0a16"/>
<text transform="matrix(1.0295,0,0,1,50.27,277.45)" font-size="9.524" fill="#1a1a1a" stroke="#1a1a1a" stroke-width="0.12">HDs and KS</text>
<text transform="matrix(1.2154,0,0,1,95.35,303.39)" font-size="6.338" fill="#1a1a1a" stroke="#1a1a1a" stroke-width="0.16">r=0.24</text>
<text transform="matrix(0.9750,0,0,1,95.46,312.61)" font-size="7.802" fill="#1a1a1a" stroke="#1a1a1a" stroke-width="0.12">p= 0.28</text>
<text transform="translate(15.74,348.15) rotate(-90) scale(0.8128,1)" font-size="10.612" fill="#1a1a1a" stroke="#1a1a1a" stroke-width="0.14">% iNKT cells D12</text>
<text transform="matrix(0.9521,0,0,1,42.68,367.72)" font-size="9.198" fill="#1a1a1a" stroke="#1a1a1a" stroke-width="0.12">iNKT cells (%) D0</text>
<path d="M33.8 338.0 C38 337.0 43 336.8 46.5 338.6 L47.2 343.4 L33.8 343.4 Z" fill="#9b1b34"/>
<ellipse cx="36.3" cy="340.9" rx="1.25" ry="1.6" fill="#fff" fill-opacity="0.85"/>
<ellipse cx="40.0" cy="340.6" rx="1.25" ry="1.6" fill="#fff" fill-opacity="0.85"/>
<ellipse cx="44.0" cy="341.2" rx="1.25" ry="1.6" fill="#fff" fill-opacity="0.85"/>
<line x1="154.80" y1="286.50" x2="154.80" y2="344.30" stroke="#1a1a1a" stroke-width="1.7"/>
<line x1="154.00" y1="343.60" x2="243.00" y2="343.60" stroke="#1a1a1a" stroke-width="1.7"/>
<line x1="152.00" y1="343.60" x2="154.80" y2="343.60" stroke="#1a1a1a" stroke-width="1.2"/>
<text transform="matrix(1.2017,0,0,1,144.80,346.08)" font-size="7.183" fill="#1a1a1a" stroke="#1a1a1a" stroke-width="0.15">0</text>
<line x1="152.00" y1="332.44" x2="154.80" y2="332.44" stroke="#1a1a1a" stroke-width="1.2"/>
<text transform="matrix(1.2900,0,0,1,144.43,334.99)" font-size="7.391" fill="#1a1a1a" stroke="#1a1a1a" stroke-width="0.15">1</text>
<line x1="152.00" y1="321.28" x2="154.80" y2="321.28" stroke="#1a1a1a" stroke-width="1.2"/>
<text transform="matrix(1.2368,0,0,1,144.70,323.83)" font-size="7.286" fill="#1a1a1a" stroke="#1a1a1a" stroke-width="0.15">2</text>
<line x1="152.00" y1="310.12" x2="154.80" y2="310.12" stroke="#1a1a1a" stroke-width="1.2"/>
<text transform="matrix(1.2144,0,0,1,144.80,312.60)" font-size="7.183" fill="#1a1a1a" stroke="#1a1a1a" stroke-width="0.15">3</text>
<line x1="152.00" y1="298.96" x2="154.80" y2="298.96" stroke="#1a1a1a" stroke-width="1.2"/>
<text transform="matrix(1.1094,0,0,1,144.94,301.51)" font-size="7.391" fill="#1a1a1a" stroke="#1a1a1a" stroke-width="0.15">4</text>
<line x1="152.00" y1="287.80" x2="154.80" y2="287.80" stroke="#1a1a1a" stroke-width="1.2"/>
<text transform="matrix(1.1847,0,0,1,144.80,290.28)" font-size="7.286" fill="#1a1a1a" stroke="#1a1a1a" stroke-width="0.15">5</text>
<line x1="154.80" y1="343.60" x2="154.80" y2="346.40" stroke="#1a1a1a" stroke-width="1.2"/>
<text transform="matrix(1.1192,0,0,1,147.13,355.98)" font-size="7.042" fill="#1a1a1a" stroke="#1a1a1a" stroke-width="0.15">0.00</text>
<line x1="183.00" y1="343.60" x2="183.00" y2="346.40" stroke="#1a1a1a" stroke-width="1.2"/>
<text transform="matrix(1.1192,0,0,1,175.33,355.98)" font-size="7.042" fill="#1a1a1a" stroke="#1a1a1a" stroke-width="0.15">0.05</text>
<line x1="211.20" y1="343.60" x2="211.20" y2="346.40" stroke="#1a1a1a" stroke-width="1.2"/>
<text transform="matrix(1.1192,0,0,1,203.53,355.98)" font-size="7.042" fill="#1a1a1a" stroke="#1a1a1a" stroke-width="0.15">0.10</text>
<line x1="239.40" y1="343.60" x2="239.40" y2="346.40" stroke="#1a1a1a" stroke-width="1.2"/>
<text transform="matrix(1.1192,0,0,1,231.73,355.98)" font-size="7.042" fill="#1a1a1a" stroke="#1a1a1a" stroke-width="0.15">0.15</text>
<line x1="154.8" y1="340.0" x2="223.7" y2="341.0" stroke="#9b1b34" stroke-width="1.7"/>
<circle cx="163.6" cy="334.6" r="1.7999999999999998" fill="#9b1b34" fill-opacity="0.45"/>
<circle cx="163.6" cy="334.6" r="1.2" fill="#2e0a16"/>
<circle cx="174.6" cy="328.2" r="1.7999999999999998" fill="#9b1b34" fill-opacity="0.45"/>
<circle cx="174.6" cy="328.2" r="1.2" fill="#2e0a16"/>
<circle cx="177.9" cy="332.8" r="1.7999999999999998" fill="#9b1b34" fill-opacity="0.45"/>
<circle cx="177.9" cy="332.8" r="1.2" fill="#2e0a16"/>
<circle cx="192.6" cy="337.8" r="1.7999999999999998" fill="#9b1b34" fill-opacity="0.45"/>
<circle cx="192.6" cy="337.8" r="1.2" fill="#2e0a16"/>
<circle cx="202.7" cy="340.1" r="1.7999999999999998" fill="#9b1b34" fill-opacity="0.45"/>
<circle cx="202.7" cy="340.1" r="1.2" fill="#2e0a16"/>
<circle cx="163.6" cy="343.0" r="1.7000000000000002" fill="#9b1b34" fill-opacity="0.45"/>
<circle cx="163.6" cy="343.0" r="1.1" fill="#9b1b34"/>
<circle cx="168" cy="342.8" r="1.7000000000000002" fill="#9b1b34" fill-opacity="0.45"/>
<circle cx="168" cy="342.8" r="1.1" fill="#9b1b34"/>
<circle cx="177" cy="343.0" r="1.7000000000000002" fill="#9b1b34" fill-opacity="0.45"/>
<circle cx="177" cy="343.0" r="1.1" fill="#9b1b34"/>
<circle cx="181" cy="342.8" r="1.7000000000000002" fill="#9b1b34" fill-opacity="0.45"/>
<circle cx="181" cy="342.8" r="1.1" fill="#9b1b34"/>
<circle cx="202.5" cy="342.8" r="1.7000000000000002" fill="#9b1b34" fill-opacity="0.45"/>
<circle cx="202.5" cy="342.8" r="1.1" fill="#9b1b34"/>
<text transform="matrix(1.0257,0,0,1,170.06,277.95)" font-size="9.577" fill="#1a1a1a" stroke="#1a1a1a" stroke-width="0.12">HHV-8 MCD</text>
<text transform="matrix(1.1459,0,0,1,216.65,304.38)" font-size="6.761" fill="#1a1a1a" stroke="#1a1a1a" stroke-width="0.16">r=-0.09</text>
<text transform="matrix(1.0345,0,0,1,216.65,313.28)" font-size="7.473" fill="#1a1a1a" stroke="#1a1a1a" stroke-width="0.12">p= 0.75</text>
<text transform="translate(140.85,348.55) rotate(-90) scale(0.8109,1)" font-size="10.476" fill="#1a1a1a" stroke="#1a1a1a" stroke-width="0.14">% iNKT cells D12</text>
<text transform="matrix(0.8937,0,0,1,163.69,367.73)" font-size="9.626" fill="#1a1a1a" stroke="#1a1a1a" stroke-width="0.12">iNKT cells (%) D0</text>
<text transform="matrix(1.0674,0,0,1,315.11,274.22)" font-size="9.198" fill="#1a1a1a" stroke="#1a1a1a" stroke-width="0.12">iNKT cell depleted</text>
<line x1="317.10" y1="279.00" x2="392.20" y2="279.00" stroke="#1a1a1a" stroke-width="1.4"/>
<text transform="matrix(1.1225,0,0,1,311.87,287.79)" font-size="6.479" fill="#1a1a1a" stroke="#1a1a1a" stroke-width="0.16">D0</text>
<text transform="matrix(1.0948,0,0,1,385.11,287.95)" font-size="7.286" fill="#1a1a1a" stroke="#1a1a1a" stroke-width="0.15">D12</text>
<path d="M267.6 301.3 V318.2 M267.6 337.6 V367.5 H344.0 M368.0 367.5 H413.2" stroke="#1a1a1a" stroke-width="1.25" fill="none"/>
<path d="M267.6 296.8 l-2.4 5 h4.8 z" fill="#1a1a1a"/>
<path d="M417.7 367.5 l-5 -2.4 v4.8 z" fill="#1a1a1a"/>
<text transform="translate(271.84,335.33) rotate(-90) scale(0.7013,1)" font-size="10.704" fill="#1a1a1a" stroke="#1a1a1a" stroke-width="0.12">CD3</text>
<text transform="matrix(0.7594,0,0,1,346.44,370.75)" font-size="10.340" fill="#1a1a1a" stroke="#1a1a1a" stroke-width="0.12">iTCR</text>
<clipPath id="c551"><rect x="287.7" y="291.6" width="57.80000000000001" height="56.099999999999966"/></clipPath>
<g clip-path="url(#c551)">
<path d="M329.7 314.4h0.7v0.7h-0.7zM300.5 319.3h0.7v0.7h-0.7zM331.5 318.6h0.7v0.7h-0.7zM329.8 319.4h0.7v0.7h-0.7zM316.9 316.2h0.7v0.7h-0.7zM306.8 316.7h0.7v0.7h-0.7zM294.7 321.4h0.7v0.7h-0.7zM302.5 317.8h0.7v0.7h-0.7zM320.3 316.7h0.7v0.7h-0.7zM315.5 314.6h0.7v0.7h-0.7zM310.9 319.2h0.7v0.7h-0.7zM324.3 313.0h0.7v0.7h-0.7zM315.1 311.7h0.7v0.7h-0.7zM314.8 317.2h0.7v0.7h-0.7zM299.5 321.3h0.7v0.7h-0.7zM299.4 320.6h0.7v0.7h-0.7zM295.9 319.1h0.7v0.7h-0.7zM292.7 315.4h0.7v0.7h-0.7zM299.9 317.8h0.7v0.7h-0.7zM305.7 316.2h0.7v0.7h-0.7zM318.2 313.9h0.7v0.7h-0.7zM308.2 317.6h0.7v0.7h-0.7zM303.9 318.0h0.7v0.7h-0.7zM294.0 322.9h0.7v0.7h-0.7zM328.6 312.4h0.7v0.7h-0.7zM305.7 315.7h0.7v0.7h-0.7zM322.0 319.0h0.7v0.7h-0.7zM328.1 320.3h0.7v0.7h-0.7zM301.8 317.3h0.7v0.7h-0.7zM313.3 318.6h0.7v0.7h-0.7zM313.4 311.4h0.7v0.7h-0.7zM309.4 324.3h0.7v0.7h-0.7zM315.5 320.4h0.7v0.7h-0.7zM314.5 316.0h0.7v0.7h-0.7zM315.5 316.2h0.7v0.7h-0.7zM325.6 315.5h0.7v0.7h-0.7zM292.9 319.5h0.7v0.7h-0.7zM321.7 315.6h0.7v0.7h-0.7zM313.5 319.1h0.7v0.7h-0.7zM319.8 313.9h0.7v0.7h-0.7zM331.6 324.5h0.7v0.7h-0.7zM315.5 313.8h0.7v0.7h-0.7zM328.1 321.0h0.7v0.7h-0.7zM304.7 312.3h0.7v0.7h-0.7zM299.2 315.3h0.7v0.7h-0.7zM302.1 315.4h0.7v0.7h-0.7zM309.7 311.8h0.7v0.7h-0.7zM318.7 320.9h0.7v0.7h-0.7zM290.2 315.9h0.7v0.7h-0.7zM308.9 314.3h0.7v0.7h-0.7zM315.0 313.4h0.7v0.7h-0.7zM323.8 315.5h0.7v0.7h-0.7zM301.6 317.7h0.7v0.7h-0.7zM315.0 320.7h0.7v0.7h-0.7zM315.7 315.3h0.7v0.7h-0.7zM336.6 317.1h0.7v0.7h-0.7zM318.1 320.8h0.7v0.7h-0.7zM307.1 316.1h0.7v0.7h-0.7zM304.5 322.3h0.7v0.7h-0.7zM303.3 313.1h0.7v0.7h-0.7z" fill="#999" fill-opacity="0.3"/>
<path d="M321.5 324.1h0.7v0.7h-0.7zM324.2 314.3h0.7v0.7h-0.7zM323.4 323.7h0.7v0.7h-0.7zM320.5 320.1h0.7v0.7h-0.7zM323.7 323.8h0.7v0.7h-0.7zM318.2 318.3h0.7v0.7h-0.7zM323.2 318.2h0.7v0.7h-0.7zM320.3 318.1h0.7v0.7h-0.7zM315.7 322.2h0.7v0.7h-0.7zM325.2 310.6h0.7v0.7h-0.7zM329.2 317.9h0.7v0.7h-0.7zM326.7 315.0h0.7v0.7h-0.7zM327.9 316.3h0.7v0.7h-0.7zM319.5 322.8h0.7v0.7h-0.7zM316.8 318.0h0.7v0.7h-0.7zM324.2 314.2h0.7v0.7h-0.7zM321.5 315.5h0.7v0.7h-0.7zM326.3 316.1h0.7v0.7h-0.7zM320.4 317.7h0.7v0.7h-0.7zM320.7 320.4h0.7v0.7h-0.7zM319.2 318.6h0.7v0.7h-0.7zM324.7 317.0h0.7v0.7h-0.7zM326.6 316.5h0.7v0.7h-0.7zM319.3 321.7h0.7v0.7h-0.7zM318.0 318.7h0.7v0.7h-0.7zM322.5 317.4h0.7v0.7h-0.7zM323.1 316.4h0.7v0.7h-0.7zM324.2 316.0h0.7v0.7h-0.7zM324.7 318.9h0.7v0.7h-0.7zM327.0 312.7h0.7v0.7h-0.7z" fill="#777" fill-opacity="0.4"/>
<path d="M287 313.2 C292 311.9 302.5 311.9 306.2 313.6 C308.6 315.5 308.8 320 306.2 322.2 C300 323.9 292 324 287 323.5 Z" fill="#555" filter="url(#b15)" opacity="0.4"/>
<path d="M287 313.2 C292 311.9 302.5 311.9 306.2 313.6 C308.6 315.5 308.8 320 306.2 322.2 C300 323.9 292 324 287 323.5 Z" fill="#a9a9a9" stroke="#222" stroke-width="2.0" filter="url(#b05)"/>
<path d="M288 321.5 C294 322.6 301 322.5 306 321" fill="none" stroke="#2a2a2a" stroke-width="1.6" filter="url(#b05)"/>
<path d="M305.4 321.9h0.8v0.8h-0.8zM307.9 321.1h0.8v0.8h-0.8zM296.1 312.7h0.8v0.8h-0.8zM306.3 317.1h0.8v0.8h-0.8zM306.3 317.4h0.8v0.8h-0.8zM303.4 313.6h0.8v0.8h-0.8zM292.2 313.2h0.8v0.8h-0.8zM304.7 314.0h0.8v0.8h-0.8zM302.0 312.5h0.8v0.8h-0.8zM302.4 312.3h0.8v0.8h-0.8zM295.4 312.7h0.8v0.8h-0.8zM287.0 315.1h0.8v0.8h-0.8zM289.3 320.9h0.8v0.8h-0.8zM301.1 322.6h0.8v0.8h-0.8zM289.8 313.5h0.8v0.8h-0.8zM286.5 319.2h0.8v0.8h-0.8zM308.6 317.0h0.8v0.8h-0.8zM305.3 314.8h0.8v0.8h-0.8zM309.2 317.0h0.8v0.8h-0.8zM303.6 322.6h0.8v0.8h-0.8zM300.2 312.8h0.8v0.8h-0.8zM307.2 320.1h0.8v0.8h-0.8zM306.2 321.1h0.8v0.8h-0.8zM303.1 322.5h0.8v0.8h-0.8zM293.7 312.9h0.8v0.8h-0.8zM294.1 311.7h0.8v0.8h-0.8zM288.0 319.7h0.8v0.8h-0.8zM295.3 323.5h0.8v0.8h-0.8zM304.4 322.0h0.8v0.8h-0.8zM306.8 320.8h0.8v0.8h-0.8zM290.6 321.0h0.8v0.8h-0.8zM304.0 323.4h0.8v0.8h-0.8zM299.4 324.0h0.8v0.8h-0.8zM300.3 323.2h0.8v0.8h-0.8zM298.8 311.7h0.8v0.8h-0.8zM307.7 319.4h0.8v0.8h-0.8zM306.2 321.6h0.8v0.8h-0.8zM301.3 323.0h0.8v0.8h-0.8zM288.3 318.1h0.8v0.8h-0.8zM300.1 322.9h0.8v0.8h-0.8zM302.6 313.2h0.8v0.8h-0.8zM290.4 321.5h0.8v0.8h-0.8zM296.5 313.2h0.8v0.8h-0.8zM294.1 323.0h0.8v0.8h-0.8zM305.1 322.0h0.8v0.8h-0.8zM296.9 323.6h0.8v0.8h-0.8zM303.7 321.9h0.8v0.8h-0.8zM296.2 311.5h0.8v0.8h-0.8zM307.9 317.3h0.8v0.8h-0.8zM307.1 320.6h0.8v0.8h-0.8zM292.7 322.7h0.8v0.8h-0.8zM295.7 322.9h0.8v0.8h-0.8zM305.5 321.5h0.8v0.8h-0.8zM297.9 322.9h0.8v0.8h-0.8zM303.7 313.9h0.8v0.8h-0.8zM304.2 314.7h0.8v0.8h-0.8zM287.0 318.9h0.8v0.8h-0.8zM286.4 317.2h0.8v0.8h-0.8zM307.9 316.9h0.8v0.8h-0.8zM290.9 313.7h0.8v0.8h-0.8zM289.5 321.3h0.8v0.8h-0.8zM294.2 312.1h0.8v0.8h-0.8zM288.3 320.1h0.8v0.8h-0.8zM287.5 316.1h0.8v0.8h-0.8zM308.2 316.8h0.8v0.8h-0.8zM295.4 323.2h0.8v0.8h-0.8zM288.1 314.9h0.8v0.8h-0.8zM307.2 314.9h0.8v0.8h-0.8zM292.8 312.9h0.8v0.8h-0.8zM309.6 316.7h0.8v0.8h-0.8zM288.9 320.5h0.8v0.8h-0.8zM303.5 322.4h0.8v0.8h-0.8zM299.2 323.4h0.8v0.8h-0.8zM292.0 313.1h0.8v0.8h-0.8zM288.0 318.6h0.8v0.8h-0.8zM307.5 315.9h0.8v0.8h-0.8zM294.2 322.6h0.8v0.8h-0.8zM287.2 317.0h0.8v0.8h-0.8zM287.6 320.4h0.8v0.8h-0.8zM307.0 320.9h0.8v0.8h-0.8zM293.6 312.6h0.8v0.8h-0.8zM298.1 312.4h0.8v0.8h-0.8zM293.9 311.5h0.8v0.8h-0.8zM289.8 314.0h0.8v0.8h-0.8zM298.4 311.4h0.8v0.8h-0.8zM287.6 317.3h0.8v0.8h-0.8zM287.2 316.1h0.8v0.8h-0.8zM304.9 322.8h0.8v0.8h-0.8zM307.3 318.2h0.8v0.8h-0.8zM293.0 313.4h0.8v0.8h-0.8zM293.5 323.5h0.8v0.8h-0.8zM308.0 320.9h0.8v0.8h-0.8zM291.0 322.7h0.8v0.8h-0.8zM291.1 313.1h0.8v0.8h-0.8zM305.5 314.5h0.8v0.8h-0.8zM297.8 312.0h0.8v0.8h-0.8zM301.6 312.2h0.8v0.8h-0.8zM294.7 323.0h0.8v0.8h-0.8zM299.7 322.5h0.8v0.8h-0.8zM309.0 318.3h0.8v0.8h-0.8zM306.7 316.5h0.8v0.8h-0.8zM306.8 317.2h0.8v0.8h-0.8zM291.2 322.0h0.8v0.8h-0.8zM290.9 322.8h0.8v0.8h-0.8zM293.3 313.3h0.8v0.8h-0.8zM304.2 313.4h0.8v0.8h-0.8zM309.6 318.5h0.8v0.8h-0.8zM287.2 315.9h0.8v0.8h-0.8zM304.0 313.5h0.8v0.8h-0.8zM288.1 319.5h0.8v0.8h-0.8zM304.0 314.4h0.8v0.8h-0.8zM286.1 316.2h0.8v0.8h-0.8zM289.3 320.3h0.8v0.8h-0.8zM289.3 314.2h0.8v0.8h-0.8zM304.6 313.1h0.8v0.8h-0.8zM287.5 317.3h0.8v0.8h-0.8zM288.9 320.9h0.8v0.8h-0.8zM301.4 323.5h0.8v0.8h-0.8zM293.8 312.5h0.8v0.8h-0.8zM287.9 321.3h0.8v0.8h-0.8z" fill="#222" fill-opacity="0.35"/>
<ellipse cx="297.50" cy="317.30" rx="6.00" ry="2.40" fill="#8e8e8e" filter="url(#b06)"/>
<ellipse cx="297.50" cy="317.00" rx="2.60" ry="0.80" fill="#444" filter="url(#b05)"/>
</g>
<ellipse cx="323.10" cy="317.90" rx="10.20" ry="5.40" transform="rotate(-48 323.10 317.90)" fill="none" stroke="#444" stroke-width="0.65"/>
<path d="M285.3 298.0h2.4M285.3 310.0h2.4M285.3 322.2h2.4M285.3 340.0h2.4M286.4 294.1h1.3M286.4 296.7h1.3M286.4 299.3h1.3M286.4 301.9h1.3M286.4 304.5h1.3M286.4 307.1h1.3M286.4 309.7h1.3M286.4 312.3h1.3M286.4 314.9h1.3M286.4 317.5h1.3M286.4 320.1h1.3M286.4 322.7h1.3M286.4 325.3h1.3M286.4 327.9h1.3M286.4 330.5h1.3M286.4 333.1h1.3M286.4 335.7h1.3M286.4 338.3h1.3M286.4 340.9h1.3M286.4 343.5h1.3M286.4 346.1h1.3M295.8 347.7v2.4M312.5 347.7v2.4M326.0 347.7v2.4M339.1 347.7v2.4M290.2 347.7v1.3M292.8 347.7v1.3M295.4 347.7v1.3M298.0 347.7v1.3M300.6 347.7v1.3M303.2 347.7v1.3M305.8 347.7v1.3M308.4 347.7v1.3M311.0 347.7v1.3M313.6 347.7v1.3M316.2 347.7v1.3M318.8 347.7v1.3M321.4 347.7v1.3M324.0 347.7v1.3M326.6 347.7v1.3M329.2 347.7v1.3M331.8 347.7v1.3M334.4 347.7v1.3M337.0 347.7v1.3M339.6 347.7v1.3M342.2 347.7v1.3" stroke="#1a1a1a" stroke-width="0.8" fill="none"/>
<path d="M287.7 291.6 H345.5 V347.7" fill="none" stroke="#111" stroke-width="1.25"/>
<path d="M287.7 291.6 V347.7 H345.5" fill="none" stroke="#111" stroke-width="1.6"/>
<text transform="matrix(1.0364,0,0,1,274.39,300.04)" font-size="5.915" fill="#222" stroke="#222" stroke-width="0.16">10</text>
<text transform="matrix(0.9825,0,0,1,281.45,297.31)" font-size="3.857" fill="#222" stroke="#222" stroke-width="0.16">5</text>
<text transform="matrix(1.0364,0,0,1,274.39,312.04)" font-size="5.915" fill="#222" stroke="#222" stroke-width="0.16">10</text>
<text transform="matrix(0.9200,0,0,1,281.51,309.35)" font-size="3.913" fill="#222" stroke="#222" stroke-width="0.16">4</text>
<text transform="matrix(1.0364,0,0,1,274.39,324.22)" font-size="5.915" fill="#222" stroke="#222" stroke-width="0.16">10</text>
<text transform="matrix(1.0071,0,0,1,281.45,321.49)" font-size="3.803" fill="#222" stroke="#222" stroke-width="0.16">3</text>
<text transform="matrix(1.0321,0,0,1,277.91,342.06)" font-size="5.915" fill="#222" stroke="#222" stroke-width="0.16">0</text>
<text transform="matrix(1.0321,0,0,1,294.10,359.04)" font-size="5.915" fill="#222" stroke="#222" stroke-width="0.16">0</text>
<text transform="matrix(1.0364,0,0,1,308.95,359.04)" font-size="5.915" fill="#222" stroke="#222" stroke-width="0.16">10</text>
<text transform="matrix(1.0071,0,0,1,316.01,356.31)" font-size="3.803" fill="#222" stroke="#222" stroke-width="0.16">3</text>
<text transform="matrix(1.0364,0,0,1,322.54,359.04)" font-size="5.915" fill="#222" stroke="#222" stroke-width="0.16">10</text>
<text transform="matrix(0.9200,0,0,1,329.66,356.35)" font-size="3.913" fill="#222" stroke="#222" stroke-width="0.16">4</text>
<text transform="matrix(1.0364,0,0,1,335.54,359.04)" font-size="5.915" fill="#222" stroke="#222" stroke-width="0.16">10</text>
<text transform="matrix(0.9825,0,0,1,342.60,356.31)" font-size="3.857" fill="#222" stroke="#222" stroke-width="0.16">5</text>
<text transform="matrix(0.9331,0,0,1,322.48,301.88)" font-size="7.183" fill="#222" stroke="#222" stroke-width="0.15">0.07%</text>
<clipPath id="c581"><rect x="363.3" y="291.6" width="57.69999999999999" height="56.39999999999998"/></clipPath>
<g clip-path="url(#c581)">
<path d="M400.5 320.3h0.7v0.7h-0.7zM383.2 316.8h0.7v0.7h-0.7zM393.4 315.4h0.7v0.7h-0.7zM381.2 315.5h0.7v0.7h-0.7zM401.5 318.7h0.7v0.7h-0.7zM388.0 315.6h0.7v0.7h-0.7zM392.1 318.3h0.7v0.7h-0.7zM388.2 314.0h0.7v0.7h-0.7zM383.2 318.2h0.7v0.7h-0.7zM405.7 317.1h0.7v0.7h-0.7zM397.0 318.3h0.7v0.7h-0.7zM385.2 317.7h0.7v0.7h-0.7zM403.2 319.0h0.7v0.7h-0.7zM391.6 313.7h0.7v0.7h-0.7zM388.3 319.4h0.7v0.7h-0.7zM388.8 316.3h0.7v0.7h-0.7zM394.5 315.1h0.7v0.7h-0.7zM386.7 317.2h0.7v0.7h-0.7zM387.8 314.7h0.7v0.7h-0.7zM400.7 318.1h0.7v0.7h-0.7zM378.2 312.7h0.7v0.7h-0.7zM398.1 313.3h0.7v0.7h-0.7zM398.4 319.0h0.7v0.7h-0.7zM400.1 321.1h0.7v0.7h-0.7zM384.2 313.4h0.7v0.7h-0.7zM389.6 314.6h0.7v0.7h-0.7zM399.5 317.4h0.7v0.7h-0.7zM387.4 314.7h0.7v0.7h-0.7zM384.8 315.0h0.7v0.7h-0.7zM383.9 321.5h0.7v0.7h-0.7zM398.7 315.0h0.7v0.7h-0.7zM392.1 318.4h0.7v0.7h-0.7zM393.1 319.8h0.7v0.7h-0.7zM394.3 322.8h0.7v0.7h-0.7zM397.8 312.9h0.7v0.7h-0.7zM386.3 314.5h0.7v0.7h-0.7zM405.3 315.2h0.7v0.7h-0.7zM399.5 311.9h0.7v0.7h-0.7zM396.8 312.9h0.7v0.7h-0.7zM389.9 316.1h0.7v0.7h-0.7zM383.7 322.9h0.7v0.7h-0.7zM385.5 314.6h0.7v0.7h-0.7zM404.8 318.8h0.7v0.7h-0.7zM376.5 317.3h0.7v0.7h-0.7zM400.5 313.1h0.7v0.7h-0.7zM393.2 313.9h0.7v0.7h-0.7zM388.1 321.2h0.7v0.7h-0.7zM400.0 313.7h0.7v0.7h-0.7zM384.8 318.3h0.7v0.7h-0.7zM394.9 315.2h0.7v0.7h-0.7zM395.0 312.3h0.7v0.7h-0.7zM388.2 314.0h0.7v0.7h-0.7zM401.8 316.1h0.7v0.7h-0.7zM386.4 314.0h0.7v0.7h-0.7zM400.8 317.2h0.7v0.7h-0.7zM389.7 315.1h0.7v0.7h-0.7zM398.5 315.3h0.7v0.7h-0.7zM391.7 314.2h0.7v0.7h-0.7zM376.7 317.9h0.7v0.7h-0.7zM392.3 318.6h0.7v0.7h-0.7zM414.7 315.2h0.7v0.7h-0.7zM397.4 315.1h0.7v0.7h-0.7zM388.3 313.8h0.7v0.7h-0.7zM390.8 316.3h0.7v0.7h-0.7zM405.3 317.2h0.7v0.7h-0.7zM389.5 319.0h0.7v0.7h-0.7zM387.1 318.2h0.7v0.7h-0.7zM394.9 314.6h0.7v0.7h-0.7zM396.5 319.5h0.7v0.7h-0.7zM397.8 310.6h0.7v0.7h-0.7zM381.2 315.8h0.7v0.7h-0.7zM391.2 311.9h0.7v0.7h-0.7zM398.4 317.5h0.7v0.7h-0.7zM401.5 316.9h0.7v0.7h-0.7zM405.1 314.2h0.7v0.7h-0.7zM390.5 318.0h0.7v0.7h-0.7zM395.8 311.6h0.7v0.7h-0.7zM387.8 317.8h0.7v0.7h-0.7zM394.0 313.9h0.7v0.7h-0.7zM391.2 315.6h0.7v0.7h-0.7zM391.7 317.4h0.7v0.7h-0.7zM397.7 313.8h0.7v0.7h-0.7zM409.1 317.0h0.7v0.7h-0.7zM392.3 321.6h0.7v0.7h-0.7zM393.3 312.6h0.7v0.7h-0.7zM384.1 314.3h0.7v0.7h-0.7zM388.9 310.9h0.7v0.7h-0.7zM390.4 313.5h0.7v0.7h-0.7zM401.9 317.4h0.7v0.7h-0.7zM387.3 319.1h0.7v0.7h-0.7zM391.8 310.2h0.7v0.7h-0.7zM392.9 320.3h0.7v0.7h-0.7zM393.6 314.2h0.7v0.7h-0.7zM393.6 314.3h0.7v0.7h-0.7zM397.2 316.9h0.7v0.7h-0.7zM390.9 318.5h0.7v0.7h-0.7zM404.8 317.1h0.7v0.7h-0.7zM402.1 318.5h0.7v0.7h-0.7zM392.0 316.3h0.7v0.7h-0.7zM403.5 317.3h0.7v0.7h-0.7zM400.0 311.5h0.7v0.7h-0.7zM398.6 311.0h0.7v0.7h-0.7zM406.9 317.1h0.7v0.7h-0.7zM399.5 314.2h0.7v0.7h-0.7zM392.9 313.0h0.7v0.7h-0.7zM386.8 316.8h0.7v0.7h-0.7zM391.0 315.3h0.7v0.7h-0.7zM392.2 320.2h0.7v0.7h-0.7zM400.3 321.7h0.7v0.7h-0.7zM391.8 314.5h0.7v0.7h-0.7zM395.1 318.4h0.7v0.7h-0.7zM383.8 318.1h0.7v0.7h-0.7zM391.5 317.6h0.7v0.7h-0.7zM395.7 315.4h0.7v0.7h-0.7zM388.1 315.4h0.7v0.7h-0.7zM401.1 311.1h0.7v0.7h-0.7zM394.6 315.8h0.7v0.7h-0.7zM392.1 316.8h0.7v0.7h-0.7zM396.4 316.2h0.7v0.7h-0.7zM402.5 315.3h0.7v0.7h-0.7z" fill="#666" fill-opacity="0.4"/>
<path d="M363 309.5 C371 307.5 382 308 386.5 311.5 C390 315.5 390 322 386 325.5 C378 327.5 369 327.5 363 326 Z" fill="#444" filter="url(#b15)" opacity="0.55"/>
<path d="M363 309.5 C371 307.5 382 308 386.5 311.5 C390 315.5 390 322 386 325.5 C378 327.5 369 327.5 363 326 Z" fill="#7e7e7e" stroke="#262626" stroke-width="2.3" filter="url(#b05)"/>
<path d="M386.2 323.3h0.8v0.8h-0.8zM366.5 324.4h0.8v0.8h-0.8zM375.2 308.7h0.8v0.8h-0.8zM366.9 310.0h0.8v0.8h-0.8zM389.0 321.3h0.8v0.8h-0.8zM386.1 322.6h0.8v0.8h-0.8zM361.8 315.6h0.8v0.8h-0.8zM388.8 318.4h0.8v0.8h-0.8zM366.5 310.9h0.8v0.8h-0.8zM381.3 309.9h0.8v0.8h-0.8zM385.7 311.8h0.8v0.8h-0.8zM377.3 308.0h0.8v0.8h-0.8zM388.7 320.3h0.8v0.8h-0.8zM378.4 327.0h0.8v0.8h-0.8zM365.8 323.2h0.8v0.8h-0.8zM386.2 314.8h0.8v0.8h-0.8zM377.9 308.0h0.8v0.8h-0.8zM362.2 316.6h0.8v0.8h-0.8zM381.8 326.1h0.8v0.8h-0.8zM362.4 312.4h0.8v0.8h-0.8zM369.0 326.3h0.8v0.8h-0.8zM368.0 323.4h0.8v0.8h-0.8zM388.2 315.6h0.8v0.8h-0.8zM369.5 325.4h0.8v0.8h-0.8zM361.1 320.0h0.8v0.8h-0.8zM366.7 323.8h0.8v0.8h-0.8zM379.2 326.1h0.8v0.8h-0.8zM389.7 319.3h0.8v0.8h-0.8zM374.4 325.5h0.8v0.8h-0.8zM378.6 326.0h0.8v0.8h-0.8zM378.1 325.6h0.8v0.8h-0.8zM380.6 325.2h0.8v0.8h-0.8zM369.4 309.1h0.8v0.8h-0.8zM364.7 322.9h0.8v0.8h-0.8zM366.0 323.8h0.8v0.8h-0.8zM388.6 319.1h0.8v0.8h-0.8zM388.3 319.0h0.8v0.8h-0.8zM388.7 316.3h0.8v0.8h-0.8zM386.1 311.4h0.8v0.8h-0.8zM384.4 311.4h0.8v0.8h-0.8zM362.1 319.0h0.8v0.8h-0.8zM382.1 309.9h0.8v0.8h-0.8zM367.0 309.7h0.8v0.8h-0.8zM384.2 325.4h0.8v0.8h-0.8zM362.9 313.3h0.8v0.8h-0.8zM362.4 313.4h0.8v0.8h-0.8zM373.7 326.3h0.8v0.8h-0.8zM365.3 311.8h0.8v0.8h-0.8zM364.2 312.3h0.8v0.8h-0.8zM382.5 325.1h0.8v0.8h-0.8zM386.0 323.8h0.8v0.8h-0.8zM367.1 310.5h0.8v0.8h-0.8zM376.5 309.1h0.8v0.8h-0.8zM368.9 310.3h0.8v0.8h-0.8zM363.3 313.2h0.8v0.8h-0.8zM365.8 309.1h0.8v0.8h-0.8zM362.0 316.4h0.8v0.8h-0.8zM366.3 322.8h0.8v0.8h-0.8zM385.6 323.8h0.8v0.8h-0.8zM362.8 316.2h0.8v0.8h-0.8zM387.7 317.2h0.8v0.8h-0.8zM372.3 306.9h0.8v0.8h-0.8zM386.0 325.4h0.8v0.8h-0.8zM366.9 310.4h0.8v0.8h-0.8zM380.3 326.1h0.8v0.8h-0.8zM365.8 311.4h0.8v0.8h-0.8zM389.3 315.2h0.8v0.8h-0.8zM388.6 313.8h0.8v0.8h-0.8zM361.3 319.5h0.8v0.8h-0.8zM386.9 320.9h0.8v0.8h-0.8zM369.4 325.5h0.8v0.8h-0.8zM365.8 324.6h0.8v0.8h-0.8zM362.3 319.9h0.8v0.8h-0.8zM369.7 324.8h0.8v0.8h-0.8zM384.4 310.6h0.8v0.8h-0.8zM365.4 310.5h0.8v0.8h-0.8zM386.9 316.4h0.8v0.8h-0.8zM360.7 318.8h0.8v0.8h-0.8zM373.7 326.5h0.8v0.8h-0.8zM372.1 307.6h0.8v0.8h-0.8zM361.4 315.6h0.8v0.8h-0.8zM379.4 308.4h0.8v0.8h-0.8zM382.8 325.2h0.8v0.8h-0.8zM362.2 318.4h0.8v0.8h-0.8zM388.2 316.1h0.8v0.8h-0.8zM386.3 323.1h0.8v0.8h-0.8zM380.1 326.4h0.8v0.8h-0.8zM376.1 325.7h0.8v0.8h-0.8zM365.0 312.4h0.8v0.8h-0.8zM374.6 309.8h0.8v0.8h-0.8zM364.0 315.1h0.8v0.8h-0.8zM370.6 325.5h0.8v0.8h-0.8zM388.2 313.7h0.8v0.8h-0.8zM386.4 322.9h0.8v0.8h-0.8zM370.6 326.1h0.8v0.8h-0.8zM372.1 326.1h0.8v0.8h-0.8zM374.5 325.9h0.8v0.8h-0.8zM383.9 325.3h0.8v0.8h-0.8zM389.2 315.4h0.8v0.8h-0.8zM387.5 315.4h0.8v0.8h-0.8zM365.3 311.8h0.8v0.8h-0.8zM386.4 311.8h0.8v0.8h-0.8zM372.5 325.7h0.8v0.8h-0.8zM384.4 311.4h0.8v0.8h-0.8zM375.1 308.1h0.8v0.8h-0.8zM379.1 308.6h0.8v0.8h-0.8zM371.0 308.2h0.8v0.8h-0.8zM388.7 318.1h0.8v0.8h-0.8zM374.2 308.0h0.8v0.8h-0.8zM364.6 323.5h0.8v0.8h-0.8zM364.3 310.5h0.8v0.8h-0.8zM376.3 326.2h0.8v0.8h-0.8zM386.1 311.9h0.8v0.8h-0.8zM387.1 314.1h0.8v0.8h-0.8zM373.3 308.0h0.8v0.8h-0.8zM387.8 312.8h0.8v0.8h-0.8zM365.3 310.0h0.8v0.8h-0.8zM364.3 322.4h0.8v0.8h-0.8zM387.4 312.1h0.8v0.8h-0.8zM385.2 310.9h0.8v0.8h-0.8zM381.7 326.9h0.8v0.8h-0.8zM363.1 313.8h0.8v0.8h-0.8zM388.1 320.5h0.8v0.8h-0.8zM389.8 318.0h0.8v0.8h-0.8zM385.1 323.9h0.8v0.8h-0.8zM383.4 310.6h0.8v0.8h-0.8zM380.4 324.9h0.8v0.8h-0.8zM388.2 321.4h0.8v0.8h-0.8zM388.1 312.3h0.8v0.8h-0.8zM386.8 322.7h0.8v0.8h-0.8zM361.1 318.2h0.8v0.8h-0.8zM363.9 321.8h0.8v0.8h-0.8zM361.4 316.2h0.8v0.8h-0.8zM386.7 323.6h0.8v0.8h-0.8zM362.5 318.8h0.8v0.8h-0.8zM384.5 323.2h0.8v0.8h-0.8zM366.1 323.9h0.8v0.8h-0.8zM372.3 308.5h0.8v0.8h-0.8zM384.0 325.2h0.8v0.8h-0.8zM387.3 317.5h0.8v0.8h-0.8zM366.6 309.4h0.8v0.8h-0.8zM384.3 310.0h0.8v0.8h-0.8zM383.0 325.0h0.8v0.8h-0.8zM386.8 321.2h0.8v0.8h-0.8zM381.2 325.4h0.8v0.8h-0.8zM386.5 323.3h0.8v0.8h-0.8zM361.7 316.3h0.8v0.8h-0.8zM389.3 317.1h0.8v0.8h-0.8zM364.2 314.6h0.8v0.8h-0.8zM385.5 323.3h0.8v0.8h-0.8zM377.7 326.6h0.8v0.8h-0.8zM378.6 308.7h0.8v0.8h-0.8zM362.7 316.0h0.8v0.8h-0.8zM361.8 317.5h0.8v0.8h-0.8zM378.4 307.7h0.8v0.8h-0.8zM366.2 323.1h0.8v0.8h-0.8zM383.3 325.9h0.8v0.8h-0.8zM383.8 324.0h0.8v0.8h-0.8zM362.9 316.9h0.8v0.8h-0.8zM388.1 317.1h0.8v0.8h-0.8zM366.6 309.9h0.8v0.8h-0.8zM378.3 308.2h0.8v0.8h-0.8zM371.1 308.1h0.8v0.8h-0.8zM371.4 309.2h0.8v0.8h-0.8zM387.3 320.2h0.8v0.8h-0.8zM362.1 322.8h0.8v0.8h-0.8zM372.7 308.1h0.8v0.8h-0.8zM386.5 319.0h0.8v0.8h-0.8zM388.1 317.8h0.8v0.8h-0.8zM363.9 312.7h0.8v0.8h-0.8zM382.0 326.6h0.8v0.8h-0.8zM361.4 313.6h0.8v0.8h-0.8zM388.0 317.8h0.8v0.8h-0.8zM389.2 319.8h0.8v0.8h-0.8zM388.8 318.5h0.8v0.8h-0.8zM364.5 312.5h0.8v0.8h-0.8zM365.7 311.6h0.8v0.8h-0.8zM363.7 314.9h0.8v0.8h-0.8zM385.6 312.2h0.8v0.8h-0.8zM373.6 326.4h0.8v0.8h-0.8zM371.7 326.6h0.8v0.8h-0.8zM381.1 310.1h0.8v0.8h-0.8zM361.9 313.4h0.8v0.8h-0.8zM369.0 325.3h0.8v0.8h-0.8zM366.6 325.1h0.8v0.8h-0.8zM371.5 325.7h0.8v0.8h-0.8zM363.1 317.0h0.8v0.8h-0.8zM369.4 326.5h0.8v0.8h-0.8zM365.4 324.2h0.8v0.8h-0.8zM368.0 311.4h0.8v0.8h-0.8zM362.6 313.8h0.8v0.8h-0.8zM363.5 317.2h0.8v0.8h-0.8zM389.3 318.9h0.8v0.8h-0.8zM362.2 314.1h0.8v0.8h-0.8zM364.6 323.0h0.8v0.8h-0.8zM374.7 326.5h0.8v0.8h-0.8zM378.7 308.7h0.8v0.8h-0.8zM371.1 308.8h0.8v0.8h-0.8zM386.6 313.2h0.8v0.8h-0.8zM387.5 322.3h0.8v0.8h-0.8z" fill="#222" fill-opacity="0.4"/>
<ellipse cx="375.50" cy="317.50" rx="8.50" ry="4.80" fill="#6a6a6a" filter="url(#b06)"/>
<ellipse cx="377.00" cy="316.80" rx="3.00" ry="1.30" fill="#3a3a3a" filter="url(#b05)"/>
<ellipse cx="404.30" cy="318.00" rx="9.80" ry="3.40" transform="rotate(-42 404.30 318.00)" fill="#3a3a3a" filter="url(#b06)"/>
<ellipse cx="404.30" cy="318.00" rx="5.50" ry="1.40" transform="rotate(-42 404.30 318.00)" fill="#6a6a6a" filter="url(#b05)"/>
<path d="M398.5 318.0h0.7v0.7h-0.7zM408.6 319.5h0.7v0.7h-0.7zM409.7 312.6h0.7v0.7h-0.7zM399.6 320.7h0.7v0.7h-0.7zM412.6 312.8h0.7v0.7h-0.7zM400.2 322.5h0.7v0.7h-0.7zM412.5 310.9h0.7v0.7h-0.7zM404.3 316.4h0.7v0.7h-0.7zM396.9 327.4h0.7v0.7h-0.7zM409.0 316.1h0.7v0.7h-0.7zM411.1 311.7h0.7v0.7h-0.7zM403.0 320.6h0.7v0.7h-0.7zM395.1 320.5h0.7v0.7h-0.7zM401.6 318.6h0.7v0.7h-0.7zM399.9 322.3h0.7v0.7h-0.7zM407.3 313.4h0.7v0.7h-0.7zM391.3 324.7h0.7v0.7h-0.7zM399.3 321.9h0.7v0.7h-0.7zM405.1 318.8h0.7v0.7h-0.7zM413.8 306.6h0.7v0.7h-0.7zM409.6 312.7h0.7v0.7h-0.7zM404.9 316.6h0.7v0.7h-0.7zM411.5 314.2h0.7v0.7h-0.7zM415.6 314.2h0.7v0.7h-0.7zM397.5 324.0h0.7v0.7h-0.7zM411.1 315.2h0.7v0.7h-0.7zM406.8 314.0h0.7v0.7h-0.7zM414.4 306.4h0.7v0.7h-0.7zM409.4 312.4h0.7v0.7h-0.7zM404.9 320.5h0.7v0.7h-0.7zM401.8 322.9h0.7v0.7h-0.7zM404.0 315.5h0.7v0.7h-0.7zM405.0 318.4h0.7v0.7h-0.7zM410.2 316.3h0.7v0.7h-0.7zM396.5 323.0h0.7v0.7h-0.7zM398.8 318.9h0.7v0.7h-0.7zM414.5 307.7h0.7v0.7h-0.7zM402.6 318.5h0.7v0.7h-0.7zM401.4 323.5h0.7v0.7h-0.7zM404.5 316.0h0.7v0.7h-0.7zM403.6 320.0h0.7v0.7h-0.7zM407.6 317.8h0.7v0.7h-0.7zM410.6 311.0h0.7v0.7h-0.7zM398.8 321.7h0.7v0.7h-0.7zM404.4 316.2h0.7v0.7h-0.7zM404.4 314.4h0.7v0.7h-0.7zM404.9 318.6h0.7v0.7h-0.7zM401.3 323.1h0.7v0.7h-0.7zM408.6 305.1h0.7v0.7h-0.7zM400.1 321.3h0.7v0.7h-0.7zM407.0 312.6h0.7v0.7h-0.7zM407.5 319.5h0.7v0.7h-0.7zM405.2 315.6h0.7v0.7h-0.7zM401.8 321.1h0.7v0.7h-0.7zM407.4 316.4h0.7v0.7h-0.7zM401.3 314.3h0.7v0.7h-0.7zM399.6 321.3h0.7v0.7h-0.7zM406.1 318.0h0.7v0.7h-0.7zM402.1 322.1h0.7v0.7h-0.7zM413.3 311.4h0.7v0.7h-0.7zM407.9 313.6h0.7v0.7h-0.7zM399.9 323.5h0.7v0.7h-0.7zM407.9 317.9h0.7v0.7h-0.7zM401.0 317.9h0.7v0.7h-0.7zM399.3 323.2h0.7v0.7h-0.7zM395.8 329.5h0.7v0.7h-0.7zM401.9 320.1h0.7v0.7h-0.7zM404.9 322.0h0.7v0.7h-0.7zM398.2 325.5h0.7v0.7h-0.7zM408.0 318.1h0.7v0.7h-0.7zM407.0 312.3h0.7v0.7h-0.7zM392.3 322.2h0.7v0.7h-0.7zM403.0 320.5h0.7v0.7h-0.7zM404.1 316.8h0.7v0.7h-0.7zM404.4 313.5h0.7v0.7h-0.7zM412.7 314.7h0.7v0.7h-0.7zM411.3 313.6h0.7v0.7h-0.7zM410.9 307.6h0.7v0.7h-0.7zM398.4 323.2h0.7v0.7h-0.7zM403.4 317.6h0.7v0.7h-0.7zM406.1 315.2h0.7v0.7h-0.7zM412.6 310.6h0.7v0.7h-0.7zM390.7 328.7h0.7v0.7h-0.7zM397.9 319.2h0.7v0.7h-0.7zM407.4 312.0h0.7v0.7h-0.7zM393.4 326.4h0.7v0.7h-0.7zM413.6 309.6h0.7v0.7h-0.7zM414.9 310.3h0.7v0.7h-0.7zM414.7 310.5h0.7v0.7h-0.7zM402.7 310.3h0.7v0.7h-0.7zM394.4 322.5h0.7v0.7h-0.7zM403.6 321.3h0.7v0.7h-0.7zM408.5 315.7h0.7v0.7h-0.7zM391.9 325.8h0.7v0.7h-0.7zM403.3 320.1h0.7v0.7h-0.7zM403.0 316.1h0.7v0.7h-0.7zM397.2 327.0h0.7v0.7h-0.7zM397.9 322.9h0.7v0.7h-0.7zM404.3 319.1h0.7v0.7h-0.7zM397.7 320.0h0.7v0.7h-0.7zM401.2 317.8h0.7v0.7h-0.7zM402.0 315.1h0.7v0.7h-0.7zM399.5 318.1h0.7v0.7h-0.7zM412.3 305.0h0.7v0.7h-0.7zM400.3 320.3h0.7v0.7h-0.7zM398.6 318.9h0.7v0.7h-0.7zM398.2 322.6h0.7v0.7h-0.7zM413.5 313.4h0.7v0.7h-0.7zM412.7 308.7h0.7v0.7h-0.7zM407.1 319.4h0.7v0.7h-0.7zM407.7 315.7h0.7v0.7h-0.7zM406.3 318.8h0.7v0.7h-0.7zM402.2 321.0h0.7v0.7h-0.7zM401.4 323.0h0.7v0.7h-0.7zM407.5 315.2h0.7v0.7h-0.7zM397.2 324.1h0.7v0.7h-0.7zM412.2 309.3h0.7v0.7h-0.7zM403.4 313.5h0.7v0.7h-0.7zM398.5 323.1h0.7v0.7h-0.7zM410.2 315.1h0.7v0.7h-0.7z" fill="#222" fill-opacity="0.5"/>
<ellipse cx="404.60" cy="318.00" rx="10.80" ry="4.60" transform="rotate(-42 404.60 318.00)" fill="none" stroke="#444" stroke-width="0.55"/>
</g>
<ellipse cx="404.60" cy="318.00" rx="12.80" ry="6.30" transform="rotate(-42 404.60 318.00)" fill="none" stroke="#444" stroke-width="0.65"/>
<path d="M360.9 297.1h2.4M360.9 310.6h2.4M360.9 322.2h2.4M360.9 335.6h2.4M360.9 341.2h2.4M362.0 294.1h1.3M362.0 296.7h1.3M362.0 299.3h1.3M362.0 301.9h1.3M362.0 304.5h1.3M362.0 307.1h1.3M362.0 309.7h1.3M362.0 312.3h1.3M362.0 314.9h1.3M362.0 317.5h1.3M362.0 320.1h1.3M362.0 322.7h1.3M362.0 325.3h1.3M362.0 327.9h1.3M362.0 330.5h1.3M362.0 333.1h1.3M362.0 335.7h1.3M362.0 338.3h1.3M362.0 340.9h1.3M362.0 343.5h1.3M362.0 346.1h1.3M371.4 348.0v2.4M388.0 348.0v2.4M401.6 348.0v2.4M414.6 348.0v2.4M365.8 348.0v1.3M368.4 348.0v1.3M371.0 348.0v1.3M373.6 348.0v1.3M376.2 348.0v1.3M378.8 348.0v1.3M381.4 348.0v1.3M384.0 348.0v1.3M386.6 348.0v1.3M389.2 348.0v1.3M391.8 348.0v1.3M394.4 348.0v1.3M397.0 348.0v1.3M399.6 348.0v1.3M402.2 348.0v1.3M404.8 348.0v1.3M407.4 348.0v1.3M410.0 348.0v1.3M412.6 348.0v1.3M415.2 348.0v1.3M417.8 348.0v1.3" stroke="#1a1a1a" stroke-width="0.8" fill="none"/>
<path d="M363.3 291.6 H421.0 V348.0" fill="none" stroke="#111" stroke-width="1.25"/>
<path d="M363.3 291.6 V348.0 H421.0" fill="none" stroke="#111" stroke-width="1.6"/>
<text transform="matrix(1.0364,0,0,1,349.99,299.17)" font-size="5.915" fill="#222" stroke="#222" stroke-width="0.16">10</text>
<text transform="matrix(0.9825,0,0,1,357.05,296.44)" font-size="3.857" fill="#222" stroke="#222" stroke-width="0.16">5</text>
<text transform="matrix(1.0364,0,0,1,349.99,312.65)" font-size="5.915" fill="#222" stroke="#222" stroke-width="0.16">10</text>
<text transform="matrix(0.9200,0,0,1,357.11,309.96)" font-size="3.913" fill="#222" stroke="#222" stroke-width="0.16">4</text>
<text transform="matrix(1.0364,0,0,1,349.99,324.27)" font-size="5.915" fill="#222" stroke="#222" stroke-width="0.16">10</text>
<text transform="matrix(1.0071,0,0,1,357.05,321.54)" font-size="3.803" fill="#222" stroke="#222" stroke-width="0.16">3</text>
<text transform="matrix(1.0364,0,0,1,349.99,337.63)" font-size="5.915" fill="#222" stroke="#222" stroke-width="0.16">10</text>
<text transform="matrix(1.0256,0,0,1,357.00,334.94)" font-size="3.857" fill="#222" stroke="#222" stroke-width="0.16">2</text>
<text transform="matrix(1.0321,0,0,1,353.51,343.27)" font-size="5.915" fill="#222" stroke="#222" stroke-width="0.16">0</text>
<text transform="matrix(1.0321,0,0,1,369.68,359.34)" font-size="5.915" fill="#222" stroke="#222" stroke-width="0.16">0</text>
<text transform="matrix(1.0364,0,0,1,384.52,359.34)" font-size="5.915" fill="#222" stroke="#222" stroke-width="0.16">10</text>
<text transform="matrix(1.0071,0,0,1,391.57,356.61)" font-size="3.803" fill="#222" stroke="#222" stroke-width="0.16">3</text>
<text transform="matrix(1.0364,0,0,1,398.08,359.34)" font-size="5.915" fill="#222" stroke="#222" stroke-width="0.16">10</text>
<text transform="matrix(0.9200,0,0,1,405.20,356.65)" font-size="3.913" fill="#222" stroke="#222" stroke-width="0.16">4</text>
<text transform="matrix(1.0364,0,0,1,411.06,359.34)" font-size="5.915" fill="#222" stroke="#222" stroke-width="0.16">10</text>
<text transform="matrix(0.9825,0,0,1,418.12,356.61)" font-size="3.857" fill="#222" stroke="#222" stroke-width="0.16">5</text>
<text transform="matrix(1.0012,0,0,1,389.89,301.39)" font-size="6.479" fill="#222" stroke="#222" stroke-width="0.16">4.82%</text>
</svg></body></html>
